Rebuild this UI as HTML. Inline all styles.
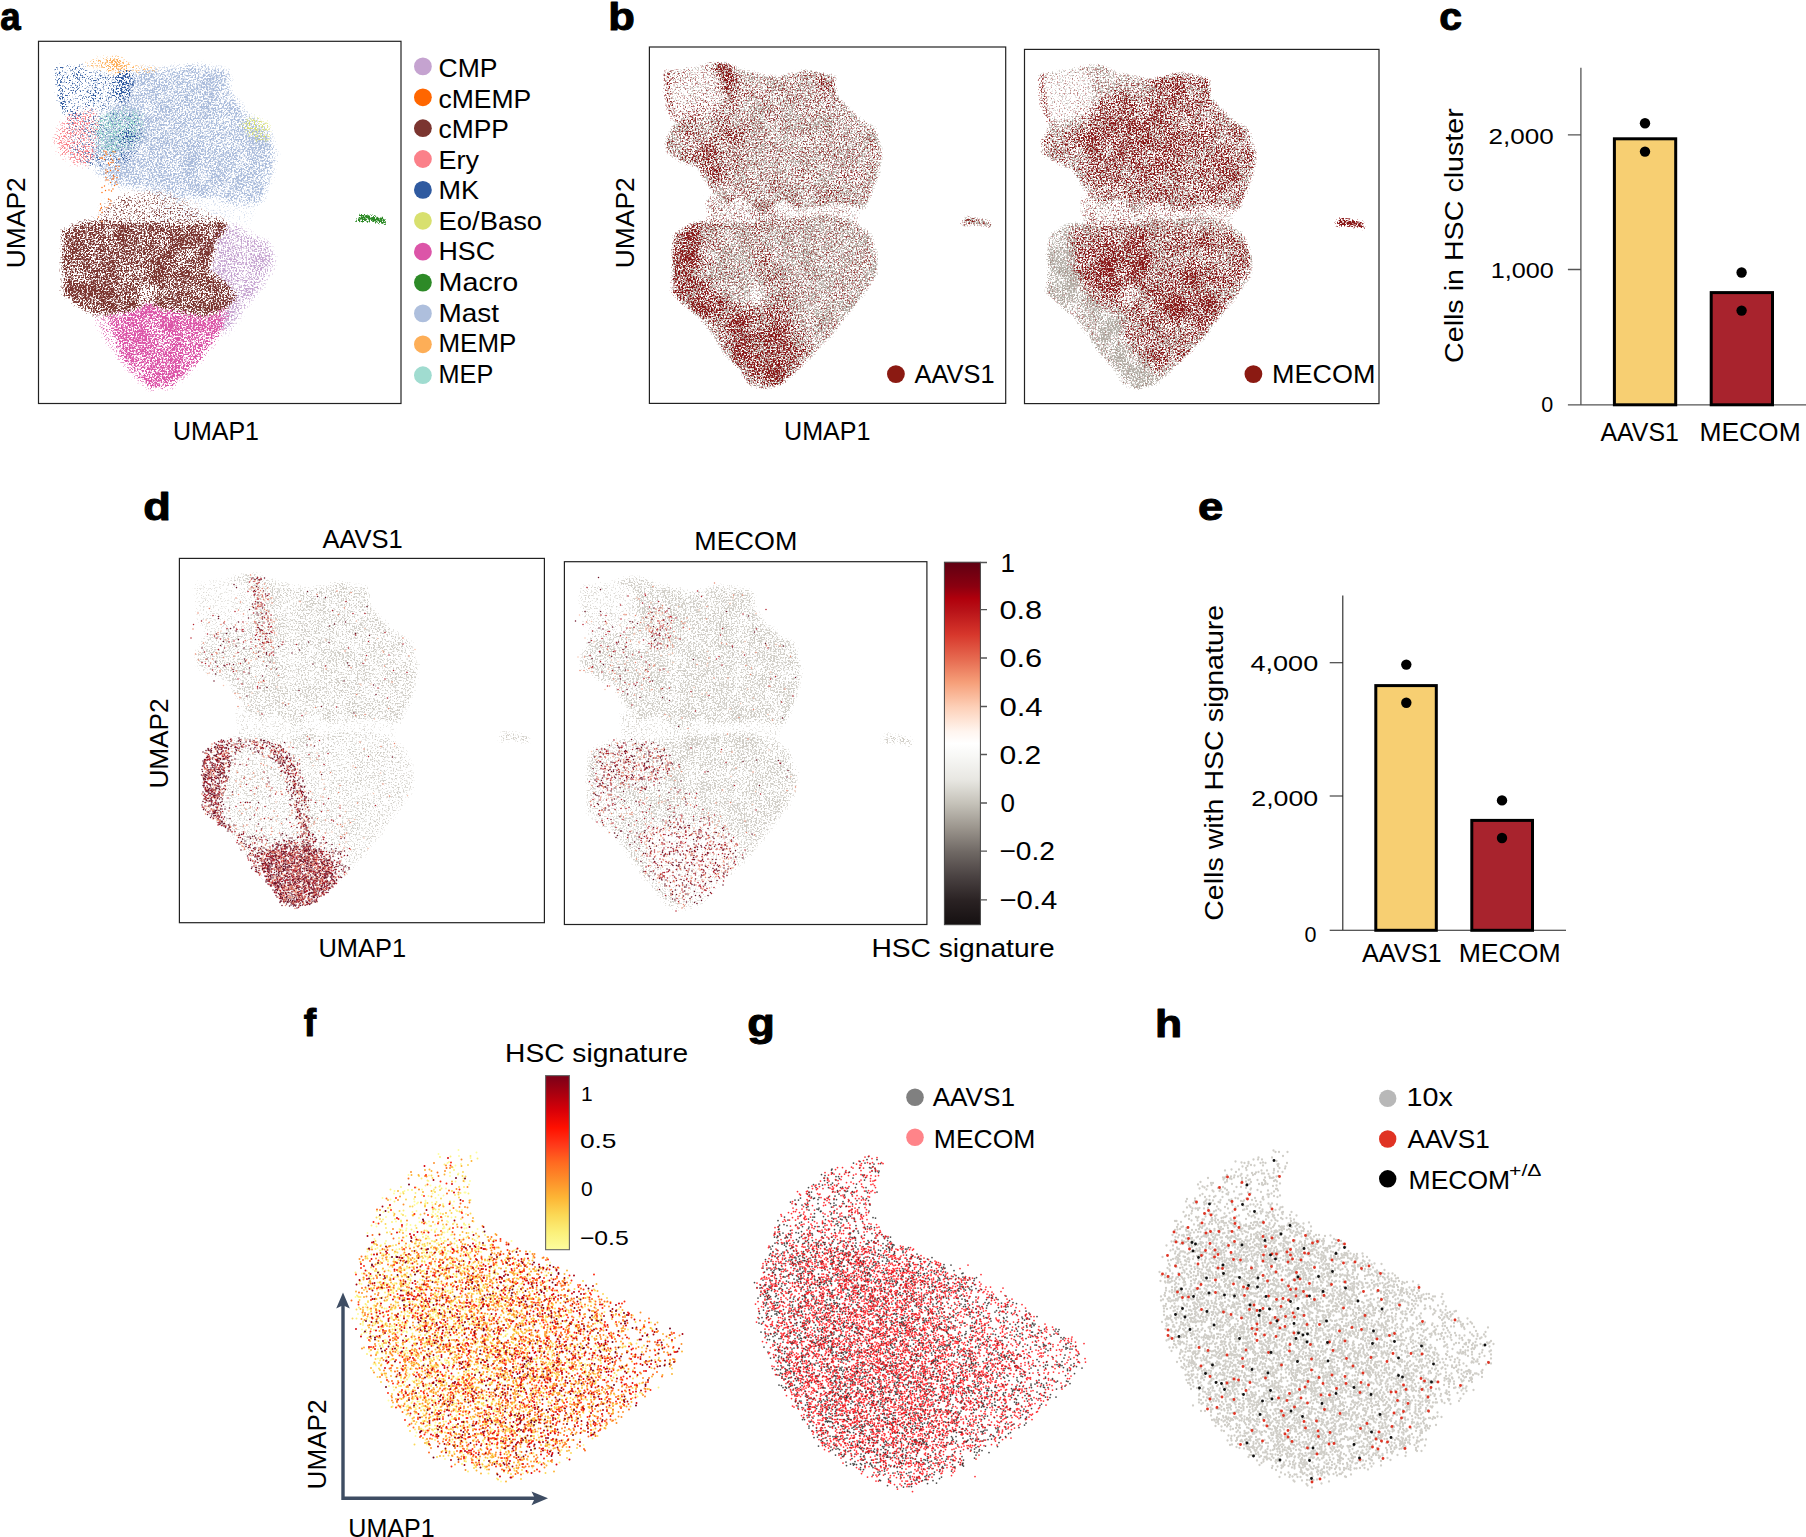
<!DOCTYPE html>
<html><head><meta charset="utf-8"><title>Figure</title>
<style>html,body{margin:0;padding:0;background:#fff}svg{display:block}text{font-family:"Liberation Sans",sans-serif;fill:#000}</style>
</head><body>
<svg width="1806" height="1537" viewBox="0 0 1806 1537">
<defs>
<linearGradient id="cb1" x1="0" y1="0" x2="0" y2="1"><stop offset="0.000" stop-color="#5f0012"/><stop offset="0.067" stop-color="#8b0010"/><stop offset="0.100" stop-color="#b0000c"/><stop offset="0.133" stop-color="#b81218"/><stop offset="0.200" stop-color="#d7372c"/><stop offset="0.267" stop-color="#e66a50"/><stop offset="0.333" stop-color="#f6a07a"/><stop offset="0.400" stop-color="#fdd0b8"/><stop offset="0.467" stop-color="#fff5ef"/><stop offset="0.500" stop-color="#ffffff"/><stop offset="0.533" stop-color="#f8f8f6"/><stop offset="0.600" stop-color="#e8e7e2"/><stop offset="0.667" stop-color="#c4c1b8"/><stop offset="0.733" stop-color="#9b958d"/><stop offset="0.800" stop-color="#6f6864"/><stop offset="0.867" stop-color="#4a4242"/><stop offset="0.933" stop-color="#2a2223"/><stop offset="1.000" stop-color="#151011"/></linearGradient>
<linearGradient id="cb2" x1="0" y1="0" x2="0" y2="1"><stop offset="0.000" stop-color="#7a0018"/><stop offset="0.100" stop-color="#a8000f"/><stop offset="0.200" stop-color="#d80008"/><stop offset="0.300" stop-color="#ff1000"/><stop offset="0.400" stop-color="#ff3a1a"/><stop offset="0.500" stop-color="#ff6a20"/><stop offset="0.600" stop-color="#fd8f2a"/><stop offset="0.700" stop-color="#fdb535"/><stop offset="0.800" stop-color="#fbd855"/><stop offset="0.900" stop-color="#fbf07a"/><stop offset="1.000" stop-color="#fdfd9e"/></linearGradient>
<filter id="bl2" x="-60%" y="-60%" width="220%" height="220%"><feGaussianBlur stdDeviation="2"/></filter><filter id="bl3" x="-60%" y="-60%" width="220%" height="220%"><feGaussianBlur stdDeviation="3"/></filter><filter id="bl4" x="-60%" y="-60%" width="220%" height="220%"><feGaussianBlur stdDeviation="4"/></filter><filter id="bl5" x="-60%" y="-60%" width="220%" height="220%"><feGaussianBlur stdDeviation="5"/></filter><filter id="bl6" x="-60%" y="-60%" width="220%" height="220%"><feGaussianBlur stdDeviation="6"/></filter><filter id="bl7" x="-60%" y="-60%" width="220%" height="220%"><feGaussianBlur stdDeviation="7"/></filter><filter id="bl8" x="-60%" y="-60%" width="220%" height="220%"><feGaussianBlur stdDeviation="8"/></filter>
<clipPath id="cl_a"><path d="M53.8 66.4L87.5 62.0L102.2 57.6L116.8 57.6L128.5 63.4L146.1 67.8L168.1 72.2L197.4 64.9L226.7 70.8L228.1 89.8L241.3 104.4L254.5 116.1L267.7 123.4L275.0 149.8L270.6 173.2L261.8 195.1L257.4 205.4L234.0 199.5L212.0 202.4L190.1 206.8L175.4 196.6L153.4 209.8L131.5 195.1L116.8 199.5L105.1 192.2L93.4 174.6L87.5 162.9L72.9 158.6L56.8 148.3L55.3 136.6L62.6 122.0L65.6 116.1L58.2 104.4L55.3 92.7L54.6 78.1Z"/><path d="M64.1 231.9L80.2 221.7L90.5 218.7L116.8 221.7L146.1 220.9L175.4 215.8L219.4 212.2L245.7 218.7L263.3 231.9L270.6 255.3L269.2 272.9L257.4 290.4L241.3 310.9L222.3 335.8L204.7 353.3L190.1 368.0L172.5 384.1L153.4 388.5L140.3 384.1L131.5 369.4L116.8 354.8L105.1 335.8L90.5 316.8L72.9 302.1L61.2 290.4L62.6 269.9L61.9 248.0Z"/><path d="M97.8 218.7L94.8 190.9L160.8 202.6L176.9 217.1L160.8 228.8L99.2 224.4Z"/><path d="M157.8 190.9L257.4 193.9L248.6 226.1L219.4 218.7L157.8 221.7Z"/><path d="M355.8 222.1L360.5 214.4L372.1 216.3L383.7 218.1L386.5 224.4L376.7 222.3L365.1 220.9Z"/></clipPath><clipPath id="cl_b1"><path d="M664.5 71.7L697.6 67.4L712.0 63.0L726.4 63.0L737.9 68.8L755.2 73.1L776.8 77.4L805.6 70.2L834.4 76.0L835.8 94.7L848.8 109.1L861.7 120.6L874.7 127.8L881.9 153.7L877.5 176.8L868.9 198.4L864.6 208.4L841.6 202.7L820.0 205.6L798.4 209.9L784.0 199.8L762.4 212.8L740.8 198.4L726.4 202.7L714.9 195.5L703.3 178.2L697.6 166.7L683.2 162.4L667.4 152.3L665.9 140.8L673.1 126.4L676.0 120.6L668.8 109.1L665.9 97.6L665.2 83.2Z"/><path d="M674.6 234.6L690.4 224.5L700.5 221.6L726.4 224.5L755.2 223.8L784.0 218.7L827.2 215.1L853.1 221.6L870.3 234.6L877.5 257.6L876.1 274.9L864.6 292.1L848.8 312.3L830.0 336.8L812.8 354.0L798.4 368.4L781.1 384.3L762.4 388.6L749.4 384.3L740.8 369.9L726.4 355.5L714.9 336.8L700.5 318.1L683.2 303.7L671.7 292.1L673.1 272.0L672.4 250.4Z"/><path d="M707.7 221.6L704.8 194.2L769.6 205.8L785.4 220.0L769.6 231.5L709.1 227.2Z"/><path d="M766.7 194.2L864.6 197.1L856.0 228.8L827.2 221.6L766.7 224.5Z"/><path d="M961.3 224.9L965.9 217.3L977.3 219.2L988.7 221.0L991.5 227.2L981.9 225.1L970.4 223.8Z"/></clipPath><clipPath id="cl_b2"><path d="M1039.5 73.9L1072.4 69.6L1086.8 65.3L1101.1 65.3L1112.6 71.1L1129.7 75.4L1151.2 79.6L1179.9 72.5L1208.5 78.2L1210.0 96.8L1222.8 111.1L1235.7 122.6L1248.6 129.7L1255.8 155.5L1251.5 178.4L1242.9 199.8L1238.6 209.8L1215.7 204.1L1194.2 207.0L1172.7 211.3L1158.4 201.3L1136.9 214.1L1115.4 199.8L1101.1 204.1L1089.6 197.0L1078.2 179.8L1072.4 168.4L1058.1 164.1L1042.4 154.0L1040.9 142.6L1048.1 128.3L1051.0 122.6L1043.8 111.1L1040.9 99.7L1040.2 85.4Z"/><path d="M1049.5 235.8L1065.3 225.8L1075.3 222.9L1101.1 225.8L1129.7 225.1L1158.4 220.1L1201.4 216.5L1227.1 222.9L1244.3 235.8L1251.5 258.7L1250.1 275.9L1238.6 293.0L1222.8 313.1L1204.2 337.4L1187.0 354.6L1172.7 368.9L1155.5 384.6L1136.9 388.9L1124.0 384.6L1115.4 370.3L1101.1 356.0L1089.6 337.4L1075.3 318.8L1058.1 304.5L1046.7 293.0L1048.1 273.0L1047.4 251.5Z"/><path d="M1082.5 222.9L1079.6 195.7L1144.1 207.2L1159.8 221.3L1144.1 232.8L1083.9 228.5Z"/><path d="M1141.2 195.7L1238.6 198.6L1230.0 230.1L1201.4 222.9L1141.2 225.8Z"/><path d="M1334.8 226.2L1339.4 218.7L1350.7 220.5L1362.1 222.3L1364.8 228.5L1355.3 226.4L1343.9 225.1Z"/></clipPath><clipPath id="cl_d1"><path d="M194.8 583.6L228.8 579.2L243.5 574.8L258.3 574.8L270.1 580.7L287.8 585.1L309.9 589.5L339.4 582.1L368.9 588.0L370.3 607.2L383.6 621.9L396.9 633.7L410.2 641.0L417.5 667.5L413.1 691.0L404.3 713.1L399.8 723.4L376.2 717.5L354.1 720.5L332.0 724.9L317.3 714.6L295.1 727.8L273.0 713.1L258.3 717.5L246.5 710.2L234.7 692.5L228.8 680.7L214.0 676.3L197.8 666.0L196.3 654.3L203.7 639.5L206.6 633.7L199.3 621.9L196.3 610.1L195.6 595.4Z"/><path d="M205.2 750.1L221.4 739.8L231.7 736.9L258.3 739.8L287.8 739.1L317.3 733.9L361.5 730.2L388.0 736.9L405.7 750.1L413.1 773.7L411.6 791.3L399.8 809.0L383.6 829.6L364.4 854.6L346.8 872.3L332.0 887.0L314.3 903.2L295.1 907.6L281.9 903.2L273.0 888.4L258.3 873.7L246.5 854.6L231.7 835.5L214.0 820.7L202.2 809.0L203.7 788.4L203.0 766.3Z"/><path d="M239.1 736.9L236.1 708.9L302.5 720.7L318.7 735.2L302.5 747.0L240.6 742.6Z"/><path d="M299.6 708.9L399.8 711.8L391.0 744.2L361.5 736.9L299.6 739.8Z"/><path d="M498.9 740.2L503.6 732.5L515.3 734.4L527.0 736.3L529.8 742.6L520.0 740.5L508.3 739.1Z"/></clipPath><clipPath id="cl_d2"><path d="M579.7 586.8L613.4 582.4L628.1 578.0L642.7 578.0L654.4 583.9L672.0 588.3L694.0 592.7L723.3 585.4L752.6 591.2L754.0 610.3L767.2 624.9L780.4 636.6L793.6 644.0L800.9 670.4L796.5 693.8L787.7 715.8L783.3 726.0L759.9 720.2L737.9 723.1L716.0 727.5L701.3 717.2L679.3 730.4L657.4 715.8L642.7 720.2L631.0 712.9L619.3 695.3L613.4 683.5L598.8 679.1L582.7 668.9L581.2 657.2L588.5 642.5L591.5 636.6L584.1 624.9L581.2 613.2L580.5 598.5Z"/><path d="M590.0 752.6L606.1 742.4L616.4 739.4L642.7 742.4L672.0 741.6L701.3 736.5L745.3 732.8L771.6 739.4L789.2 752.6L796.5 776.1L795.1 793.7L783.3 811.2L767.2 831.8L748.2 856.7L730.6 874.3L716.0 888.9L698.4 905.0L679.3 909.4L666.2 905.0L657.4 890.4L642.7 875.7L631.0 856.7L616.4 837.6L598.8 823.0L587.1 811.2L588.5 790.7L587.8 768.7Z"/><path d="M623.7 739.4L620.7 711.6L686.7 723.3L702.8 737.8L686.7 749.5L625.1 745.1Z"/><path d="M683.7 711.6L783.3 714.5L774.5 746.8L745.3 739.4L683.7 742.4Z"/><path d="M881.7 742.8L886.4 735.1L898.0 737.0L909.6 738.8L912.4 745.1L902.6 743.0L891.0 741.6Z"/></clipPath>
<filter id="f1" filterUnits="userSpaceOnUse" x="39.5" y="42.3" width="360.5" height="360.2" color-interpolation-filters="sRGB"><feGaussianBlur in="SourceGraphic" stdDeviation="3"/><feColorMatrix type="matrix" values="0 0 0 0 0 0 0 0 0 0 0 0 0 0 0 1 0 0 0 0" result="d"/><feTurbulence type="fractalNoise" baseFrequency="0.06" numOctaves="2" seed="51"/><feColorMatrix type="matrix" values="0 0 0 0 0 0 0 0 0 0 0 0 0 0 0 1 0 0 0 0" result="c"/><feComposite in="d" in2="c" operator="arithmetic" k1="1.2" k2="0.4" k3="0" k4="0"/><feComponentTransfer result="d2"><feFuncA type="table" tableValues="0.000 0.215 0.304 0.373 0.430 0.481 0.527 0.569 0.611 0.653 0.694 0.736 0.778 0.819 0.861 0.903 0.944 0.986 1.000 1.000 1.000 1.000 1.000 1.000 1.000"/></feComponentTransfer><feTurbulence type="fractalNoise" baseFrequency="0.61" numOctaves="2" seed="1"/><feColorMatrix type="matrix" values="0 0 0 0 0 0 0 0 0 0 0 0 0 0 0 1 0 0 0 0"/><feComponentTransfer result="n"><feFuncA type="table" tableValues="0 0.001 0.01 0.062 0.22 0.5 0.78 0.938 0.99 0.999 1"/></feComponentTransfer><feComposite in="d2" in2="n" operator="arithmetic" k1="0" k2="1" k3="1" k4="-1"/><feComponentTransfer result="m"><feFuncA type="linear" slope="1.8" intercept="0"/></feComponentTransfer><feFlood flood-color="#a9bbdb"/><feComposite operator="in" in2="m"/></filter>
<filter id="f2" filterUnits="userSpaceOnUse" x="39.5" y="42.3" width="360.5" height="360.2" color-interpolation-filters="sRGB"><feGaussianBlur in="SourceGraphic" stdDeviation="2.4"/><feColorMatrix type="matrix" values="0 0 0 0 0 0 0 0 0 0 0 0 0 0 0 1 0 0 0 0" result="d"/><feTurbulence type="fractalNoise" baseFrequency="0.06" numOctaves="2" seed="52"/><feColorMatrix type="matrix" values="0 0 0 0 0 0 0 0 0 0 0 0 0 0 0 1 0 0 0 0" result="c"/><feComposite in="d" in2="c" operator="arithmetic" k1="1.2" k2="0.4" k3="0" k4="0"/><feComponentTransfer result="d2"><feFuncA type="table" tableValues="0.000 0.190 0.269 0.330 0.381 0.426 0.467 0.509 0.551 0.592 0.634 0.676 0.717 0.759 0.801 0.842 0.884 0.926 0.967 1.000 1.000 1.000 1.000 1.000 1.000"/></feComponentTransfer><feTurbulence type="fractalNoise" baseFrequency="0.61" numOctaves="2" seed="2"/><feColorMatrix type="matrix" values="0 0 0 0 0 0 0 0 0 0 0 0 0 0 0 1 0 0 0 0"/><feComponentTransfer result="n"><feFuncA type="table" tableValues="0 0.001 0.01 0.062 0.22 0.5 0.78 0.938 0.99 0.999 1"/></feComponentTransfer><feComposite in="d2" in2="n" operator="arithmetic" k1="0" k2="1" k3="1" k4="-1"/><feComponentTransfer result="m"><feFuncA type="linear" slope="2.3" intercept="0"/></feComponentTransfer><feFlood flood-color="#dc55a8"/><feComposite operator="in" in2="m"/></filter>
<filter id="f3" filterUnits="userSpaceOnUse" x="39.5" y="42.3" width="360.5" height="360.2" color-interpolation-filters="sRGB"><feGaussianBlur in="SourceGraphic" stdDeviation="3.2"/><feColorMatrix type="matrix" values="0 0 0 0 0 0 0 0 0 0 0 0 0 0 0 1 0 0 0 0" result="d"/><feTurbulence type="fractalNoise" baseFrequency="0.06" numOctaves="2" seed="53"/><feColorMatrix type="matrix" values="0 0 0 0 0 0 0 0 0 0 0 0 0 0 0 1 0 0 0 0" result="c"/><feComposite in="d" in2="c" operator="arithmetic" k1="1.2" k2="0.4" k3="0" k4="0"/><feComponentTransfer result="d2"><feFuncA type="table" tableValues="0.000 0.204 0.289 0.354 0.408 0.456 0.500 0.542 0.583 0.625 0.667 0.708 0.750 0.792 0.833 0.875 0.917 0.958 1.000 1.000 1.000 1.000 1.000 1.000 1.000"/></feComponentTransfer><feTurbulence type="fractalNoise" baseFrequency="0.61" numOctaves="2" seed="3"/><feColorMatrix type="matrix" values="0 0 0 0 0 0 0 0 0 0 0 0 0 0 0 1 0 0 0 0"/><feComponentTransfer result="n"><feFuncA type="table" tableValues="0 0.001 0.01 0.062 0.22 0.5 0.78 0.938 0.99 0.999 1"/></feComponentTransfer><feComposite in="d2" in2="n" operator="arithmetic" k1="0" k2="1" k3="1" k4="-1"/><feComponentTransfer result="m"><feFuncA type="linear" slope="2.0" intercept="0"/></feComponentTransfer><feFlood flood-color="#c5a3d0"/><feComposite operator="in" in2="m"/></filter>
<filter id="f4" filterUnits="userSpaceOnUse" x="39.5" y="42.3" width="360.5" height="360.2" color-interpolation-filters="sRGB"><feGaussianBlur in="SourceGraphic" stdDeviation="2.2"/><feColorMatrix type="matrix" values="0 0 0 0 0 0 0 0 0 0 0 0 0 0 0 1 0 0 0 0" result="d"/><feTurbulence type="fractalNoise" baseFrequency="0.06" numOctaves="2" seed="54"/><feColorMatrix type="matrix" values="0 0 0 0 0 0 0 0 0 0 0 0 0 0 0 1 0 0 0 0" result="c"/><feComposite in="d" in2="c" operator="arithmetic" k1="1.2" k2="0.4" k3="0" k4="0"/><feComponentTransfer result="d2"><feFuncA type="table" tableValues="0.000 0.190 0.269 0.330 0.381 0.426 0.467 0.509 0.551 0.592 0.634 0.676 0.717 0.759 0.801 0.842 0.884 0.926 0.967 1.000 1.000 1.000 1.000 1.000 1.000"/></feComponentTransfer><feTurbulence type="fractalNoise" baseFrequency="0.61" numOctaves="2" seed="4"/><feColorMatrix type="matrix" values="0 0 0 0 0 0 0 0 0 0 0 0 0 0 0 1 0 0 0 0"/><feComponentTransfer result="n"><feFuncA type="table" tableValues="0 0.001 0.01 0.062 0.22 0.5 0.78 0.938 0.99 0.999 1"/></feComponentTransfer><feComposite in="d2" in2="n" operator="arithmetic" k1="0" k2="1" k3="1" k4="-1"/><feComponentTransfer result="m"><feFuncA type="linear" slope="2.3" intercept="0"/></feComponentTransfer><feFlood flood-color="#7b3530"/><feComposite operator="in" in2="m"/></filter>
<filter id="f5" filterUnits="userSpaceOnUse" x="39.5" y="42.3" width="360.5" height="360.2" color-interpolation-filters="sRGB"><feGaussianBlur in="SourceGraphic" stdDeviation="3"/><feColorMatrix type="matrix" values="0 0 0 0 0 0 0 0 0 0 0 0 0 0 0 1 0 0 0 0" result="d"/><feTurbulence type="fractalNoise" baseFrequency="0.06" numOctaves="2" seed="55"/><feColorMatrix type="matrix" values="0 0 0 0 0 0 0 0 0 0 0 0 0 0 0 1 0 0 0 0" result="c"/><feComposite in="d" in2="c" operator="arithmetic" k1="1.2" k2="0.4" k3="0" k4="0"/><feComponentTransfer result="d2"><feFuncA type="table" tableValues="0.000 0.179 0.253 0.310 0.358 0.401 0.442 0.484 0.526 0.567 0.609 0.651 0.692 0.734 0.776 0.817 0.859 0.901 0.942 0.984 1.000 1.000 1.000 1.000 1.000"/></feComponentTransfer><feTurbulence type="fractalNoise" baseFrequency="0.61" numOctaves="2" seed="5"/><feColorMatrix type="matrix" values="0 0 0 0 0 0 0 0 0 0 0 0 0 0 0 1 0 0 0 0"/><feComponentTransfer result="n"><feFuncA type="table" tableValues="0 0.001 0.01 0.062 0.22 0.5 0.78 0.938 0.99 0.999 1"/></feComponentTransfer><feComposite in="d2" in2="n" operator="arithmetic" k1="0" k2="1" k3="1" k4="-1"/><feComponentTransfer result="m"><feFuncA type="linear" slope="2.6" intercept="0"/></feComponentTransfer><feFlood flood-color="#fb8089"/><feComposite operator="in" in2="m"/></filter>
<filter id="f6" filterUnits="userSpaceOnUse" x="39.5" y="42.3" width="360.5" height="360.2" color-interpolation-filters="sRGB"><feGaussianBlur in="SourceGraphic" stdDeviation="3.5"/><feColorMatrix type="matrix" values="0 0 0 0 0 0 0 0 0 0 0 0 0 0 0 1 0 0 0 0" result="d"/><feTurbulence type="fractalNoise" baseFrequency="0.06" numOctaves="2" seed="56"/><feColorMatrix type="matrix" values="0 0 0 0 0 0 0 0 0 0 0 0 0 0 0 1 0 0 0 0" result="c"/><feComposite in="d" in2="c" operator="arithmetic" k1="1.2" k2="0.4" k3="0" k4="0"/><feComponentTransfer result="d2"><feFuncA type="table" tableValues="0.000 0.179 0.253 0.310 0.358 0.401 0.442 0.484 0.526 0.567 0.609 0.651 0.692 0.734 0.776 0.817 0.859 0.901 0.942 0.984 1.000 1.000 1.000 1.000 1.000"/></feComponentTransfer><feTurbulence type="fractalNoise" baseFrequency="0.61" numOctaves="2" seed="6"/><feColorMatrix type="matrix" values="0 0 0 0 0 0 0 0 0 0 0 0 0 0 0 1 0 0 0 0"/><feComponentTransfer result="n"><feFuncA type="table" tableValues="0 0.001 0.01 0.062 0.22 0.5 0.78 0.938 0.99 0.999 1"/></feComponentTransfer><feComposite in="d2" in2="n" operator="arithmetic" k1="0" k2="1" k3="1" k4="-1"/><feComponentTransfer result="m"><feFuncA type="linear" slope="2.6" intercept="0"/></feComponentTransfer><feFlood flood-color="#a0dcd0"/><feComposite operator="in" in2="m"/></filter>
<filter id="f7" filterUnits="userSpaceOnUse" x="39.5" y="42.3" width="360.5" height="360.2" color-interpolation-filters="sRGB"><feGaussianBlur in="SourceGraphic" stdDeviation="1.4"/><feColorMatrix type="matrix" values="0 0 0 0 0 0 0 0 0 0 0 0 0 0 0 1 0 0 0 0" result="d"/><feTurbulence type="fractalNoise" baseFrequency="0.06" numOctaves="2" seed="57"/><feColorMatrix type="matrix" values="0 0 0 0 0 0 0 0 0 0 0 0 0 0 0 1 0 0 0 0" result="c"/><feComposite in="d" in2="c" operator="arithmetic" k1="1.8" k2="0.09999999999999998" k3="0" k4="0"/><feComponentTransfer result="d2"><feFuncA type="table" tableValues="0.000 0.161 0.228 0.280 0.323 0.365 0.406 0.448 0.490 0.531 0.573 0.615 0.656 0.698 0.740 0.781 0.823 0.865 0.906 0.948 0.990 1.000 1.000 1.000 1.000"/></feComponentTransfer><feTurbulence type="fractalNoise" baseFrequency="0.61" numOctaves="2" seed="7"/><feColorMatrix type="matrix" values="0 0 0 0 0 0 0 0 0 0 0 0 0 0 0 1 0 0 0 0"/><feComponentTransfer result="n"><feFuncA type="table" tableValues="0 0.001 0.01 0.062 0.22 0.5 0.78 0.938 0.99 0.999 1"/></feComponentTransfer><feComposite in="d2" in2="n" operator="arithmetic" k1="0" k2="1" k3="1" k4="-1"/><feComponentTransfer result="m"><feFuncA type="linear" slope="3.2" intercept="0"/></feComponentTransfer><feFlood flood-color="#2f5aa0"/><feComposite operator="in" in2="m"/></filter>
<filter id="f8" filterUnits="userSpaceOnUse" x="39.5" y="42.3" width="360.5" height="360.2" color-interpolation-filters="sRGB"><feGaussianBlur in="SourceGraphic" stdDeviation="2"/><feColorMatrix type="matrix" values="0 0 0 0 0 0 0 0 0 0 0 0 0 0 0 1 0 0 0 0" result="d"/><feTurbulence type="fractalNoise" baseFrequency="0.06" numOctaves="2" seed="58"/><feColorMatrix type="matrix" values="0 0 0 0 0 0 0 0 0 0 0 0 0 0 0 1 0 0 0 0" result="c"/><feComposite in="d" in2="c" operator="arithmetic" k1="1.2" k2="0.4" k3="0" k4="0"/><feComponentTransfer result="d2"><feFuncA type="table" tableValues="0.000 0.179 0.253 0.310 0.358 0.401 0.442 0.484 0.526 0.567 0.609 0.651 0.692 0.734 0.776 0.817 0.859 0.901 0.942 0.984 1.000 1.000 1.000 1.000 1.000"/></feComponentTransfer><feTurbulence type="fractalNoise" baseFrequency="0.61" numOctaves="2" seed="8"/><feColorMatrix type="matrix" values="0 0 0 0 0 0 0 0 0 0 0 0 0 0 0 1 0 0 0 0"/><feComponentTransfer result="n"><feFuncA type="table" tableValues="0 0.001 0.01 0.062 0.22 0.5 0.78 0.938 0.99 0.999 1"/></feComponentTransfer><feComposite in="d2" in2="n" operator="arithmetic" k1="0" k2="1" k3="1" k4="-1"/><feComponentTransfer result="m"><feFuncA type="linear" slope="2.6" intercept="0"/></feComponentTransfer><feFlood flood-color="#fdae57"/><feComposite operator="in" in2="m"/></filter>
<filter id="f9" filterUnits="userSpaceOnUse" x="39.5" y="42.3" width="360.5" height="360.2" color-interpolation-filters="sRGB"><feGaussianBlur in="SourceGraphic" stdDeviation="2"/><feColorMatrix type="matrix" values="0 0 0 0 0 0 0 0 0 0 0 0 0 0 0 1 0 0 0 0" result="d"/><feTurbulence type="fractalNoise" baseFrequency="0.06" numOctaves="2" seed="59"/><feColorMatrix type="matrix" values="0 0 0 0 0 0 0 0 0 0 0 0 0 0 0 1 0 0 0 0" result="c"/><feComposite in="d" in2="c" operator="arithmetic" k1="1.2" k2="0.4" k3="0" k4="0"/><feComponentTransfer result="d2"><feFuncA type="table" tableValues="0.000 0.179 0.253 0.310 0.358 0.401 0.442 0.484 0.526 0.567 0.609 0.651 0.692 0.734 0.776 0.817 0.859 0.901 0.942 0.984 1.000 1.000 1.000 1.000 1.000"/></feComponentTransfer><feTurbulence type="fractalNoise" baseFrequency="0.61" numOctaves="2" seed="9"/><feColorMatrix type="matrix" values="0 0 0 0 0 0 0 0 0 0 0 0 0 0 0 1 0 0 0 0"/><feComponentTransfer result="n"><feFuncA type="table" tableValues="0 0.001 0.01 0.062 0.22 0.5 0.78 0.938 0.99 0.999 1"/></feComponentTransfer><feComposite in="d2" in2="n" operator="arithmetic" k1="0" k2="1" k3="1" k4="-1"/><feComponentTransfer result="m"><feFuncA type="linear" slope="2.6" intercept="0"/></feComponentTransfer><feFlood flood-color="#d8e06f"/><feComposite operator="in" in2="m"/></filter>
<filter id="f10" filterUnits="userSpaceOnUse" x="39.5" y="42.3" width="360.5" height="360.2" color-interpolation-filters="sRGB"><feGaussianBlur in="SourceGraphic" stdDeviation="0.8"/><feColorMatrix type="matrix" values="0 0 0 0 0 0 0 0 0 0 0 0 0 0 0 1 0 0 0 0" result="d"/><feTurbulence type="fractalNoise" baseFrequency="0.06" numOctaves="2" seed="60"/><feColorMatrix type="matrix" values="0 0 0 0 0 0 0 0 0 0 0 0 0 0 0 1 0 0 0 0" result="c"/><feComposite in="d" in2="c" operator="arithmetic" k1="0" k2="1" k3="0" k4="0"/><feComponentTransfer result="d2"><feFuncA type="table" tableValues="0.000 0.167 0.236 0.289 0.333 0.375 0.417 0.458 0.500 0.542 0.583 0.625 0.667 0.708 0.750 0.792 0.833 0.875 0.917 0.958 1.000 1.000 1.000 1.000 1.000"/></feComponentTransfer><feTurbulence type="fractalNoise" baseFrequency="0.61" numOctaves="2" seed="10"/><feColorMatrix type="matrix" values="0 0 0 0 0 0 0 0 0 0 0 0 0 0 0 1 0 0 0 0"/><feComponentTransfer result="n"><feFuncA type="table" tableValues="0 0.001 0.01 0.062 0.22 0.5 0.78 0.938 0.99 0.999 1"/></feComponentTransfer><feComposite in="d2" in2="n" operator="arithmetic" k1="0" k2="1" k3="1" k4="-1"/><feComponentTransfer result="m"><feFuncA type="linear" slope="3" intercept="0"/></feComponentTransfer><feFlood flood-color="#2d8a27"/><feComposite operator="in" in2="m"/></filter>

<filter id="f11" filterUnits="userSpaceOnUse" x="650.4" y="48" width="354.3" height="354.4" color-interpolation-filters="sRGB"><feGaussianBlur in="SourceGraphic" stdDeviation="1.6"/><feColorMatrix type="matrix" values="0 0 0 0 0 0 0 0 0 0 0 0 0 0 0 1 0 0 0 0" result="d"/><feTurbulence type="fractalNoise" baseFrequency="0.06" numOctaves="2" seed="61"/><feColorMatrix type="matrix" values="0 0 0 0 0 0 0 0 0 0 0 0 0 0 0 1 0 0 0 0" result="c"/><feComposite in="d" in2="c" operator="arithmetic" k1="1.4" k2="0.30000000000000004" k3="0" k4="0"/><feComponentTransfer result="d2"><feFuncA type="table" tableValues="0.000 0.195 0.275 0.337 0.389 0.435 0.477 0.519 0.561 0.602 0.644 0.686 0.727 0.769 0.811 0.852 0.894 0.936 0.977 1.000 1.000 1.000 1.000 1.000 1.000"/></feComponentTransfer><feTurbulence type="fractalNoise" baseFrequency="0.61" numOctaves="2" seed="11"/><feColorMatrix type="matrix" values="0 0 0 0 0 0 0 0 0 0 0 0 0 0 0 1 0 0 0 0"/><feComponentTransfer result="n"><feFuncA type="table" tableValues="0 0.001 0.01 0.062 0.22 0.5 0.78 0.938 0.99 0.999 1"/></feComponentTransfer><feComposite in="d2" in2="n" operator="arithmetic" k1="0" k2="1" k3="1" k4="-1"/><feComponentTransfer result="m"><feFuncA type="linear" slope="2.2" intercept="0"/></feComponentTransfer><feFlood flood-color="#b4afa7"/><feComposite operator="in" in2="m"/></filter>
<filter id="f12" filterUnits="userSpaceOnUse" x="650.4" y="48" width="354.3" height="354.4" color-interpolation-filters="sRGB"><feGaussianBlur in="SourceGraphic" stdDeviation="1.6"/><feColorMatrix type="matrix" values="0 0 0 0 0 0 0 0 0 0 0 0 0 0 0 1 0 0 0 0" result="d"/><feTurbulence type="fractalNoise" baseFrequency="0.06" numOctaves="2" seed="62"/><feColorMatrix type="matrix" values="0 0 0 0 0 0 0 0 0 0 0 0 0 0 0 1 0 0 0 0" result="c"/><feComposite in="d" in2="c" operator="arithmetic" k1="1.4" k2="0.30000000000000004" k3="0" k4="0"/><feComponentTransfer result="d2"><feFuncA type="table" tableValues="0.000 0.195 0.275 0.337 0.389 0.435 0.477 0.519 0.561 0.602 0.644 0.686 0.727 0.769 0.811 0.852 0.894 0.936 0.977 1.000 1.000 1.000 1.000 1.000 1.000"/></feComponentTransfer><feTurbulence type="fractalNoise" baseFrequency="0.61" numOctaves="2" seed="12"/><feColorMatrix type="matrix" values="0 0 0 0 0 0 0 0 0 0 0 0 0 0 0 1 0 0 0 0"/><feComponentTransfer result="n"><feFuncA type="table" tableValues="0 0.001 0.01 0.062 0.22 0.5 0.78 0.938 0.99 0.999 1"/></feComponentTransfer><feComposite in="d2" in2="n" operator="arithmetic" k1="0" k2="1" k3="1" k4="-1"/><feComponentTransfer result="m"><feFuncA type="linear" slope="2.2" intercept="0"/></feComponentTransfer><feFlood flood-color="#8a1818"/><feComposite operator="in" in2="m"/></filter>
<filter id="f13" filterUnits="userSpaceOnUse" x="1025.5" y="50.4" width="352.5" height="352.2" color-interpolation-filters="sRGB"><feGaussianBlur in="SourceGraphic" stdDeviation="1.6"/><feColorMatrix type="matrix" values="0 0 0 0 0 0 0 0 0 0 0 0 0 0 0 1 0 0 0 0" result="d"/><feTurbulence type="fractalNoise" baseFrequency="0.06" numOctaves="2" seed="63"/><feColorMatrix type="matrix" values="0 0 0 0 0 0 0 0 0 0 0 0 0 0 0 1 0 0 0 0" result="c"/><feComposite in="d" in2="c" operator="arithmetic" k1="1.4" k2="0.30000000000000004" k3="0" k4="0"/><feComponentTransfer result="d2"><feFuncA type="table" tableValues="0.000 0.195 0.275 0.337 0.389 0.435 0.477 0.519 0.561 0.602 0.644 0.686 0.727 0.769 0.811 0.852 0.894 0.936 0.977 1.000 1.000 1.000 1.000 1.000 1.000"/></feComponentTransfer><feTurbulence type="fractalNoise" baseFrequency="0.61" numOctaves="2" seed="13"/><feColorMatrix type="matrix" values="0 0 0 0 0 0 0 0 0 0 0 0 0 0 0 1 0 0 0 0"/><feComponentTransfer result="n"><feFuncA type="table" tableValues="0 0.001 0.01 0.062 0.22 0.5 0.78 0.938 0.99 0.999 1"/></feComponentTransfer><feComposite in="d2" in2="n" operator="arithmetic" k1="0" k2="1" k3="1" k4="-1"/><feComponentTransfer result="m"><feFuncA type="linear" slope="2.2" intercept="0"/></feComponentTransfer><feFlood flood-color="#b4afa7"/><feComposite operator="in" in2="m"/></filter>
<filter id="f14" filterUnits="userSpaceOnUse" x="1025.5" y="50.4" width="352.5" height="352.2" color-interpolation-filters="sRGB"><feGaussianBlur in="SourceGraphic" stdDeviation="1.6"/><feColorMatrix type="matrix" values="0 0 0 0 0 0 0 0 0 0 0 0 0 0 0 1 0 0 0 0" result="d"/><feTurbulence type="fractalNoise" baseFrequency="0.06" numOctaves="2" seed="64"/><feColorMatrix type="matrix" values="0 0 0 0 0 0 0 0 0 0 0 0 0 0 0 1 0 0 0 0" result="c"/><feComposite in="d" in2="c" operator="arithmetic" k1="1.4" k2="0.30000000000000004" k3="0" k4="0"/><feComponentTransfer result="d2"><feFuncA type="table" tableValues="0.000 0.195 0.275 0.337 0.389 0.435 0.477 0.519 0.561 0.602 0.644 0.686 0.727 0.769 0.811 0.852 0.894 0.936 0.977 1.000 1.000 1.000 1.000 1.000 1.000"/></feComponentTransfer><feTurbulence type="fractalNoise" baseFrequency="0.61" numOctaves="2" seed="14"/><feColorMatrix type="matrix" values="0 0 0 0 0 0 0 0 0 0 0 0 0 0 0 1 0 0 0 0"/><feComponentTransfer result="n"><feFuncA type="table" tableValues="0 0.001 0.01 0.062 0.22 0.5 0.78 0.938 0.99 0.999 1"/></feComponentTransfer><feComposite in="d2" in2="n" operator="arithmetic" k1="0" k2="1" k3="1" k4="-1"/><feComponentTransfer result="m"><feFuncA type="linear" slope="2.2" intercept="0"/></feComponentTransfer><feFlood flood-color="#8a1818"/><feComposite operator="in" in2="m"/></filter>
<filter id="f15" filterUnits="userSpaceOnUse" x="180.4" y="559.4" width="363" height="362.3" color-interpolation-filters="sRGB"><feGaussianBlur in="SourceGraphic" stdDeviation="2.0"/><feColorMatrix type="matrix" values="0 0 0 0 0 0 0 0 0 0 0 0 0 0 0 1 0 0 0 0" result="d"/><feTurbulence type="fractalNoise" baseFrequency="0.06" numOctaves="2" seed="65"/><feColorMatrix type="matrix" values="0 0 0 0 0 0 0 0 0 0 0 0 0 0 0 1 0 0 0 0" result="c"/><feComposite in="d" in2="c" operator="arithmetic" k1="1.4" k2="0.30000000000000004" k3="0" k4="0"/><feComponentTransfer result="d2"><feFuncA type="table" tableValues="0.000 0.179 0.253 0.310 0.358 0.401 0.442 0.484 0.526 0.567 0.609 0.651 0.692 0.734 0.776 0.817 0.859 0.901 0.942 0.984 1.000 1.000 1.000 1.000 1.000"/></feComponentTransfer><feTurbulence type="fractalNoise" baseFrequency="0.61" numOctaves="2" seed="15"/><feColorMatrix type="matrix" values="0 0 0 0 0 0 0 0 0 0 0 0 0 0 0 1 0 0 0 0"/><feComponentTransfer result="n"><feFuncA type="table" tableValues="0 0.001 0.01 0.062 0.22 0.5 0.78 0.938 0.99 0.999 1"/></feComponentTransfer><feComposite in="d2" in2="n" operator="arithmetic" k1="0" k2="1" k3="1" k4="-1"/><feComponentTransfer result="m"><feFuncA type="linear" slope="2.6" intercept="0"/></feComponentTransfer><feFlood flood-color="#d0cdc6"/><feComposite operator="in" in2="m"/></filter>




<filter id="f16" filterUnits="userSpaceOnUse" x="565.4" y="562.7" width="360.5" height="360.8" color-interpolation-filters="sRGB"><feGaussianBlur in="SourceGraphic" stdDeviation="2.0"/><feColorMatrix type="matrix" values="0 0 0 0 0 0 0 0 0 0 0 0 0 0 0 1 0 0 0 0" result="d"/><feTurbulence type="fractalNoise" baseFrequency="0.06" numOctaves="2" seed="66"/><feColorMatrix type="matrix" values="0 0 0 0 0 0 0 0 0 0 0 0 0 0 0 1 0 0 0 0" result="c"/><feComposite in="d" in2="c" operator="arithmetic" k1="1.4" k2="0.30000000000000004" k3="0" k4="0"/><feComponentTransfer result="d2"><feFuncA type="table" tableValues="0.000 0.179 0.253 0.310 0.358 0.401 0.442 0.484 0.526 0.567 0.609 0.651 0.692 0.734 0.776 0.817 0.859 0.901 0.942 0.984 1.000 1.000 1.000 1.000 1.000"/></feComponentTransfer><feTurbulence type="fractalNoise" baseFrequency="0.61" numOctaves="2" seed="16"/><feColorMatrix type="matrix" values="0 0 0 0 0 0 0 0 0 0 0 0 0 0 0 1 0 0 0 0"/><feComponentTransfer result="n"><feFuncA type="table" tableValues="0 0.001 0.01 0.062 0.22 0.5 0.78 0.938 0.99 0.999 1"/></feComponentTransfer><feComposite in="d2" in2="n" operator="arithmetic" k1="0" k2="1" k3="1" k4="-1"/><feComponentTransfer result="m"><feFuncA type="linear" slope="2.6" intercept="0"/></feComponentTransfer><feFlood flood-color="#d0cdc6"/><feComposite operator="in" in2="m"/></filter>


</defs>
<rect width="1806" height="1537" fill="#fff"/>


<g filter="url(#f1)"><rect x="19.5" y="22.299999999999997" width="400.5" height="400.2" fill="#000"/><path d="M139.5 69.8L162.8 69.8L197.7 65.6L227.9 70.9L229.1 93.0L237.2 102.3L246.5 116.3L267.4 130.2L275.6 151.2L269.8 176.7L260.5 202.3L232.6 202.3L209.3 195.3L176.7 197.7L144.2 188.4L116.3 186.0L97.7 172.1L93.0 153.5L97.7 144.2L100.0 120.9L109.3 109.3L120.9 102.3L130.2 76.7Z" fill="#fff" fill-opacity="0.5"/><path d="M93.0 69.8L116.3 74.4L120.9 102.3L109.3 111.6L93.0 109.3L88.4 88.4Z" fill="#fff" fill-opacity="0.12"/><path d="M157.8 190.9L257.4 193.9L248.6 226.1L219.4 218.7L157.8 221.7Z" fill="#fff" fill-opacity="0.08"/></g>
<g filter="url(#f2)"><rect x="19.5" y="22.299999999999997" width="400.5" height="400.2" fill="#000"/><path d="M109.3 315.1L130.2 311.6L148.8 302.3L162.8 309.3L204.7 316.3L223.3 309.3L230.2 311.6L220.9 330.2L209.3 348.8L190.7 369.8L172.1 386.0L151.2 388.8L139.5 379.1L130.2 366.3L120.9 351.2L115.1 337.2Z" fill="#fff" fill-opacity="0.62"/><path d="M91.9 315.8L110.5 314.4L116.3 339.5L130.2 366.3L139.5 380.2L133.7 376.7L120.9 360.5L105.8 341.9Z" fill="#fff" fill-opacity="0.2"/></g>
<g filter="url(#f3)"><rect x="19.5" y="22.299999999999997" width="400.5" height="400.2" fill="#000"/><path d="M214.0 230.2L232.6 225.6L251.2 234.9L267.4 241.9L273.3 260.5L267.4 276.7L255.8 293.0L241.9 309.3L232.6 325.6L223.3 334.9L220.9 316.3L232.6 297.7L230.2 288.4L209.3 269.8L216.3 241.9Z" fill="#fff" fill-opacity="0.43"/></g>
<g filter="url(#f4)"><rect x="19.5" y="22.299999999999997" width="400.5" height="400.2" fill="#000"/><path d="M62.8 230.2L88.4 219.8L111.6 222.1L139.5 223.3L186.0 224.4L220.9 219.8L227.9 225.6L216.3 241.9L209.3 269.8L232.6 288.4L237.2 297.7L223.3 309.3L204.7 316.3L162.8 309.3L148.8 302.3L130.2 311.6L111.6 314.0L93.0 314.0L76.7 304.7L62.8 293.0L62.8 260.5Z" fill="#fff" fill-opacity="0.6"/><g clip-path="url(#cl_a)"><path d="M100.0 223.3L102.3 207.0L120.9 195.3L162.8 193.0L176.7 200.0L209.3 214.0L220.9 219.8L186.0 224.4L139.5 223.3Z" fill="#fff" fill-opacity="0.22" filter="url(#bl3)"/></g><path d="M139.5 288.4L153.5 281.4L158.1 293.0L151.2 304.7L139.5 302.3Z" fill="#000" fill-opacity="0.4" filter="url(#bl2)"/></g>
<g filter="url(#f5)"><rect x="19.5" y="22.299999999999997" width="400.5" height="400.2" fill="#000"/><path d="M69.8 114.0L93.0 110.5L98.8 120.9L96.5 139.5L94.2 158.1L86.5 165.6L74.4 162.8L60.9 154.0L55.8 141.9L60.0 125.6Z" fill="#fff" fill-opacity="0.33"/></g>
<g filter="url(#f6)"><rect x="19.5" y="22.299999999999997" width="400.5" height="400.2" fill="#000"/><path d="M97.7 116.3L120.9 109.3L139.5 114.0L142.3 130.2L130.7 148.8L112.1 154.0L100.0 148.8L95.3 134.9Z" fill="#fff" fill-opacity="0.4"/></g>
<g filter="url(#f7)"><rect x="19.5" y="22.299999999999997" width="400.5" height="400.2" fill="#000"/><path d="M54.7 66.3L79.1 64.0L97.7 69.8L111.6 76.7L116.3 97.7L109.3 109.3L93.0 111.6L76.7 116.3L65.1 114.0L58.1 100.0L55.8 81.4Z" fill="#fff" fill-opacity="0.17"/><path d="M54.0 65.8L60.9 65.8L62.3 81.4L64.0 100.0L69.8 114.0L64.0 114.4L57.7 100.5L55.3 81.4Z" fill="#fff" fill-opacity="0.2"/><g clip-path="url(#cl_a)"><path d="M114.4 75.6L130.2 70.9L134.9 81.4L130.7 95.3L123.3 105.8L116.3 102.3L113.5 90.7Z" fill="#fff" fill-opacity="0.42" filter="url(#bl2)"/></g><path d="M67.4 116.3L139.5 111.6L144.2 139.5L130.2 162.8L88.4 167.4L69.8 153.5Z" fill="#fff" fill-opacity="0.13"/><g clip-path="url(#cl_a)"><path d="M119.8 131.4L134.9 129.1L137.7 140.0L125.6 142.3Z" fill="#fff" fill-opacity="0.25" filter="url(#bl2)"/></g></g>
<g filter="url(#f8)"><rect x="19.5" y="22.299999999999997" width="400.5" height="400.2" fill="#000"/><path d="M84.9 64.0L100.0 58.1L116.3 56.5L125.6 62.3L139.5 66.3L160.5 69.3L144.2 72.6L125.6 70.9L117.4 74.9L104.7 69.8L93.0 67.4Z" fill="#fff" fill-opacity="0.25"/><path d="M102.3 60.9L116.3 58.1L124.4 64.0L120.9 72.1L111.6 69.8L104.7 66.3Z" fill="#fff" fill-opacity="0.35"/></g>
<g filter="url(#f9)"><rect x="19.5" y="22.299999999999997" width="400.5" height="400.2" fill="#000"/><path d="M239.5 125.6L253.5 115.8L267.4 122.8L270.2 132.6L265.6 142.3L255.8 139.5L246.5 132.6Z" fill="#fff" fill-opacity="0.28"/></g>
<g filter="url(#f10)"><rect x="19.5" y="22.299999999999997" width="400.5" height="400.2" fill="#000"/><path d="M355.8 222.1L360.5 214.4L372.1 216.3L383.7 218.1L386.5 224.4L376.7 222.3L365.1 220.9Z" fill="#fff" fill-opacity="0.9"/></g>
<path transform="scale(0.5)" d="M230 304zm-4-1zm-5 8zm-7-2zm-2-6zm0 3zm-3 5zm-1-9zm-8 14zm3 0zm2 0zm4 3zm0 0zm14-1zm3 3zm12-3zm0 15zm-6 0zm-6-8zm-4 0zm-3 5zm-2-3zm0-1zm-5 20zm0-6zm3 3zm6-2zm10-3zm5 3zm-2 14zm-6-1zm-1 4zm0-7zm-3 7zm-12-3zm0 5zm4 0zm5 5zm8 6zm3-7zm2 5zm-8 9zm-3 4zm-5-2zm-7 1zm-2-9zm-5 3zm0 10zm18 17zm-4-3zm-1-1zm-16 10zm1 9zm1-2zm11 0zm6-5zm-16 15zm-4-4zm-3 13zm7 9z" stroke="#ff6a0a" stroke-width="2.80" stroke-linecap="round" fill="none"/>
<g filter="url(#f11)"><rect x="630.4" y="28" width="394.3" height="394.4" fill="#000"/><path d="M664.5 71.7L697.6 67.4L712.0 63.0L726.4 63.0L737.9 68.8L755.2 73.1L776.8 77.4L805.6 70.2L834.4 76.0L835.8 94.7L848.8 109.1L861.7 120.6L874.7 127.8L881.9 153.7L877.5 176.8L868.9 198.4L864.6 208.4L841.6 202.7L820.0 205.6L798.4 209.9L784.0 199.8L762.4 212.8L740.8 198.4L726.4 202.7L714.9 195.5L703.3 178.2L697.6 166.7L683.2 162.4L667.4 152.3L665.9 140.8L673.1 126.4L676.0 120.6L668.8 109.1L665.9 97.6L665.2 83.2Z" fill="#fff" fill-opacity="0.42"/><path d="M674.6 234.6L690.4 224.5L700.5 221.6L726.4 224.5L755.2 223.8L784.0 218.7L827.2 215.1L853.1 221.6L870.3 234.6L877.5 257.6L876.1 274.9L864.6 292.1L848.8 312.3L830.0 336.8L812.8 354.0L798.4 368.4L781.1 384.3L762.4 388.6L749.4 384.3L740.8 369.9L726.4 355.5L714.9 336.8L700.5 318.1L683.2 303.7L671.7 292.1L673.1 272.0L672.4 250.4Z" fill="#fff" fill-opacity="0.47"/><g clip-path="url(#cl_b1)"><path d="M707.7 221.6L704.8 194.2L769.6 205.8L785.4 220.0L769.6 231.5L709.1 227.2Z" fill="#fff" fill-opacity="0.22" filter="url(#bl3)"/><path d="M766.7 194.2L864.6 197.1L856.0 228.8L827.2 221.6L766.7 224.5Z" fill="#fff" fill-opacity="0.14" filter="url(#bl3)"/></g><path d="M961.3 224.9L965.9 217.3L977.3 219.2L988.7 221.0L991.5 227.2L981.9 225.1L970.4 223.8Z" fill="#fff" fill-opacity="0.7"/><path d="M664.5 71.7L697.6 67.4L712.0 68.8L720.6 83.2L723.5 101.9L712.0 114.9L683.2 120.6L676.0 120.6L668.8 109.1L665.9 97.6Z" fill="#000" fill-opacity="0.7" filter="url(#bl3)"/><path d="M749.4 286.4L760.9 283.5L763.8 297.9L755.2 309.4L746.5 300.8Z" fill="#000" fill-opacity="0.55" filter="url(#bl3)"/></g>
<g filter="url(#f12)"><rect x="630.4" y="28" width="394.3" height="394.4" fill="#000"/><path d="M664.5 71.7L697.6 67.4L712.0 63.0L726.4 63.0L737.9 68.8L755.2 73.1L776.8 77.4L805.6 70.2L834.4 76.0L835.8 94.7L848.8 109.1L861.7 120.6L874.7 127.8L881.9 153.7L877.5 176.8L868.9 198.4L864.6 208.4L841.6 202.7L820.0 205.6L798.4 209.9L784.0 199.8L762.4 212.8L740.8 198.4L726.4 202.7L714.9 195.5L703.3 178.2L697.6 166.7L683.2 162.4L667.4 152.3L665.9 140.8L673.1 126.4L676.0 120.6L668.8 109.1L665.9 97.6L665.2 83.2Z" fill="#fff" fill-opacity="0.19"/><path d="M674.6 234.6L690.4 224.5L700.5 221.6L726.4 224.5L755.2 223.8L784.0 218.7L827.2 215.1L853.1 221.6L870.3 234.6L877.5 257.6L876.1 274.9L864.6 292.1L848.8 312.3L830.0 336.8L812.8 354.0L798.4 368.4L781.1 384.3L762.4 388.6L749.4 384.3L740.8 369.9L726.4 355.5L714.9 336.8L700.5 318.1L683.2 303.7L671.7 292.1L673.1 272.0L672.4 250.4Z" fill="#fff" fill-opacity="0.15"/><g clip-path="url(#cl_b1)"><path d="M707.7 221.6L704.8 194.2L769.6 205.8L785.4 220.0L769.6 231.5L709.1 227.2Z" fill="#fff" fill-opacity="0.13" filter="url(#bl3)"/><path d="M766.7 194.2L864.6 197.1L856.0 228.8L827.2 221.6L766.7 224.5Z" fill="#fff" fill-opacity="0.06" filter="url(#bl3)"/></g><path d="M664.5 71.7L697.6 67.4L712.0 68.8L720.6 83.2L723.5 101.9L712.0 114.9L683.2 120.6L676.0 120.6L668.8 109.1L665.9 97.6Z" fill="#000" fill-opacity="0.45" filter="url(#bl3)"/><path d="M663.8 71.0L670.2 71.0L671.0 97.6L673.8 109.1L677.4 120.6L671.0 120.6L666.6 109.1L664.8 97.6Z" fill="#fff" fill-opacity="0.2"/><g clip-path="url(#cl_b1)"><path d="M665.9 109.1L726.4 100.5L740.8 155.2L726.4 184.0L703.3 178.2L697.6 166.7L683.2 162.4L667.4 152.3Z" fill="#fff" fill-opacity="0.08" filter="url(#bl5)"/><path d="M709.1 64.5L729.3 63.0L737.9 76.0L739.3 97.6L732.1 103.3L724.9 94.7L720.6 77.4Z" fill="#fff" fill-opacity="0.35" filter="url(#bl3)"/><path d="M724.9 126.4L737.9 123.5L746.5 133.6L740.8 145.1L729.3 143.7L723.5 135.0Z" fill="#fff" fill-opacity="0.3" filter="url(#bl5)"/><path d="M700.5 140.8L720.6 140.8L726.4 162.4L720.6 184.0L709.1 186.8L701.9 169.6Z" fill="#fff" fill-opacity="0.25" filter="url(#bl5)"/><path d="M817.1 76.0L834.4 76.0L835.8 94.7L824.3 103.3L815.6 97.6Z" fill="#fff" fill-opacity="0.2" filter="url(#bl5)"/><path d="M672.4 234.6L690.4 224.5L700.5 221.6L704.8 236.0L694.7 257.6L697.6 280.6L720.6 300.8L732.1 312.3L720.6 316.6L700.5 318.1L683.2 303.7L671.7 292.1Z" fill="#fff" fill-opacity="0.3" filter="url(#bl4)"/><path d="M672.4 234.6L690.4 224.5L709.1 223.0L714.9 243.2L709.1 264.8L714.9 286.4L740.8 309.4L732.1 318.1L700.5 319.5L683.2 303.7L671.7 292.1Z" fill="#fff" fill-opacity="0.2" filter="url(#bl8)"/><path d="M726.4 315.2L748.0 308.0L784.0 315.2L805.6 344.0L798.4 368.4L781.1 384.3L762.4 388.6L749.4 384.3L740.8 369.9L726.4 355.5L717.7 336.8Z" fill="#fff" fill-opacity="0.42" filter="url(#bl7)"/><path d="M752.3 243.2L769.6 247.5L784.0 272.0L791.2 315.2L776.8 322.4L766.7 286.4L758.1 264.8Z" fill="#fff" fill-opacity="0.2" filter="url(#bl6)"/></g><path d="M749.4 286.4L760.9 283.5L763.8 297.9L755.2 309.4L746.5 300.8Z" fill="#000" fill-opacity="0.6" filter="url(#bl3)"/><path d="M961.3 224.9L965.9 217.3L977.3 219.2L988.7 221.0L991.5 227.2L981.9 225.1L970.4 223.8Z" fill="#fff" fill-opacity="0.3"/></g>
<g filter="url(#f13)"><rect x="1005.5" y="30.4" width="392.5" height="392.2" fill="#000"/><path d="M1039.5 73.9L1072.4 69.6L1086.8 65.3L1101.1 65.3L1112.6 71.1L1129.7 75.4L1151.2 79.6L1179.9 72.5L1208.5 78.2L1210.0 96.8L1222.8 111.1L1235.7 122.6L1248.6 129.7L1255.8 155.5L1251.5 178.4L1242.9 199.8L1238.6 209.8L1215.7 204.1L1194.2 207.0L1172.7 211.3L1158.4 201.3L1136.9 214.1L1115.4 199.8L1101.1 204.1L1089.6 197.0L1078.2 179.8L1072.4 168.4L1058.1 164.1L1042.4 154.0L1040.9 142.6L1048.1 128.3L1051.0 122.6L1043.8 111.1L1040.9 99.7L1040.2 85.4Z" fill="#fff" fill-opacity="0.38"/><path d="M1049.5 235.8L1065.3 225.8L1075.3 222.9L1101.1 225.8L1129.7 225.1L1158.4 220.1L1201.4 216.5L1227.1 222.9L1244.3 235.8L1251.5 258.7L1250.1 275.9L1238.6 293.0L1222.8 313.1L1204.2 337.4L1187.0 354.6L1172.7 368.9L1155.5 384.6L1136.9 388.9L1124.0 384.6L1115.4 370.3L1101.1 356.0L1089.6 337.4L1075.3 318.8L1058.1 304.5L1046.7 293.0L1048.1 273.0L1047.4 251.5Z" fill="#fff" fill-opacity="0.42"/><g clip-path="url(#cl_b2)"><path d="M1082.5 222.9L1079.6 195.7L1144.1 207.2L1159.8 221.3L1144.1 232.8L1083.9 228.5Z" fill="#fff" fill-opacity="0.16" filter="url(#bl3)"/><path d="M1141.2 195.7L1238.6 198.6L1230.0 230.1L1201.4 222.9L1141.2 225.8Z" fill="#fff" fill-opacity="0.12" filter="url(#bl3)"/><path d="M1049.4 233.5L1071.9 227.5L1074.9 269.5L1089.8 299.4L1071.9 311.4L1050.9 299.4Z" fill="#fff" fill-opacity="0.3" filter="url(#bl4)"/><path d="M1089.8 299.4L1119.8 314.4L1125.7 344.3L1155.7 374.3L1167.7 386.2L1128.7 386.2L1101.8 344.3Z" fill="#fff" fill-opacity="0.3" filter="url(#bl4)"/></g><path d="M1039.5 73.9L1072.4 69.6L1086.8 71.1L1095.4 85.4L1098.2 104.0L1086.8 116.8L1058.1 122.6L1051.0 122.6L1043.8 111.1L1040.9 99.7Z" fill="#000" fill-opacity="0.7" filter="url(#bl3)"/><path d="M1124.0 287.3L1135.5 284.4L1138.3 298.7L1129.7 310.2L1121.1 301.6Z" fill="#000" fill-opacity="0.55" filter="url(#bl3)"/></g>
<g filter="url(#f14)"><rect x="1005.5" y="30.4" width="392.5" height="392.2" fill="#000"/><path d="M1039.5 73.9L1072.4 69.6L1086.8 65.3L1101.1 65.3L1112.6 71.1L1129.7 75.4L1151.2 79.6L1179.9 72.5L1208.5 78.2L1210.0 96.8L1222.8 111.1L1235.7 122.6L1248.6 129.7L1255.8 155.5L1251.5 178.4L1242.9 199.8L1238.6 209.8L1215.7 204.1L1194.2 207.0L1172.7 211.3L1158.4 201.3L1136.9 214.1L1115.4 199.8L1101.1 204.1L1089.6 197.0L1078.2 179.8L1072.4 168.4L1058.1 164.1L1042.4 154.0L1040.9 142.6L1048.1 128.3L1051.0 122.6L1043.8 111.1L1040.9 99.7L1040.2 85.4Z" fill="#fff" fill-opacity="0.12"/><g clip-path="url(#cl_b2)"><path d="M1101.8 98.8L1125.7 89.8L1155.7 74.9L1209.6 77.8L1212.6 98.8L1227.5 119.8L1251.5 134.7L1256.0 161.7L1245.5 185.6L1239.5 209.6L1209.6 206.6L1167.7 209.6L1125.7 203.6L1089.8 191.6L1077.8 167.7L1044.9 155.7L1043.4 137.7L1074.9 125.7Z" fill="#fff" fill-opacity="0.24" filter="url(#bl5)"/><path d="M1149.7 74.9L1209.6 77.8L1209.6 98.8L1179.6 101.8L1155.7 92.8Z" fill="#fff" fill-opacity="0.2" filter="url(#bl5)"/><path d="M1089.8 101.8L1134.7 98.8L1185.6 125.7L1185.6 167.7L1149.7 179.6L1095.8 179.6L1083.8 143.7Z" fill="#fff" fill-opacity="0.2" filter="url(#bl8)"/><path d="M1194.6 128.7L1239.5 131.7L1254.5 161.7L1239.5 197.6L1203.6 191.6Z" fill="#fff" fill-opacity="0.1" filter="url(#bl6)"/><path d="M1082.5 222.9L1079.6 195.7L1144.1 207.2L1159.8 221.3L1144.1 232.8L1083.9 228.5Z" fill="#fff" fill-opacity="0.13" filter="url(#bl3)"/><path d="M1141.2 195.7L1238.6 198.6L1230.0 230.1L1201.4 222.9L1141.2 225.8Z" fill="#fff" fill-opacity="0.08" filter="url(#bl3)"/></g><path d="M1049.5 235.8L1065.3 225.8L1075.3 222.9L1101.1 225.8L1129.7 225.1L1158.4 220.1L1201.4 216.5L1227.1 222.9L1244.3 235.8L1251.5 258.7L1250.1 275.9L1238.6 293.0L1222.8 313.1L1204.2 337.4L1187.0 354.6L1172.7 368.9L1155.5 384.6L1136.9 388.9L1124.0 384.6L1115.4 370.3L1101.1 356.0L1089.6 337.4L1075.3 318.8L1058.1 304.5L1046.7 293.0L1048.1 273.0L1047.4 251.5Z" fill="#fff" fill-opacity="0.08"/><g clip-path="url(#cl_b2)"><path d="M1068.9 230.5L1143.7 227.5L1209.6 224.6L1248.5 239.5L1254.5 263.5L1233.5 299.4L1209.6 329.3L1185.6 359.3L1155.7 374.3L1125.7 344.3L1119.8 314.4L1089.8 299.4L1071.9 269.5Z" fill="#fff" fill-opacity="0.32" filter="url(#bl4)"/><path d="M1089.8 245.5L1143.7 239.5L1149.7 269.5L1137.7 293.4L1095.8 293.4L1080.8 269.5Z" fill="#fff" fill-opacity="0.3" filter="url(#bl7)"/><path d="M1161.7 287.4L1209.6 278.4L1218.6 305.4L1191.6 323.4L1167.7 317.4Z" fill="#fff" fill-opacity="0.3" filter="url(#bl7)"/></g><path d="M1049.4 233.5L1071.9 227.5L1074.9 269.5L1089.8 299.4L1071.9 311.4L1050.9 299.4Z" fill="#000" fill-opacity="0.62" filter="url(#bl5)"/><path d="M1089.8 299.4L1119.8 314.4L1125.7 344.3L1155.7 374.3L1167.7 386.2L1128.7 386.2L1101.8 344.3Z" fill="#000" fill-opacity="0.62" filter="url(#bl5)"/><path d="M1039.5 73.9L1072.4 69.6L1086.8 71.1L1095.4 85.4L1098.2 104.0L1086.8 116.8L1058.1 122.6L1051.0 122.6L1043.8 111.1L1040.9 99.7Z" fill="#000" fill-opacity="0.5" filter="url(#bl3)"/><path d="M1038.8 73.2L1045.2 73.2L1045.9 99.7L1048.8 111.1L1052.4 122.6L1045.9 122.6L1041.6 111.1L1039.8 99.7Z" fill="#fff" fill-opacity="0.2"/><path d="M1124.0 287.3L1135.5 284.4L1138.3 298.7L1129.7 310.2L1121.1 301.6Z" fill="#000" fill-opacity="0.6" filter="url(#bl3)"/><path d="M1334.8 226.2L1339.4 218.7L1350.7 220.5L1362.1 222.3L1364.8 228.5L1355.3 226.4L1343.9 225.1Z" fill="#fff" fill-opacity="0.9"/></g>
<g filter="url(#f15)"><rect x="160.4" y="539.4" width="403" height="402.3" fill="#000"/><path d="M194.8 583.6L228.8 579.2L243.5 574.8L258.3 574.8L270.1 580.7L287.8 585.1L309.9 589.5L339.4 582.1L368.9 588.0L370.3 607.2L383.6 621.9L396.9 633.7L410.2 641.0L417.5 667.5L413.1 691.0L404.3 713.1L399.8 723.4L376.2 717.5L354.1 720.5L332.0 724.9L317.3 714.6L295.1 727.8L273.0 713.1L258.3 717.5L246.5 710.2L234.7 692.5L228.8 680.7L214.0 676.3L197.8 666.0L196.3 654.3L203.7 639.5L206.6 633.7L199.3 621.9L196.3 610.1L195.6 595.4Z" fill="#fff" fill-opacity="0.3"/><path d="M205.2 750.1L221.4 739.8L231.7 736.9L258.3 739.8L287.8 739.1L317.3 733.9L361.5 730.2L388.0 736.9L405.7 750.1L413.1 773.7L411.6 791.3L399.8 809.0L383.6 829.6L364.4 854.6L346.8 872.3L332.0 887.0L314.3 903.2L295.1 907.6L281.9 903.2L273.0 888.4L258.3 873.7L246.5 854.6L231.7 835.5L214.0 820.7L202.2 809.0L203.7 788.4L203.0 766.3Z" fill="#fff" fill-opacity="0.22"/><path d="M239.1 736.9L236.1 708.9L302.5 720.7L318.7 735.2L302.5 747.0L240.6 742.6Z" fill="#fff" fill-opacity="0.14"/><path d="M299.6 708.9L399.8 711.8L391.0 744.2L361.5 736.9L299.6 739.8Z" fill="#fff" fill-opacity="0.08"/><path d="M498.9 740.2L503.6 732.5L515.3 734.4L527.0 736.3L529.8 742.6L520.0 740.5L508.3 739.1Z" fill="#fff" fill-opacity="0.4"/><path d="M194.8 583.6L228.8 579.2L243.5 580.7L252.4 595.4L255.3 614.5L243.5 627.8L214.0 633.7L206.6 633.7L199.3 621.9L196.3 610.1Z" fill="#000" fill-opacity="0.6"/><path d="M254.6 855.9L283.1 845.2L318.0 850.6L338.4 867.8L335.2 889.2L313.7 908.0L286.8 910.7L266.9 890.8Z" fill="#000" fill-opacity="0.8" filter="url(#bl4)"/><path d="M201.4 755.0L210.6 743.2L225.6 739.9L229.9 759.3L222.4 786.1L221.3 813.0L232.0 831.8L215.9 829.1L204.1 810.3L200.9 780.8Z" fill="#000" fill-opacity="0.5" filter="url(#bl3)"/></g>
<path transform="scale(0.5)" d="M569 1485zm-47-6zm-10 12zm102-1zm15 2zm156 22zm-203 21zm-102-6zm-75 3zm158 11zm27-6zm53 12zm-107 7zm-79-2zm-37 15zm118-5zm-73 20zm75 8zm77-6zm-100 19zm-17 0zm-9 0zm-32 11zm123-5zm-82 28zm42 0zm31-1zm-56 10zm6 10zm166 18zm-7 1zm-159-2zm60 8zm-45 19zm126 3zm2 8zm-141 24zm52-5zm17-3zm19 8zm56-2zm-34 11zm-81 2zm-2 2zm-14-7zm-10 0zm44 17zm52 18zm26 3zm-89 12z" stroke="#6d1426" stroke-width="3.00" stroke-linecap="round" fill="none"/><path transform="scale(0.5)" d="M639 1481zm-20-3zm-179 6zm30 4zm116 7zm70 12zm-38 2zm-75-9zm-111 12zm13 1zm52 5zm40-6zm101 0zm99 1zm-89 16zm-49-1zm-4 2zm-102 0zm-23-2zm-35 16zm93 0zm58 3zm6 0zm9 7zm-28 4zm-85-1zm-66-2zm-14 15zm22-6zm63 5zm41-1zm75 5zm-7 10zm-29-4zm-29-3zm-31 0zm-11 5zm-87 9zm136-2zm13 1zm23-4zm70 12zm-26 8zm-9-5zm-10-4zm-13 7zm-2 3zm-102-1zm-14 0zm-25-9zm-40 6zm56 11zm43 3zm15-3zm50-4zm13 3zm54-4zm33 8zm71-5zm-108 12zm-134 7zm20 7zm134 3zm4 2zm13-10zm-97 21zm-3-8zm-67 17zm135 13zm-1 4zm-26-2zm-14-9zm-18 17zm6 0zm104 12zm-136 9zm116 21zm-95-1zm-39-10zm-4 4zm-40-2zm65 11zm34 9zm36 4zm-97 21zm51-7zm23 6zm32-9zm-18 19zm-51-2zm27 17zm1-1zm24-7z" stroke="#b3202c" stroke-width="3.00" stroke-linecap="round" fill="none"/><path transform="scale(0.5)" d="M615 1473zm174 14zm-69-3zm-243 3zm48 3zm36 4zm17 0zm44-4zm106 8zm34-5zm-207 10zm-49 3zm-29-5zm-25 6zm-31 10zm107-3zm36 8zm35-3zm35 0zm77 16zm-168 0zm-16-5zm-5-3zm-65 1zm-9 7zm-7 6zm34 4zm32 1zm64-1zm4-6zm66 5zm20 1zm-99 6zm-37 7zm-25 0zm-11-4zm-69-6zm-9 10zm61 4zm99 1zm109 8zm86-3zm-117 10zm-28 5zm-11 0zm-48 0zm-21-3zm-3-7zm-5 0zm-52 0zm-33 11zm17 5zm12 0zm32-1zm44-4zm11 4zm13-2zm12 4zm57 4zm31-9zm102 7zm-64 14zm-288 1zm60 3zm5 9zm9-5zm108-3zm71 0zm-24 10zm-48 9zm-11-6zm-13 2zm-4 5zm-32-9zm-35-2zm-29 7zm-26-5zm0 0zm-32-2zm96 18zm15-2zm18-4zm61 7zm19-2zm16 3zm50 5zm-16 8zm-4-4zm-6 0zm-46-5zm-41 7zm-25-4zm-69 3zm-7 2zm-16-1zm1 6zm51 4zm20-5zm1 7zm15 3zm36-1zm43-3zm13 4zm42 0zm-4 3zm-5 5zm-3-1zm-76-1zm-63-3zm-25 7zm-39-8zm3 17zm3 1zm79 3zm27-3zm89 3zm22 10zm-13-3zm-22 6zm-24-9zm-137 9zm-5 4zm4 5zm14-5zm26 6zm37-3zm6 1zm72 9zm-26 0zm-77 19zm64-7zm25 8zm28-6zm-19 14zm-41 2zm-1 2zm-70-10zm8 18zm13-1zm38-1zm14 2zm40-7zm-61 20zm0 12zm26 3zm3-11zm-33 18z" stroke="#e9876f" stroke-width="3.00" stroke-linecap="round" fill="none"/><path transform="scale(0.5)" d="M581 1485zm-45 0zm-73 12zm0-7zm83 7zm243-4zm-155 13zm-192 3zm-14-5zm-4 1zm-11 13zm208 0zm85 14zm-80-1zm-70-7zm-23 7zm-48-3zm-31 6zm-1-9zm-4 3zm-1 2zm-6-4zm-34 1zm65 15zm288 4zm-116 13zm-136-6zm-104 1zm75 15zm2-6zm52 7zm54-5zm1-4zm0 2zm59 5zm-131 5zm-8 2zm-59 4zm-33-2zm17 16zm4-5zm187 0zm16 4zm106-5zm68 4zm-176 10zm-49 3zm-38 0zm139 19zm-212-2zm-29 22zm96-8zm7 7zm40-9zm13 9zm91-2zm12-1zm-19 8zm-177 5zm-23 12zm117-5zm57 5zm64 12zm-123-2zm-18-5zm-105 18zm143-5zm22 7zm45-5zm44 13zm-125 1zm-52 5zm119 2zm-127 27zm21-4zm45 10zm38-7zm5 4zm33 12zm-37-5zm-41-1zm-80 8zm96 13zm24 8zm-43 5zm-10-7zm-18 4zm-13-2zm-29-5zm65 30z" stroke="#f6c3ae" stroke-width="3.00" stroke-linecap="round" fill="none"/>
<path transform="scale(0.5)" d="M506 1156zm4 3zm4-2zm4 2zm4 0zm7-3zm-13 19zm-2-8zm-1 6zm-9 1zm-31 1zm-5-6zm41 12zm18 1zm88 1zm36 12zm-16-2zm-100-2zm-4-3zm-15 2zm-6-2zm-5 20zm11-2zm0-1zm218 8zm-209 3zm-18-1zm-8 4zm-62 14zm77-7zm2 4zm8-3zm1 7zm8-8zm158 18zm-155-8zm0 6zm-11-4zm-7 7zm-21-9zm-20 8zm-40-7zm24 20zm7-3zm47-4zm2 5zm2 3zm19-9zm121 3zm10-4zm70 23zm-28-4zm-172 0zm-5 0zm-8 0zm-3-7zm-2 2zm0-2zm-7 5zm-1-5zm-41 2zm-19 5zm-20 1zm14 15zm30-4zm34 0zm20-2zm3 6zm124 2zm-41-1zm-60 9zm-20-8zm-12 0zm-5 3zm-48 4zm-31-1zm-37 5zm42 9zm42-9zm29 8zm16 3zm0-2zm51 1zm15-6zm-66 9zm-16 4zm-28 5zm-75 0zm17 6zm17 7zm11-3zm8 1zm24-7zm49 2zm86 4zm69-2zm3 5zm-145 7zm-20-6zm-34 4zm-33 3zm-16-7zm-19 16zm67-2zm27 6zm163 10zm-260 0zm92 14zm14-1zm213-5zm5 19zm-154-8zm-104 11zm149 21zm-72-3zm137 16z" stroke="#6d1426" stroke-width="3.00" stroke-linecap="round" fill="none"/><path transform="scale(0.5)" d="M503 1158zm5 5zm7-8zm4 5zm3-3zm-4 8zm-3 2zm-16-3zm-3 19zm11 0zm4 0zm5-4zm2 6zm20 3zm-2 11zm-4-7zm-7 0zm-8 6zm-2 0zm-6-8zm-1 0zm2 18zm1-5zm11 2zm2 3zm5 2zm163-7zm-27 18zm-141-9zm-4 1zm-5 0zm-3 3zm0 2zm-42 5zm-44 8zm81-5zm22 9zm3-7zm10 2zm164-3zm24 0zm-188 13zm-14 6zm-18-2zm-24 0zm-38 2zm-45-4zm-16 7zm67 8zm19 1zm1 1zm12 0zm29-4zm9-4zm13 3zm4 0zm2-1zm227 12zm-59 5zm-167-5zm-2-2zm-10 4zm-7-6zm-12 8zm-2 2zm-25-8zm-2-3zm-69 8zm-33 8zm47-4zm5 4zm7 2zm27 4zm49-3zm3-6zm11 5zm1-5zm205 10zm69 5zm-213 1zm-27-5zm-2 5zm-22-4zm-6-1zm-3 1zm-5 1zm-2 0zm-2 7zm-13-1zm-9-8zm-15 0zm-29 0zm-49 20zm28-5zm12-3zm27 9zm26-8zm26 1zm15 8zm3-2zm151-8zm81 14zm-45 1zm-186-1zm-8 0zm-115-1zm-20 16zm7 2zm43 2zm27-2zm245 0zm61 14zm-136-9zm-184 11zm-32-10zm-10 7zm-7-8zm70 12zm326 1zm-44 13zm-243 3zm-51-3zm8 10zm31 8zm0-3zm241 3zm19 20zm-102 18zm-69 17zm-80-3z" stroke="#b3202c" stroke-width="3.00" stroke-linecap="round" fill="none"/><path transform="scale(0.5)" d="M501 1150zm9 12zm19 6zm-14 0zm-12 6zm-3 4zm7-2zm14 5zm4-4zm10-1zm139 6zm28 3zm-68 4zm-91 7zm-6 3zm-10 0zm-2-5zm-1-5zm-9 6zm-43 1zm9 8zm35 6zm1 1zm4-2zm23-3zm56-3zm89 13zm-152 7zm-4-2zm-4-2zm-13-7zm-11 1zm-28 7zm-58-3zm-23 9zm91 2zm35-3zm14 7zm141-3zm-129 14zm-9 3zm-2-9zm-4 2zm-10-3zm-11 11zm-3-4zm-60 0zm-31 2zm-32 13zm56-9zm29 1zm44 1zm34 15zm-3-5zm-9-1zm-8 8zm-4 0zm0 0zm-5-6zm0 2zm-84 1zm0 4zm16 11zm5-2zm34 3zm11-4zm17 3zm0-1zm18-1zm4 2zm265-4zm-259 19zm-4-2zm-1-9zm-9 1zm-5 5zm0-5zm-16 7zm-105-6zm25 19zm2 2zm73-2zm5 2zm16-2zm18-9zm144 6zm77 2zm51 8zm-278-4zm-28 10zm-44-5zm-21 2zm-22 3zm-13 1zm-21-11zm6 12zm24 6zm72-6zm4 6zm30-3zm21 3zm183-6zm38 12zm-67 3zm-50 3zm-110 0zm-69 4zm-10-6zm-23 5zm0 3zm117 7zm227 13zm-256-1zm-6 1zm-5 1zm196 24zm-243-2zm10 8zm151 20zm-54-7zm-11-2zm-90 7zm301 4zm-47 12zm-19 2z" stroke="#e9876f" stroke-width="3.00" stroke-linecap="round" fill="none"/><path transform="scale(0.5)" d="M501 1161zm14 14zm-5 1zm8 10zm8-2zm18 11zm-12 2zm-14-6zm2 18zm10-7zm-15 16zm8 17zm5-3zm185 10zm-160-3zm-9 1zm0 5zm-8-5zm-16-4zm-26 11zm-82-7zm74 12zm43 3zm21 1zm180 1zm-177 13zm-26-6zm-14-4zm0 5zm-71-3zm-14 7zm117 13zm106-2zm104-3zm-227 18zm-60-7zm-12 4zm-56 13zm72 2zm47-11zm246 5zm65-2zm-307 15zm-46 13zm25-6zm-87 26zm4-1zm92 7zm-64 18zm107 3zm166-6zm2 2zm20-2zm-238 18zm-28 1zm21 24zm19 12zm96 3zm137 12z" stroke="#f6c3ae" stroke-width="3.00" stroke-linecap="round" fill="none"/>
<path transform="scale(0.5)" d="M544 1487zm-8-4zm-2 3zm-4-1zm-1-4zm-2 0zm0 5zm-5-5zm-10 4zm-4-4zm-8-1zm0 3zm-8 1zm-10-5zm-1 4zm-2-3zm-1-4zm-1 6zm-14-1zm-1 2zm-1-4zm-4 7zm-8-2zm-2-3zm-3 4zm-1-5zm-6 3zm-21 14zm1 1zm12-3zm1-2zm1 5zm0-4zm1-6zm1 9zm0-8zm2 5zm0 1zm1-4zm1 7zm3-3zm2-4zm1 8zm0-3zm1 0zm0-1zm0 3zm1-7zm0 3zm4 2zm3 1zm0-2zm1 1zm0-7zm2 1zm0 1zm2 6zm5-4zm0 0zm2-3zm6 5zm2 4zm0-4zm2-7zm2 9zm5-9zm2 4zm1 2zm14-3zm3 7zm7 0zm2-3zm4-4zm8 6zm2-2zm1 0zm0 0zm8-2zm6-5zm1 8zm4-4zm2 1zm2 0zm5 4zm4-6zm3 0zm2 3zm1 5zm3-1zm1 0zm12 12zm-1-3zm-7-2zm-5-5zm-3 11zm-1-3zm-2-6zm-6 8zm-3-8zm0 2zm-2-1zm-1 6zm-6-5zm-17 4zm-7-6zm-1 3zm-2-3zm-5 2zm-30-1zm-7-2zm-3 4zm-12 2zm-1 0zm-6-5zm-2 6zm-1 1zm-3-7zm-2 4zm0-2zm-2 3zm-3 1zm-2 0zm0-3zm-1-2zm0 1zm0-2zm-2 7zm-3 2zm-1 0zm-1 0zm-5-10zm-1 4zm0-2zm-1-3zm-3 1zm0 10zm-1-2zm-1-9zm-4 1zm-2 5zm-4-2zm0 18zm3 0zm0-3zm0 3zm2-3zm2-4zm1 6zm1-8zm0 2zm0 0zm3-3zm2 7zm5-1zm1-3zm6-3zm1 1zm0 8zm1 0zm0 2zm1-5zm1 3zm0-1zm1-4zm2 1zm2 0zm0 2zm5 0zm0-2zm2 1zm2-1zm0 1zm2-4zm2 4zm1-3zm1 6zm0-6zm3 7zm0-9zm3-1zm2 8zm6-2zm72-2zm3 1zm1 1zm3-4zm2 8zm4-7zm0-3zm1 6zm2-1zm2-2zm0-2zm1 9zm2-4zm0 0zm4 3zm3 1zm2-7zm1 3zm1-4zm0 3zm1-2zm4 2zm3-1zm6 0zm7 10zm-6 7zm-2-1zm-1-1zm-3-2zm-2 2zm-2 2zm-3 1zm-6-8zm-1-1zm-2 6zm-1-1zm-1-2zm0-2zm-4 6zm0-6zm-3-2zm0 3zm-97-1zm-1 5zm-1-2zm-1 5zm-1-9zm-1 8zm-4-6zm-5 2zm-1-3zm0 1zm-1 7zm-1-7zm-1 5zm-1-7zm-1 4zm0 5zm-1-3zm-2-7zm-3 5zm-5-1zm0 6zm-2-3zm0 0zm-2 4zm-1-1zm0 0zm0-4zm-1-2zm0-3zm-3-1zm-6 11zm-1-4zm-2-4zm-3 1zm0-4zm-2 6zm0-4zm-3 13zm1 4zm5-6zm1 0zm3 3zm2 6zm0-6zm1 7zm1-8zm0 4zm1 2zm3 1zm0-7zm0-3zm3 7zm4-4zm0-1zm0 3zm1-5zm0 4zm1 3zm3-4zm0 0zm1 5zm1 1zm1 0zm0-6zm2 0zm0 3zm1 4zm1-3zm2 4zm0-9zm0 8zm2-7zm1 6zm0-5zm1 1zm0-2zm0 1zm1 1zm0-5zm1 8zm0 2zm9-5zm104 2zm7-6zm1 9zm1 0zm2-5zm4 6zm1-6zm4 6zm2-5zm2-2zm3 0zm11 1zm0 5zm-2 12zm-9-3zm-2-2zm-6 0zm-4-4zm-2 5zm-122-2zm-1 4zm-1-2zm-2-2zm-2 0zm-1 3zm0-7zm-5 1zm0 6zm-1-5zm0 1zm-2 7zm0-8zm-1 6zm-1-6zm0 5zm-1 0zm-2 2zm-1-5zm-3 3zm-5-5zm0 5zm0 4zm-1-1zm0-4zm-3 2zm0-7zm-2 8zm0-5zm-1 1zm-1 6zm-2-8zm-2-2zm0 6zm0-5zm-1 9zm0-6zm-1-4zm-1 3zm0 5zm-2-1zm0-8zm0 10zm-4-8zm3 21zm1-5zm1 5zm0-11zm1 6zm0-1zm1-2zm1 0zm2 1zm0 1zm4 3zm3 2zm0-1zm3-6zm0-3zm2 8zm1 0zm0-8zm4 10zm1-6zm1 7zm3-4zm2 1zm2-6zm0 4zm4-4zm5 1zm2 8zm4-9zm120 3zm5 4zm1-8zm7-1zm0 11zm2-8zm0 6zm1-7zm0 8zm5-9zm2 9zm1-4zm8-3zm0-2zm3 13zm-4 9zm-1-9zm-1-1zm-2 7zm0-8zm-1 10zm-6-1zm-4-5zm-1-3zm-1 3zm0 6zm-1-5zm-4-2zm-2 5zm-5 3zm-2-9zm-123 5zm-7 0zm-4-5zm-1 5zm-1-2zm-1-4zm-1 0zm-2 4zm-2 0zm0-2zm-1 7zm-1-3zm-2 1zm-1 0zm-1 1zm-1-3zm0 5zm-2-3zm-1 1zm0-5zm-1-4zm-2 5zm-1 3zm-1-1zm-1 2zm-1-6zm-1-3zm0 10zm-1-1zm-1 2zm-1-6zm0 3zm-3-6zm-2 10zm3 4zm1 5zm2 2zm4-11zm2 0zm0 3zm2 4zm0 1zm1-5zm0 0zm1 1zm1-4zm1 5zm2 4zm0-5zm1 3zm1 2zm1 2zm0-9zm0 5zm1-3zm0 7zm4-5zm2 4zm0-7zm2 2zm0 1zm0 3zm0 0zm2-8zm2 10zm3-4zm1-5zm137 4zm1 3zm2-6zm5 2zm3-3zm1-1zm8 0zm2 4zm2-4zm2 8zm1 1zm3 0zm4 7zm-7-3zm0 3zm-1-3zm0 7zm-5-4zm-5 2zm-4-6zm-1 8zm-1-3zm-9-5zm-4 2zm-135-1zm-1 5zm-3 2zm-2-7zm-2 8zm-1 0zm-1-10zm0 1zm-3 4zm-3-5zm-5 8zm0-3zm-1 3zm0-4zm-1-3zm0 1zm-2 4zm0-1zm-1 1zm-2-5zm-4 4zm-1-2zm-1 6zm0-6zm-1-2zm-2 1zm-2 5zm-2 7zm3 9zm1-2zm9-5zm3-2zm0 2zm3-4zm0 10zm1-8zm3 1zm1-2zm3-1zm1 6zm2 2zm2-7zm1 0zm4 9zm2-6zm1 6zm3-9zm3 9zm140-3zm3-6zm7 9zm3-7zm1-1zm1 9zm7-10zm3 6zm0 0zm-13 12zm-3-5zm0 1zm0 7zm0 1zm-3-11zm-1 5zm0-3zm-153 4zm-1-2zm-3-3zm-2 9zm-1-5zm0 0zm0 1zm-1 0zm0-6zm-2 1zm-1 10zm0-9zm-1-1zm0 6zm0-4zm0 0zm0 2zm-2 6zm0-7zm0 2zm-1 1zm-1-5zm-2 6zm-5-1zm-2-3zm-2 5zm-4-9zm10 15zm2-3zm4 5zm1-5zm8 5zm0 1zm2-6zm1 2zm1 6zm0 2zm3-7zm0 8zm1-1zm5-8zm11 3zm132 0zm1-3zm2-1zm4 4zm2 1zm3-2zm5 6zm3-9zm2-1zm2 8zm2-3zm6-1zm-12 18zm0-3zm-2-1zm-2-1zm-1-4zm0 8zm-3-5zm-10 7zm-126-5zm-8 3zm-1 1zm-1-4zm-1 0zm-6 5zm-1-4zm-1-4zm-1 5zm0-5zm-2 1zm-1-4zm-2 7zm-1-5zm-2 2zm-1-4zm-1 5zm18 13zm0 0zm2-6zm3 4zm141-4zm6 8zm2-6zm0 9zm1 0zm2-11zm0 4zm3 1zm2 3zm1 0zm8 5zm-2 3zm-7-1zm-1 0zm0-2zm-2 6zm-10-3zm0 0zm-4 0zm6 8zm1 10zm6-10zm1 10zm0-5zm11 6zm1-5zm1-3zm3 0zm8 15zm-9 4zm-3-3zm-10-3zm0 3zm-1-1zm-2 4zm-7-4zm10 6zm11 3z" stroke="#6d1426" stroke-width="3.00" stroke-linecap="round" fill="none"/><path transform="scale(0.5)" d="M539 1485zm-25-1zm-6 1zm-46-7zm-3 9zm-4-5zm-10 1zm-3-1zm-13 4zm-6 11zm14-7zm2 2zm1 3zm0 4zm4-4zm3-1zm10 5zm14-6zm3 2zm5 1zm7-2zm1-5zm5 3zm17-3zm5 1zm7 4zm1 2zm3-6zm1 7zm1 0zm7-6zm12 2zm5-4zm5 6zm11 9zm-1-2zm-3-1zm-5 3zm-1 0zm-7 5zm-1-9zm-2 6zm-3-5zm-73 7zm-16 3zm-1-6zm-5 6zm-2-9zm-2 8zm-2-4zm-2 2zm-2 1zm-25-2zm-5 16zm2-3zm4-1zm1-7zm1 2zm0 5zm1 0zm1 1zm0-3zm0-5zm1 4zm11 3zm2 0zm5 3zm9-9zm4 3zm1-3zm6 0zm81 1zm13 7zm2-1zm11-6zm2 1zm7-3zm3 11zm4-3zm0 1zm5 9zm-3-3zm-9 5zm-7-8zm-4 8zm-104 0zm-19 0zm-4-7zm-1 6zm-2 3zm-2-4zm-4-3zm-3 4zm-4-5zm-6 6zm-3-7zm-2 10zm-1-2zm4 11zm4-2zm5-2zm0 4zm6 3zm1-8zm9-3zm2 0zm6 10zm3-5zm1-5zm9 7zm106-2zm6 3zm4-8zm2 3zm0 6zm15-6zm2 6zm12 11zm-14-8zm0 3zm-9 3zm-3-6zm-124 10zm-23-4zm-1 3zm-10-1zm-3-1zm-1 4zm-1-11zm0 9zm-1 0zm-9-6zm3 12zm5 1zm1 3zm3 1zm10-8zm2 10zm4 1zm9-9zm1 4zm3-2zm5-3zm134 2zm2 5zm2 3zm1-4zm1 1zm11 15zm-3-7zm-4 7zm-14-5zm-134-1zm-1 0zm-9 6zm0-11zm-16 8zm-1 1zm-7-1zm-3-1zm0-4zm-1 3zm-3 13zm3-2zm1 5zm2-3zm4-3zm6 7zm1-11zm2 10zm2-9zm3 6zm1 3zm2-4zm4-4zm1-1zm4 3zm160 6zm0-7zm2 4zm4 10zm-10-4zm-167 9zm0-8zm-1 6zm-1 1zm-7-2zm-8-6zm-4 2zm-1 6zm-5 9zm2 1zm3-3zm18 7zm5-11zm2 6zm0 1zm2-6zm157 10zm2-2zm22 3zm-10 8zm-8 2zm0-2zm-4-7zm-151 2zm-4 7zm-10-5zm-5-1zm-6-2zm-5 2zm11 12zm7-2zm2-2zm2 6zm1-4zm6 0zm0 0zm3 4zm153-6zm13 3zm5 9zm-3 11zm-4-7zm-3 5zm-1-2zm-3 1zm-2 2zm-5-7zm-136 7zm-9-2zm-1 1zm-7-2zm-6-5zm-2 4zm0-5zm181 22zm8 11zm0-9zm-7 0zm-5 6zm-1 5zm15 4zm-12 17zm-1-1z" stroke="#b3202c" stroke-width="3.00" stroke-linecap="round" fill="none"/><path transform="scale(0.5)" d="M512 1477zm-3 6zm-4 0zm-1 4zm-12-7zm-29 2zm-39 6zm8 10zm1-1zm12-4zm22-3zm17 1zm30 5zm2-8zm4 5zm0 0zm1 1zm38-4zm6 9zm8 4zm-8-2zm-8 6zm-9-7zm-7 2zm-4 9zm-13-6zm-60-2zm-8 3zm-3-5zm-1 3zm-4 2zm-1 2zm-9 1zm-5-7zm-22 5zm10 10zm14-3zm2 1zm2 6zm11-9zm2 5zm5 0zm69-5zm33 6zm4-3zm2 3zm15 5zm7-11zm1 11zm-11 8zm-19 4zm-106-8zm-4 8zm-7-3zm-30-8zm-2 6zm-1 17zm1-10zm0 1zm2 0zm3-1zm1 2zm6 6zm2-4zm2-1zm2 2zm6-6zm13 2zm2 9zm136-6zm11-3zm1 13zm-10-1zm-133 6zm-8 1zm-7-3zm-9-2zm-1-2zm-7-2zm-4 4zm0 7zm-10 6zm18 1zm26-3zm125 0zm14 8zm3 12zm-142-10zm-10 7zm-9-8zm-1 11zm-2-3zm-2-4zm-1 4zm-12-3zm-10 11zm14 7zm8 0zm11-2zm7-3zm1 1zm152-5zm1 3zm5 5zm9 8zm-7-1zm-195-3zm4 15zm4-3zm4 8zm1 1zm12-1zm5-8zm149-1zm1 2zm21 7zm5-5zm-21 8zm-11 0zm-143 5zm-5-1zm-11-4zm-14 7zm23 12zm2 0zm3 1zm1 2zm158-8zm10 4zm7-4zm13 13zm-21 0zm-5-3zm-3 0zm-138 8zm-3 6zm153 7zm1-6zm0 6zm3-10zm-8 30zm10-4zm-1 13z" stroke="#e9876f" stroke-width="3.00" stroke-linecap="round" fill="none"/><path transform="scale(0.5)" d="M516 1485zm-33-5zm-29 7zm-31 6zm14 0zm116 7zm-12 7zm-95 1zm-28 3zm-5-7zm15 12zm2 1zm14 0zm22 3zm73-8zm20 9zm14 13zm-160 9zm16 1zm9-3zm141-3zm7 4zm10 3zm-170 6zm-5-3zm0 3zm4 20zm162-4zm10 9zm-154 2zm-13-6zm-17 5zm12 15zm17-8zm156 0zm2 19zm-167-7zm-3 2zm-22 18zm5 1zm6-2zm9 4zm9-6zm-4 15zm-14-2zm-6-3zm12 15zm5-2zm1 0zm182 6zm9 10zm-17 0zm-155-2zm161 18zm0 19zm3 4z" stroke="#f6c3ae" stroke-width="3.00" stroke-linecap="round" fill="none"/>
<path transform="scale(0.5)" d="M456 1658zm31 9zm78 0zm68 12zm-3-4zm-34-1zm-1 1zm-11 1zm-4 0zm-7-5zm-11-1zm-12 9zm-39-3zm-2-4zm0 0zm-4 1zm-4 4zm-1-3zm-4 0zm-11 4zm-2-9zm-4 1zm-1 1zm0 17zm5-5zm5 4zm2-5zm2 7zm9 0zm12-9zm22 1zm11 9zm6-1zm3-1zm1 0zm2 2zm0-7zm3 8zm7-1zm0-8zm1-1zm2 9zm1-1zm4-1zm2-7zm1 1zm2 4zm3-2zm4-3zm16 6zm1 4zm3-7zm5 5zm4-3zm3 5zm0-3zm11-8zm11 6zm11-1zm11 4zm25 13zm-7 1zm-10-6zm-1 5zm-8-4zm-14-2zm-5 7zm-3 0zm-3-5zm0 4zm-5-2zm0 3zm-2-2zm-1-3zm-1 4zm-1 1zm-4 0zm-3-7zm-2 4zm0 1zm-1-1zm-1-2zm-1-5zm0 2zm-3 7zm0-4zm0-6zm-1 8zm0 1zm-1 0zm0 1zm-1-2zm-1 1zm0 2zm0-7zm-1-3zm0 9zm-2-8zm0 8zm-1-1zm-2-8zm-3 6zm-2 0zm-2-6zm0 3zm-1 7zm-2-8zm0-3zm0 7zm-1 0zm-2-3zm0-3zm-1 3zm-1-4zm0 7zm0 2zm-1-4zm-1 5zm-1-1zm-1-1zm-2-2zm0-1zm-1-1zm0 4zm-1-7zm-4 0zm-2 4zm0-2zm-1 8zm0-9zm-1 0zm-1 4zm-1-1zm0-5zm-1 5zm0-4zm-2 10zm-3-5zm0 5zm-1-4zm0 4zm-1-7zm-4 4zm-1 2zm-1-10zm-1 3zm-2-1zm-2 4zm-1 0zm-2 3zm-1 0zm-1 0zm0-8zm0 9zm-1 0zm0 1zm-2 0zm-3-2zm-6 0zm-2-2zm0 0zm-4-3zm-2 7zm-2-1zm-1-9zm-2 4zm-1 1zm-3 3zm-7-3zm0 0zm0-3zm-3 2zm-1 5zm-9-7zm-5-2zm-10 7zm13 12zm3-3zm3-2zm6 3zm0 0zm3 3zm0 1zm1-4zm4-3zm1 5zm1 1zm1 0zm0-8zm4 1zm1 2zm1-1zm1 1zm4-3zm0 3zm4 3zm1 1zm1-5zm2 6zm0-4zm2-3zm1 0zm0 8zm1-4zm0-5zm1 9zm2-7zm3-3zm0 9zm1-7zm0 5zm2-6zm0-1zm0 3zm0 7zm1-10zm0 8zm0-2zm1-5zm1 7zm0-2zm3 2zm1 1zm2 0zm0 2zm1-10zm4 10zm0-7zm0 2zm2-2zm1-1zm1 7zm0-9zm1 3zm0-4zm2 5zm0 4zm0-9zm0 7zm1-4zm0 0zm2 4zm1-1zm2 3zm1-6zm2 4zm0-7zm1 4zm1 6zm0-4zm0-3zm0 2zm1-3zm0 5zm0-1zm2-5zm0 7zm1-3zm1 6zm2-6zm1 1zm2-5zm3 1zm2 6zm1-6zm0 9zm1-3zm1-1zm1 3zm0-6zm2 5zm1-4zm0 1zm0 5zm4-10zm1 8zm1 0zm0-5zm4 6zm2-2zm0-5zm1 2zm0 6zm1-6zm0 6zm0-6zm0 5zm0-1zm1-6zm1 2zm2-3zm0 0zm1 5zm0-4zm2 5zm0-1zm2 4zm0-10zm0 7zm2-8zm0 0zm1 5zm0 6zm4-1zm0-8zm1 9zm1-1zm2 1zm4-9zm0 0zm1 8zm1-6zm1 1zm3 4zm6-4zm0 0zm5-4zm1 7zm8-6zm8 2zm2-4zm3 3zm0 2zm14 2zm-18 6zm-1 7zm-10 0zm-1 3zm-2-3zm-2-8zm-2 4zm-1 1zm-1-1zm-1 6zm0-5zm-1 0zm0 5zm-1 0zm-1-8zm0 4zm-3-2zm-1 2zm-1-5zm-1 10zm-2-2zm0 2zm-1-1zm0-1zm-1 0zm0 1zm-1-3zm0-4zm0 4zm-2-4zm-2 8zm-4 0zm-2 0zm0-1zm-1 0zm0-7zm-1 4zm0 0zm-1-4zm-1 0zm-2-2zm0 2zm0 4zm-2 0zm-1 3zm-1-2zm-1 1zm0-7zm-1 1zm-1 0zm-1 3zm-1-2zm0 1zm-1 6zm0-3zm0 0zm-1-3zm0 6zm-1-10zm-1 9zm0-10zm-2 7zm-1-7zm0 0zm0 3zm-1 3zm-1 0zm0-2zm-1 5zm0-6zm0 6zm-2-2zm-1-6zm-1 5zm-1-3zm0 1zm-1 2zm-1-1zm0-1zm-1 0zm-1 5zm-1 0zm-1 1zm-1 0zm-1-10zm0 10zm-1 0zm-3-8zm-1 4zm0 3zm0 2zm0-7zm-1 4zm-2 3zm-2-10zm0 6zm0 4zm-2-6zm0-1zm0 7zm-4 0zm-1-3zm-1-1zm0 4zm-4-9zm0 1zm-1 3zm0-1zm-1 5zm0 1zm0-6zm0 6zm-2-4zm0 2zm0-7zm-1 4zm0 2zm0-8zm0 9zm-5-7zm-4 6zm0 2zm-1-9zm-1 5zm0-5zm-2 4zm-1 4zm0-6zm-1 6zm0-9zm-2 4zm-2-1zm-2 3zm0-4zm-2-2zm-1 9zm0-3zm-1-6zm0 11zm-3-9zm0 9zm-1 0zm-1-2zm-1-7zm-1 3zm-1-3zm-3 7zm-1-6zm-1 8zm0-5zm-2 5zm-1 0zm-2 0zm-1-7zm0-3zm0 5zm-1-1zm-1-4zm-1 0zm-4 8zm-1-6zm-1-3zm-4 8zm-9-3zm2 16zm1-3zm7 1zm1 4zm1-4zm5 2zm0-5zm4 0zm3-2zm0 9zm1-10zm1 8zm2 0zm0-1zm2-2zm0-6zm1 8zm1-6zm0-2zm1 10zm1-4zm0 3zm0-6zm1 2zm0-3zm0 0zm2 2zm0 5zm0-3zm0 4zm2-8zm1 4zm1 4zm1 0zm1-9zm0-1zm0 4zm1-4zm4 8zm2-6zm0 4zm1-1zm0 0zm1 1zm0 1zm0-6zm1 9zm0-6zm0-2zm3 8zm1-3zm2 3zm0-4zm1-3zm1 6zm1-4zm1 3zm0 0zm1 1zm0 0zm0-7zm1 9zm1-2zm0-4zm0-5zm1 11zm2-1zm0-6zm0 1zm1 1zm0-5zm0 7zm3 3zm0 0zm0-11zm0 6zm0-5zm1 5zm0 5zm1-4zm3-4zm0 3zm1 5zm0-6zm2 1zm1 1zm1-6zm3 2zm3 6zm1-3zm0-3zm3 2zm2-2zm0-2zm0 10zm0-11zm1 4zm3 2zm0 3zm1-8zm1 5zm1-5zm1-1zm1 9zm3 1zm0-2zm0-6zm1 8zm3-6zm1 1zm1-4zm0 0zm2 4zm3 3zm1-8zm1 3zm0 1zm0 7zm1-4zm1-4zm1-3zm0 8zm3-7zm1 9zm1-10zm1 7zm4 4zm1-2zm2-4zm1 3zm2-2zm0 1zm1 1zm1-3zm3-1zm0 6zm1 0zm0-3zm0-6zm1-1zm0 9zm2-8zm0 7zm0 2zm1-7zm3 0zm1 1zm1-4zm1 10zm0-7zm2 8zm1-5zm4 2zm0-3zm2-3zm1 1zm4 8zm2 0zm0-6zm1-4zm3 4zm4-3zm3 9zm1-8zm4 3zm3-2zm7 3zm0 3zm-8 6zm-4-2zm-15 2zm-1 2zm-5 2zm0 2zm0-1zm-1 1zm0-3zm-1 0zm-1-1zm-1 1zm-2-2zm-1 2zm0-4zm-2 1zm0-2zm-1 7zm-1-6zm0-3zm-1 8zm-1-5zm0 2zm-1 5zm-1-3zm-1 4zm-1-3zm0-5zm0 5zm-3-7zm0 7zm-3-1zm-1 4zm0-3zm0-1zm-2-5zm0 2zm-1-3zm0 0zm-1 3zm-3 1zm-2 3zm0 2zm-2-2zm0 3zm0-9zm-2 3zm0-1zm-2 3zm-2-7zm-1 2zm-2 8zm0-8zm-1 2zm-1-3zm-1 6zm-1-1zm0 5zm-1-11zm-1 1zm-2 0zm0-1zm-2 8zm-6-5zm0 5zm-3-2zm-2-6zm0 0zm-1 2zm-1 5zm0-2zm-1 0zm-1 0zm-2 2zm0 2zm-1-7zm0 1zm-5 7zm0-6zm-1-3zm0 0zm-1 7zm-1 1zm0-1zm-2 1zm0-9zm-1 7zm-4 2zm-1-9zm-1 6zm-2-4zm0-1zm0 5zm-1 1zm0 4zm-3-10zm0 10zm-2 0zm-1-10zm-1 2zm-3 4zm0-4zm0 1zm0 4zm-2-6zm-2 1zm-1 5zm0-2zm-1-1zm0 6zm0-1zm-4-8zm0 1zm-4 2zm0-5zm-1 9zm-3 1zm-2-6zm-1 5zm-1 2zm0-9zm-2-2zm-2 5zm-1 4zm0-9zm-1 3zm-4 0zm-2 0zm-1-1zm-3-2zm-8 5zm-3-1zm-1-2zm17 10zm2 10zm1-9zm0 6zm0-6zm1-1zm1 10zm2-9zm0 9zm0 0zm1 0zm0-2zm0 2zm0-5zm1 3zm1-1zm0-1zm1-5zm1-1zm0 3zm0 3zm4-2zm0-2zm6 6zm1-4zm1-3zm1 1zm0 2zm0-1zm1 7zm2-10zm1 10zm1-10zm1 7zm4-3zm0 7zm0 0zm2-3zm2-4zm1 5zm1-8zm3 0zm0 6zm0-1zm0-6zm1 2zm2 6zm2-7zm1 9zm0-4zm0-4zm3-2zm1 9zm1-2zm1-5zm0 7zm1-2zm0 1zm1-1zm3 3zm1-2zm0-3zm1-4zm2 1zm0 5zm1-2zm1 2zm1-7zm0 3zm0 6zm0-3zm1 0zm1 0zm0 5zm0-11zm2 11zm2-3zm0-5zm2 4zm1 0zm0-2zm1-5zm1 9zm1-6zm0 3zm1-3zm0 0zm1-3zm1 2zm0 8zm0-7zm0 1zm1 6zm0 1zm2-10zm1 1zm0 6zm1 0zm3-2zm1 1zm0-1zm0-4zm1 5zm0-3zm0-1zm1 4zm2-5zm0 6zm1 3zm2-2zm3-9zm0 5zm0 4zm1-6zm0-2zm0 10zm0-7zm1 4zm1-6zm0 3zm0-4zm1 7zm2-5zm0 0zm1 5zm1 3zm1-1zm1-5zm1-1zm2 1zm0-3zm2 1zm1-1zm1 3zm1-2zm1 7zm0-8zm1 9zm0-7zm0-4zm2 3zm0 6zm1 1zm1-10zm5 2zm2 2zm0-4zm1 6zm0 1zm1 0zm2 1zm0-7zm1 8zm1 2zm2-8zm2 6zm0-2zm0 0zm8-5zm2 1zm-13 11zm0 0zm-1 1zm-1 1zm-2-1zm-2 3zm0 3zm-3-6zm-1-3zm0 3zm-1 8zm-1-6zm0-3zm0 4zm-2-6zm0 0zm-1 7zm0-5zm0-2zm-1 2zm-2 7zm-3-6zm0-3zm0 9zm0-3zm-1-5zm0 10zm-1-8zm0-1zm0 1zm-1-1zm-1 4zm-1-3zm0 4zm0 3zm-2-1zm-2-8zm0 5zm-1-1zm-3 2zm-2-2zm0-1zm-1 3zm-1-1zm-1-4zm0 4zm0-4zm-4-2zm0 8zm-1-1zm0-5zm-1 2zm-2 6zm-3-10zm0 0zm0 5zm0 6zm-1-8zm-1-1zm0 4zm0 3zm-1-7zm0-2zm-1 3zm0 1zm-1-4zm0 2zm-3 5zm-1 4zm-1-11zm-1 8zm-1-7zm0 2zm0-3zm-1 4zm0 6zm0-1zm-1-4zm-1 5zm-6 0zm-1 0zm0-9zm-1 6zm-2 4zm-2-2zm0 0zm-1-7zm-1-2zm-2 8zm0-5zm0-3zm-1 6zm0 1zm-1-3zm-2-2zm-1 8zm-2-5zm-1 5zm-1-7zm0-2zm0 5zm0 2zm-2-1zm-1-5zm0 5zm-1-5zm0 5zm-5-7zm0 2zm-1 0zm0 7zm-1-2zm-3-3zm0 7zm-1-1zm0 0zm-2-4zm0 4zm0 1zm0-4zm-1 1zm-1-5zm-1 2zm-2-2zm0-2zm0 9zm0-2zm-1 0zm-1-8zm0 10zm-1-3zm0 1zm-1 0zm0-7zm-1 2zm-1 0zm-1-1zm0 2zm0-4zm-1 1zm0 7zm0-5zm0-1zm-2 3zm0-3zm-2 0zm-2 0zm0-1zm-1 5zm-2 0zm0 2zm-5-4zm-4-4zm14 16zm3 5zm1-4zm2-2zm1 6zm0-6zm2 2zm0-3zm2-2zm0 11zm3-6zm1 3zm0 3zm3-2zm1-7zm2 8zm0-5zm2 1zm0 0zm0-6zm2 11zm0-2zm1 1zm2-5zm2 4zm1 0zm0-6zm0-3zm0 3zm1-1zm1-1zm1 9zm1-9zm0 1zm1-2zm1 1zm1 7zm0-5zm0 0zm2 4zm2-4zm0 2zm1 0zm1-4zm0 6zm1-6zm2 0zm0 10zm1-11zm1 9zm1-1zm1-8zm0 10zm1-7zm3 8zm1-6zm0 6zm0-4zm0 4zm1 0zm1-10zm0-1zm4 5zm0 5zm0-7zm0 4zm1 2zm0-3zm2 2zm1-7zm3 5zm2 5zm1-9zm1 8zm0-7zm0 8zm2-1zm1 0zm1-1zm0-9zm1 9zm0 1zm1-7zm1 7zm0-7zm1 2zm0 0zm0 1zm1 3zm0-9zm1 8zm1-6zm1 2zm1 2zm2 0zm1-5zm0 2zm2 7zm1-4zm1 0zm2-5zm1 3zm1-3zm1 2zm0 6zm1 1zm0 0zm1 1zm0-4zm1-3zm0 4zm0-5zm1 0zm4-2zm1 8zm0-8zm0 0zm3 8zm1-5zm2-3zm2-1zm-13 13zm-6 3zm-5-1zm-1-2zm-1 6zm0 0zm-1-3zm-1-4zm0 0zm0 10zm-1-10zm-1 2zm-1 1zm-1 4zm-1-6zm0 4zm0-4zm-1 6zm0-3zm-1 2zm-1-2zm-2 1zm-1 5zm-3-8zm-1 8zm-1-9zm0 4zm0 4zm-1-1zm-5-3zm-2 4zm0-4zm-2 6zm0-1zm-2-2zm-1-4zm0-1zm-1 0zm-1-3zm0 1zm-2 1zm0 5zm-1 4zm0-8zm-1 2zm-1-2zm-1-2zm0 0zm-1 1zm0 9zm0-9zm-2 6zm0 3zm-1-7zm-2-2zm-1 5zm-1 3zm-2-9zm0 7zm0-2zm-2-2zm-1-4zm-1 10zm-2-6zm-1 4zm-1-1zm-1 4zm0 0zm-3-3zm0-3zm-1 0zm0 6zm0-4zm0-6zm-3 6zm-1 3zm-4 0zm0-3zm-1-7zm-1 9zm0-8zm-1 0zm0 7zm0-2zm-1 2zm0 1zm-2-8zm-5 5zm-2-3zm8 13zm0 1zm1-3zm2 0zm1 9zm3-11zm1 5zm2-2zm1-1zm2 6zm1-4zm1-1zm1-1zm0 3zm1-3zm3 1zm1 2zm0-4zm1 9zm1-4zm1-3zm1 1zm0 4zm0-7zm1 0zm0 1zm1 5zm1 2zm0-4zm1 5zm0-7zm0 7zm0-8zm3 1zm0-1zm0 3zm0-1zm0 6zm0-7zm5-1zm0-2zm0 2zm1 2zm1-2zm0 4zm0 4zm1-9zm1 5zm0 5zm1-11zm1 1zm1 1zm1 2zm0 6zm1-6zm1 3zm0 1zm4 2zm1-8zm1 3zm1 4zm0 0zm1-5zm0 1zm3-4zm1 2zm0 6zm1-1zm0-1zm3-1zm1-2zm0-4zm1 4zm3-2zm2 2zm1 0zm2-3zm1 2zm-36 9zm-4 4zm-3-4zm-4 0zm-8 0z" stroke="#6d1426" stroke-width="3.00" stroke-linecap="round" fill="none"/><path transform="scale(0.5)" d="M464 1663zm0 1zm6-1zm17 1zm159 10zm-42-6zm-3 7zm-4-1zm-65 5zm-4-7zm-8 7zm-34-10zm-5 6zm-4 0zm-3 10zm1-4zm23 10zm11-5zm1 0zm14-2zm0-4zm21 11zm8-5zm10 3zm4-9zm2 10zm4-7zm6 8zm4-4zm8 1zm14-5zm14-1zm11 1zm21 3zm2 17zm-6 0zm-5-3zm-20 0zm0-7zm-3 0zm-7 1zm0 9zm-2-7zm-2 2zm-7 5zm-5-8zm-1 8zm-7-1zm-17 1zm-1-6zm0-3zm-2 4zm-4 0zm-1 2zm-6 2zm-2-7zm-1 5zm-1-2zm-11 5zm-2-9zm-22 2zm-8 3zm-7 2zm-3-6zm-1-3zm12 18zm1 3zm3-1zm3 0zm5-3zm6-2zm4 2zm0 4zm3 0zm1-5zm2 5zm3-1zm2 1zm1-2zm1-7zm4 0zm3 9zm1-9zm6 2zm0 4zm0 3zm2 1zm1-4zm0 2zm6 1zm0 1zm7-6zm2-3zm1 4zm3-2zm4 6zm1 2zm0-3zm1-2zm2-4zm0 1zm0 7zm3 1zm1-2zm4-6zm8-1zm5 6zm7 2zm3-7zm3 2zm2 2zm1 3zm2-9zm4 4zm1 6zm1-4zm6-7zm1 7zm2-7zm1 3zm4 6zm3-3zm7 3zm24 1zm6-3zm-9 11zm0 2zm-6 1zm-5-4zm-5 4zm-4-5zm-1 7zm-10-3zm-1-1zm-2 1zm-3-4zm-2-1zm-4 1zm-3 6zm0-8zm-2 1zm-2 4zm-1-5zm-1 2zm-10-3zm-5 2zm-1 2zm-1 5zm-1-5zm-5-5zm-5 7zm-5-4zm-2-2zm-4 9zm-1 0zm-3-9zm-5-1zm0 1zm0 2zm-2 7zm-2-1zm0-4zm-2 1zm-1 2zm-6-3zm0 3zm-4-8zm0 8zm0-1zm0-7zm-4 9zm-1-8zm-1 7zm-5 3zm-3-8zm-1 8zm0-5zm-1-4zm0 0zm-1 2zm-2 0zm-2 4zm-11-7zm-2 7zm-3-2zm-11 3zm-4-3zm-3 5zm-3-5zm-8-2zm-1-4zm12 16zm17 2zm2-3zm2 4zm0-7zm1 9zm1-6zm4 0zm0 0zm1 3zm8 4zm1 0zm0 0zm9-2zm4-4zm1-4zm3 7zm2 1zm10 2zm3 0zm6-7zm1 8zm4 0zm1 0zm1-6zm6 0zm3-2zm0 7zm11-2zm6 0zm1-6zm8 2zm3-2zm5-1zm3 4zm0-3zm0 4zm4-1zm4 6zm4-4zm1-2zm1 4zm1-3zm5-3zm0 7zm1-3zm1 3zm3-3zm1-6zm2 5zm8 5zm15-1zm2 7zm-11-2zm-6 5zm-5-7zm-3 1zm-2 5zm0-7zm0 7zm-1-2zm-6 3zm-4-6zm-1 9zm-1 0zm-1-3zm-7-7zm-2 7zm-4-4zm-4 1zm-3 4zm0-6zm-1-1zm-1 1zm-4 0zm-3 0zm-10-1zm0 8zm-1 0zm-6-6zm-1-2zm0 6zm-5 3zm-1-11zm-3 1zm-1 2zm-1-3zm-2 2zm-3 2zm-1 6zm-4-2zm-2-6zm-3 4zm-1 5zm-4-1zm-13-10zm0 2zm-10 7zm-4-5zm-4 7zm0-5zm-3-4zm-1 0zm-7 3zm-1-4zm-8 9zm-1-9zm-7 2zm20 10zm0 0zm3 6zm3 0zm0-3zm1 7zm7-1zm4-1zm6 2zm0-4zm4 0zm1 2zm2-4zm0-2zm0 3zm1 5zm1-5zm6 5zm1-2zm2-2zm2 2zm2-6zm3 4zm5-4zm1 8zm0-2zm0-9zm2 5zm0-4zm7 10zm1-11zm6 6zm3-5zm1-1zm0 0zm3 4zm0 6zm0-1zm4-6zm0 5zm2-8zm5 10zm3-4zm0-1zm6 4zm1-1zm4 3zm5-11zm3 8zm3-1zm0 4zm0-3zm1 0zm16 1zm4 1zm0-8zm2-1zm9 0zm1 2zm-5 12zm-1 0zm-3-3zm-3 10zm-12 0zm-1-4zm0-6zm-1 0zm-2 9zm-1-8zm-2 2zm-2 4zm-4-5zm-7 9zm-4-11zm-1 3zm-2-3zm0 6zm-2-4zm-6 2zm-2 4zm0 2zm-2-10zm-5 10zm-9 0zm-3-2zm0-6zm-3 5zm-1 3zm0-7zm0 4zm-3-2zm-3-2zm-4 4zm-2 4zm-4-6zm-2-4zm-6 8zm-4-1zm-12 2zm0-6zm-3 7zm0-5zm-6-3zm0-3zm0 1zm-2 0zm0 7zm-5-3zm11 15zm3 2zm0-2zm4-6zm5 6zm0-3zm4-3zm1-2zm1 10zm3-6zm2 7zm2-8zm4 1zm5-2zm1 5zm2-7zm5 10zm6-3zm2 0zm2 4zm3-5zm5-5zm1 7zm0-5zm1 4zm2 0zm0-2zm1 0zm5 0zm1-4zm7-1zm2 6zm0 4zm2-1zm2-7zm4-2zm2 4zm0-2zm6 8zm1-8zm6 7zm1-6zm0-3zm4 0zm-9 14zm-4-2zm-5 5zm-2-4zm-4 0zm-4 2zm-5 7zm-6-2zm-5-7zm-1 0zm-2 5zm-4 5zm-2-5zm-1-6zm-1 10zm-1-9zm0 2zm-3-2zm-1 7zm-8-7zm-13 2zm-6 7zm-2-8zm-1 1zm-3 1zm-1 5zm-3-6zm-1 6zm8 6zm19 4zm8-6zm0 3zm2-3zm1 3zm6-4zm3 5zm4 5zm5-2zm2-1zm1-7zm2 2zm10-2zm3 0zm-36 15z" stroke="#b3202c" stroke-width="3.00" stroke-linecap="round" fill="none"/><path transform="scale(0.5)" d="M602 1663zm-128 8zm31 15zm26 4zm2-3zm45-3zm0 0zm1 2zm13 1zm7 3zm30 7zm-1 4zm-4 1zm-9-7zm-8 8zm-3-3zm0 1zm-11-5zm-2 0zm-25 4zm-1-6zm-9 9zm-15-5zm-3 5zm-2-4zm-13 0zm-5 0zm-29 0zm0-3zm-3-3zm-2-1zm16 19zm5-4zm0 0zm21 7zm1-4zm3-4zm5 3zm0 1zm9-6zm2 1zm1 1zm1-2zm3 0zm3 9zm2-6zm0 4zm4-6zm3 8zm3 2zm3 0zm2-7zm3 4zm9-3zm1-1zm4-3zm5 1zm1-2zm1 7zm2 1zm2 3zm8 0zm5-3zm0 2zm1-8zm5 7zm4-1zm6 0zm4 2zm1-1zm0-2zm6-4zm18 2zm9 1zm-6 14zm-8 3zm-1-11zm-4 10zm-2-7zm-10-3zm-2 5zm0 2zm-2-1zm-3-6zm0 9zm-7 2zm-1-9zm-1 0zm-1 4zm-5-3zm-4 8zm-6-9zm-5 8zm-1-2zm-11-5zm-2 2zm-1 0zm-3 3zm0-6zm-1 8zm-3 1zm-11-6zm-2 0zm-8 6zm0-10zm-20 10zm-2-5zm-6-3zm-3-1zm0-1zm-2 4zm-15 1zm5 9zm11 1zm5-3zm4 7zm15 2zm1-1zm4 2zm1-8zm9 8zm0-1zm24-6zm2-1zm1 7zm3-7zm0 4zm1 2zm1 2zm1-4zm7-4zm1-2zm1 0zm4 0zm1 0zm0 5zm10 5zm3 0zm2-11zm2 2zm1-2zm2 9zm1 0zm1-6zm1 4zm3 3zm1 0zm1-3zm0 1zm6-7zm6 6zm1 3zm13-1zm2-4zm24 16zm-31-8zm0 7zm-3-7zm-8 6zm-3 1zm-1-5zm-5 6zm-9-3zm-6-1zm-7 2zm0-2zm-1 6zm-17-3zm-1-3zm-2 3zm-4-3zm-6-4zm-1 8zm-10 2zm0-11zm-5 9zm0 0zm-4 0zm0-2zm-3-5zm-3-2zm-11 11zm-13-3zm-1-1zm-13 1zm-1-2zm-2 1zm18 11zm10 4zm0-2zm4-6zm1 6zm4-5zm3 1zm9-1zm15 3zm8-4zm1 7zm2-3zm3-3zm4 4zm5-2zm11 2zm9-1zm4-1zm3-3zm2 6zm1-5zm5 5zm1-1zm2 3zm1-4zm2-2zm3 7zm4-3zm17-4zm2-2zm-12 11zm-17 2zm-2-1zm-1 1zm-6 8zm-1-5zm-10-4zm-11 2zm-1-4zm-6 7zm-8 1zm-8 0zm-6 1zm0 1zm-3-2zm0 1zm-7 1zm-4-5zm-4 4zm-18-2zm-4-5zm-3 0zm18 13zm3 5zm5-5zm4-1zm4-2zm0 9zm5-5zm1-4zm3 2zm2 0zm3 5zm2-4zm1 4zm1 4zm1-7zm3 3zm8 0zm0-1zm10-6zm5 1zm9 5zm1 5zm4-2zm4-7zm10 1zm1 7zm1-7zm5-2zm-12 14zm-14-2zm-6 10zm-5-1zm-1 0zm-6-5zm-1-1zm-1 5zm-7 1zm0-2zm-1-7zm-4 4zm-1-2zm-2-3zm-11 7zm-2 0zm-2-5zm-1 5zm-7 2zm-1-6zm-1 2zm-3-2zm-9 3zm12 6zm1 1zm2 10zm2-11zm13 6zm1-3zm3 3zm7-5zm1 10zm2-11zm7 5zm0 3zm13-5zm-30 14z" stroke="#e9876f" stroke-width="3.00" stroke-linecap="round" fill="none"/><path transform="scale(0.5)" d="M507 1678zm7 11zm36-3zm33 3zm35-8zm67 21zm-81-10zm-7 4zm-8 2zm-6 2zm-6-6zm-51-1zm-7 4zm17 7zm13 11zm5-11zm28 1zm5 5zm1-6zm28 7zm21-6zm45 8zm0 9zm-7 5zm-40-10zm-11 5zm-1-3zm-32 3zm-17 2zm-6 1zm-4-6zm-17 5zm-28-2zm-3 14zm6 0zm27 0zm11-4zm3 5zm1-9zm0 8zm14 2zm5-9zm11 0zm5 6zm12 4zm32-6zm2 0zm8 2zm1 4zm6-6zm-25 9zm-1 1zm-9 7zm-7 1zm-5 0zm-12 0zm-12 0zm-4-3zm-5-3zm-14 5zm-6 0zm-19-8zm-15-1zm12 16zm9 4zm58 2zm34-4zm6-3zm21 13zm-2-3zm-3 8zm-5-9zm-16 9zm-4-4zm-23 4zm-8 0zm-20-7zm-5 7zm-4-6zm-5 7zm-12 2zm11 6zm10-6zm6 7zm2-7zm2 1zm0 8zm2-6zm0 7zm40-7zm4 10zm-10-1zm-2 3zm-4 5zm-5-8zm-11 1zm-17 5zm-3-1zm-6 0zm-10 3zm0 9zm13-2zm18 1zm11 4zm15-4zm9 0z" stroke="#f6c3ae" stroke-width="3.00" stroke-linecap="round" fill="none"/>
<g filter="url(#f16)"><rect x="545.4" y="542.7" width="400.5" height="400.8" fill="#000"/><path d="M579.7 586.8L613.4 582.4L628.1 578.0L642.7 578.0L654.4 583.9L672.0 588.3L694.0 592.7L723.3 585.4L752.6 591.2L754.0 610.3L767.2 624.9L780.4 636.6L793.6 644.0L800.9 670.4L796.5 693.8L787.7 715.8L783.3 726.0L759.9 720.2L737.9 723.1L716.0 727.5L701.3 717.2L679.3 730.4L657.4 715.8L642.7 720.2L631.0 712.9L619.3 695.3L613.4 683.5L598.8 679.1L582.7 668.9L581.2 657.2L588.5 642.5L591.5 636.6L584.1 624.9L581.2 613.2L580.5 598.5Z" fill="#fff" fill-opacity="0.38"/><path d="M590.0 752.6L606.1 742.4L616.4 739.4L642.7 742.4L672.0 741.6L701.3 736.5L745.3 732.8L771.6 739.4L789.2 752.6L796.5 776.1L795.1 793.7L783.3 811.2L767.2 831.8L748.2 856.7L730.6 874.3L716.0 888.9L698.4 905.0L679.3 909.4L666.2 905.0L657.4 890.4L642.7 875.7L631.0 856.7L616.4 837.6L598.8 823.0L587.1 811.2L588.5 790.7L587.8 768.7Z" fill="#fff" fill-opacity="0.36"/><path d="M623.7 739.4L620.7 711.6L686.7 723.3L702.8 737.8L686.7 749.5L625.1 745.1Z" fill="#fff" fill-opacity="0.16"/><path d="M683.7 711.6L783.3 714.5L774.5 746.8L745.3 739.4L683.7 742.4Z" fill="#fff" fill-opacity="0.1"/><path d="M881.7 742.8L886.4 735.1L898.0 737.0L909.6 738.8L912.4 745.1L902.6 743.0L891.0 741.6Z" fill="#fff" fill-opacity="0.4"/><path d="M579.7 586.8L613.4 582.4L628.1 583.9L636.9 598.5L639.8 617.6L628.1 630.8L598.8 636.6L591.5 636.6L584.1 624.9L581.2 613.2Z" fill="#000" fill-opacity="0.6"/><path d="M642.9 829.1L667.1 822.6L699.3 823.7L732.6 834.5L737.9 867.8L716.5 894.6L684.2 905.3L661.7 889.2L644.5 857.0Z" fill="#000" fill-opacity="0.75" filter="url(#bl5)"/><path d="M591.9 780.8L613.4 791.5L617.6 831.8L629.5 855.9L613.4 850.6L597.2 823.7Z" fill="#000" fill-opacity="0.6" filter="url(#bl4)"/><path d="M596.2 748.5L634.8 739.4L668.1 747.5L673.5 770.0L646.6 781.8L613.4 793.6L596.2 781.8Z" fill="#000" fill-opacity="0.3" filter="url(#bl4)"/></g>
<path transform="scale(0.5)" d="M1307 1485zm-4 2zm-32 0zm-8-8zm-16 7zm-38 12zm26-7zm2 3zm2 2zm13-6zm21 7zm2 0zm8-2zm1-6zm1 1zm31 1zm13 8zm11 12zm-12-10zm-8 2zm-5 1zm-15 0zm-2 6zm0-4zm-1-4zm-7 6zm-28 3zm-9-8zm-1-1zm-1-1zm0 6zm-2-4zm-7 8zm-4-7zm-8 5zm-13-2zm-3 0zm-1-4zm-6 5zm-7-3zm-11 9zm11-1zm41 9zm0 0zm12-3zm2 0zm2 4zm6-11zm2 1zm2 6zm2-7zm11 6zm14 5zm3 0zm0-5zm4-5zm11 3zm2 6zm7-6zm0-2zm2 6zm0-8zm35 17zm-13-1zm-3-3zm0 2zm-6 3zm-11-3zm0-1zm-1 2zm-31 7zm-4-5zm0-3zm-2 5zm-17-6zm-1 7zm-3 2zm-15-11zm-3 10zm-13-4zm-4 3zm-5-8zm-4 9zm0-10zm-8 5zm-9-2zm-2 4zm-3-7zm-6 0zm-8 13zm24 0zm7 4zm3-2zm3 4zm4-3zm0 3zm11 1zm1 0zm27-8zm24 3zm2-2zm3-1zm8 8zm3 0zm2-5zm1-1zm7 3zm19 2zm3-5zm-16 17zm-11 3zm0-9zm-10 10zm-17 0zm0-3zm-2-1zm-2 2zm-13-3zm-2-3zm-1-2zm-1 6zm-9-2zm-1 2zm-9-2zm-12-4zm-1 7zm-2-2zm-11-4zm-3 0zm-1 8zm-6-6zm-3 4zm-15 4zm10 10zm0-3zm3-6zm0 10zm3-4zm10 4zm7-3zm21-2zm3 3zm2-8zm17 9zm5-3zm48-1zm43-4zm-12 14zm-32 5zm-25-7zm-2 5zm-1-2zm-7-3zm-7 4zm-29 5zm-7-8zm-10 1zm-8 6zm-8-6zm-5-2zm-14-1zm-7 14zm3 2zm3 2zm4 1zm9-7zm14 4zm1 1zm116-5zm34 2zm0 17zm-1-6zm-35 2zm-64 3zm-23-1zm-20-4zm-5 2zm-29 7zm2 2zm14 7zm7-4zm12-3zm49 1zm22 1zm35 8zm20-8zm16-1zm-154 10zm-8 0zm-6 0zm-4 11zm-3-3zm25 11zm18-6zm86 7zm13 1zm0-7zm9-1zm39 7zm13 3zm8-8zm10 1zm-39 15zm-1 4zm-2-4zm-9-7zm-7 9zm0 1zm0 1zm-4-9zm-5 8zm-3 1zm-7-10zm0 8zm-4-3zm-80 0zm-50 0zm-2-5zm24 21zm12-4zm2 0zm46 3zm1-4zm30 1zm2-3zm22 7zm13-7zm6-3zm6 0zm2 8zm1-3zm16 2zm10-3zm2-1zm16-2zm14 8zm3 0zm12-8zm2 4zm57 7zm-52 6zm-9 0zm-15 3zm-2-3zm-9-3zm0 0zm-4-3zm-1 10zm-7-6zm-5 5zm-2-9zm-2 5zm-2 2zm-7 4zm-4-10zm-4 2zm-19 2zm-6 0zm-1-5zm-16 3zm-29-2zm-30 5zm-22-4zm-21 1zm-3 4zm28 14zm9-5zm29-1zm1-2zm6 5zm1 1zm13-7zm9 0zm11 4zm15 3zm6 4zm28-3zm5-6zm9 9zm10 0zm19-1zm8-2zm4 2zm8 0zm12-10zm10 9zm-2 12zm-10 2zm-7-11zm-1 5zm-5 1zm-1 2zm-2 0zm-3-5zm-13-2zm-9 6zm-2-3zm-15-2zm-8 0zm0 5zm-3-7zm-3 11zm0-2zm-5 2zm-3-6zm-5-5zm-3 9zm-18 0zm-1-9zm-7 8zm-5-5zm-17 7zm-12-10zm-10 10zm-1 1zm-1-6zm-23 0zm13 10zm10 0zm24-2zm3 6zm2-2zm9-2zm0 2zm0-5zm9 4zm8-4zm5 6zm6-2zm1 1zm14 1zm5 5zm1-4zm6 1zm17-3zm3 1zm1-5zm2 1zm32 7zm8-4zm9-2zm5 7zm1 0zm14 2zm-18 10zm-15-10zm-21 3zm-1 6zm-6-6zm-20 0zm-1 2zm-15-2zm-2 0zm-13 7zm-9-6zm-3 5zm-4 0zm-6-5zm-6 5zm-9 1zm-27-2zm-1-1zm-2-5zm-25 5zm33 7zm1 5zm7-4zm11 7zm10-9zm2 2zm7 8zm0-8zm3 1zm2-3zm0 3zm3 6zm8-4zm1 3zm9-6zm5-3zm5 3zm22 1zm1 1zm14 4zm7 1zm2-8zm2 3zm11 3zm6-8zm2 10zm-2 13zm-4-7zm-2 4zm-1-2zm-9-5zm-3 1zm-3-2zm-21 6zm-4-6zm-3 11zm-1-1zm-12-4zm-7-4zm-8 2zm-1 5zm-17 1zm-12-5zm-7-5zm-15 8zm-14 0zm-8-5zm-14 0zm19 16zm12-7zm0 5zm4 1zm1 2zm2-8zm6 8zm17-6zm4 7zm9-2zm6 2zm23-3zm11-4zm16 1zm2 8zm3 0zm11-2zm-23 6zm-1 3zm-21 0zm-5-1zm-3-3zm-8 4zm-1 4zm-3 0zm-4-8zm-6 6zm-6-1zm-12-6zm-8 7zm-3 0zm0-4zm-11 11zm26 4zm6-3zm18 2zm20 1zm32 2zm-5 6zm-15 3zm-2-3zm-16 3zm-3 3zm-4-9zm-4 0zm-5 4zm-14-3zm-8 9zm-3-10zm8 12zm23 4zm16 1zm5 2zm9-6z" stroke="#6d1426" stroke-width="3.00" stroke-linecap="round" fill="none"/><path transform="scale(0.5)" d="M1292 1484zm-42 2zm-22-6zm-34 19zm16 0zm9-8zm23 4zm2 0zm0-3zm21 7zm13-2zm11-8zm5 7zm15 2zm4-1zm20 14zm-7 0zm-21-5zm-23-5zm-31 3zm-7 3zm-9 1zm-9-1zm-9 0zm-1-5zm-3 5zm0-5zm-12 2zm0 19zm1-9zm0 0zm8 0zm27 7zm16-7zm4 5zm31-4zm19 1zm9-4zm15 6zm28 16zm-23-8zm-3 7zm-1 1zm-13 1zm-13-1zm-7 1zm-1-2zm-9-1zm-5-6zm-6 4zm-5 1zm-5-5zm-7-2zm-3 5zm-6-4zm-4 1zm-15 4zm-3-5zm-1 1zm-19 7zm-18 14zm10-10zm4 1zm4-1zm24 4zm3-2zm12-3zm2 4zm6 4zm10-5zm15 2zm7-1zm1-4zm17 6zm8 3zm1 1zm11-7zm6-1zm2 9zm3-10zm0 3zm-23 19zm-1-2zm-5-1zm-12-1zm-9 3zm0-5zm-10-3zm-13 8zm-3 0zm-8-5zm0 5zm-2-7zm-9 1zm-3 5zm-2-8zm-14 6zm-2 3zm-3-8zm-2-2zm-1 9zm-8-7zm-14 8zm-15 5zm14 0zm12 2zm16 1zm0-5zm1 9zm0-2zm24-3zm52-5zm10 10zm0-7zm52 17zm-71-3zm-4-1zm-3 5zm-24-7zm-35 4zm-8 2zm-17-8zm4 14zm34 8zm120-10zm23 4zm14-1zm-2 9zm-105 10zm-8-2zm-35-5zm-17 8zm-13-7zm-13 0zm-14-1zm3 14zm27-3zm14 9zm12-2zm10 0zm6-2zm41 3zm41-1zm9-1zm44-5zm13 8zm23 11zm-81-5zm-63-1zm-86-3zm5 20zm11-4zm31 2zm27 2zm33-4zm55 3zm3-8zm23 1zm15 4zm16 3zm29 15zm-28-5zm0-4zm-11 4zm-37 5zm-15-6zm-8-4zm-116 10zm-6-9zm-3 1zm-29-3zm66 19zm36-7zm10 2zm0 8zm8-9zm13 0zm22 9zm23-4zm0 2zm20 3zm6-3zm4-3zm0 3zm10 1zm55 10zm-9-7zm-39 7zm-2-4zm-15 4zm-4 0zm-17-5zm-8 7zm-1-7zm-1 0zm-5 3zm-9 1zm-15-5zm-15 0zm-26 8zm-6-1zm-1 1zm-1-5zm-4 1zm-6 4zm-4-3zm-24 1zm27 6zm1 4zm41 0zm2 3zm3 0zm15-1zm0 1zm17-2zm1-3zm2 3zm7-1zm26 3zm18-2zm4 4zm2 1zm6-7zm10 5zm12 1zm1-5zm0 4zm13-6zm9 5zm3 2zm15 10zm-30-3zm-16-1zm-2-1zm-8 3zm-11 0zm-12-1zm-2-2zm-18 0zm0 8zm-2-8zm-9 4zm-5 3zm-10 0zm-1-8zm-11 1zm-6 8zm-1-6zm-4 6zm-6-8zm-8 1zm-19 4zm-15 12zm6 0zm1-6zm0-2zm8 10zm0-10zm13 5zm6 4zm3-6zm4 2zm25-1zm0 0zm11 2zm8-6zm13 10zm13-5zm10-2zm11-2zm11 4zm8-2zm5 1zm5 6zm30-4zm-16 13zm-7-7zm-31 11zm-10-1zm-5-8zm-9 5zm-5 0zm-2-1zm-3-1zm-12-2zm-2 6zm-7 0zm-5-8zm-29 9zm-10-3zm-9 1zm-3-6zm-8 9zm-4-2zm-16 9zm5-2zm56 7zm25-1zm20-8zm5 9zm1 0zm0-9zm11 5zm13-4zm11 0zm22 6zm10-8zm-16 15zm-24 3zm-2-6zm-1 4zm-1-2zm-19-1zm-1 8zm-1-5zm-15 5zm-3-3zm-15-6zm-35-1zm-1 3zm-3 1zm-5 1zm-3 0zm-5 4zm-14-7zm-16 1zm29 12zm4 0zm4-3zm7 4zm12 6zm5-5zm18-5zm3 7zm1-2zm3 6zm5-1zm24 1zm15-10zm16 0zm2 3zm7-4zm1 10zm1-8zm-20 21zm-21-2zm-6 0zm-1-3zm-2 2zm-2-7zm-14 2zm-17 3zm-26 2zm25 8zm2 4zm12-8zm24 0zm2 9zm5-5zm1 0zm2 1zm2-4zm9 10zm-55 12zm-14-2zm-23-6z" stroke="#b3202c" stroke-width="3.00" stroke-linecap="round" fill="none"/><path transform="scale(0.5)" d="M1235 1487zm30 3zm4-2zm13 10zm32 0zm10 1zm4-2zm-26 14zm-14 0zm-8-9zm-6 3zm-19 0zm0-1zm-16-3zm-2 9zm-15-3zm-11 0zm-6-1zm-14 7zm20 2zm15-2zm8 10zm4-5zm9 1zm1 3zm6 0zm6 1zm18-9zm9 0zm12-1zm17 4zm0-5zm1 0zm2 1zm15 9zm23 10zm-17-6zm0-2zm-8 7zm-11 1zm-14-8zm-4 9zm-26-4zm-5 3zm-24 1zm-6-3zm-22 5zm-6-5zm-4 10zm27 5zm2-5zm5 5zm2 0zm8-9zm10 7zm9-5zm7 0zm22 7zm12-8zm2 2zm30-3zm17 7zm-21 9zm-13 5zm-17-6zm-8-3zm0 4zm-2 5zm-2-4zm-11 0zm-11 6zm-5-3zm-4-5zm-2 8zm0 0zm-9-8zm-11 0zm-3 2zm-31 5zm-16 1zm-3-5zm47 13zm1 1zm6 1zm0 0zm5-7zm4 7zm15-9zm78 1zm-8 17zm-58-1zm-14 1zm-38-5zm-21 0zm-4 3zm-1-3zm-2-1zm-16 13zm35 4zm57-4zm14 10zm25-3zm72 3zm-16 12zm-58-1zm-36-6zm-80-4zm-20 7zm27 14zm1-1zm37-5zm110 0zm61 15zm-153 3zm0-4zm-4 3zm-37-1zm-16-3zm-4-3zm-4 7zm48 6zm85 8zm30 1zm1-7zm53-3zm22 9zm12 9zm-16-1zm-9-6zm-14 5zm-10 6zm-33-3zm-17 2zm-2-9zm-8-1zm-11 7zm-15 4zm-13-9zm-33 4zm-62-1zm12 16zm100-1zm19-3zm1-5zm11 9zm6 2zm23-10zm6 10zm3-11zm3 7zm37 2zm1-8zm9 10zm16-9zm39 7zm-45 11zm-2-5zm-10 1zm-18 3zm-2 2zm-1-6zm-20 7zm-2-8zm-11 0zm-56 6zm-4-5zm-1-1zm-16 8zm-2-8zm-22-2zm12 14zm30 6zm45-1zm24 3zm22-2zm6-4zm2-2zm4 6zm18 2zm5 1zm12-10zm8 11zm-10 8zm-5-2zm-15 1zm-7 0zm-14-2zm-3 2zm-33 0zm-4-7zm-20 3zm-6 4zm-2 3zm-56-6zm-22 5zm13 9zm9-2zm17 4zm5-8zm18 5zm49-3zm1 5zm1-3zm9 5zm15-2zm19-3zm41 12zm-12-2zm-8-1zm-1 7zm-1-2zm-21 5zm-21-11zm-11 10zm-41-3zm-8-5zm-11 7zm-7-5zm-1-1zm-53-1zm27 13zm19 0zm6 3zm34 2zm1-3zm1 6zm9-9zm18-1zm11 4zm18-2zm24 3zm16-1zm7 3zm-13 5zm-14 7zm-1-1zm-3 2zm-23 0zm-2 1zm-8-10zm-24 1zm-30 3zm-21 6zm-4-3zm-5 3zm-24-4zm23 10zm3-2zm11 1zm6 7zm12 1zm1-1zm1 1zm2-7zm13-3zm17 9zm2-5zm1-2zm6 7zm14-2zm7-5zm21-2zm-40 17zm-26 0zm-9 0zm-16 10zm2-1zm2 7zm15 1zm4-10zm41 1zm14-2zm-48 13zm-6 6zm-7-3zm-16-1zm16 15zm9 3zm2 3z" stroke="#e9876f" stroke-width="3.00" stroke-linecap="round" fill="none"/><path transform="scale(0.5)" d="M1234 1485zm43 3zm34 9zm15 2zm-30 1zm-52 3zm-61 0zm10 16zm34-5zm34 8zm11-4zm8-2zm53 17zm-48-4zm-8-3zm-64-1zm-8 8zm-14-4zm24 10zm9 7zm11-10zm19 6zm4 3zm8-3zm17 1zm50-1zm0-6zm15 3zm-11 12zm-21 8zm-16 0zm-84-8zm6 17zm1-7zm54 1zm13 12zm-41 0zm-39 1zm-8 18zm13-4zm5 0zm12 4zm122-4zm14 5zm-21 3zm-17 5zm-37-4zm-66-1zm-4-1zm-6 1zm-28 1zm215 30zm-101-1zm-50 0zm-10 1zm189 27zm-43-8zm-40 6zm-127-6zm65 20zm12-3zm2 3zm3-7zm11 4zm14-5zm33 6zm41 1zm43 2zm-9 2zm-29 3zm-15-5zm-23 9zm-2-9zm-24 3zm-22 2zm-51-2zm19 13zm19 5zm8 1zm17-5zm23-1zm73 7zm24 0zm0-4zm19 3zm-22 9zm-6-7zm-5 7zm-50-7zm-24 1zm-47 10zm-10-10zm-7 9zm31 11zm36-4zm4 3zm15-6zm21-2zm48 14zm-12-2zm-5 3zm-17-1zm-3 5zm-23-3zm-25 3zm-30 2zm-43-3zm12 13zm50-2zm26 6zm10-1zm2-1zm2-7zm10-1zm28 6zm7-6zm20 6zm-11 7zm-7 2zm-5-2zm-52 2zm-16 1zm-85 2zm30 5zm0 1zm20-1zm19 7zm23-5zm26 6zm9 1zm13-6zm-23 20zm-56-3zm-2-8zm-17 9zm-14-8zm-3 14zm63 8zm3 12z" stroke="#f6c3ae" stroke-width="3.00" stroke-linecap="round" fill="none"/>
<path transform="scale(0.5)" d="M1197 1155zm4 24zm252 44zm-115-6zm-18-1zm-12 0zm-107 7zm-31 0zm122 12zm12-10zm193 7zm-162 15zm-8-7zm-23-1zm-29 8zm-10-3zm-5-1zm-109-1zm47 14zm8 2zm19-4zm71-4zm11 3zm18 3zm184 8zm-188-4zm-2 7zm-5 3zm-9 2zm4 9zm2-2zm256 13zm-36-5zm-66 7zm-151-4zm-62 4zm-15-10zm-3 4zm-56-3zm22 19zm46-5zm76-3zm65 23zm-134-5zm-30-1zm-39 4zm23 12zm85 10zm-41 1zm-13-5zm353 20zm-286 7zm-64-4zm13 21zm17-8zm-16 17zm25 7zm45 0zm14 6zm226 35zm-208 17zm-77 47zm206 23zm27-3zm44 1zm4 6zm-331 4zm-22 13zm208-1zm160-2zm-2 13zm-55 17zm-308 3zm96 81zm-33 11zm25 27zm-12 14zm11 45zm148 18zm-55 21zm-46-2z" stroke="#6d1426" stroke-width="3.00" stroke-linecap="round" fill="none"/><path transform="scale(0.5)" d="M1174 1175zm221 7zm8 11zm-112-2zm-1-3zm-34 4zm-15 18zm44-4zm32-3zm215 16zm-198 3zm-16-1zm-19-7zm-97 16zm10 1zm85-4zm10 6zm24-9zm7 10zm3-1zm2 1zm143-6zm-134 8zm-9 5zm-15-1zm-9 6zm-3-4zm-74-4zm-31 5zm-45 6zm88 7zm14-1zm46 4zm1-1zm7-6zm4 0zm15 4zm26-1zm78 2zm68 1zm-72 12zm-108-10zm-2 10zm-11 1zm-2-1zm-6-3zm-4 1zm-3-6zm-2 3zm-55-1zm-7 7zm-22-8zm-3 0zm-4 6zm-27-7zm-2 19zm21-4zm83 3zm17-7zm22 5zm11-3zm2 1zm2-4zm19 6zm105 14zm-130-1zm0 2zm-15-6zm-4-1zm-7 8zm-6-2zm0-5zm-5 0zm-45-2zm-1 8zm-19-8zm-17 8zm-14-2zm-3 12zm28 0zm3-1zm17 3zm31-1zm37-7zm221-1zm-47 14zm-51 3zm-5 5zm-150-4zm-18-5zm-85 2zm21 12zm91 1zm7 6zm145 0zm-116 8zm-8 2zm-24 3zm-71-2zm-40-8zm-1 2zm20 9zm36 8zm58 3zm253-2zm-10 5zm-241 5zm-12-6zm-14 8zm-24 0zm-35 7zm21 7zm32-11zm57 9zm14-1zm199-4zm-120 19zm-36-8zm-136 0zm340 9zm-23 12zm-299 6zm127 12zm-188 76zm179-2zm61 3zm-184 16zm301 11zm-108-1zm-42 19zm59 27zm-251 19zm303-2zm-339 22zm43 0zm115 1zm49 3zm123 6zm-150 10zm-69-5zm-4 12zm64 1zm-21 8zm-34 7zm15 12zm46 11zm-29-7zm22 32zm-26-1zm78 13zm44 18zm-19 9zm-83 11zm-18 1zm29 51zm-5 19z" stroke="#b3202c" stroke-width="3.00" stroke-linecap="round" fill="none"/><path transform="scale(0.5)" d="M1429 1166zm-123 7zm179 17zm-18 0zm-189 8zm47 13zm89 2zm-90 3zm-12 2zm-64 11zm4 0zm19 2zm23 3zm7-10zm11 2zm13 0zm88 12zm-39-2zm-4 10zm-4 1zm-3-4zm-21 3zm-3-10zm-15 5zm-6 1zm-15-6zm-1 8zm-16-8zm-5 9zm-68 1zm-40-2zm87 12zm32 2zm5-6zm4 4zm19 0zm1-2zm6-5zm4 8zm5-4zm43 5zm-31 5zm-12 4zm-22-6zm-12 3zm-3-1zm-1-3zm-18 1zm-27 14zm8 7zm78-1zm13-5zm208 16zm-27-1zm-80-3zm-10-2zm-97 8zm-1-4zm-22-2zm-45-4zm-63 15zm86-2zm211 8zm69 8zm-163 3zm-199-5zm-50 3zm52 17zm29-3zm21-3zm38 5zm85-1zm98 2zm11 5zm-196-4zm-12 11zm-4-2zm-18-1zm-17 1zm-72 2zm-6-6zm-10 4zm-8 0zm70 6zm50 1zm56-4zm165 5zm-45 7zm-28 0zm-201 2zm-8 14zm39-3zm26 9zm0-8zm20 9zm18-1zm218-5zm30 5zm-301 12zm238 29zm-29 16zm-114 1zm-34-7zm215 11zm-169 17zm79 11zm41 10zm-32 26zm-22 0zm-245 17zm112-5zm163 20zm34 8zm-227 15zm-22-4zm-73 16zm407 3zm-17 7zm-129-1zm-76 15zm92 10zm-29 1zm-67-8zm-41 6zm-35 4zm92 2zm-140 22zm200 1zm49 9zm-199 6zm218 22zm-217 19zm182-1zm-172 20zm70 7zm-34 8zm26 93z" stroke="#e9876f" stroke-width="3.00" stroke-linecap="round" fill="none"/><path transform="scale(0.5)" d="M1466 1196zm-193 0zm29 9zm158 2zm-62 13zm-41-7zm-37 4zm-1 1zm-160 12zm139-4zm19 1zm5 3zm3-3zm11 6zm176-6zm-165 15zm-28 2zm-5-8zm-26 8zm-105-1zm29 5zm28 2zm52 4zm6 3zm8 0zm60-1zm-58 13zm-39-2zm-1 2zm-98 7zm132 7zm18-5zm18-1zm152 6zm62 6zm-211-5zm-7 10zm-3-4zm-24-3zm-28-1zm-74 8zm-17-10zm60 20zm46 1zm21-6zm17-2zm13 10zm0-1zm70-3zm71 1zm-148 5zm-16 2zm-56-1zm-110 4zm67 6zm2 11zm11-8zm19-2zm91 4zm69 2zm-1 5zm-115 3zm-15 0zm-68 3zm-36-3zm39 9zm7 0zm66 7zm249-7zm-254 15zm-55 4zm-22 16zm30-4zm148 0zm107 3zm-81 12zm-1-5zm-9 3zm-102-8zm-66 5zm148 7zm123 4zm-26 11zm-21 11zm76 11zm-197 4zm-33 53zm232 14zm-314 29zm-6 4zm364 20zm-120 0zm-234-2zm362 31zm-79 1zm-6 26zm-96 30zm14-4zm-160 27zm63-1zm47 0zm5 47zm42-2zm41 0zm4 3zm-32 57z" stroke="#f6c3ae" stroke-width="3.00" stroke-linecap="round" fill="none"/>
<path transform="scale(0.5)" d="M917 2300zm-40 8zm41 4zm35-7zm-12 11zm-43 8zm-3 2zm11 9zm5-4zm11-3zm-5 19zm-59 4zm-41-1zm40 12zm43-10zm11 11zm18 0zm11-1zm-2 7zm-58 2zm-19 0zm-28 4zm-45 12zm1-5zm12 5zm8-5zm7-2zm28-1zm21 8zm2-5zm25-5zm37 8zm2 0zm-44 6zm-10-1zm-6 6zm-14-4zm-13-2zm-16 8zm-47 1zm-16-3zm64 7zm0 7zm5-3zm2-2zm14 4zm1-5zm0-3zm13 4zm1 5zm21-2zm19 3zm3-8zm16 17zm-12 0zm-62-6zm-17 8zm-52-6zm-2-4zm-25 10zm4 11zm9-9zm5 10zm15-9zm16 3zm8 4zm14-8zm39 5zm2-5zm5 4zm2 5zm3-9zm15 8zm12 3zm29-7zm-23 17zm-13-1zm-2-2zm-36 1zm-5 4zm-14-3zm-1-8zm-46 7zm-40 4zm1 6zm46 5zm14-1zm0-7zm1-2zm7 2zm38 2zm0-1zm11-2zm3 9zm15-5zm1 3zm11-1zm28-6zm1 8zm2-7zm2 6zm22 2zm11 6zm-11 7zm-10-7zm-43 6zm-6-10zm-1 4zm-6 1zm-19-4zm-7-1zm-10 1zm-1 10zm-24-8zm-16-2zm-7 0zm-25 3zm-22 3zm-23-1zm14 12zm23 4zm26 1zm10 0zm0-8zm23 4zm20-1zm5-1zm3 0zm24 5zm5-7zm4 7zm35-6zm25 6zm3-6zm19-2zm11 8zm38 0zm-129 10zm-8 3zm-9-9zm-3 1zm-19 3zm-8 2zm-28-2zm-1 3zm-8-2zm-48-1zm-13-1zm-5 4zm-9 10zm20-7zm9 4zm2 7zm23-1zm4-7zm47-1zm6-1zm0 4zm4-1zm0-2zm22 6zm8-2zm11-6zm47 10zm11-9zm3 3zm10 4zm37-8zm0 19zm-107-5zm-22 3zm-15 5zm-1-5zm-38 6zm-6-10zm-30 6zm-11-6zm-4-1zm-6 7zm-24-3zm-1 3zm19 12zm2 2zm12-7zm9-2zm15 7zm3-4zm9-3zm24 1zm6 4zm17 1zm20 2zm26-8zm6 1zm4 5zm24-2zm14 4zm39-7zm29 0zm15 0zm17-1zm56 5zm-113 17zm0-7zm-9 5zm-46 3zm-1-8zm-10 3zm-29 4zm-3 1zm-17-11zm-23 9zm-9-6zm-11-2zm-2 0zm-11 3zm-3 1zm-4 0zm-2 0zm0 3zm-26 3zm-2-9zm-8 7zm-6-2zm-19 0zm-12 3zm-10 5zm16 4zm16-2zm2-5zm0 4zm14 5zm20 1zm17-1zm23-8zm29 7zm19-8zm30 8zm3 0zm22-7zm45 5zm14-4zm20 2zm75 3zm4 12zm-101-1zm-15 5zm-28-6zm-8-4zm-7 8zm-7-8zm-5-1zm-5 8zm-7-2zm-9 5zm-13 0zm-12-5zm-3-3zm-2 2zm-6 1zm-25-3zm-19-1zm-4 0zm-19 1zm-8 7zm-20-6zm-9-4zm-6 9zm-32 3zm14 8zm8-6zm9 4zm3-1zm2 2zm5 4zm14-9zm7 9zm4-11zm8 7zm17-6zm1 9zm11 1zm9-3zm12-2zm44 5zm13-4zm11 0zm16-6zm13 7zm4-3zm74 2zm19-7zm43 10zm76 1zm-79 11zm-5-7zm-84 2zm-4 0zm-20 4zm-11-6zm-16 2zm-15-4zm-20 9zm-5-8zm-3 4zm-1-5zm-12 8zm-11 1zm-33-7zm-2 1zm-14 4zm-7-7zm-32 1zm-3 3zm-4 4zm-2-3zm-23-5zm-43 13zm39 9zm15-9zm6 8zm2 0zm4-5zm59 2zm16 3zm46-8zm60 9zm27-4zm33-3zm42-1zm16 6zm2 2zm110-2zm-5 4zm-175 3zm-15 5zm-15 0zm-51-4zm-15-5zm-1 11zm-5-4zm-26 1zm-8 2zm-8-9zm-11 4zm-24-1zm-21-4zm-17 6zm-4 5zm-27-1zm0-10zm-10 10zm-3-3zm-14-1zm-2 4zm4 6zm3 6zm1-8zm9-2zm2 8zm7-4zm16-3zm2 7zm9-4zm12 6zm31 1zm11-1zm4 0zm24 1zm1-1zm0-10zm18 2zm12 6zm34-3zm7 1zm8-5zm14 10zm21-11zm25 2zm25 6zm25 1zm24-1zm13-3zm64-1zm81-2zm4 7zm-151 13zm-107 0zm-15-7zm-24 8zm-20-1zm-53-5zm-6 1zm-5-3zm-2 3zm-14 5zm-28-3zm-7-8zm-13 8zm-12 3zm-32-11zm-13 7zm-15-6zm-9-1zm10 22zm0-4zm13-4zm10 8zm25-2zm9 3zm17-10zm4 8zm4 1zm5 1zm31-7zm13 0zm17 0zm18 4zm5 3zm14-2zm12-6zm16 4zm22 1zm8 0zm29-5zm67 4zm38 4zm0-10zm92 5zm35 1zm14 13zm-159-5zm-85 5zm0-7zm-20 1zm-33 4zm-18 5zm-8-8zm-23-1zm-4 9zm-27-4zm-5 0zm-5-2zm-11 2zm-22-1zm-2 1zm-8-2zm-6 5zm-5-3zm-4 3zm-4-5zm-5 0zm-6-5zm-1 1zm-15-1zm-7 2zm-37 5zm9 6zm19 7zm24-5zm8-3zm14 9zm8-9zm8 1zm23 6zm31-2zm8-1zm14 6zm11-1zm9-3zm12-5zm62 9zm5 1zm18-1zm5-5zm3-1zm64 2zm67 0zm66 2zm125-2zm-79 16zm-162-5zm-129-5zm-32 2zm-65-2zm-17 4zm-29-2zm-5 6zm-10-8zm-28 2zm-10 2zm0 3zm-2-3zm-5 7zm-11-7zm5 8zm22 10zm3-3zm9-1zm3 3zm2-1zm11-2zm17 0zm22-1zm3-2zm32-3zm12 4zm8 4zm8 1zm45-3zm6-1zm56 6zm16-11zm54 0zm30 9zm2-6zm4 2zm14 4zm10-8zm41 4zm-84 12zm-1-2zm-49-2zm-7 6zm-38-4zm-24 0zm-12-2zm-1-1zm-1 6zm-16 3zm-9-3zm0-4zm-4 3zm-23 6zm0-2zm-12-6zm-77 4zm-2 3zm-1-3zm-11-6zm-9 4zm-11-2zm-12-3zm-3 0zm-2 8zm-23-2zm-3-1zm-14-2zm17 14zm18-4zm6 8zm22-8zm38 6zm22-1zm28 3zm0-3zm8 5zm58-2zm21 1zm44-2zm22-7zm32 1zm60 8zm52-1zm12 0zm-27 11zm-13-7zm-1 7zm-45 1zm-1-1zm-51 3zm-69-1zm-25-2zm-40-5zm-28 0zm-17-2zm-8 2zm-8 4zm-28 2zm-7-4zm-10-2zm-5 8zm-6 0zm-9-3zm-19-2zm-7-2zm-23 3zm-5-3zm36 15zm13-7zm19 10zm7-10zm2 2zm19 4zm19 0zm71 0zm5-1zm5 4zm9-1zm1-4zm3 4zm13-8zm10 2zm34 3zm71-4zm41 1zm8-1zm85-1zm24 4zm-52 13zm-66 0zm-21-5zm-98 5zm-30-4zm-29 10zm-3-6zm-15-2zm-8 1zm-4 2zm-1 3zm-3 0zm-8-5zm-35-2zm-12 6zm-20 3zm-6-2zm-12-5zm-2 3zm-19-3zm4 9zm23 1zm4 0zm1 4zm28 5zm17-5zm3 1zm48-6zm0 5zm17-2zm23 4zm8 1zm40-6zm16 7zm44-9zm23 6zm1-7zm49 0zm35 8zm-92 12zm-3-6zm-10 0zm-11 5zm-23-4zm-3 6zm-17 0zm-9-8zm-8 8zm-15-1zm-7-2zm-25-3zm-18 8zm-49-7zm-12-1zm-28-2zm-5 2zm-30 4zm-29 1zm-1-6zm-9-2zm34 21zm16 1zm5-3zm5 3zm9 1zm23-8zm13 0zm7 8zm6-1zm9-7zm8-2zm8 7zm3-1zm37-1zm16 1zm38-1zm45 5zm151 1zm-54 11zm-94 0zm-18-5zm-68-4zm-1 5zm-15-6zm-4 10zm-19-6zm-15-4zm-67 5zm-4-6zm-14 7zm-9-6zm-4 6zm-9-4zm-6 6zm-4-8zm-11 8zm-18-4zm17 13zm19 5zm8-6zm10 2zm2 3zm2-6zm16 4zm5-6zm2 4zm11 2zm5-1zm25 3zm11-6zm2 6zm91-1zm1-2zm3-1zm1-2zm20 5zm200-8zm-185 13zm-47 6zm-10-6zm-48 0zm-1 9zm-15-1zm-4-8zm-5 2zm-43-1zm-24 4zm-21 15zm20 0zm1-1zm6-3zm0 4zm52-4zm43-3zm12 2zm24 1zm33-3zm21-1zm36 9zm2-3zm43-6zm27 5zm10-2zm55 10zm-109 8zm-29-7zm-25 7zm-56-11zm-4 3zm-45 7zm-36-4zm-4 4zm-25-1zm-6-8zm-10 5zm-28 15zm12-6zm30 5zm4-7zm56-1zm47 2zm1 4zm3-3zm38-1zm43 6zm67-4zm50 0zm-74 18zm-23-6zm-11-2zm-15 5zm-10 3zm-30-2zm-130-1zm-60-3zm20 8zm3 9zm3-4zm1 6zm45-7zm16-4zm12 1zm36 3zm3 4zm122 2zm75 0zm-48 2zm-51 7zm-56-2zm-18-5zm-83 0zm77 19zm30-4zm14 1zm4 2zm4 0zm25-2zm56-4zm-23 19zm-134 4zm-74-9zm76 15zm4 4zm34-5zm16-4zm26 19zm-35-7zm-9 23z" stroke="#fdfd9e" stroke-width="3.90" stroke-linecap="round" fill="none"/>
<path transform="scale(0.5)" d="M880 2314zm21-1zm40-1zm14 5zm-66 12zm27 20zm-8-9zm-8 5zm-57 12zm12 4zm72-4zm1 17zm-49-1zm-28-2zm-49 3zm-21 5zm25 5zm18-4zm7 6zm37-7zm15-2zm38 9zm16 1zm-27 3zm-121 13zm61 5zm23-4zm13 7zm55-11zm-27 22zm-36-3zm-7 0zm-64 2zm-30 3zm48 6zm56-3zm3 8zm27-1zm36 9zm-19 4zm-6-9zm-45-1zm-75 6zm0-2zm-12-3zm-6 6zm-18-5zm-23 12zm29 5zm51 3zm8-8zm55 6zm52-8zm32 21zm-33-4zm-33 3zm-25 1zm-34-2zm-47 8zm15-4zm19 11zm7-4zm7-5zm10-1zm8 9zm4 1zm13-6zm8 5zm24 0zm11-2zm9-5zm16 5zm34 14zm-24-6zm-28 0zm-17 3zm-5-4zm-28 7zm-17-2zm-31 0zm-1-5zm-46 4zm-16-4zm-27 8zm8 3zm9 3zm32 3zm7-6zm30 8zm3-5zm16 4zm5 2zm1-7zm6 5zm7-7zm9 0zm2 6zm11 1zm4 2zm3-5zm15 0zm14-5zm8 7zm8-8zm13 1zm74 4zm32 2zm6 13zm-39-2zm-49-1zm-2 6zm-37-5zm-2-1zm-13 6zm-2-11zm-14 8zm-6-1zm-16 4zm-27-8zm-10 0zm-41 3zm-1-6zm-15 3zm-4 7zm-32 6zm4 4zm16-5zm31 3zm37-5zm37 5zm73 5zm25-8zm13 6zm2-4zm0 6zm38-6zm62 5zm24 6zm-27 7zm-18-4zm-108-6zm-3 6zm-24-6zm-11 2zm-2 7zm-20-7zm-5 3zm-63 2zm-13-6zm-26 4zm-1 3zm-1 2zm-43-1zm-42 3zm19 3zm9 5zm4-1zm37 3zm23-4zm11-5zm9 6zm50-7zm5 8zm10-1zm6-1zm4 3zm15-6zm33 4zm5 3zm8-4zm19 0zm13-3zm41-1zm3 0zm20 5zm48-6zm33 10zm-40 5zm-65 5zm-44 0zm-3-2zm-21 1zm0-4zm-26 2zm-39-7zm-21 8zm-61-5zm-14 4zm-29 4zm-4-2zm-27-7zm-14-2zm-9 11zm13 11zm11-2zm17 2zm25-10zm11 10zm15-7zm6-1zm22-1zm22 4zm15 3zm5 1zm21-6zm18 7zm18-8zm20 4zm8 0zm4-1zm19 5zm26-7zm11 5zm9 3zm3-6zm27-3zm19-2zm9 4zm23 12zm-44 4zm-33-5zm-4 5zm-19-1zm-7-5zm-9 6zm-1-5zm-14 7zm-23-8zm-3 4zm-12 2zm-52-6zm-3 8zm-3-9zm-13 7zm-6 0zm-5-8zm-23 11zm-2-9zm-3 0zm-24 0zm-43 3zm-56 6zm2 2zm2 1zm3 0zm15 8zm53-6zm8-2zm28 9zm15-10zm1 9zm23-6zm51-2zm37 9zm22-6zm18 6zm15-6zm34 5zm38-5zm18 4zm68-4zm10-3zm38 10zm-24 4zm-19 5zm-7-4zm-57-1zm-4 5zm-55-5zm-3 1zm-32 4zm0-5zm-10-1zm-14 5zm-2-8zm-13 4zm-3 1zm-9 0zm-2 1zm-2 4zm-27 1zm-28-6zm-1-3zm-13 7zm-6 1zm-22-9zm-4 9zm-2-9zm-7 8zm0-9zm-14 7zm-22 0zm-80-3zm-13 7zm24 5zm12 1zm10 5zm5-9zm22-1zm35 3zm6 3zm12-6zm25 0zm1 8zm2-2zm0-3zm12 7zm11-2zm50 0zm3-6zm1 8zm11-6zm5 7zm48-9zm0 5zm8 4zm6-11zm12 10zm80-8zm90 6zm57 7zm-35-1zm-32-1zm-71 2zm-1 1zm-4 2zm-13-5zm-18 2zm-19-1zm-7 6zm-34 2zm-4-6zm-9 4zm-39-5zm-21 7zm-25-7zm-8 0zm-4 5zm-9-3zm-5 2zm-5 1zm0 2zm-31-8zm-6 7zm-18 2zm-3-6zm-2-5zm-42 3zm-17 5zm-1-3zm-14-3zm-10 6zm-12 0zm-34 1zm13 6zm20 3zm10-2zm9 5zm6 1zm1-4zm41 1zm3-4zm27 8zm44-5zm27-2zm5 6zm3 1zm22-8zm7 2zm10-3zm14 4zm18 0zm4 0zm18 1zm29-5zm5 8zm82-6zm7 4zm6-2zm5 3zm153-4zm-46 14zm-105-4zm-54-3zm-44 7zm-27-1zm-15 4zm-53-9zm-34 6zm-4-5zm-3-2zm-17 1zm-3 2zm-7-3zm-28 0zm-21 1zm-7 0zm-21 10zm-7-8zm-17-2zm-27 5zm-14 2zm-16 0zm-9 9zm5-4zm18 7zm16-1zm28-4zm34 8zm1-8zm16 3zm12-3zm4-2zm120 10zm130-7zm36 3zm100-7zm54 10zm-24 13zm-62-9zm-124 5zm-30 3zm-2 0zm-7-2zm-20-8zm-13 10zm-30 1zm-10-10zm-5 9zm-16 0zm-6-2zm-7-5zm-7 2zm-9 5zm-38-5zm-4 3zm-19-1zm-4 1zm-5-4zm0 7zm-26-7zm-17-1zm-16 6zm-4-7zm-17 5zm-40-7zm21 23zm9-9zm1 4zm111 0zm13-4zm9 7zm0-3zm6 1zm16 1zm18-3zm12-4zm17 4zm18 5zm3-8zm12 8zm13 1zm30-5zm90 2zm6 1zm22-8zm31 1zm52-1zm3 4zm100 9zm-125-2zm-68 2zm-58 1zm-2 4zm-10-4zm-27 0zm-30 8zm-8-9zm-13-2zm-5 2zm-2 3zm-67 3zm-32-6zm-13 2zm-10-3zm-16 3zm-5-2zm-4 5zm-10 1zm-16-8zm-5 1zm-7 5zm-3-5zm-5 2zm-18 0zm-24 2zm-31 3zm26 13zm1-4zm11-2zm11 4zm25-7zm34 10zm7-10zm3 7zm21-6zm2 4zm85 1zm3 0zm21-4zm46 8zm41-3zm22-1zm11-4zm14-1zm108 6zm-24 7zm-32 2zm-33 4zm-4-7zm-32 5zm-4-2zm-3 2zm-12 5zm-15-1zm-12-6zm-16 7zm-8-8zm-58 4zm-17 3zm-3-8zm0 3zm-61-3zm-15 7zm-10 0zm-7-5zm-10 7zm-1-7zm-19 0zm-44 3zm-35-3zm-5 13zm17 6zm66-3zm34 0zm69 1zm6 2zm12 0zm6-7zm20 3zm3-3zm16 6zm3-9zm43 1zm22 4zm46-5zm22 4zm8 6zm32-10zm86 6zm9-3zm-33 10zm-12 7zm-9-2zm-35-3zm-5-2zm-39 2zm-33 1zm-36 3zm-3 1zm-12-4zm-30 3zm-11 3zm-4-11zm-7 10zm-9 0zm-7-4zm-13 4zm-63-2zm-21 2zm-3-10zm-21 7zm-3-4zm-18 5zm-20-7zm-5 10zm-3-6zm-9 3zm-11-2zm-20-3zm37 19zm2-7zm28-1zm15 9zm1-2zm9 0zm14-9zm41 4zm5 0zm9 2zm32 1zm14 2zm2-3zm5-3zm11 7zm2-2zm5-2zm29 3zm32-8zm8-1zm245 15zm-46-1zm-114 5zm-54-6zm-37 9zm-18-7zm-86 8zm-22-7zm-7 3zm-4-6zm-7 10zm-31-2zm-13-1zm-22-2zm-18-5zm-15 10zm-12-3zm-13-8zm40 14zm26 7zm24-1zm24-4zm23-4zm4 1zm28 7zm16 2zm24-7zm37 6zm39-9zm11 4zm31 4zm150 1zm-34 3zm-74 3zm-26 4zm-26 1zm-18-1zm-22-5zm-47 8zm-26 1zm-4-2zm-9-4zm-4 2zm-2 3zm-12-10zm-8 10zm-14-6zm-11 3zm-6 1zm-5-4zm-14 7zm-4 0zm-4-9zm-29-1zm-6 3zm-4 1zm-4-3zm-8 7zm-19-2zm-12 3zm-38 7zm18-2zm10 2zm3-2zm1 3zm14 5zm10-11zm3 5zm3-2zm0 8zm21-6zm19-3zm65-2zm19 3zm11 0zm16 1zm30 1zm6-4zm7-1zm13 7zm6-2zm18 6zm116 4zm-15 0zm-12 3zm-11 1zm-12 2zm-49-3zm-22 4zm-35-6zm-11 0zm-37-1zm-1-3zm-24 4zm-33 1zm-8 5zm-11 1zm-1-9zm-28 8zm-7-9zm-24 3zm-23 3zm-21-7zm57 12zm12 1zm2 1zm7 9zm5 0zm15-5zm20 4zm49-7zm123 8zm21-3zm84 12zm-95-1zm-17 1zm-65 0zm-7-3zm-13-3zm-6 5zm-28-4zm-4-1zm-3 4zm-6-6zm-22 10zm-10-7zm-3 7zm-47-7zm-8 4zm-40 8zm12-2zm0 2zm10 2zm3 4zm11-4zm3-3zm1 8zm13 0zm1-6zm41-3zm78 4zm12 1zm11-2zm5 7zm64-9zm7 4zm85-3zm-2 18zm-25 2zm-120-7zm-9 1zm-18 2zm-3 2zm-23-8zm-34 2zm-4 8zm-41-7zm-38 8zm41 10zm64-1zm5 2zm8-11zm37 3zm21-1zm39-2zm41 0zm18 0zm-21 20zm-25-5zm-30 2zm-28 6zm-7-10zm-29 3zm-3 4zm-8-5zm-70-2zm-15 11zm16 1zm93 1zm50 0zm52 19zm-39-1zm-41 3zm-28-7zm-16 1zm-27 0zm-9-3zm-5-1zm-22 6zm-8 5zm27 4zm26-3zm29 10zm59-4zm-9 9zm-79 3zm-41-4zm58 14z" stroke="#fbf07a" stroke-width="3.90" stroke-linecap="round" fill="none"/>
<path transform="scale(0.5)" d="M936 2330zm-10 14zm-63 7zm-25 1zm27 4zm60-4zm6 1zm-13 21zm-47 1zm-64 12zm63-3zm10-4zm24 2zm14 13zm-1-6zm-35 8zm-70 2zm43 7zm45-3zm19 20zm-19-2zm-32-4zm-2 2zm-41-6zm-5 0zm-21 9zm-23-6zm-23 19zm35-4zm18-1zm35-1zm25 3zm9 0zm11-4zm10 5zm7-7zm38 1zm-178 16zm-3-5zm11 10zm62 8zm29-4zm24-3zm20-1zm14 22zm-35-5zm-15-1zm-15-1zm-6-2zm-48-1zm-27 5zm-23 17zm80-8zm39 9zm66-10zm9 5zm43 2zm-7 10zm-11 1zm-13 2zm-5-4zm-51-5zm-46 2zm-5 6zm-1-4zm-4 1zm-6-3zm-47 4zm-31 2zm-9-4zm-17 10zm60 7zm14-5zm43 0zm11 5zm11-9zm27 7zm15-2zm6-5zm13 11zm6-2zm9-4zm7-3zm76 1zm-38 18zm-13 1zm-2-4zm-39 3zm-44 1zm-17-10zm-8 10zm-15-3zm-6-2zm-5 3zm-6-2zm-5 2zm-1-1zm-5 3zm-8 0zm-4-1zm0-2zm-1-6zm-19 10zm-19-10zm-4 5zm-10-3zm-21-2zm-8 8zm-4 0zm30 7zm28-1zm0 4zm10-1zm17-4zm0 4zm2-3zm4 4zm22-4zm5 0zm14 0zm16 8zm1-10zm20 5zm2 1zm3-5zm2-2zm4 11zm9 0zm8-3zm42-7zm5 0zm13 10zm22-11zm18 9zm28-3zm2-5zm25 15zm-5 3zm-9 3zm-10-4zm-47-2zm-14 0zm-8 3zm-10-2zm-26-4zm-2 2zm-17 2zm-7 6zm-8-8zm-6-2zm-28 3zm-4-1zm-4 0zm-32 7zm-3 1zm-29-10zm-11 8zm-18-7zm-8 7zm-27 1zm-8-7zm24 14zm8 6zm14 0zm20-5zm4 1zm32 1zm5 2zm0-7zm43 7zm6-9zm9 3zm33 4zm8-7zm6 8zm20-2zm13-5zm2 9zm52-7zm17-1zm39-1zm69 16zm-25 4zm-13-8zm-84 9zm-7-9zm-8-2zm0 11zm-15-8zm-3 4zm-1-2zm-28-1zm-27-4zm-6 0zm-3 0zm-5 8zm-1-8zm-49 2zm-8 9zm-9-2zm-29-5zm-24 1zm-2 5zm-18-1zm-8 2zm-14-7zm-18 4zm-20 0zm-3 1zm-18-3zm21 15zm2 1zm26-2zm0-6zm7-2zm5 7zm7 2zm11 1zm1-10zm6 4zm27 6zm4-2zm5-3zm11 1zm21 2zm21-5zm10 8zm10-2zm7-2zm14 1zm11-1zm12 2zm4 2zm21-7zm31 5zm6-3zm5-3zm36 5zm87 2zm39 1zm18 9zm-16-7zm-13 1zm-83 0zm-29 0zm-5 6zm-17-8zm-37 2zm-52 5zm-18 0zm-12 4zm-54-5zm-23-5zm-38 0zm-2 0zm-20 5zm-10 3zm-49-9zm-9 20zm32-3zm9-1zm31 7zm4-8zm10 3zm1-2zm4 5zm9 2zm15-11zm46 5zm22 5zm3 1zm7-8zm6 5zm10 3zm18 0zm12-4zm20-4zm8 6zm1-6zm7 0zm1 6zm11-1zm26-3zm19-5zm5 7zm1-7zm5 5zm15-1zm23-3zm6 0zm29-1zm2 8zm21-3zm19-2zm37 1zm-8 12zm-30 3zm-70-1zm-11 3zm-12 0zm-18-5zm-3-4zm-4 10zm-5-1zm-4 1zm-51-10zm-32 2zm-8 5zm-40 1zm-4-6zm-12-2zm-5 0zm-11 4zm-33 6zm-4 1zm-1-8zm-8 1zm-8 1zm-14-5zm-4 8zm-22-7zm-38 4zm-5 2zm-13-7zm-23 15zm13 4zm16 0zm41-5zm7-1zm19 6zm6 0zm4 3zm1-6zm48 2zm29-4zm6 7zm15-9zm4 1zm4 2zm4 8zm10-8zm1 3zm66-5zm36 6zm3-6zm6 0zm18 1zm29 3zm11-4zm27 4zm1 4zm4 0zm47-1zm3-7zm58 14zm-47 6zm-17-2zm-27-2zm-41 2zm-26-1zm-43 4zm-4-10zm-43 2zm-17 5zm-6 0zm-15-1zm-13 2zm-4-5zm0 5zm-16-2zm0-6zm-6 5zm-34-1zm-6-2zm-5-1zm-4 3zm-7 7zm-9-10zm-11 7zm-17-2zm-2-3zm0 7zm-12-6zm-3 0zm-23 6zm-37-1zm-22 1zm-6-6zm-22 5zm16 11zm30-1zm0-3zm10-3zm3 2zm33 3zm13 2zm29 1zm16 0zm9-7zm4 2zm18 4zm22 0zm0-6zm12 0zm9 4zm7-3zm8 5zm27-3zm3 3zm71-2zm2-5zm10 3zm11 4zm49 0zm37-8zm36 7zm9-6zm5 6zm67-3zm34 16zm-2-3zm-18 0zm-174 1zm-9 3zm-19-8zm-16 2zm-9 1zm-5 7zm-11-1zm-10 1zm-2-8zm-1 7zm-2-2zm-9-8zm-21 1zm-2 10zm-18-6zm0 3zm-13-6zm-54 0zm-1 3zm-4 3zm-23-5zm-1-1zm-21 5zm-28 2zm-33-9zm-14 7zm-7 3zm-36-4zm-2 9zm50 7zm5-9zm30 6zm25-1zm17 5zm5-5zm2 2zm5 3zm13-4zm4-4zm0 8zm22 0zm10-9zm37 4zm11-4zm4 4zm1 3zm30-1zm15 2zm2-6zm8-3zm8 9zm2-7zm27-2zm44 9zm23-3zm44 2zm44 1zm9-10zm75 0zm26 12zm-11 4zm-52 0zm-14 6zm-85-1zm-73 0zm-27-3zm-20-6zm-17 5zm-13 5zm-3-2zm-22 1zm-15-5zm-18 5zm-1-5zm-11 3zm-28-4zm-8 8zm-21-7zm-19-3zm-5 4zm-5 6zm-10-7zm-4-2zm-4 7zm-3 2zm-5-9zm-7-1zm-20 1zm-12 9zm-59 9zm14-4zm42 3zm11 1zm17-7zm2 1zm30-2zm1 2zm4 1zm7-3zm4 4zm3-1zm14-3zm18 4zm14-1zm2-1zm46 5zm3-1zm51 2zm27-2zm19-6zm1 9zm20-3zm5-3zm5-3zm27 6zm63 1zm3 0zm3-4zm3 8zm4-4zm31-1zm11-1zm11-5zm22 7zm4-4zm35 2zm14 15zm-53-4zm-15 6zm-61-9zm-18 8zm-26-1zm-3-8zm-4 9zm-10 0zm-13-2zm-17 3zm-35-7zm-43 3zm-4-1zm-26 3zm-13-4zm-6-1zm-7-3zm-6 9zm-67 0zm-10-3zm-2-4zm-15 1zm-73 4zm-7 4zm-7-4zm-41-3zm-2 3zm-2 11zm34 0zm31-5zm20 3zm2-4zm25 9zm2 1zm2-7zm10-3zm17 9zm15 1zm2-8zm3 2zm3-2zm21 4zm6 5zm3-8zm4 4zm17 2zm9-9zm10 10zm11-5zm4 4zm4-5zm9-1zm2 3zm8-3zm26-1zm17 4zm6-1zm11 1zm15 2zm21 1zm43-7zm10 5zm28-2zm108 3zm8-4zm3 6zm19-1zm-86 8zm-40 4zm-25-2zm-10-2zm-13 6zm-6-8zm-18 7zm-3-9zm-31 7zm-4-7zm-1 10zm-2-7zm-2-3zm-26 8zm-10-8zm-9 8zm-42-8zm-71 4zm-3 5zm-30-9zm-2 4zm-9-4zm-21 6zm-6-1zm0 2zm-8-1zm-5 2zm-32-8zm-62 4zm-5-3zm0 11zm2 3zm49-4zm67 8zm19-5zm22 7zm20-5zm35-4zm2-1zm14 11zm7-10zm6 6zm7-1zm22-4zm31 9zm24 0zm11-10zm13 9zm37-5zm22 6zm2-5zm1 3zm9-4zm8 1zm22 1zm19 3zm26-2zm48-8zm41 1zm-70 16zm-8 4zm-39-2zm-26 1zm-11-8zm-12 2zm-62-2zm-3 4zm-1-4zm-37 8zm-1-2zm-13-1zm-12-2zm-17 8zm-22-6zm-11-2zm-10 1zm-25-3zm-4 6zm-9 3zm-6-2zm-9 3zm-2-1zm-1-7zm-9 6zm-33-7zm0 3zm-12 4zm-5-4zm-20-2zm-15-3zm-37 6zm-38-6zm-9 6zm7 10zm72 7zm4-4zm4-2zm51 4zm0-3zm9 5zm38-3zm15-8zm28 8zm15-4zm17-3zm4 9zm15-3zm12 1zm77-7zm33 7zm35-2zm0-4zm88 5zm5-1zm14 12zm-33-2zm-49 1zm-18 2zm-24-3zm-13 6zm-18-5zm-1-4zm-32 10zm-10-10zm-26 8zm-14-4zm-14-3zm-1 8zm-13-6zm-79 4zm-6-7zm-3-1zm-5 10zm-1-5zm-2-3zm-19 6zm-10 0zm-12-2zm-33-6zm-9 6zm-51-6zm-18 16zm15-4zm42 8zm22-8zm47 10zm47-8zm43 1zm3 4zm27-4zm7 4zm11-7zm12 5zm7-3zm3 3zm11-5zm12 10zm14-9zm16 6zm25-5zm2 9zm5-9zm7 9zm19-6zm1 5zm14-6zm6-1zm19 2zm8 0zm30-5zm12 5zm9-4zm4 2zm-19 9zm-21 4zm-5-2zm-33 8zm-19 1zm-13-7zm-3-3zm-30-1zm-7 0zm-33 10zm-4-1zm-67-7zm-32 1zm-31 7zm0-8zm-3-1zm-8-1zm-1 8zm-48-3zm-8-1zm-29 4zm-3 1zm-8 1zm-33-8zm-26-1zm-17 17zm49-5zm16 3zm51 1zm7-4zm1 9zm14-6zm43-4zm3 3zm11 8zm42-6zm25-3zm20 6zm9-7zm35 5zm1 3zm3-2zm9 4zm30-6zm27 0zm39 2zm4 1zm3-8zm24 4zm12 1zm-35 8zm0 3zm-40 6zm-30-6zm-96-4zm-2 9zm-2-3zm-4-6zm-38 5zm-8 1zm-6-3zm-26 4zm-42 2zm-5-8zm-39 8zm-7-9zm-13 5zm-17 5zm-9-9zm-8 5zm-14 5zm-7-2zm48 5zm6 4zm37-5zm39 5zm14-5zm17 3zm5-3zm9 0zm1 7zm6-4zm4-4zm22 5zm9-3zm8 6zm10-1zm15 0zm12-5zm13 7zm12-5zm16 0zm25-3zm9 9zm11-8zm20 9zm-91 10zm-26-2zm-5-1zm-28-3zm-16 8zm-4-3zm-2 0zm-13-7zm-21 2zm-5 2zm-31 1zm-10-6zm-16 10zm-54-4zm-5 1zm-3 2zm-4-9zm-3 4zm-11-4zm-2 4zm-15 4zm4 10zm27-1zm17-2zm16 5zm10 1zm8-6zm8 1zm6 7zm34-9zm7 9zm21-5zm20 5zm17-4zm1-4zm4-1zm2 0zm1 4zm0-1zm8 6zm0-6zm12 2zm27-2zm2 4zm7-2zm27 1zm39-4zm22 4zm32 8zm-5-3zm-122 3zm-3 0zm-14 1zm-49 4zm-27-4zm-6 5zm-9-10zm-40 8zm-15 3zm-11-2zm-65 12zm24-4zm1 1zm43 4zm2-8zm48 0zm19-1zm23 7zm13-2zm4 0zm45-5zm3 4zm3-2zm22-2zm13 7zm4-5zm11-1zm47 14zm-21-2zm-119-2zm-10 1zm-41 7zm-29-2zm-14-5zm-10 0zm-17 9zm-8 0zm-11 12zm13-2zm10-1zm2-5zm28 4zm5 4zm19-1zm30 1zm4-6zm46 7zm29-8zm82-1zm-8 10zm-38 6zm-19 4zm-4-2zm-2-4zm-16 0zm-8-4zm-43 6zm-13 2zm-3 0zm-8-3zm-5-5zm-20 11zm-9-7zm-15-3zm-2 5zm19 14zm1-6zm3 4zm18-1zm4 6zm24-10zm5 1zm25 7zm63 9zm-47-6zm-10 4zm-5-3zm-7 7zm-6-2zm-20 13zm46-1z" stroke="#fbd855" stroke-width="3.90" stroke-linecap="round" fill="none"/>
<path transform="scale(0.5)" d="M943 2322zm-84 17zm45-5zm19-2zm-34 17zm-26-7zm-13-2zm-13 10zm-14 0zm81 13zm23-1zm-131 20zm50 2zm17-2zm54 3zm-54 8zm-33 1zm-54 6zm95 8zm68-7zm-52 12zm-37-1zm-61 16zm37 3zm2-2zm64-3zm54 10zm-69 8zm-11 0zm-16 1zm-6 0zm55 13zm15-9zm77 19zm-39-1zm-19-1zm-8-2zm-42 5zm-77-3zm-7-2zm53 13zm57 0zm68 3zm4-2zm13 17zm-10-6zm-18 1zm-7-5zm-34 3zm-10 7zm-12 0zm-16-9zm-9 4zm-16 5zm-2-8zm-22 4zm-8-4zm-2 8zm-24 0zm-23-3zm-2 0zm-31-5zm21 12zm16 1zm5 3zm34-1zm20 4zm46-6zm17 5zm9 0zm12-1zm61 3zm30-5zm75 14zm-9 0zm-36 1zm-31 0zm-2-2zm0-4zm-3 5zm-43 3zm-15-11zm-6 5zm-22-2zm-27 5zm-9-2zm-1 2zm-25-6zm-21 3zm-8-3zm-2 2zm-19 1zm-13-2zm-37 6zm-44 7zm61 7zm5-8zm48 5zm26 0zm34 2zm11 0zm9-10zm8 2zm24 3zm3-2zm7 0zm0 3zm6-1zm14 3zm39 2zm23-1zm13 1zm13-9zm69 20zm-23-5zm-30 1zm-9 5zm-6-4zm-18-1zm-3 5zm-3-10zm-3 8zm-10-3zm-17 5zm-60 0zm-9-5zm-5 5zm-3-10zm-22 5zm-20-4zm-1 4zm-27 0zm-3 6zm-22-3zm-74-3zm-28 9zm16 7zm20-1zm9-2zm13 3zm8 0zm17-4zm31-1zm20 6zm12-7zm10 7zm5-2zm14 2zm8-9zm2 5zm1-3zm24 6zm6-2zm20 4zm5-2zm17-5zm24-4zm3 1zm4-1zm1 6zm1-2zm17 7zm14-5zm33 1zm36-3zm0 19zm-26-10zm-22 8zm-21-6zm-26-2zm-2 6zm-11 1zm-41-5zm-6-1zm-20 8zm-3-3zm-22-7zm-24 10zm-44-5zm-26 3zm-32 3zm-21-2zm-23 0zm-32-6zm21 17zm13-1zm1-6zm2 3zm16 1zm25-4zm37 6zm14-6zm3 5zm1 3zm82-3zm2 4zm14-8zm9 0zm2 6zm2-8zm3 7zm23-4zm49 5zm27-1zm20 2zm44 2zm0-9zm56-2zm2 14zm-56-1zm-12 10zm-3-11zm-66 4zm-12 1zm-28 0zm-13-5zm-15 11zm-4-8zm-4 8zm-5-8zm-12-1zm-5 3zm-16 3zm-6-1zm-33-3zm-4 2zm-10-2zm-44 2zm-34 0zm-20-4zm-43 6zm-38-5zm16 11zm25 4zm21 2zm1-7zm15 1zm55 4zm2 1zm5-4zm16 2zm2-5zm16 5zm5-2zm9 1zm7 5zm16-7zm10 1zm3 0zm7 0zm10 3zm7-3zm1 5zm3-7zm8 2zm8 8zm2-7zm5-4zm16 0zm3 2zm4 2zm4-4zm0 4zm4 4zm7-6zm0 9zm7-10zm2 10zm26-5zm5-2zm7-2zm23 5zm21 2zm12 2zm6 0zm10-4zm27-3zm50 8zm-39 8zm-17 3zm-4-10zm-40 1zm-17 1zm-7 4zm-18-5zm-20 6zm-28-2zm-10 2zm-5 0zm-14 0zm-4 1zm-1-5zm-1 2zm-12 0zm-25-5zm-14 7zm-2 1zm-14 0zm-1-7zm-26 9zm-75 0zm-7-8zm-12 5zm-11-1zm-1-6zm-5 9zm-7 1zm-2-6zm-18 6zm-38 0zm-5 3zm5 2zm55-1zm3 8zm19-3zm20 1zm24-5zm2-2zm2 8zm10-4zm14 4zm13-5zm7-4zm11 1zm5 8zm46-3zm50 3zm12 1zm6-8zm2 8zm1-5zm44-6zm7 9zm4-5zm4-1zm18-3zm28 3zm9 0zm45 3zm58-2zm-6 11zm-7-3zm-8 10zm-22-6zm-8 7zm-3-9zm0 7zm-2-4zm-7 5zm-14-9zm-36 0zm-16 3zm-4 0zm-11 0zm-6 2zm-9-2zm-18 6zm-5 0zm-12-2zm-18-6zm-1 4zm-3 0zm0-4zm-5 0zm-8-1zm-8 6zm-33-7zm-32 2zm-11 6zm-22-2zm-10 1zm-11-1zm-3 0zm-9 2zm-15-1zm-4-6zm-50 3zm-16 3zm-39-3zm-18 1zm1 18zm35-3zm18 0zm16-3zm21 6zm23 0zm7-5zm7-6zm61 0zm15 9zm12-9zm2 9zm3-2zm47-4zm13 6zm16 2zm4-1zm6-3zm35-7zm3 7zm11-6zm2 3zm29 3zm18-2zm15 5zm83-6zm9-2zm43 0zm25 3zm-14 11zm-14-1zm-37 3zm-7-1zm-36-2zm0 6zm-13-3zm-13 1zm-2-5zm-3 0zm-9 9zm-11-3zm-1-5zm-1-2zm-19-1zm-22 4zm-12-2zm-7 6zm-40 1zm-18-3zm-16-6zm-4 5zm-11-1zm-30-1zm-21 5zm0-5zm-23 3zm-2-2zm-5 5zm-25-2zm-25-2zm-25 2zm-12-2zm-58-4zm-5-1zm-8 2zm-7 8zm-21-7zm19 20zm10-7zm18 0zm3-2zm51-2zm19 8zm18-7zm5 8zm10-8zm4 0zm23 1zm20 4zm55-4zm3 7zm6-4zm24 1zm7-4zm4 2zm7-4zm6 2zm13 3zm3 2zm12 3zm12-10zm0 7zm3 1zm0-5zm6-3zm11 2zm26 9zm3-11zm18 2zm10 3zm4 6zm22-3zm30-4zm0 3zm67-5zm36 2zm24 8zm-6 7zm-102 0zm-52-3zm-20 0zm-59 5zm-24 1zm-12-2zm-9-5zm-5 2zm-5 3zm-12-2zm-17-3zm-29 7zm-4-1zm-8-4zm-3 6zm-2-2zm-5-5zm-3-1zm-2 2zm-2-4zm-7-1zm0 8zm-12-2zm-23-1zm-16 2zm-7-3zm-58 0zm-1 7zm-14-9zm0 9zm-3 0zm-13-7zm-23 6zm-20 0zm-15-4zm-17 0zm-12 13zm10 2zm42-9zm26 1zm65 10zm18-6zm36 5zm34-4zm34-2zm11 4zm1-8zm26 2zm4 1zm30-3zm19 8zm9 2zm7 1zm5-6zm7 1zm12-5zm25 3zm2 1zm14-1zm10 2zm29-3zm4-3zm24 11zm13-4zm64 4zm25-10zm30 14zm-49 4zm-59-4zm-36 0zm-3-3zm-26 1zm-46 8zm-20-4zm-16 6zm-3-10zm-1 9zm-29-8zm-22 7zm-4-9zm-21 1zm-10 5zm-5-6zm-1 10zm-10 1zm-20-4zm-3-3zm-11 0zm-1-4zm-16 6zm-23-6zm0 5zm-3-5zm-8 3zm-42 1zm-15 4zm-25 2zm-3-10zm-12 6zm-28-6zm-21 4zm0 3zm-30-7zm45 18zm21 4zm5-9zm16 5zm22-1zm8 0zm1 6zm8-4zm36-2zm5-2zm18 8zm14-11zm23 8zm9-2zm1-2zm1-4zm4 3zm13 0zm2 5zm11-1zm12 1zm35-2zm30 5zm10-10zm65 8zm34-5zm9-3zm1 8zm14-9zm49 11zm35-9zm41 11zm0 8zm-27-4zm-24-5zm-38 8zm-7 0zm-63-2zm-18-4zm-12 7zm-7-8zm0 2zm-24-1zm-28-1zm-6 4zm-3-1zm-11-4zm-12 5zm-3-3zm-5 5zm-1 4zm-23-1zm-26-9zm-4 1zm-36 1zm-6 0zm-7 2zm-14 5zm-37-3zm-14-3zm-11 7zm-9-1zm-20-1zm-6-3zm-2-2zm-8-3zm-1 7zm-4-5zm-5-3zm-8 6zm0-5zm-48 6zm-13-6zm-7 11zm27 11zm3 0zm10-6zm26-2zm4 5zm1-4zm22-2zm10 5zm6 4zm10-10zm10 8zm21 0zm13-8zm23 6zm39 1zm8-6zm16 1zm23 6zm7 1zm1-2zm5-8zm1 5zm10-2zm37 4zm9 0zm2-5zm12 0zm24-2zm6 2zm26 1zm10 1zm7 3zm14 2zm12-6zm2 3zm26-5zm2 0zm8 4zm2-1zm9-4zm2 1zm96 11zm-19 2zm-21 3zm-108-2zm-57 5zm-15 2zm-6-8zm-3 7zm-2-1zm-17-3zm-7 4zm-2-7zm-8 4zm-13 4zm-7-7zm0 2zm-12-3zm-3 4zm-8 2zm-19-2zm-2-5zm-3 7zm-3-8zm-1 8zm-2-7zm-4 1zm-20 1zm-16-3zm-4 1zm-24 7zm-10-7zm-2 8zm-11 2zm-17-7zm-11 6zm-28-7zm-3-3zm-12 9zm-18-9zm-18 9zm-6-7zm-20 2zm-9 3zm23 7zm9 4zm23-2zm6 4zm45-7zm2 5zm1 5zm2-2zm1 2zm2-9zm2 9zm1-10zm14 7zm46-3zm7 1zm4-1zm4-5zm19 5zm42-2zm1-2zm6 3zm28-1zm8 8zm40-1zm0-3zm12 2zm6-1zm3 0zm12-1zm11-3zm9-4zm2 11zm4-2zm8-9zm3 7zm6-3zm4 4zm56 3zm50 7zm-75-4zm-56 2zm-6 6zm-9-8zm-59 4zm-4-2zm-15 5zm-33-9zm-2 3zm-3 7zm-35-7zm-29 6zm-13-6zm-3 0zm-1 2zm-10-2zm-7-3zm-9 9zm-7-9zm-9 0zm-8 2zm-28 0zm-7 2zm-7 7zm-30-2zm-1-6zm-3 5zm-34-5zm12 11zm7 1zm8 0zm12 5zm10 3zm8-3zm18-8zm5 1zm0 3zm15 1zm13 4zm3-9zm27 4zm11-1zm19 7zm5-5zm8 1zm10-5zm43 1zm2 8zm3 1zm1-6zm8 2zm22-4zm17 4zm1-4zm7 6zm12 1zm5-6zm3 1zm10-3zm2-1zm17 1zm23-2zm49 0zm20 3zm8 6zm7-3zm20 14zm-53-5zm-1 8zm-21-8zm-6 1zm-25 3zm-11-4zm-20 5zm-1-2zm-1-2zm-20 1zm-24 4zm-1-5zm-50 4zm-4 1zm-12-3zm-12-5zm-3 6zm-5 4zm-44-9zm-28 8zm-26-8zm-3 9zm-34-8zm-5 2zm-2-1zm-5 0zm-32 2zm-11-4zm-11 0zm-6 7zm15 10zm17 1zm4 1zm6-3zm11-6zm15 6zm4 5zm23-5zm9 5zm4-9zm10 0zm5 9zm9-3zm18-2zm9 4zm5-10zm1 9zm5-3zm28-6zm7 3zm9-2zm15 7zm1-7zm8-1zm21 8zm7-3zm5-4zm28 9zm27-9zm5 5zm23-6zm3 11zm12-7zm8 3zm14-1zm2 2zm4-1zm3-6zm11 3zm35-4zm11 5zm-26 13zm-51-2zm-20-1zm-5 4zm-7 2zm-33-9zm-13 7zm-4 1zm-26-4zm-21 5zm-4-2zm-5 4zm-10-1zm-24-7zm-17 7zm-16-4zm-5 0zm-5 3zm-18-7zm-17 1zm-33-2zm-12-1zm-22 1zm-1 10zm-32-4zm9 10zm3-2zm16-1zm5 8zm10-7zm13 4zm28 2zm12-4zm29-3zm5-1zm3 1zm17 1zm9 8zm17-7zm3 6zm45-8zm14 3zm3 6zm4-2zm5-4zm0 4zm2 0zm1-5zm14 3zm8-6zm5 3zm0-3zm14 3zm25 7zm1-4zm8-3zm9-1zm39-2zm4 9zm28 0zm7-3zm-19 12zm-30 1zm-1-3zm-78 6zm0-2zm-7 0zm-29 0zm-11-4zm0 3zm-17-6zm-5 9zm-29-1zm-6-5zm-6-4zm-12 3zm-11-4zm-35 1zm-20 10zm-2-5zm-25-1zm-8-3zm-25-2zm-17 10zm0 4zm21-1zm14 0zm22 9zm7-8zm8 9zm25-2zm28-8zm18 6zm16 4zm13-1zm19-4zm21-3zm14 6zm13-8zm33 3zm2 3zm9 3zm61 0zm9-9zm18-1zm2 1zm-60 11zm-9 0zm-64 7zm-29 0zm-41 1zm-29 1zm-13-8zm-3 0zm-14 3zm-19-1zm-10-2zm-8 8zm-48 1zm-18-2zm4 10zm72-5zm3 3zm8 1zm46 4zm33 2zm2-11zm7 3zm2-1zm39-2zm11 0zm9 10zm14-1zm3 0zm3-9zm9 4zm3 2zm11-1zm9-3zm4 19zm-4 1zm-24-6zm-3 1zm-13-5zm-4 8zm-49-6zm-10 7zm-57-7zm-17 7zm-8-7zm-14-1zm-36 10zm-8-3zm-11 12zm25 0zm4-4zm32 1zm30 6zm2-8zm11 4zm0 4zm1-3zm2 2zm25-10zm2 5zm2 5zm2-10zm1 9zm85 11zm-42-1zm-8-5zm-9 2zm-8 3zm-1 2zm-8 0zm-81 1zm-4-9zm-25-1zm-8 13zm55 0zm7 5zm45-1zm2 4zm14-1zm3 1zm3-7zm28 2zm22-4zm4 3zm15 12zm-100 0zm-46 4zm-9-6zm59 22zm14-10z" stroke="#fdb535" stroke-width="3.90" stroke-linecap="round" fill="none"/>
<path transform="scale(0.5)" d="M923 2319zm-55 7zm24 5zm8 5zm-10 6zm-68 2zm28 8zm3 1zm82 21zm-97 5zm75-1zm-113 15zm-4 7zm11 9zm35-4zm58 1zm39-1zm-4 10zm-5-1zm-11 0zm-41-2zm-118 8zm89 7zm87 3zm9 12zm-61-1zm-70 0zm-28 17zm107-9zm22 5zm50-2zm28 18zm-150-6zm-37 11zm30 5zm5 1zm32-1zm23-1zm62-6zm18 1zm41 13zm-20 8zm-67-6zm-8-5zm-19 3zm-33 8zm-2 0zm-44-11zm-12 3zm0 8zm-34-2zm-4 2zm-20-5zm-10 9zm10 8zm51-8zm4 6zm64-5zm11 1zm2 6zm75-11zm12 3zm8-3zm2 5zm1 5zm5-8zm7 8zm4 1zm2-4zm23 0zm27 0zm17 5zm-2 4zm-2-4zm-101 11zm-23-1zm-4-8zm-24 7zm-75-5zm-13 4zm-4-6zm-48 9zm-1-4zm0-6zm-5 2zm-15 6zm-21-4zm-12 5zm32 11zm34 2zm20-1zm17-10zm7 4zm4-2zm29 7zm57-6zm8 7zm33 1zm29-3zm16-4zm7 2zm22 4zm4-2zm10-8zm12 8zm35 8zm-9 3zm-16-5zm-2 4zm-6 5zm-60-6zm-39-5zm-15 7zm-6-6zm-24 7zm-2-5zm-18 7zm-8-3zm-10-3zm-3 7zm-5-1zm-17-5zm-27 1zm-1-3zm-8 0zm-10 5zm-7-3zm-1-3zm-2 1zm-47 3zm-25 17zm25-4zm58-2zm4 5zm14-10zm26 10zm4 0zm24-6zm6 1zm5 6zm41 0zm22-6zm2 5zm2 1zm9-4zm10-4zm47 0zm13-3zm1 11zm10-1zm24-6zm55 12zm-4 2zm-4 5zm-7-11zm-52 8zm-16-1zm-17 2zm-3 0zm0-3zm-8-4zm-1 2zm-23 5zm-11-4zm-19-1zm-10 2zm-11 2zm-19-4zm-4 4zm-1-3zm-9 2zm-16 3zm-11-3zm-6-5zm-7 7zm-16-3zm-5 0zm-38 4zm-4-3zm-26-5zm0 2zm-34-3zm-7 5zm26 6zm22 3zm14 0zm0 2zm38 4zm4-8zm7 10zm18-3zm6-7zm3 8zm30-6zm14-1zm36 2zm16 7zm0-10zm2 5zm31-3zm5 3zm33 1zm10 3zm18 1zm15-6zm1 4zm34-4zm48 14zm-61-6zm-7-1zm-69 4zm-73 4zm-2-6zm-6-1zm-5 1zm-23 1zm-40-3zm0 5zm-2 3zm-21-1zm-13 0zm-26 1zm-5-1zm-13-6zm-23-1zm-25 6zm-23-3zm-10 3zm9 7zm36 8zm2-6zm38 1zm25 4zm27-1zm11-6zm0 9zm2-7zm5-1zm3-2zm14 10zm14-4zm8-4zm1 8zm24 1zm0-11zm23 11zm29-10zm4 9zm37-5zm11 3zm17-2zm13 2zm3-1zm10-5zm13 3zm27-3zm11 7zm38 2zm2 0zm18-4zm19 14zm-9-1zm-9-8zm-56 8zm-14 3zm-18-10zm-9 1zm-6 9zm-18-4zm-27 3zm-13-7zm0 3zm-6 0zm-16-5zm-3-1zm-4 6zm-6 3zm-13 2zm-2-8zm-11 1zm-15 7zm-17-4zm-9-6zm-1 7zm-12-6zm-3 6zm-29-7zm-46 6zm-10 2zm-49-2zm-26 0zm-6-4zm-3 5zm-17 3zm-10 10zm5 1zm22-8zm68-1zm16 3zm29 2zm40-3zm15 4zm19-2zm4-4zm11 2zm16 8zm11-9zm24 5zm38-2zm11 2zm55 1zm9 1zm9-3zm16-1zm41 1zm10 5zm30-3zm57 1zm-31 9zm-24-4zm-32 5zm-24-7zm-23 7zm-28-7zm-16 0zm-17 7zm-2 4zm-4-11zm-32 3zm0 5zm-7-7zm-27 9zm-3 1zm-20-7zm-24 0zm-18-2zm-1-2zm-6 7zm-19-2zm-19-4zm-9 7zm-11 3zm-24-1zm-20-7zm-32 3zm-16-4zm-13 6zm-56 2zm6 2zm10 10zm6 1zm11-5zm24 2zm8-8zm9 0zm14 6zm15-1zm22 0zm16 5zm6-1zm78-4zm0 5zm10-4zm6-5zm1 9zm2-1zm1-4zm3 2zm9 2zm3-1zm5-8zm25 2zm7 0zm1-2zm18 6zm2 4zm5-2zm13-3zm4-1zm10 0zm37 1zm5-2zm1 6zm14-7zm23 8zm5 0zm6-8zm3 6zm9 3zm25-6zm87 5zm28 12zm-27-8zm-15 5zm-27 3zm0-10zm-1 4zm-12-4zm-34 10zm-14 0zm-3-10zm-24 2zm-21 3zm-1 3zm-4-5zm-2 5zm-14-5zm-22 0zm-29-3zm-3 8zm-5 1zm-39-7zm-17 5zm-7-3zm-5 1zm-2 5zm-8 0zm-5-4zm-2 3zm-10-2zm-1-2zm-20 6zm-4-5zm-21-2zm-47-3zm-9 1zm-3 0zm-12-2zm-2 10zm-4-6zm-40 2zm-21 2zm-10 2zm-30 12zm21 1zm20-11zm49 9zm78-9zm7 5zm36 4zm0-6zm15 7zm10-1zm3-4zm44 5zm24-1zm5 1zm11-3zm1-6zm12 6zm15-3zm1 5zm31-6zm10 7zm1-5zm20 4zm48 1zm6-4zm15-5zm58 0zm64 3zm15 3zm-157 7zm-9 0zm-4-1zm-28 10zm-7-7zm-9 1zm-18-3zm-26 4zm-9 4zm-13-5zm-11 1zm-9 1zm-10-1zm-8-6zm-9 2zm-1 2zm-7-2zm-7 7zm-7 0zm-11-3zm-2 2zm-3-6zm-30 8zm-10-8zm-4 8zm-3-5zm-5 6zm-27-7zm-7 0zm-9 6zm-17-7zm-13 3zm-4 5zm-7-5zm-19-2zm-29 4zm-4 1zm-13-5zm-3-3zm-4 4zm-18 5zm-26-9zm-18 20zm26-9zm1 4zm36 1zm37 6zm6-1zm20-4zm5-5zm25 10zm6-5zm2 3zm8-4zm5-5zm6 6zm20 4zm5-5zm11 1zm11 4zm10-5zm5 3zm2 0zm2-5zm8 8zm6-7zm1 4zm8-3zm14-1zm14 4zm17 1zm3 0zm6-5zm15 1zm2 2zm25 0zm8 1zm13-6zm13-1zm15 3zm14-3zm7 7zm52-7zm49 0zm9 8zm5-3zm16 3zm23-6zm2-1zm28 6zm17-8zm-28 17zm-7-1zm-74-2zm-10 6zm-10-1zm-21-7zm-27 5zm-15-2zm-24 0zm-64 6zm-3-8zm-39 1zm-3 7zm-9-4zm-2 4zm-4 0zm-9-4zm-5 0zm-11-5zm-6 4zm0-3zm-28 8zm-11-9zm-11 1zm-18 8zm-11 2zm-8-6zm-5 4zm-4-7zm-6 2zm-17 1zm-23-3zm-13 6zm-4-4zm-1 6zm-3-8zm-6 8zm0-2zm-14 2zm-18-6zm-6 7zm-2-2zm-2-3zm-1-2zm-28 6zm12 6zm3 4zm44 3zm0-6zm7 1zm15-6zm46 8zm28 0zm7-1zm6-3zm18 5zm3 0zm31-9zm18 10zm12-8zm10 7zm7 2zm8 0zm21-5zm0-5zm32 3zm36 5zm18-3zm5 0zm44 1zm14 0zm16-2zm8-3zm20 7zm25-8zm5-1zm25 11zm3-1zm18-2zm23 0zm6-2zm3 1zm1 4zm-8 7zm-114 1zm-32 4zm-21-5zm-12 2zm-13-8zm-2 4zm-25-3zm-4 4zm-2-4zm-31-1zm-53 9zm-27-7zm-3 9zm-15-9zm-11 8zm-7-3zm-30 1zm-4-3zm-4 0zm-13 3zm-6-7zm-38 5zm-2-1zm-6 6zm-6-9zm-28 0zm-5 3zm-4 2zm-76 14zm20-4zm26-5zm1 6zm16-6zm10 2zm33 0zm14 1zm1 4zm45-5zm35 2zm4-2zm31 6zm17-8zm10 9zm21-7zm14 2zm9 7zm9-6zm3 3zm11-6zm16 6zm0-3zm6 1zm1 2zm4 1zm2-6zm7 5zm4 0zm3-6zm20-1zm9 1zm28 7zm9 2zm8 0zm8-7zm54-2zm13 8zm12 1zm4 9zm-45 3zm-40-8zm-16 6zm-4-9zm-4 6zm-3 3zm-27-1zm-43-4zm-10-4zm-2 6zm-10-2zm-9 0zm-6 3zm-14 2zm-3-9zm-26 8zm-62 3zm-23-6zm-14 5zm-18-5zm-18-2zm-14 0zm-11 2zm-21-3zm-30 1zm-53 3zm17 9zm18 5zm38-7zm13 9zm5-1zm33-5zm44-2zm1 9zm1-3zm97-2zm7 4zm8-2zm3-7zm10 6zm28 0zm9-2zm15 3zm4 3zm33-3zm7-1zm7-5zm0 4zm9 1zm47 4zm10-10zm62 4zm6 0zm-1 13zm-2-1zm-15-3zm-2 4zm-19-3zm-1 8zm-8-10zm-7 7zm-14 2zm-4-6zm-2-4zm-6 7zm-5-3zm-2 4zm-6 2zm-3-8zm-1 7zm-4 2zm-16-11zm-23 11zm-22-11zm-5 3zm-16 8zm-1-5zm-3-1zm-4-2zm-30 1zm-47-4zm-27 6zm-7 1zm-43-3zm-32 0zm-1-3zm-37 10zm-8-4zm-4 1zm-2 2zm-13-1zm-33-7zm-1-2zm-2 2zm-30 18zm1 3zm33-5zm8 4zm4-7zm20 7zm2 0zm16-8zm30 0zm10 3zm35 5zm4 1zm2-4zm25-7zm9 5zm4 3zm4-4zm21 1zm19-5zm5 3zm28 4zm1 4zm9-10zm1 9zm13-8zm27 0zm2 4zm3-2zm12-3zm6-1zm18 11zm8-2zm1-4zm7-5zm13 5zm27-2zm4 6zm7-7zm15 6zm10-3zm39 1zm4 3zm-39 5zm-17 9zm-8-1zm-5-8zm-18 6zm-14-6zm-30 8zm-86-1zm-5-6zm-6 1zm-5 1zm-2-5zm-5 2zm-21-1zm-13 8zm-29-7zm-29 6zm0-8zm-41 6zm-2-2zm-14-2zm-10 3zm-3 5zm-11 1zm-26-3zm-6 3zm-21-10zm-30 7zm-10-3zm25 7zm30 8zm17-8zm16 2zm11 3zm45 3zm0-3zm35 4zm52-6zm24 8zm2-4zm9 0zm25-1zm22-2zm6 6zm14 1zm2-4zm11-4zm14-2zm4-1zm0 10zm2-10zm4 0zm13 4zm23 6zm12-10zm24 4zm14 1zm6-5zm7 5zm-7 11zm-9 0zm-11 3zm-3 1zm-5-1zm-17-6zm-21 10zm-20-1zm-42 0zm-34 1zm-2-2zm-4-7zm-14-1zm-4 2zm-13 0zm-22-3zm-3 3zm-25 0zm-19 2zm-6-3zm-9 4zm-5 1zm-9-5zm-23 9zm-5-9zm-18 1zm-31 6zm-2 0zm-17-2zm-24-4zm-14-2zm13 21zm24-7zm6 2zm17-4zm84 8zm6-9zm2 11zm15-3zm7 2zm8-1zm7-4zm0-5zm66 8zm25 2zm6 0zm4-10zm23 9zm7-5zm18 3zm25 0zm8 2zm51-8zm6 1zm-10 12zm-19 2zm-20 1zm-31 0zm-100-1zm-2 5zm-59-5zm-22 7zm-8-6zm-7 2zm-8-4zm-6 1zm-22 7zm-2-4zm-6 1zm-35 0zm-5 0zm-58-5zm69 9zm9 9zm33-2zm12-2zm3-3zm21-1zm6 9zm21-6zm9 3zm5-2zm9-4zm0 8zm29-3zm4-5zm5 2zm3 2zm9-2zm16 6zm23-3zm15-5zm5 5zm18-5zm6 8zm14-4zm3 1zm31-4zm-13 10zm-51 10zm-47-7zm-22 6zm-26 0zm-47 0zm-1 2zm-10-2zm-14-2zm-14-7zm-15 5zm-11-5zm-2 9zm-10-9zm-5 1zm-14 6zm-7-3zm-5 6zm-15-8zm-18 8zm3 5zm36 6zm17 0zm11-4zm25-4zm2 9zm8-10zm24 4zm27-4zm14 6zm11 5zm9-2zm1-5zm10 0zm1-4zm52 11zm14-9zm1 5zm9 2zm1-4zm25 4zm-30 5zm-6 8zm-3-4zm-14 3zm-11-9zm-61 1zm-6 10zm-7-1zm-14-8zm-24 7zm-6-5zm-12 2zm-99-2zm42 15zm11 3zm5-9zm3 8zm13-6zm10 6zm14 0zm5-5zm11 1zm5-2zm10 5zm0-3zm1-4zm5 10zm12-7zm34 7zm13-2zm12 0zm5-3zm2 5zm19-3zm26-2zm-33 16zm-19-3zm-20-5zm-12 2zm-23 7zm0-4zm-19 4zm-9-1zm-5-1zm-22 0zm16 8zm4 6zm0-8zm35 4zm20-4zm4 4zm7-7zm4 7zm10-2zm31 2zm-20 7zm-14 3zm-22-3zm-102-2z" stroke="#fd8f2a" stroke-width="3.90" stroke-linecap="round" fill="none"/>
<path transform="scale(0.5)" d="M893 2336zm-18 9zm-58 12zm60-5zm-22 17zm39 18zm4-6zm-125 16zm107 13zm41-3zm-14 9zm-153 3zm110 15zm59-10zm2 11zm-121 18zm105 16zm-4-5zm-23-2zm-6 8zm-93-2zm-38 2zm42 7zm140 2zm11-3zm40 6zm5-8zm18 8zm12 3zm-77 5zm-36-1zm-11 6zm-6-7zm-47 5zm-38-6zm-59 12zm22 7zm4-8zm10 2zm45-3zm14 8zm34 2zm4-10zm10 10zm41-6zm11-1zm10 2zm8 2zm5-1zm61 3zm22-4zm47 13zm-18 0zm-33-5zm-6 8zm-23-10zm-8 2zm-6 0zm-1 9zm-8-4zm-21-2zm-42-1zm-21 2zm-15-4zm-5 9zm-14-1zm-6-4zm-23-6zm-114 5zm3 7zm14 2zm24 4zm12 3zm15-5zm15-2zm2-1zm54 5zm8-3zm14-3zm3 4zm35 7zm16-4zm48-6zm1 5zm31-4zm28 2zm46-4zm-38 14zm-20 2zm-5 5zm-40 1zm-29-1zm-15-7zm-16 3zm-27-2zm-9 5zm-24-1zm-12-6zm-57 10zm-11-1zm-20 1zm-41 4zm74-2zm39 1zm26-1zm23 2zm2-1zm29 1zm8-1zm1 3zm6-2zm2 2zm8 5zm14-9zm3 6zm1-6zm1-1zm112 5zm6-4zm51 20zm-7-1zm-12 2zm-4-8zm-22 6zm-15-6zm0 3zm-3-1zm-3 6zm-2-4zm-13-5zm-27 1zm-6 4zm-16-4zm-5 0zm-12-1zm-2 10zm-5-3zm-8-2zm-10-4zm-6 5zm-17-3zm-2 5zm-2-6zm-63 5zm-23 2zm-42-6zm-40-2zm-13-2zm-13 11zm-17 9zm7-1zm18-4zm25 4zm13 0zm27-1zm4 1zm14-1zm2 0zm20-6zm36 5zm26-1zm37 3zm70-2zm59-3zm17 7zm24-6zm3 0zm2 7zm2-8zm0-2zm26 2zm6 7zm-40 13zm-33 1zm-58-3zm-3-3zm-36 2zm-18-6zm-43 8zm-54-6zm-11 6zm-43-4zm-6-1zm-4 5zm-36-6zm-21 7zm-38-5zm-15 16zm39-8zm46 0zm11 5zm32 0zm41 1zm22-4zm3-3zm2 11zm4-2zm31-9zm10 8zm28 2zm26-5zm24-1zm31-4zm2 4zm33 6zm20-2zm35-3zm4 6zm1-6zm31 2zm5-1zm7 5zm12-4zm6 4zm6 0zm26 11zm-50-5zm-2 6zm-19-6zm-13 6zm-4-6zm-4-3zm-22 6zm-29-8zm-15 0zm-7 6zm-4-4zm-8-2zm-1 11zm0-4zm-14-3zm-2 3zm-6-6zm-15 1zm-7 4zm-26-3zm-6 3zm-5-6zm-4 7zm-29 4zm-36-2zm-14-8zm-20 4zm-5-2zm-17 3zm-15 1zm-12 1zm-5-3zm-14 5zm-94-10zm25 13zm10 3zm105 3zm7-4zm25 4zm1 3zm50-2zm15 2zm1-5zm20-2zm2 1zm8-1zm5 2zm4-2zm9 2zm15 1zm14 0zm2 3zm26-4zm38-4zm12 9zm8-4zm58-3zm16 4zm3-3zm8 7zm29-7zm65 17zm-35-2zm0-5zm-17 4zm-53-5zm-23 5zm-26-1zm-24-2zm-12 4zm-10-3zm-31-1zm-7 2zm-9-1zm-24-3zm-31 10zm-10 0zm-8 0zm-14-2zm-3-3zm-28-5zm-13-1zm-43 0zm-24 0zm-1 8zm-8 1zm-16-4zm-38-3zm-37 9zm-10-11zm-7 1zm-6 1zm70 20zm14-9zm24-1zm14 8zm0-3zm38 5zm5-2zm0-7zm16 6zm45 3zm27-8zm5 5zm18 3zm17-8zm23 9zm6-2zm14-7zm3 2zm18-4zm3 10zm87-5zm9 3zm47 1zm13-9zm9 6zm25-5zm30 8zm-38 9zm-28 4zm-28-8zm-41-2zm-12 7zm-6-3zm-22 4zm-15-5zm-7 8zm-1-9zm-5-2zm-19 2zm-28 6zm-10-1zm-9-1zm-10-5zm-2 6zm-31-1zm-15 1zm-78-5zm-12 5zm-16 1zm-19 1zm-29-6zm-20-3zm-37 10zm-6 2zm37 5zm20 5zm42-6zm5-3zm19 6zm23-7zm12 7zm6-5zm22 2zm87 4zm33 1zm3-9zm18 0zm5 9zm24-8zm2 5zm6-6zm21 11zm26-4zm4-7zm19 6zm15 5zm5-4zm31-1zm63-6zm19 9zm10-8zm-33 19zm-11-1zm-4 0zm-37-6zm-12 10zm-1-10zm-13 6zm-2-5zm-64 4zm-20-6zm-11 3zm-18 0zm-19 7zm-10-5zm-25 1zm-4-4zm-1 6zm-7-3zm-9-2zm-4 4zm-42-4zm-59-1zm-20 4zm-45 4zm-12-9zm-6 7zm-12-4zm-52-1zm-4-3zm10 16zm48 4zm15-8zm19 8zm8 3zm6-8zm22 5zm2 1zm8-1zm1-7zm5 2zm15-3zm63 0zm6 6zm6-4zm18 4zm14 3zm67-4zm11 4zm4 2zm7-10zm36 6zm39 1zm15-1zm82-6zm24 4zm-37 8zm-8 2zm-5 6zm-74-7zm-34 5zm-28 1zm-32-2zm-5-2zm-6 3zm-12 2zm-41-3zm-6 0zm-4-2zm-11-3zm-36 5zm-9 4zm-12-4zm-25-2zm-4-1zm-31 5zm-7-4zm-30 0zm-16-1zm-5 4zm-3 4zm-10-10zm-4 4zm-7 1zm-33 0zm-16-3zm-44 8zm66 8zm2 1zm5-3zm8 6zm8-2zm66-5zm26-2zm13 2zm6-2zm12-2zm43 1zm30 7zm28-7zm6 7zm21-8zm24 9zm8-4zm17-3zm14 3zm2 0zm8 3zm3-6zm45-1zm6 0zm2 8zm5 1zm1-6zm15 5zm27-4zm61 5zm10 7zm-39-3zm-61 2zm-10-2zm-40 6zm-28-2zm-7 1zm-29 0zm-3-5zm-4-1zm-3 4zm-10 5zm-7-7zm-44 2zm-9-2zm-15-3zm-9 4zm-18 3zm-11 0zm-16-1zm-12-6zm-3 0zm-15 0zm-8 11zm-1-2zm-8-9zm-48 2zm-60 5zm-33 6zm3-1zm8 7zm13-6zm3 4zm26-4zm18 4zm6-1zm6 7zm35-5zm48-4zm20-2zm9 8zm13-7zm6 10zm5-8zm4-1zm8 4zm46 2zm3-6zm8 8zm0-5zm8-3zm18-1zm7 3zm24 1zm13 6zm9-11zm19 10zm32-1zm22-7zm50-2zm11 9zm29-8zm5 7zm10 9zm-18-4zm-8 7zm-106-1zm-12 4zm-17-5zm-2-3zm-11-1zm-35 4zm-30 1zm-1-5zm-20 8zm-25-1zm-18-7zm-18 4zm-6 0zm-1-6zm-23 6zm-37-6zm-1 1zm-10 5zm-22 5zm-49-6zm-7 4zm-9-6zm-27-3zm-1 7zm-15-6zm-31 1zm20 12zm60 1zm15 4zm8-3zm50 3zm11-2zm11 0zm3-5zm1 9zm15-5zm22 6zm14 1zm12 0zm10-1zm2-10zm14 2zm11 8zm21-1zm6-9zm14 5zm29 3zm5-6zm33 0zm15 2zm5-1zm10 1zm1 7zm14-11zm10 0zm7 5zm20-2zm12-3zm9 11zm19-2zm-15 5zm-8 7zm-25 0zm-44 1zm-40 0zm-10-10zm-25 0zm-13 1zm-14 7zm-7-5zm-43 5zm-35-5zm-29 7zm-2-3zm-12 1zm-7 2zm-9-6zm-11 1zm-8 6zm-5 0zm-1-5zm-4-6zm-7 7zm-9-2zm-2 1zm-8-1zm-77 6zm-7 5zm11 7zm1-2zm16-6zm0 2zm10 6zm20-8zm22 4zm19-1zm7 0zm16-5zm8 3zm5 6zm4-6zm1 4zm20-1zm31-6zm4 8zm12-9zm12 3zm0-3zm12 4zm50-3zm21-1zm7 6zm54 1zm3 0zm5 0zm11-6zm6 0zm7 10zm3-10zm38 9zm8 11zm-19 0zm-2-2zm-5 2zm-31-1zm-20-6zm-7 2zm-43-1zm-1 4zm-66-3zm-15 1zm-9 4zm-10 1zm0-6zm-6 1zm-2 4zm-18-6zm-50 0zm-6 4zm-6 4zm-20-6zm-4 6zm-12-4zm-2-5zm-1 9zm-21-6zm-46-5zm-24 6zm3 9zm10 1zm13 3zm31-3zm5 5zm29-8zm10 10zm18-6zm28-2zm10 3zm7 4zm35-1zm4-9zm2 10zm1-4zm11-2zm13 4zm7-5zm4 7zm5-6zm9-2zm18 5zm48-7zm13 8zm13-2zm8-4zm27-2zm3 0zm5 10zm13-9zm16 5zm1 5zm12 0zm31-11zm1 11zm-62 4zm-32-3zm-5 4zm-11 3zm-18 4zm0-9zm-6-1zm-6 1zm-10 2zm-3-2zm-23 0zm-7 6zm-5-3zm0 5zm-64 0zm0-10zm-7 0zm-7 10zm-21-5zm-16 6zm-18-4zm-11-3zm-19-3zm-75 3zm-15-4zm-12 4zm31 11zm30 6zm8-4zm12-3zm23 4zm1-2zm8 0zm16 7zm13 0zm23-2zm22 0zm16 2zm36-3zm15-7zm18 5zm2 3zm36 2zm14-6zm26 6zm34-11zm7 2zm5 3zm4-5zm8 7zm8 0zm5 2zm-13 4zm-14 2zm-8 1zm-15 6zm-27-4zm-19 5zm-3-7zm-26-2zm-7-1zm-2 0zm-11 1zm-23 1zm-3-3zm-3 6zm-2 4zm-30-9zm-7 9zm-8-9zm-1 6zm-2 2zm-30 2zm-11-3zm-15-5zm-11 7zm-93-8zm-15 9zm24 10zm6-4zm27 3zm10-7zm36 3zm51 6zm42-5zm7 5zm18-2zm23-1zm34-1zm33-4zm6 7zm4-5zm49 2zm-6 10zm-14 1zm-49-3zm-12 0zm-34 3zm-52 6zm-18-2zm-8-3zm-15 2zm-11-7zm-32 2zm-10 4zm-33-4zm-28 5zm-4-3zm-11 4zm-20-3zm20 16zm16-7zm3 4zm7-4zm10 2zm3-5zm7 10zm3-6zm12 4zm13 3zm19-8zm10 5zm32-1zm16-5zm8 9zm20-5zm73-5zm2 2zm13 8zm5-3zm15-8zm23 21zm-2-3zm-8-6zm-43 8zm-35 3zm-3-7zm-47 0zm0 2zm-25-2zm-12 0zm-47 7zm-20-5zm-2-1zm-1-5zm-11 10zm-4-6zm-52 9zm25-1zm55 1zm4 0zm26 4zm4-4zm6-1zm0 2zm50 8zm15-10zm8 6zm53 10zm-2 2zm-30-4zm-30 2zm-27-3zm0 3zm-6-4zm-7 0zm-50 9zm-8-5zm-22-2zm-5 6zm37 6zm30 0zm16-2zm4 11zm41-5zm6-1zm4-5zm9 4zm-22 17zm-6-3zm-5 2zm-14-6zm-23 5z" stroke="#ff6a20" stroke-width="3.90" stroke-linecap="round" fill="none"/>
<path transform="scale(0.5)" d="M902 2325zm-1 6zm-49 19zm29 13zm12 4zm-63 8zm89 4zm-71 13zm-56 4zm134 6zm-61 13zm-83 5zm47 8zm27 2zm26 4zm42-8zm-48 21zm-28 0zm-51-9zm-40 9zm-10-3zm159 12zm-35 15zm-23-6zm-44 16zm115-1zm73 1zm9-3zm12 11zm-24 6zm-3-5zm0 5zm-62-2zm-116 5zm78 7zm19 1zm3-4zm6 1zm10-5zm7-2zm13 2zm71 2zm81 19zm-44-11zm-27 8zm-62 0zm-13-5zm-19-2zm-27 8zm-10 2zm-91-3zm-46 5zm31 9zm56 0zm8 0zm7-4zm19-2zm3 6zm25-6zm4 0zm77 6zm5-5zm11-4zm3 7zm6-4zm13 4zm2-2zm21 3zm68 6zm-17 4zm-13-4zm-38 5zm0 2zm-24-1zm-45 1zm-22-5zm-22 2zm-29-4zm-49 2zm-63 3zm-66-8zm-6 4zm-10 13zm21 2zm136-1zm1-4zm0 7zm35 1zm38-3zm92-1zm7 4zm2-10zm70 9zm25-2zm49-2zm-45 12zm-25 2zm-30-7zm-2 10zm-8-10zm-13 0zm-14 5zm-6-4zm-10 9zm-35-2zm-66-1zm-9 2zm-68-3zm-56-1zm-62 17zm15-1zm3-2zm8 1zm13-2zm53-6zm8 7zm2 4zm3 0zm5-10zm3 1zm4 3zm30-3zm7-2zm9 1zm4 4zm19 4zm7-3zm18-2zm30-1zm28 7zm12-1zm12-9zm28 8zm6 0zm40 1zm8-7zm43 4zm3-4zm7 9zm17 2zm-2 8zm-2-3zm-50 4zm-16-9zm-9 0zm-22 1zm-14 6zm-10 3zm-48-10zm-4 5zm-84-4zm-2 5zm-49-6zm-10 10zm-11-1zm-15-2zm-12 3zm-4-2zm-17 2zm-8-3zm-14 2zm-39 10zm57-4zm18 2zm2 0zm13-4zm12 1zm35 6zm14 1zm97-4zm31 0zm7 4zm8-7zm3 3zm28 0zm44-4zm5 4zm20 5zm31-7zm12-1zm18-2zm52 10zm-5 4zm-23-1zm-58 7zm-6-5zm-16 3zm-37 3zm-7-6zm-21-3zm-8 0zm-47 2zm-25-2zm-33 0zm-10 7zm-2-1zm-3-2zm-7-1zm-9-3zm-12 0zm-61 9zm-3-7zm-12 6zm-65 1zm-62-5zm42 13zm14 1zm4-1zm23-6zm31 10zm4 1zm81-5zm27 1zm20 3zm51-9zm40 8zm21-8zm1 3zm9 2zm10-3zm23-2zm3 2zm26 4zm58-7zm51 9zm-18 4zm-44 3zm-34-3zm-24 6zm-2-5zm-50 3zm-4 0zm-36 2zm-5-3zm-40 3zm-45 0zm-19 3zm-1-5zm-19 2zm-6-4zm-43 8zm-12-6zm-9-4zm-10 5zm-9-3zm-50-1zm-9 3zm-22 4zm135 7zm2 2zm34-4zm3 5zm5-2zm29 5zm20 1zm6-10zm43 6zm5-5zm6 6zm18-2zm16-4zm17-1zm3 4zm8 4zm6-4zm8-4zm2 3zm27 7zm5-7zm66 5zm0 2zm1-7zm22 0zm66 1zm7 17zm-17-9zm-7 7zm-70-7zm-8 6zm-11-2zm-23 2zm-8 4zm0-4zm-25 4zm-9-5zm-17-2zm-1-2zm-1 3zm-20-1zm-11 5zm-119-5zm-72-3zm-14 8zm-21-9zm-16 7zm-32-5zm-40-1zm-22 10zm13 10zm24 0zm13-4zm2 4zm45 2zm22-2zm14 2zm10-7zm24-2zm34 0zm4 5zm2-7zm17 8zm6-1zm18-3zm9 0zm54 7zm23-1zm30-10zm7 4zm7 3zm17-5zm13-1zm31 2zm43 6zm4-6zm12 5zm109-6zm-28 14zm-4 1zm-92-5zm-33 11zm-22-11zm-40 8zm-16-1zm-15-5zm-3-1zm-2-1zm-3 11zm-8-4zm-2-6zm-33 2zm-3 8zm-28-6zm-21 6zm-26-5zm0-2zm-38 7zm-47-6zm-17-1zm-21-4zm-4 8zm-46-8zm-58 4zm4 14zm5 0zm26 4zm20-8zm49-1zm21 3zm18-3zm11 0zm1 5zm1 5zm5-9zm16 0zm18 8zm4-7zm95 5zm27-7zm42 5zm21-2zm28 7zm116-2zm63-2zm18-1zm2 10zm-12 6zm-26 0zm-1-9zm-47 7zm-68 3zm-8-4zm-18 0zm0 4zm-23 0zm-20-7zm-6 0zm-31-1zm-16 8zm-7-10zm-19 4zm-11-3zm-4 0zm-20 6zm-30-6zm-14 1zm-31 5zm-3 3zm-8-7zm-125 1zm-2 6zm-7 9zm13-6zm10 6zm13 0zm19 0zm71-4zm36 3zm40-4zm11 8zm4-4zm22-6zm0 4zm9-4zm17 2zm8 8zm30-7zm2 2zm16 3zm2-6zm29 4zm16-4zm25 0zm25 2zm5-1zm5 3zm56-4zm5-1zm0 14zm-8-1zm-4 1zm-30 5zm-9-9zm-28 8zm-5 0zm-53 2zm-1 1zm-13-9zm-2 4zm-36 5zm-51-6zm-15-1zm-15 2zm-2-3zm-38-3zm-36 2zm-8 9zm-9-10zm-12 9zm-17-2zm-89-7zm-16 6zm-9-5zm59 19zm5-9zm5 1zm13 7zm3 2zm14-3zm2-2zm5 3zm39-6zm69-2zm24 2zm8 3zm12 3zm7-1zm27-6zm30 4zm17-3zm2 1zm17 5zm9-6zm13 9zm7-9zm33 1zm5-1zm27 2zm39 3zm22-1zm-34 15zm-7-4zm-3 6zm-2-4zm-20-3zm-24 2zm-73 1zm-25 1zm-4 3zm0-3zm-1-5zm-2 6zm-19-8zm-26 10zm-47-11zm-53 7zm-4-7zm0 9zm-6-6zm-11 4zm-9 4zm-32-7zm-2-3zm-13 7zm-31-2zm-3-5zm-9 1zm-54 10zm12 7zm11-2zm119 0zm6 5zm12-8zm3 5zm3 4zm5-4zm18-6zm23 0zm4 0zm46 10zm4-2zm3-7zm17 3zm8-3zm5 9zm4-6zm2-4zm12 3zm10-1zm30 2zm53 5zm1-3zm31-4zm36 5zm18 2zm26-6zm5 16zm-10 3zm-29-10zm-36 4zm-22-3zm-13 1zm-16 4zm-6 2zm-23 2zm-52-7zm-11-4zm-6 9zm-27-1zm-34-5zm-7 4zm-78-2zm-46 4zm-43 1zm-31 1zm-7-3zm-28 6zm31 4zm8 0zm32-6zm1 3zm53-2zm4 1zm32 0zm13-1zm8-1zm21 1zm18 7zm56-4zm1 6zm17-6zm22-3zm5 4zm3-2zm38-3zm15 7zm3 1zm14 2zm16-9zm12 3zm14 7zm31-2zm18-5zm4-4zm5 11zm-9 3zm-30 5zm-14-5zm-56 7zm-14 0zm-14-1zm-2-5zm-4 7zm-63-4zm0-6zm-51 3zm-4-3zm-44 0zm-25 7zm-24 4zm-16-11zm-52 0zm-20 11zm-37 8zm8-2zm60 4zm35-4zm23 6zm36-3zm21-2zm0-4zm8 5zm48 0zm18-2zm5-2zm9 1zm22-4zm29 11zm4-1zm4-3zm3-2zm8 0zm21 2zm9 4zm2-5zm77 2zm6-6zm-63 12zm-18-1zm-13 7zm-51 3zm-82-6zm-20 1zm-20 2zm-12 1zm-38-6zm-12 5zm-18 1zm-12-6zm-11-1zm-2 7zm-2-3zm-15 3zm-49 11zm26-2zm50 0zm32 0zm15-2zm2 0zm42 5zm18-2zm17 0zm22-1zm6 0zm7-1zm97 4zm31-7zm20 3zm15 5zm-19 4zm-4 2zm-11 0zm-20 4zm-43-6zm-1 4zm-78 0zm-38 5zm-30-11zm-60 11zm-5-11zm-4 3zm-78 2zm36 12zm28-5zm14 10zm39-6zm16-1zm7 0zm3 7zm28-4zm7 1zm26 0zm24-3zm16 1zm18-4zm28 7zm1-6zm72 2zm18 0zm-18 11zm-48 1zm-37-2zm-63 0zm-8 2zm0 7zm-3-10zm-6 3zm-6-1zm-15-1zm-6 8zm-4-2zm-4 1zm-30-2zm-12-1zm-9 4zm-9-5zm-21-5zm-35 3zm-17-2zm-7 3zm50 8zm45 9zm40-8zm17 8zm1-4zm14 2zm2-1zm31-5zm16 0zm4 5zm2-3zm2-1zm14 3zm12-4zm12-1zm7 8zm28 6zm-44 7zm-12-3zm-15-6zm-13 1zm-44 2zm-29 4zm-7-1zm-30 0zm-22 4zm24 8zm5-4zm0 8zm6-9zm43 0zm20 5zm42-4zm32-1zm3 3zm-10 9zm-14 6zm-41-7zm-20 0zm-9 0zm-60 9zm-16-8zm-25 16zm89 0zm9-1zm13-2zm60 9zm5 4zm-56 12z" stroke="#ff2a10" stroke-width="3.90" stroke-linecap="round" fill="none"/>
<path transform="scale(0.5)" d="M896 2316zm-47 16zm55 36zm4 17zm-128 25zm119-2zm-105 28zm10 14zm119 5zm-66 10zm-22-1zm-7 6zm-8-2zm-26-3zm28 8zm11 6zm154 4zm-36 11zm-2-2zm-3-5zm-50 3zm-152-5zm30 21zm79-7zm32 5zm20-6zm2 1zm60-1zm3 0zm65-1zm21 20zm-13 1zm-42-9zm-49 9zm-20-7zm-120-1zm-64-1zm-5 9zm-21 10zm72-2zm31 1zm114-3zm28 5zm53 1zm17-9zm41 8zm35 12zm-76-9zm-14 6zm-44-4zm-7 5zm-1-7zm-5 6zm-53 5zm-28-3zm-7-8zm-42 10zm-2-7zm-10 6zm-35-2zm-42-6zm-16 8zm10 7zm28 4zm97-1zm86 2zm59-4zm30-5zm66 15zm-8 2zm-14 1zm-12 4zm-5-9zm-11 10zm0-2zm-8-7zm-24 6zm-17-2zm-15-3zm-25-3zm-3 6zm-20 2zm0-6zm-50-1zm-70 9zm-38-8zm-20 8zm-22 1zm-11-9zm40 12zm79 9zm32-2zm28-3zm1 5zm23-9zm48 5zm63-6zm26 2zm25 3zm69 14zm-10-5zm-14 4zm-37 1zm-3 2zm-30-5zm-64 4zm-9 1zm-111 0zm-5 1zm-22-11zm-27 11zm-7-9zm-13 9zm-10 0zm-29-11zm9 19zm42 0zm0-6zm24 6zm2 4zm4-6zm35 2zm3-3zm38 4zm69-3zm1 2zm41-5zm2 2zm8 2zm38 0zm6-1zm1 5zm138 5zm-34 2zm-4 0zm-161 3zm-16-2zm-47 3zm-2-3zm-6-2zm-2 2zm-28 4zm-4-8zm-9 9zm-15-4zm-37-2zm-30-5zm-81 3zm-9 18zm7 2zm6-2zm43-5zm14 2zm1-3zm21 3zm34-2zm35 0zm103 1zm33-5zm17 7zm23 3zm5-10zm30 2zm6 4zm23 0zm36 3zm68 2zm11 12zm-12-9zm-32 4zm-59 3zm-44-5zm-47-4zm-83 0zm-4 8zm-20-1zm-13 3zm-50-6zm-16-1zm-47 0zm-6 7zm-11-3zm-30-1zm-18 4zm-33-3zm21 16zm28-1zm18-6zm54 3zm9 3zm17-6zm55-1zm47 0zm25-3zm35 1zm6 7zm13-6zm40 6zm34-8zm11 4zm36-3zm22 9zm37 1zm-51 6zm-17 4zm-32-9zm-29 2zm-22 4zm-89-2zm-10 1zm-2 5zm-3-8zm-1 6zm-23-6zm-4 5zm-25 0zm-7-3zm-8 3zm-22-6zm-45 4zm-9-5zm-4 2zm-40 2zm-6 5zm-37-1zm-9-6zm-5 7zm-40-3zm10 15zm161 1zm2-8zm16 4zm48 0zm2 5zm47-9zm44 8zm17-6zm36 7zm48-2zm10-7zm8 2zm57-1zm36 8zm41-6zm45 1zm4 10zm-128 3zm-5-2zm-33-1zm-2-2zm-28-1zm-16 6zm-102-6zm-17 8zm-25-7zm-43 0zm-11 8zm-21-6zm-55 4zm-45-2zm-33-2zm-42 14zm12 4zm35 0zm22-2zm18-5zm14 6zm61-5zm16-3zm6 5zm14-6zm38 11zm10-7zm7 4zm17-4zm0 4zm11 0zm29-6zm17 6zm15 1zm2-5zm14-1zm19 3zm8 3zm26-2zm33 3zm16-10zm2 4zm3-4zm8 0zm10 9zm37-4zm5 6zm55 0zm6-9zm28 14zm-81 5zm-82-3zm-118-2zm-2 2zm-26 1zm-9 2zm-4-2zm-30 3zm0-8zm-1 7zm-13 0zm-11-4zm-36-4zm0 4zm-22-4zm-34 9zm-59-4zm-4-4zm-43 12zm43 1zm6 1zm22-2zm83 9zm26-6zm34-3zm18 7zm15-3zm13-3zm8 6zm1-5zm17-1zm26-2zm29 10zm29-8zm4 1zm27 2zm32 5zm24-11zm5 5zm23 1zm8-4zm41 10zm-9 4zm-3 6zm-46-3zm-36-3zm-9 7zm-24-8zm-45 8zm-66-6zm-27 5zm-3 1zm-67-6zm-7-5zm-61 7zm-102 1zm-29-8zm-7 12zm35 3zm60-2zm24-1zm14 11zm136-1zm22-6zm11 2zm18-5zm11 9zm10-5zm11 1zm47 2zm42-6zm2 6zm10-1zm19-7zm28 8zm22-2zm-17 8zm-15 3zm-43-3zm-39 9zm-11-1zm-8-5zm-35-5zm-23 10zm-35-10zm-15 7zm-4 0zm-4 3zm-19-6zm-14 7zm-16-7zm-16 5zm-16-6zm-64 5zm-98-6zm6 14zm40 3zm19-1zm13-3zm3-1zm28 5zm5 2zm4 0zm14-9zm0 10zm37-8zm27 3zm4 4zm42-4zm53 0zm17-5zm28 2zm35 5zm34-7zm34 5zm6 4zm16-3zm9 5zm-2 12zm-13-3zm-15 3zm-88-6zm-12 1zm-17 1zm-17-3zm-4 0zm-27 1zm-14 0zm-3 4zm-20-5zm0 7zm-16-10zm-21 4zm-93-1zm-54 1zm-32 6zm30 8zm11 1zm19 3zm41-8zm4-3zm12 5zm36 4zm90 0zm14-2zm94-4zm11 2zm26-5zm2 4zm44-1zm13 19zm-25-4zm-12-4zm-33 0zm-4 0zm-40 3zm-65-3zm-26 6zm-9 0zm-12 3zm-4-2zm-91-9zm-5 7zm-46 0zm-23 0zm-7 3zm-36-8zm-39 1zm125 17zm137-2zm11-4zm6 8zm28-7zm6-3zm110 3zm-5 11zm-10 6zm-52-5zm-10 8zm-22-8zm-5 5zm-3-4zm-70 7zm-19-1zm-36-3zm-18-6zm-30 3zm-41-3zm-61 7zm-16-1zm48 12zm6 0zm85-6zm23 9zm17 0zm20-10zm13 9zm47-2zm1-6zm25 7zm5-2zm8 5zm24-9zm36-1zm25 10zm17-11zm-20 19zm-11 0zm-36-5zm-114 1zm-64 5zm-4-8zm-20 3zm-28-3zm-31 10zm-18-2zm-28-5zm36 15zm45-6zm39 11zm8-6zm10 6zm3-2zm48-5zm2-2zm19 3zm4-3zm2 6zm19 2zm13-5zm6 5zm9 1zm7-2zm44 1zm1-9zm21 13zm-77 8zm-10-10zm-12 5zm-90-2zm-2 7zm-15-2zm-9-5zm-18-3zm-12 6zm-22 2zm-42-3zm-12-4zm37 19zm54 1zm5-5zm15 4zm11-1zm18-5zm32 4zm23 3zm50 2zm16-10zm13-1zm-50 17zm-27-3zm-32-1zm0 8zm-85 0zm-4 0zm-17 1zm-6-10zm13 22zm6-10zm9 4zm58 1zm81 0zm22 0zm1-3zm34 13zm-99 0zm-20 3zm-26 1zm-35 6zm87-1zm37 1zm30 0zm-50 17zm-10-4zm-33-2zm-12 1zm-8 12z" stroke="#d80008" stroke-width="3.90" stroke-linecap="round" fill="none"/>
<path transform="scale(0.5)" d="M867 2360zm54 40zm-68 20zm-88-7zm144 28zm-62 1zm92 12zm28 0zm-20 16zm-188-1zm-24 3zm88 4zm194 13zm-245 4zm-25-9zm25 19zm57-1zm14-5zm11 8zm16 0zm62-8zm31-1zm57 21zm0-9zm-4 10zm-28 0zm-9 1zm-142-3zm-19-8zm-13 8zm-6-1zm-45-6zm47 12zm12 2zm73 3zm41-4zm27-2zm89 3zm22 6zm48 10zm-6-5zm-14 5zm-6-3zm-37-4zm-41 11zm-46-5zm-17-2zm-48 1zm-4 0zm-18 5zm-22 1zm-13-10zm-81 17zm86 3zm8-6zm25 4zm22 3zm45-7zm21 8zm32-1zm2 0zm54-5zm62-1zm31 3zm-19 5zm-65 10zm-10-5zm-50-5zm-72 10zm-20-2zm-59-7zm-23 5zm-19 1zm-62 3zm-30-6zm-6 9zm94-1zm131 10zm19 1zm37-4zm2 2zm14-2zm32 3zm21-9zm27 5zm82-3zm14 1zm-24 16zm-14-4zm-12-2zm-19 9zm-29-5zm-7-6zm-3 9zm-30 2zm-45-10zm-17 6zm-11 2zm-6 2zm-126-4zm-4 4zm-38 0zm-56-10zm0 17zm4 0zm59 2zm7-2zm11 0zm24 4zm131-4zm13 5zm17-1zm14-2zm65 0zm18-3zm14-1zm33 7zm77 7zm-87-2zm-14-3zm-46 5zm-2 5zm-18-2zm-10 0zm-2-4zm-10-5zm-5 1zm-72 8zm-26-8zm-8 8zm-36 0zm-8-4zm-4 2zm-33 1zm-14 3zm-18-5zm-11 7zm11-1zm50 3zm10 7zm21-3zm121-4zm81 3zm1 4zm56 0zm1-6zm19 1zm46-3zm-2 12zm-15 2zm-105 0zm-18-4zm-26 0zm-5 0zm-71 0zm-69 0zm-106 9zm-12-9zm-3 4zm-37 1zm-13 11zm34-2zm64 0zm47-2zm30 0zm40 3zm10-3zm27 7zm13 3zm17-7zm100-1zm8-1zm9 7zm22 0zm78-1zm12-6zm19 14zm-36 7zm-24-2zm-45-8zm-97 9zm-35-6zm-29 6zm-57-6zm0 7zm-17-5zm-41-2zm-6 6zm-1-7zm-6 1zm-2 2zm-27 5zm0-5zm-59 3zm-32 12zm11-6zm42 6zm87-7zm30 3zm4 7zm38-6zm140 2zm10 3zm115-4zm49 2zm22-3zm2-5zm56 4zm-50 17zm-33-6zm-3 0zm-68 6zm-15 0zm-19 2zm0-11zm-24 1zm-34 10zm0-4zm-4-5zm-21 4zm-23 5zm-102 0zm-3-4zm-15 1zm-53-3zm-22 2zm-4-2zm-38 6zm-28-6zm-28 4zm-12-3zm132 17zm72-10zm59 9zm10-10zm40 4zm13-3zm37 3zm3-2zm12-2zm29 2zm36 8zm149-1zm-3 6zm-14 6zm-87-4zm-36 3zm-15 3zm-18 0zm-14-6zm-14 0zm-14 2zm-4-4zm-6-2zm-54 3zm-20 2zm-39 3zm-8-4zm-17-5zm-58 2zm-17 0zm-18 5zm-35 3zm-13-1zm-84-8zm2 21zm1-1zm75-5zm35-2zm83 6zm34 2zm56-1zm5 2zm89-11zm10 5zm45-1zm19 1zm6-2zm51 3zm11 4zm38-1zm18 3zm-33 9zm-21-4zm-9 1zm-139 3zm-21-3zm-10-6zm-9 9zm-22-4zm-98-1zm-48 1zm-2 2zm-11-7zm-2 4zm-28 7zm-9-5zm-30 1zm8 9zm141 1zm14 1zm7 3zm38-9zm49 0zm11 9zm58-6zm0-3zm20 9zm12-8zm3 6zm33 0zm3 3zm-19 11zm-51-2zm-39-3zm-11 2zm-46 0zm-20-2zm-13 0zm-75 6zm-147-5zm-39 0zm26 17zm54-9zm33 5zm58-2zm11-3zm66 10zm48-11zm42 1zm17 8zm39-8zm104 11zm-9 9zm-85-9zm-14 2zm-39 8zm-21 0zm0-6zm-9-4zm-7 9zm-6 1zm-10-10zm-114 6zm-29 5zm-21-4zm-26-1zm-3-6zm-51 0zm-11 4zm-39 14zm15-4zm68 7zm2-3zm25 2zm38 0zm18-7zm39 10zm3-11zm1 5zm4-3zm1 6zm10-1zm15 3zm16-9zm59 10zm18-4zm39-5zm15 1zm5 7zm67 9zm-6 1zm-34-2zm-99 0zm-77 2zm-18-7zm-5 5zm-70-5zm0 4zm-39-5zm-11 7zm-31 7zm91 8zm22-4zm2 0zm3 4zm12 0zm10-7zm6 6zm59 1zm0-3zm86-6zm10 7zm2 2zm24-6zm3-2zm11-2zm0 12zm-24 6zm-50 0zm-25 4zm-11-6zm-12-4zm-7 4zm-17 4zm-5 2zm-8 0zm-9-3zm-16 1zm-49 1zm-92-3zm-22 16zm53-2zm58-2zm39-3zm26-3zm3 6zm4 3zm6-7zm24 7zm5-8zm61 2zm25 7zm12 3zm-25 8zm-44-5zm-17-1zm-11-2zm-29 4zm-13 0zm-9-5zm-2 10zm-2-2zm-22-7zm-10 4zm-38-5zm-5 7zm-32-3zm-6 6zm-51-8zm-19 19zm3-3zm79-1zm44-5zm3 7zm38-4zm39 4zm5-6zm37 4zm88-4zm0 7zm13 1zm-76 14zm-21-3zm-30-4zm-7-1zm-11 6zm-19-8zm-48 10zm-52-9zm-1 5zm-14 0zm-33-3zm-3-3zm-16 19zm31 0zm34-6zm39 9zm62-6zm12-1zm7 1zm16 2zm19-3zm8 0zm74 0zm-45 11zm-29 6zm-70-9zm-86 10zm-39-5zm-15-4zm16 12zm79 2zm62 3zm4 4zm-30 12zm-49-5zm-56-1zm27 10zm96 3zm-4 22z" stroke="#a8000f" stroke-width="3.90" stroke-linecap="round" fill="none"/>
<path transform="scale(0.5)" d="M912 2356zm18 1zm-112 12zm-47 53zm-11 8zm86 9zm123 24zm-147 19zm144 4zm-26 7zm-12 1zm-190 3zm118 1zm177 6zm22 4zm-61 6zm-12-5zm-187 5zm-2 0zm-9 0zm-40 15zm0 2zm12-5zm55-1zm107 3zm96-2zm31 0zm23-1zm32 6zm-21 3zm-2 7zm-95-8zm-65 10zm-83 0zm-78 2zm39 5zm22 4zm13-5zm106 4zm53-8zm19 7zm8-2zm64 4zm22-4zm15-4zm13 20zm-25-1zm-103 0zm-58 2zm-2-7zm-77 4zm-95-8zm-32 1zm-1 14zm26 4zm60 2zm24-8zm39 10zm45-1zm17-1zm8-7zm69 9zm2-7zm38 1zm25 5zm21-8zm66 7zm-94 7zm-32-2zm-27 4zm-1 5zm-4-10zm-39 8zm-164-3zm-14-5zm-39 15zm42 5zm54 2zm15-2zm11-6zm24-2zm56 6zm0-2zm2 2zm77-2zm7 6zm83-5zm20-4zm7 5zm-90 11zm-204 0zm-59 0zm92 15zm62-8zm60 5zm65-6zm30 7zm32-7zm72 6zm11 0zm16 4zm6 4zm-70 1zm-4 4zm-67 3zm-10-3zm-6-6zm-21 3zm-42 3zm-90-2zm-6 5zm-20-3zm-36-7zm-26 4zm-14 4zm-110 6zm21 1zm84 2zm14-3zm22 4zm53 5zm4-7zm28 6zm111-1zm36-4zm10 2zm25 0zm44-7zm12 2zm7-2zm47 3zm0 4zm90 10zm-27 1zm-48-2zm-77 3zm-13 4zm-7-6zm-10 5zm-117-10zm-54 11zm-20-6zm0 4zm-54-1zm-10-2zm-49 5zm-13-3zm-21-5zm-90 8zm11 10zm9 2zm120-4zm79-5zm247 0zm98 5zm29 14zm-98-1zm-151-4zm-14 6zm-57 0zm-8-10zm-111 0zm-15 10zm-16-10zm-103 3zm12 18zm15-4zm13 4zm67 1zm18-3zm12-6zm31 0zm193 9zm48-4zm7 3zm2-1zm40-5zm29 4zm58-3zm30 5zm-8 10zm-34 2zm-52-4zm0-1zm-30 0zm-2-3zm-75 2zm-10 6zm-26-3zm-76-4zm-16 7zm-35-8zm-1 7zm-156-5zm-40 0zm26 20zm69-10zm115 8zm50-9zm25 4zm4 7zm7-6zm3 1zm55 0zm20 2zm104-7zm61 8zm36 7zm-10 3zm-9 1zm-75 2zm-20-10zm-36 4zm-23 2zm-58 0zm-59-2zm-2 4zm-21 2zm-50-1zm-14-8zm-42 2zm-73 4zm-48 15zm56-1zm69-9zm8 3zm27 6zm51-9zm36 7zm9-6zm32 6zm99-2zm-11 12zm-17 6zm-61-10zm-15 5zm-12 0zm-14-5zm-16 5zm-5-6zm-6 8zm-22-5zm-10 5zm-16 2zm-31-8zm-74 0zm-26 5zm17 11zm5 4zm15-6zm23 0zm62 7zm38 0zm90-11zm35 6zm28 1zm25-4zm40 7zm63-1zm5-9zm-73 15zm-103 6zm-72-4zm-11 5zm-15-3zm-6-1zm-23 0zm-3 3zm-46-3zm-172-4zm60 12zm121 1zm39 3zm74-2zm75 0zm11 3zm9-3zm36 5zm52 0zm-1 7zm-129-1zm-34 0zm-112 2zm-36 4zm-7-6zm-25 6zm-24-5zm-63 0zm10 11zm61-3zm9 2zm179 4zm22 4zm31-1zm54-4zm88-2zm-124 9zm-55 0zm-63 10zm-20-7zm-113 8zm-3-11zm-16 8zm-14-3zm-9-5zm-15 15zm39 3zm96 2zm5-3zm60-1zm23 5zm27-2zm16-3zm24 2zm26-1zm49 3zm-17 4zm-14 7zm-40-3zm-33 5zm-8 0zm-24-9zm-1 6zm-6-5zm-21-1zm-30 2zm-27-1zm-39 6zm-18-7zm-48 10zm-38 9zm35-4zm32 5zm19 0zm39 0zm68-2zm8-2zm73-1zm71 10zm-40 1zm-50 6zm-45 0zm-32 2zm-81-10zm-20 7zm23 11zm65-3zm26 6zm14-9zm23 9zm26-4zm5 18zm-30-6zm-8 3zm-9 3zm-28-6zm-15 0zm-102-5zm-41 23zm90-6zm75-3zm15 7zm56-1zm14-6zm-99 21zm-40-5zm-61-3zm44 16zm28-7zm20 1zm-14 20z" stroke="#700018" stroke-width="3.90" stroke-linecap="round" fill="none"/>
<path transform="scale(0.5)" d="M1761 2327zm-21 0zm-6-8zm-4 7zm-23 0zm12 10zm20-1zm3 1zm8 1zm1 6zm-60 1zm-28-4zm-13 11zm-7-2zm5 7zm7 0zm17 4zm7-3zm50 3zm3 15zm-47-1zm-4 1zm-16-9zm-20 4zm-7-2zm-6 7zm-15 0zm49 8zm9 1zm14-3zm6 1zm1-6zm12 9zm46-1zm-28 12zm-37-6zm-16 9zm-5 0zm-30-4zm-2 4zm-7-3zm-6-2zm-4-4zm-18 6zm-20 8zm11 5zm12 1zm15-9zm17 6zm25 0zm7 4zm4-1zm14-7zm12-2zm7 7zm9-7zm25 7zm-1 14zm-20-7zm-14 3zm-6 4zm-17-8zm-12 7zm-6-7zm-21 8zm-5-3zm-3-1zm-16 2zm-2-7zm-47 21zm31-2zm2-2zm24 4zm3-7zm18 6zm27-7zm3 8zm11 0zm16-9zm15 1zm4 3zm2 14zm-16-5zm-1-2zm-14 6zm-10-3zm-2 7zm-7 1zm-1-5zm-8 1zm-2-7zm-14 11zm-25-7zm-8-2zm-18 8zm-43-5zm1 18zm11-10zm24 1zm6 6zm7-3zm13 1zm29 0zm10 4zm35-2zm43-3zm14 2zm15 14zm-5-4zm-5 4zm-10-2zm-27-1zm-9-5zm-1 2zm-6 3zm-21-6zm-35 4zm-20 6zm-1-3zm-4-1zm-12 2zm-5-5zm-11 2zm-11-4zm-21 9zm-11-3zm0 7zm5 1zm19-2zm24 9zm2-7zm4-2zm9 2zm3 6zm10 0zm13 2zm20-5zm8 5zm2-4zm20 3zm12 1zm0-9zm11 6zm0-4zm12-2zm13 7zm7 0zm24-8zm2 4zm3-4zm3 8zm1-5zm41 19zm-14 0zm-15-5zm-12-2zm-4 3zm-34-7zm-26 10zm-2-3zm-15-1zm-14-6zm-5 3zm-12-1zm-3 5zm-1-2zm-23 2zm0 3zm-4-3zm0-3zm-1-3zm-9 5zm-7 2zm-7-6zm-3 1zm-10-3zm-8 1zm-1 9zm-13-9zm-5 1zm0 4zm-5-2zm-24 6zm2 4zm4 5zm17 4zm3-3zm7-4zm3 5zm11-4zm6 1zm14 1zm5-4zm3 4zm3-7zm3 9zm7-4zm4 6zm2-4zm1 3zm20 1zm7 0zm11-11zm2 3zm1-1zm3 9zm3-6zm4 2zm6-5zm0 8zm2 1zm6-2zm6-7zm7 7zm3-7zm13-1zm2 6zm17-7zm3 9zm10-4zm12-3zm5-2zm1 8zm0-4zm1-2zm9 9zm17-2zm8-7zm28 20zm-3 0zm-2-4zm-2 2zm-14 1zm-7 2zm-14-1zm-16 0zm-9 1zm-3-9zm-4 5zm-6-5zm-7 2zm-7 7zm-1-10zm-1 7zm-2-8zm-5 7zm-5-1zm-6 2zm-21-4zm-9-1zm-5 1zm-2-3zm-3 1zm-1 8zm-2-10zm-8 9zm-8-6zm-2 2zm-1 6zm-3-7zm-3 2zm-5 3zm-24-5zm0 3zm-1 4zm-10-3zm-11-8zm0 8zm-3-1zm0-5zm-6 1zm-1 7zm-2-5zm-7 1zm-1 1zm-5 4zm-3-6zm-15-2zm-9 2zm-3 3zm-2-8zm-2 5zm-6 0zm-5-3zm-6 20zm3-7zm22 3zm24-6zm3 4zm1 7zm1-3zm3-1zm2-7zm23 8zm15-5zm6 7zm7-4zm2-2zm17 2zm0-5zm3 4zm13-4zm1 5zm3 1zm2-3zm12-2zm2-2zm2 7zm2 0zm8 4zm9 0zm2-8zm5-1zm24 8zm2-3zm4-4zm2 3zm55 4zm6 1zm7-5zm10 3zm72 12zm-21-7zm-2 4zm-2-3zm-7 6zm-7 0zm-6-7zm-11 4zm-6-3zm-4-1zm-5 8zm-12-1zm-4-9zm-5 11zm-8-5zm-3-1zm-32 4zm-6-4zm-18 5zm-9-3zm0-2zm-6 2zm-2-5zm-3 2zm0 7zm-7-11zm-5 8zm-8-3zm-20-5zm-2 0zm-2 7zm-3 3zm-10-4zm-6-2zm-2-4zm-20 2zm-14 0zm-4 8zm-2-9zm-4 10zm-1-10zm-9 3zm-2 6zm-8-3zm-4 3zm-3 0zm-5-5zm-16 5zm-6-4zm-7 2zm-8-6zm-3 7zm-6-1zm-8-1zm-8-3zm3 8zm8 5zm7 3zm1-8zm17 4zm8 6zm4-2zm8-4zm3 2zm8 1zm4 3zm3-7zm3 0zm2-3zm11 11zm1-8zm20 1zm22-3zm6 9zm1-7zm5 2zm3 0zm1 2zm1-4zm5 6zm1-5zm13 2zm7 4zm7-3zm4-4zm10 7zm2-9zm10 5zm5 0zm24-5zm5 2zm8 8zm6-7zm2-4zm8 2zm11 5zm20 0zm4-2zm13 2zm6-3zm7-2zm9-2zm6 3zm4-2zm4 10zm13-2zm1-9zm35 2zm23 11zm-3 9zm-10-6zm-18 5zm-7-6zm-11-2zm-4 8zm-1-8zm-16 0zm-5 6zm-8 2zm-7-6zm-2-3zm-6 1zm-2 5zm-4 2zm-1-2zm-14 3zm-2-6zm-5 2zm-2-5zm-4 2zm-5 5zm-17 2zm-2 2zm-4-5zm-4 1zm-1-3zm-1-4zm-4 11zm-4-6zm-2 0zm-1-5zm-11 7zm-7-2zm-4 4zm-12-3zm-6-1zm-17 5zm-6-5zm-5 6zm-2-7zm-9 0zm0-3zm-4 3zm-13 0zm0 6zm-13-8zm-2 4zm-3 0zm-4-4zm-2 3zm-8 3zm-5 1zm0-7zm-27 8zm-6-10zm-4 10zm-2-9zm-2 1zm-2 5zm-2-3zm-21 2zm-14-1zm-8 6zm-7-6zm-18-1zm-17 5zm5 10zm6 1zm1-6zm9 1zm12 5zm7 3zm2-7zm6-4zm1 10zm7 1zm5-9zm19 4zm8-3zm6 5zm3-2zm13-2zm1 3zm6 1zm21-7zm11 10zm21-9zm2 1zm1 3zm6 4zm2-9zm2 6zm30 0zm6 3zm0-7zm3-1zm20 8zm11-6zm26 0zm4-2zm9 1zm12-3zm13 2zm4-1zm13 0zm0 10zm21-6zm5 6zm2-7zm12 0zm7 3zm8 0zm19 2zm3-5zm0-4zm0 8zm4-7zm2 4zm9 0zm3 3zm2 3zm3-6zm6-4zm14 10zm-6 2zm-13-1zm-13 0zm-8 10zm-5-8zm-2-1zm-6 0zm-8 0zm-3 7zm-5-6zm-5 0zm-5 2zm0-2zm-19 4zm-7-4zm-4 7zm-25-3zm-3-6zm-3 11zm-6-7zm-11 3zm-6-2zm-3 3zm-2-6zm-2 8zm-1-4zm-8 4zm-5-8zm-2 7zm-3-3zm-5-3zm-5-1zm-2-2zm-1 7zm-11-7zm-6 0zm0 3zm-2 5zm-21-2zm-3 3zm-3-1zm0-3zm-9-3zm-10 4zm-19 3zm-9-9zm-4 5zm-4 2zm-5 0zm-16-3zm-16 6zm-2-9zm-5-1zm0 5zm-6 4zm-5 2zm-28-5zm-13-6zm0 7zm-11 4zm-18-6zm-3 2zm-5 2zm-5-5zm-1 8zm9 1zm9 2zm2-2zm10 0zm12 10zm24-5zm9 0zm12-6zm2 3zm2 0zm3 6zm2 2zm8-10zm3-1zm16 4zm3-3zm13 0zm0 5zm1 2zm13-6zm19-2zm4 0zm18 3zm8-1zm9 4zm8 3zm1-6zm3-3zm2 2zm4 5zm4 1zm1-3zm7 5zm10 0zm4-1zm19 0zm11-2zm8-6zm5-1zm8 10zm1 1zm0-5zm3 2zm9-7zm2 7zm5 1zm0-4zm4-2zm10-2zm10 2zm16 0zm6 1zm27-4zm4 6zm5-6zm1 7zm9-6zm34 6zm5-5zm7 2zm7-1zm4 4zm20 14zm-13-7zm-6 9zm-19-10zm-8 0zm-6 8zm-6-1zm-3-8zm-9 0zm-19 9zm-8-2zm-39 4zm-7-8zm-30-3zm-1 9zm-4 0zm-5-4zm-15-5zm-4 6zm-2-4zm-12 9zm-9-9zm-7 2zm-6-1zm-3 7zm-16-1zm-5-1zm-7-4zm-7 4zm-6-5zm-4 7zm-12 1zm-3-5zm-12-1zm-13 6zm-11-7zm-2 4zm-2-5zm-1 6zm0-2zm-3-5zm-3-1zm-4 10zm-1-3zm-5-2zm-5-5zm-2 5zm-14-4zm-7 0zm-6 7zm-8-6zm-4-2zm-2 7zm-5 2zm-3-8zm-4 8zm-1-6zm0 7zm-12-5zm0 4zm-18-10zm-11 1zm-3 0zm-5 6zm-15-6zm-1 3zm-1 3zm-13 12zm1 4zm17-11zm14 6zm4 1zm13-4zm9 7zm7-6zm0 6zm5-7zm0 8zm6-4zm9 1zm15-5zm4-3zm14 1zm1 3zm14-4zm2 9zm2-7zm2-1zm2 10zm2-11zm4 7zm3 0zm6 0zm11 1zm0 2zm2-10zm10 2zm7 8zm2-10zm3 5zm1 4zm4-5zm8-1zm5 3zm15-2zm5 0zm16-3zm5 9zm5-1zm3-5zm12 0zm1 7zm5-8zm11 0zm35-2zm3 7zm14-4zm8 6zm2 1zm11-1zm29-6zm5 7zm4-2zm18-8zm4 7zm2 1zm3-2zm14 0zm6 2zm10-9zm17 8zm10-2zm5 1zm25-2zm22 1zm8 7zm-1 9zm-4-2zm-2 2zm-2-8zm-43 7zm-1-2zm-8-5zm-25 6zm-7-4zm-7-3zm0 9zm-20-9zm-33 2zm-3 2zm-10 6zm-6-3zm-9 0zm-14 0zm-4 1zm-4-9zm-5 9zm-5-1zm-8-1zm-2 4zm-1-3zm-2 3zm-4-11zm-5 10zm-13-3zm-9 3zm-38-5zm-5 4zm-1-6zm-2 2zm-2-4zm-3-1zm-10 0zm-4 2zm-9 5zm-3 0zm-3-4zm-12-1zm-8-2zm-3 6zm-6-1zm-3-5zm-11 8zm-5-3zm-11-2zm-5 8zm-15-1zm-3-4zm-8 5zm-2-11zm-3 2zm-17-2zm-5 6zm-1-6zm-4 8zm-5-5zm-18 2zm-9-5zm-3 4zm-12-2zm-4-2zm-7 4zm-7 1zm-3 2zm-9 0zm-6 2zm0 9zm5 2zm32-4zm1 7zm11-10zm2 8zm13-4zm5 6zm3-4zm3 3zm15-3zm4-5zm4 0zm4 0zm8 3zm25-5zm3 0zm6 2zm2 5zm3 2zm22-5zm16 1zm2 3zm7-2zm15-1zm9 1zm8 3zm8-4zm6 3zm1-2zm0-6zm10 10zm2-7zm9 1zm1-3zm1 9zm11-7zm6 8zm1-6zm1 1zm10 3zm4-9zm3 5zm8-1zm6 5zm12-4zm1-4zm2 3zm4-2zm25 7zm2-1zm3 0zm19-4zm5 7zm4-10zm11 9zm6-4zm16-1zm26 5zm7 0zm5-8zm26 9zm4-10zm53 5zm53 13zm-2 4zm-4-5zm-2 4zm-21-4zm-7 3zm-19-7zm-28 8zm-2-4zm-9 2zm-12-2zm-47 3zm-12 2zm-12-9zm-9 9zm-22-11zm0 8zm-4-5zm-9 1zm-1 3zm-7-5zm-2 6zm-5-3zm-14 4zm-1-4zm0-5zm-4 10zm-15-4zm-4 3zm-15-8zm-4 8zm-2-8zm-2 10zm-9-8zm-2 2zm-9-3zm-1 9zm-4-3zm-5-8zm-9 5zm-2-1zm-1 3zm-7 4zm-4-10zm-11 2zm-4 4zm-30 2zm-7-3zm0 3zm-2-7zm-3 1zm-2 8zm-5-8zm-6-1zm-10 1zm-15 6zm-3-9zm-8 11zm-7-8zm-6-1zm-4 1zm0 3zm-2 2zm-7 0zm-1-5zm-6 7zm-13-5zm-6-2zm-4-3zm-4 1zm-3 7zm-11 2zm-2-5zm-9-4zm-11 6zm-9 3zm-2-2zm-7-4zm-6-3zm-20 11zm9 3zm1 5zm5-1zm9 2zm4-2zm1-6zm11 8zm9-1zm3 1zm0-4zm6 3zm0-8zm8 0zm7 8zm3-3zm11 5zm3 0zm20-1zm11-3zm4 5zm8-3zm67-3zm3 0zm26 1zm19-3zm21 8zm12-9zm15 2zm21-1zm6 5zm9-5zm3 3zm8-6zm17 8zm5 2zm7-9zm2 2zm5 8zm10-1zm6-6zm7 3zm6-2zm0 6zm16-4zm20 3zm20-6zm34 2zm25-1zm29 4zm9-8zm25 3zm9 0zm5 7zm6 0zm-57 7zm-31 2zm-1 3zm-8-6zm-17-5zm-9 11zm-5-6zm-4 5zm-31 0zm-9-6zm0-3zm-12 2zm-4 0zm-18 1zm-8-3zm-9 0zm-2-1zm-9 5zm-20 2zm-2 2zm-14-5zm-11 7zm-7-1zm-2-7zm-10-3zm-4 4zm-12-1zm-48 7zm-1-3zm-17-7zm-12 11zm-11 0zm-15-10zm-5 8zm-3-3zm-4-5zm-4 5zm-14 0zm-3 5zm-5 0zm-5 0zm-3-4zm-6-7zm-15 11zm-4-5zm-3 2zm-1-5zm-2 8zm-8-5zm0 2zm-2-2zm-18-5zm-1 4zm-1-5zm-1 9zm-10-3zm-3 4zm-3 1zm-4-4zm-18-6zm-4 0zm-10 4zm0 2zm-9-4zm-11 15zm24 5zm17-2zm4-3zm2 2zm9 2zm4-2zm6-6zm2 5zm15 4zm1-6zm8-2zm3 2zm15 5zm1-6zm4 3zm0-6zm6 7zm4 2zm3-7zm6 5zm1-4zm0 6zm2-9zm2 5zm12-6zm7 11zm3-2zm0-5zm5 5zm7-3zm4-4zm14 5zm4 4zm13-6zm1-2zm6 2zm17-2zm2 7zm1-9zm10 10zm7-1zm1-9zm3 5zm2 2zm16-5zm11-2zm0 4zm3-2zm1 1zm15 2zm5-4zm8 4zm0-4zm16-1zm2 7zm12 1zm2-3zm4-1zm3-2zm7 8zm3-9zm0 2zm3-2zm4 5zm16-1zm1-3zm33 4zm6-3zm1 3zm2-7zm19 5zm1-3zm10 7zm15 0zm9-7zm32 3zm9-3zm6 8zm9-8zm19 0zm3 8zm0-7zm9-3zm0 9zm31 1zm0-3zm3 1zm9 2zm14 10zm-28 2zm-34-9zm-6 3zm-32 1zm-23 4zm-16 2zm-17-4zm-4 3zm-6-8zm-5-2zm-2 6zm-2 3zm-4-2zm-2 2zm-21-3zm-11 0zm-11-5zm-5 2zm-5 8zm-7-3zm-13-2zm-25-6zm-15 10zm-1-4zm-13 0zm-14-6zm0 7zm-2 4zm-4-3zm-6-5zm0 6zm-12-9zm-5 3zm-3 4zm-16-2zm-7 2zm-5-6zm0 3zm-26-2zm-20 2zm-10 0zm-2 2zm0-4zm-3 7zm-1-6zm-4 1zm-7 7zm-3-8zm-6 1zm-2 2zm-2-3zm-7 2zm-10 3zm-1-4zm-6 0zm-4 0zm-1-3zm-18 9zm-15-3zm-13-6zm-3 8zm-9-3zm-20 0zm-4 2zm-9-5zm-1 4zm-5-6zm-8 0zm-5 9zm-3 5zm9 5zm0-5zm1-3zm5 2zm4 6zm6-5zm4 3zm3-4zm14 3zm7 6zm2-10zm1 7zm2-8zm3 10zm24-1zm13-3zm18 5zm1-3zm17-8zm1 8zm1-3zm2-2zm6 5zm2-5zm1 4zm9 0zm11 2zm1-6zm12-2zm7-1zm6 1zm13 10zm6-5zm16-2zm4 0zm13 1zm3-3zm27 0zm1 5zm5 2zm3-8zm1 4zm0 5zm3-2zm2 1zm3-9zm0 4zm11 3zm11 4zm3-2zm4-1zm19 3zm18-11zm1 10zm25 0zm8-3zm0-3zm25 7zm7-3zm0-3zm9 1zm7 1zm21-4zm6 0zm0 3zm7 5zm2-2zm116-3zm16 5zm-9 4zm-1 6zm-5-3zm-22-1zm-3 3zm-3-3zm-10 4zm-33-1zm-14-8zm-20 10zm-26-1zm-7-1zm-4-6zm-29 7zm-14-4zm-6-2zm-5 0zm-3 0zm0 8zm-11-10zm-1 6zm-4-4zm-3 6zm-2-2zm-3-5zm-2 8zm-46-6zm-17 6zm-3-7zm-6 5zm-9 3zm-11-2zm-24-5zm-2-1zm-7-1zm0 5zm-7 1zm-9-8zm-3 8zm-2 2zm-4-10zm-2 11zm-13-1zm-3-4zm-4-3zm-15 1zm-2-3zm-4 9zm0-9zm-3 0zm-5 4zm-18 5zm-14 0zm0-10zm-10 10zm-2 0zm-16 0zm-7 0zm-1-6zm-9 4zm-3-6zm-6 4zm-2-2zm-7 0zm-5 3zm-1 3zm-4 1zm-7-8zm-6 7zm-4-6zm-10-4zm-8 6zm-12 4zm-2-3zm-7-6zm-10 12zm8 1zm11 9zm6-10zm2 3zm3 0zm4-3zm2 5zm2 1zm5 2zm11-5zm1 6zm1-4zm27 3zm15-8zm0 3zm9 0zm2 3zm7 2zm5-3zm3-2zm6 5zm21-2zm13 3zm11-9zm11 6zm1 2zm9-7zm19-1zm13 7zm8-8zm0 6zm23-6zm0 9zm3-5zm0-3zm14 4zm0-3zm7 1zm6 5zm8 2zm0-8zm5 9zm1-10zm2 7zm2-1zm28-2zm13-3zm12 2zm1 7zm1-1zm8-10zm6 2zm3 4zm7 3zm3-6zm15 3zm1-2zm27 2zm33-5zm6-1zm2 1zm23 0zm7 6zm11 3zm3-10zm14 4zm64 1zm9 6zm15-11zm-73 20zm0-2zm-13-5zm-28 2zm-5 2zm-3-1zm-28-2zm-5 6zm-7-8zm-6 4zm-2-4zm-8 10zm-3-8zm-1-1zm-7 3zm-3-2zm-5 0zm-5 1zm-12 2zm-16 1zm-13 3zm-4-5zm-4 5zm0-2zm-15-4zm-1-2zm-3 8zm-14-8zm-17 4zm-2-3zm0 5zm-10 2zm-9-7zm-15 4zm-15-5zm-4 1zm-8 0zm-2-1zm-4 6zm-1-7zm-3 3zm-2 0zm-22-2zm-6 10zm-2-4zm-7 3zm-2-3zm-15-4zm-3 2zm-2-1zm-5 5zm-4-4zm-1 3zm-9 1zm0-7zm-12 8zm-4-1zm-5-3zm-8 0zm-2 5zm-7-3zm-1-4zm-5 1zm-13 0zm-14-5zm-3 5zm-5-1zm-9 2zm-9-3zm-9 7zm-8 1zm-8-9zm-5 4zm-6 2zm-6-8zm-7 5zm-11-4zm5 21zm17-5zm2-2zm2 5zm5 3zm5-1zm4-9zm11 10zm1-6zm13-2zm2-2zm15 2zm2 0zm6 5zm18-5zm1-2zm2 9zm2-4zm3-4zm2-2zm1 8zm7-4zm2 2zm8 2zm2 0zm9-8zm1 8zm1-5zm4 0zm17 4zm3-2zm10-2zm9-2zm5 8zm9-7zm19 3zm11 4zm4-4zm2-1zm2 6zm1-9zm1 4zm8 4zm2-8zm6 9zm2-4zm1-4zm4 5zm11-3zm23 2zm4 0zm22-4zm6 7zm3-8zm3 7zm13 3zm2-9zm2 0zm5 7zm5-4zm24-3zm4 2zm7 2zm6-1zm6 0zm66-5zm40 4zm9 3zm10-1zm19-2zm21-2zm3 1zm-13 12zm-34 0zm-2-1zm-6-1zm-18 2zm-10 2zm-5 6zm-2-10zm-11 7zm-3-7zm0 3zm-9 1zm-30-2zm-3 8zm0-9zm-7 7zm-5-5zm-6 0zm-28 6zm-7-7zm-1 3zm-2-3zm-16-2zm-5-1zm-5 7zm-1-5zm-6 0zm-7 3zm-7 6zm-4-1zm-13-5zm-4 3zm-2-6zm-2 8zm-4-9zm-1 6zm-3-1zm-13 5zm-13-9zm-11 0zm-4 5zm-6-7zm-6 10zm-11 1zm-11-9zm-8 0zm-7 8zm-1-4zm-2 5zm-3-7zm-3 7zm-3-9zm-8 7zm-1 1zm-7-4zm-6-1zm-6 6zm-8-7zm-1 3zm0-4zm-19 0zm-6 8zm-14-8zm-3 4zm-6-4zm-1 7zm-5 1zm-42-11zm-25 3zm-13-3zm-8 4zm-2-2zm24 11zm16 7zm1-4zm2 3zm1 3zm18-10zm9 3zm10-2zm0 7zm6-4zm1-4zm6 8zm0-7zm4 4zm2-2zm9 6zm6 1zm4 1zm3 0zm2-8zm4 2zm2 6zm9-2zm2-3zm2-4zm11 6zm17-3zm1 4zm4-2zm11-3zm4 0zm18-3zm11 3zm1-3zm1 3zm2 0zm4 4zm5-5zm11 8zm2-2zm53-4zm3 1zm8 3zm12 0zm2-8zm6 4zm0 3zm2-8zm14 0zm6 8zm1 3zm5-8zm3-3zm6 0zm7 2zm4 0zm13 2zm11 6zm1-5zm32 0zm1-3zm1 5zm3-6zm13 3zm26 3zm8-1zm2 0zm14-6zm26 11zm12-1zm-16 5zm-18-2zm-16 0zm-7 5zm-22-3zm0 6zm-2-8zm-24 2zm-12 1zm-5 4zm-6 3zm-18-1zm-3-1zm-11-7zm-16 4zm-10-2zm-10 3zm-20 3zm-3-9zm-4 5zm-17-1zm-8-2zm-4 1zm-14 2zm0 4zm-11-10zm-17 11zm-6-9zm-6 6zm-8-8zm-11 2zm-15 1zm-1 6zm-9-5zm-5 2zm-1 3zm-1-2zm-8-2zm-10 5zm-15-1zm-3-9zm-1 11zm0-2zm-12-1zm-5-6zm-9 2zm-8 6zm-2-8zm-3-2zm-9 8zm-9-2zm-11 0zm-7 0zm-1 3zm-3-3zm-3 2zm-14-7zm-4 0zm-3 3zm-16 2zm-3 10zm0 4zm19-7zm4 9zm11-4zm4-2zm8 0zm3 6zm5-3zm0-4zm1-3zm2 9zm4-7zm4-1zm5-1zm8 2zm0 8zm12-7zm5 5zm5-7zm5 6zm5 3zm5-9zm29 0zm1 7zm3-2zm15 5zm2-11zm4 6zm3 2zm0-7zm3 10zm29-7zm1 4zm3-3zm1 6zm6-11zm11 8zm0 3zm9-10zm8-1zm2 10zm5-6zm14 1zm6-1zm8 7zm6 0zm16-8zm8 5zm2-7zm21 9zm26 1zm4-9zm1 3zm9-4zm4 10zm3-11zm10 4zm7-1zm3 8zm4-6zm9-1zm6 1zm6 6zm24-7zm5 6zm32-7zm-24 14zm-92 6zm-47-1zm-16-8zm-4-2zm0 7zm-3-4zm-8 5zm-14-5zm-2 3zm-37 0zm-3 2zm-10-2zm-3 2zm-4 2zm0-6zm-2 5zm-1-9zm-6 7zm-18 4zm-3-3zm-3 0zm-5-8zm-1 8zm-17 2zm-6-8zm-2 4zm-9-5zm-2 7zm-6-5zm-6 0zm-4 4zm-7-6zm-3 4zm-5 1zm-8-1zm-2 6zm-13-11zm-4 1zm-8-1zm0 11zm-1-8zm-6 8zm-7-5zm-13 5zm-8 0zm-17-1zm-3-6zm-3 7zm-9 8zm2-4zm44 8zm1-8zm0 4zm2 3zm1-6zm2 6zm2 1zm3 0zm2-6zm11 1zm20-1zm1 1zm2 0zm10-2zm2-2zm4 6zm7-6zm2 8zm9-5zm4 6zm6-4zm5-1zm8-1zm3 4zm1-5zm12 1zm3-1zm1 5zm3-7zm8 5zm4 4zm7-1zm6-7zm18 6zm2-8zm5-1zm9 4zm1 3zm1-5zm5 1zm15-2zm29 10zm19-3zm7-3zm23 5zm26-3zm6-2zm1-5zm19 3zm13 1zm0 7zm10-9zm3 0zm26 1zm11 11zm-3 4zm-11 5zm-10-7zm-17-1zm0 7zm-15 1zm-17-5zm-9 5zm-6-3zm-7-7zm-21 7zm-22-6zm-4 1zm-5-1zm-7 5zm-27 3zm-7-5zm-3-3zm-6 1zm-6-1zm-4 7zm-3-8zm-11 2zm-1 5zm-5 0zm-11-3zm-2 6zm-2-1zm-1-10zm-5 2zm-9 3zm-16-2zm-3 1zm-2 7zm-8-2zm-10-6zm-8 2zm-3 2zm-3 2zm-3-3zm-3-3zm-6 4zm-1-3zm-2 5zm-3-3zm0 3zm-5-9zm-7 6zm-2 3zm-1-8zm-2 9zm-6-5zm-10 6zm-15-9zm-8 5zm-3 2zm-5 1zm-12-5zm-3 1zm-2 5zm-17-4zm-6-7zm-2 8zm0 4zm6 6zm9-6zm8 5zm5 0zm7 0zm2 2zm16-7zm8 9zm10-2zm9 0zm6-7zm3 9zm13 2zm1-8zm0 6zm3 2zm1-11zm17 8zm2-5zm2 5zm8-2zm3 0zm3 0zm6-5zm19-1zm0 10zm4-1zm17 2zm3-10zm4 2zm0 3zm3 3zm6-2zm2-6zm2 8zm2-5zm5-4zm3 1zm7 1zm15 8zm1-3zm8-2zm9-4zm3 6zm6-5zm9 0zm13 5zm0-3zm6 5zm17-4zm3-3zm37 2zm26-2zm16 0zm-11 16zm-2 2zm-17-7zm-6 10zm-24-11zm-6 9zm-11-9zm-9 8zm-20 3zm-1-3zm-2-3zm-9 2zm-9-7zm-1 11zm-5-8zm0 7zm-21-4zm-6-3zm-31 7zm-9 1zm-8-3zm-16 0zm-26 2zm-17 1zm-6-8zm-1 5zm-11-8zm-8 3zm-8-3zm-4 8zm-13-6zm0 6zm-4 1zm-3 2zm-6-6zm-2 6zm-7-4zm-1 1zm-1-3zm-10-1zm-17-3zm-15 6zm17 8zm7 5zm2-7zm22-1zm14 7zm9-3zm3 6zm3 1zm10-3zm6-4zm4 1zm22 5zm2-9zm4 3zm2 1zm1-4zm12 4zm3-3zm2 2zm3 3zm7-1zm4 3zm8-3zm22 0zm7 1zm1 4zm2-3zm10 2zm3-7zm4 4zm2-4zm3 1zm4 2zm1 3zm39 1zm11-9zm7 5zm17-2zm17 0zm23-4zm-4 21zm-5-2zm-3-6zm-7 5zm-7 2zm-6-3zm-46-5zm-8 0zm0 9zm-12-1zm-4-4zm-10-3zm-17 7zm-3 0zm-2-3zm-8 6zm-4-5zm-8-4zm-2 6zm-14-4zm-20-2zm-2 7zm-11-8zm-3 6zm-7 3zm-1-2zm-12 1zm-4 1zm-3 1zm0-7zm-7 1zm-2 4zm-3-5zm-4-1zm-18 6zm-1-6zm-4 8zm-17-4zm-3-2zm-11 2zm-3-5zm-25-2zm41 15zm5 2zm6-1zm14 2zm7-2zm12 0zm15-2zm12-2zm4 5zm2 1zm15-3zm1-2zm4 6zm5 3zm0-8zm10 9zm6-10zm9 5zm28 2zm22 1zm1-5zm5 3zm10-2zm8-5zm15 9zm11-4zm47 1zm-32 8zm-18 1zm-9-1zm-2 4zm-15 4zm-19-1zm-6-5zm-3-1zm-2 6zm-3-4zm-7 3zm-3-1zm-2-5zm-15 8zm-5-10zm-2 5zm-3-5zm-46 8zm-7 1zm-12 1zm-7-1zm-4-7zm-3 2zm-6 7zm-11-4zm-6-6zm-11 14zm8-3zm6 2zm2-2zm4 1zm8 6zm2-6zm7 3zm14 0zm2 3zm8 3zm7-6zm8 6zm3-7zm0 2zm6-3zm10 3zm10-5zm49 10zm3-10zm8 9zm0-4zm4-3zm17-1zm5 6zm1-2zm2 3zm18-7zm3 5zm13-5zm6 3zm-24 10zm-24 1zm-19 6zm-7 2zm-35-6zm-21 3zm-11-2zm-27 2zm2 13zm41-6zm18 0zm10 6zm3-3zm1 2zm4-7zm12 0zm0 6zm3 0zm4-7zm26 2zm-10 12zm-35-2zm-15 9zm0-5zm-13-1zm-3 7z" stroke="#1a1a1a" stroke-width="3.50" stroke-linecap="round" fill="none" stroke-opacity="0.8"/>
<path transform="scale(0.5)" d="M1763 2325zm-45-3zm-47 17zm14-4zm21 1zm14-6zm0 5zm7 1zm30 15zm-2-9zm-13 9zm-2-7zm-18 5zm0-8zm-25 4zm0 6zm-5-10zm-29 4zm0 3zm-14 8zm9 6zm61 1zm3-3zm19 2zm8-1zm2-9zm0 23zm-2-4zm-3-3zm-19 7zm-3-2zm-1-5zm-30-3zm-2 10zm-22-5zm-12 0zm-18 3zm-7-3zm-2 2zm-35 11zm18 0zm2-1zm3 3zm15-6zm2 8zm11-10zm14-1zm4 2zm1 6zm1-5zm1-3zm9 7zm4-2zm3-4zm3 0zm8 0zm10 7zm10-3zm23 0zm2 5zm0 8zm-16-1zm-26 6zm-15-8zm-14 6zm-9-5zm-5 4zm-14-8zm-56 19zm26 0zm6 2zm9 2zm29-10zm4 4zm27 2zm12-4zm34-3zm2 19zm-3-4zm-15 4zm-4 3zm-1-6zm-6 3zm-12-6zm-13-1zm-11 11zm-39-3zm-22-7zm-3 5zm-18-2zm-23 16zm33 1zm13 2zm12-1zm1-6zm24-2zm10 6zm12-6zm16 6zm14-2zm5-6zm1 5zm23 3zm5-7zm-6 21zm-29 0zm-6-10zm-13 8zm-15-2zm-4 1zm-2-2zm-23 5zm-5-3zm-12 1zm-26-4zm-25 3zm15 9zm10-1zm5 6zm6-7zm22 5zm4 2zm7-4zm27-5zm1 3zm6 0zm15 1zm15 3zm1-5zm0 7zm30-1zm10 3zm3-2zm15-3zm2 7zm-9 5zm-2-6zm-15 3zm-6 1zm-28 5zm-3-1zm-26 3zm-4 0zm-10-11zm-17 2zm-4 0zm-18 9zm-4-11zm-30 0zm-7 7zm-5 3zm-13-7zm-9 1zm6 9zm6 6zm10-4zm34 2zm11-4zm7 2zm8 4zm7 2zm18-5zm6-2zm2 8zm9-10zm7 9zm7 1zm8 1zm9-6zm2-1zm3 0zm15 1zm3 6zm28 0zm13-7zm7-3zm45 22zm-20-3zm-20-4zm-2 6zm-17-3zm-14 1zm-1-7zm-5 10zm-3-1zm-3-1zm-16-2zm-14-5zm-1 7zm-2-2zm-14 0zm-1 4zm-1-7zm-1 4zm-7-6zm-3 7zm-14-4zm-4-3zm-8 2zm-4-4zm-2 7zm-16-6zm-2 9zm-5-2zm-4-4zm-7 6zm-3 0zm-3-1zm-12-2zm-6-2zm-1 5zm-5-7zm-14-1zm-29 9zm19 6zm12 6zm16-11zm8 2zm1 9zm0-6zm10 2zm13-4zm11-2zm6 0zm2 2zm6-2zm12 9zm4-2zm5-1zm1 2zm0-9zm8 8zm11 2zm3 0zm8-10zm5 7zm5-4zm4-2zm8 8zm2-3zm6-4zm1 5zm5-4zm3-2zm1 6zm1 2zm3-6zm0 4zm11-4zm19 8zm6-4zm11-6zm5 6zm3-5zm4 2zm5-3zm3 2zm9 3zm6-3zm6 1zm2-2zm21 18zm-6-5zm-2 6zm-10-3zm-4-3zm-3-2zm0 8zm-1-3zm-2 3zm-8-1zm-5-6zm-5 2zm-2 3zm-9 0zm-6 3zm-1-4zm-6 0zm-1-5zm-3 1zm-16-2zm0 9zm-12-1zm-15-2zm-4-6zm-7 6zm-4 4zm-2-4zm-14-3zm-3 2zm-1 5zm-3-5zm-3-4zm-1 6zm-1-4zm-9-3zm-1 6zm-7-2zm-4 4zm-3-6zm-1 8zm-3-6zm-5 6zm-13-3zm-33-6zm-4 4zm-19 2zm0-4zm-2 4zm-1-2zm-18 3zm-9 3zm-1-4zm-5-3zm-6-2zm-1 9zm-10 8zm13-4zm6 0zm10 0zm9 4zm5-4zm5 0zm4 2zm6-4zm1 8zm6 0zm7-4zm5-4zm4 10zm7-8zm1-3zm2 5zm1 3zm5-1zm3-3zm8 0zm1 4zm4-5zm1 4zm6-7zm8 8zm7-2zm0-3zm4 7zm4-1zm17-9zm2 10zm2-5zm4 0zm1 1zm6 1zm4 1zm3-4zm2-4zm2 6zm0 4zm1-6zm4 5zm1-2zm6-4zm3-3zm1 11zm4-4zm0-2zm3-2zm3 5zm3-4zm5 6zm4-3zm12 4zm8-4zm4 1zm3-2zm7 4zm4-6zm3 5zm2-2zm5-3zm4 4zm5 0zm0-6zm3 6zm10-3zm1 4zm3 0zm17-6zm1 2zm2-2zm13 2zm8 1zm64 4zm-48 7zm-24 3zm-7 2zm-2-9zm-9 7zm-1-4zm-4 0zm-1 3zm-11-4zm0 3zm-11 4zm-3 1zm-8-1zm-8-1zm0-4zm-4-1zm-7 2zm-1 5zm-2-1zm-7-10zm-4 3zm-3 5zm-15-8zm-1 11zm-1-8zm-9 7zm-11-3zm-5 1zm0-3zm-2-5zm-1 11zm-9-8zm0 7zm0-2zm-4-2zm-5 4zm-4-8zm-9 8zm-15 1zm-1-11zm-1 8zm-2-5zm-5 5zm0-5zm-16 5zm-8-4zm-3-1zm-9 0zm-5-3zm-9 6zm-5-5zm-4 5zm-3 0zm-1-4zm-4-1zm-4 0zm-5 6zm-20 2zm-4-3zm-2 2zm-28-4zm-14 9zm2 8zm16-7zm6 4zm15 4zm11-4zm0 2zm3-4zm15 4zm1-4zm6 4zm14-5zm3-1zm4 1zm1 1zm0 2zm1 3zm18 1zm2 1zm2-7zm7 4zm3 1zm11-2zm2-5zm6 8zm4 1zm3-8zm7-3zm1 9zm1-8zm2 8zm2-1zm2-3zm4-2zm7 6zm4-2zm3 3zm1-5zm6 1zm12-2zm1-3zm3 2zm12 7zm2-5zm8-4zm4 8zm11-8zm1 4zm2-2zm3 0zm1-2zm3 8zm1-2zm3 1zm14-3zm1-4zm1 1zm0 5zm2-6zm5 1zm6 1zm2-3zm2 7zm2 3zm5-3zm2-5zm1-2zm5 10zm3-8zm6 9zm7-2zm1-2zm7 0zm10-2zm4-5zm0 8zm3-4zm13 0zm3-2zm0 8zm14-5zm22 4zm14 13zm-5-7zm-5 1zm-5 0zm-1 6zm-6-2zm-1-6zm-4-1zm-6 0zm-6 8zm-9-6zm-8 4zm-6 3zm-3 1zm-9-4zm-1 2zm-3-9zm-3 10zm-10-9zm0 9zm-3-3zm-3 4zm-2-4zm-5 2zm-11-2zm-4-1zm-1-6zm-4 7zm-3 3zm-4-3zm-2-7zm-1 11zm-6-8zm-2 0zm-11 1zm-10 7zm-4-2zm-2 2zm-3-3zm-14 0zm-12-2zm-9-4zm-1 5zm-2-5zm-4 5zm0-7zm-22 4zm-10 2zm-1-6zm-2 3zm0 6zm-10-5zm-4-1zm-3 8zm-22-10zm-4 9zm-3-5zm-2 3zm-5 1zm-1-3zm-7-1zm-1 3zm-4 0zm-13-4zm-4 0zm-4-2zm-7 8zm-5 1zm-3-3zm-9 3zm-7-11zm-9 11zm-7-10zm-10 4zm0 3zm-2-7zm-9 7zm-1-5zm-6-1zm-2 7zm-2-7zm-6-2zm-2 2zm-8 18zm13-4zm5-3zm6 10zm4-4zm0-7zm2 10zm1-7zm3-3zm4 4zm0-3zm2 3zm27 4zm4-4zm4 2zm2 5zm6-6zm8 0zm10 4zm7-8zm10 7zm3-7zm4-1zm0 7zm4-2zm4 2zm5-1zm4-2zm16 4zm6-6zm5 4zm1-2zm5 4zm6 1zm7-3zm7 0zm2-2zm4 2zm2 0zm6-2zm0-2zm5 7zm0-3zm8 4zm2-3zm15-3zm3 1zm3 6zm1-7zm2-1zm7 7zm1-3zm1-6zm5 9zm6 1zm1-6zm4 0zm23-4zm1 5zm1-4zm0 6zm4 1zm1-5zm6 4zm5 0zm1-5zm1-3zm1 8zm10-6zm7 5zm1-3zm22 3zm6-7zm6 3zm1-1zm3 5zm3-1zm4 3zm6-2zm2 1zm3 0zm6-3zm12 0zm2 0zm6-5zm0 6zm5-1zm25 5zm11-4zm12 10zm-16-1zm-26 3zm-14-4zm-2 6zm-20-6zm-3 3zm-1 6zm-4-7zm-7 6zm-4-5zm-8 5zm-4-8zm-1 6zm-12-4zm-6 2zm-3-1zm0-4zm-3 7zm-17 1zm-6-1zm-13-1zm-5-6zm-1 2zm-8 8zm-6-6zm-2 0zm0-4zm-9 0zm0 7zm-6-2zm-7-1zm-15 5zm-11 1zm-4-4zm-2-6zm-2 1zm-4-1zm-9 0zm-6 6zm-3-1zm-2-5zm-1 10zm-1-6zm-1-4zm-2 7zm-1-8zm-3 3zm-11 5zm-9-2zm-1-3zm-2 2zm-3 0zm-2-3zm-12 7zm-8 2zm-9-9zm-1 6zm-4 1zm-1-4zm-9-3zm-12 2zm-3 3zm-3-1zm-23-5zm-11 3zm-5 2zm-3-3zm-6-1zm-10 0zm-6 1zm-11 8zm-7-7zm-1-4zm-2 1zm-6 1zm8 16zm5-4zm3 4zm4 0zm7 5zm13-8zm6-3zm4 4zm3 3zm24-4zm9 7zm8-3zm7 2zm4-6zm1 3zm9 2zm2-8zm0 10zm5-5zm2-5zm0 4zm14-4zm4 3zm26 6zm1-4zm8-2zm0 3zm1-6zm4 4zm2 3zm12 1zm4-3zm6 5zm0-3zm2-3zm10 2zm7-5zm9 9zm1-6zm5-3zm4-1zm2 5zm1 2zm2 2zm0-9zm1 2zm2-1zm8 3zm4 5zm13 0zm2 1zm2-8zm5 7zm1-4zm2 3zm3-2zm0-2zm1 7zm3-11zm3 6zm5 4zm2-4zm0-6zm16 4zm4-3zm18 6zm7-6zm2 3zm8 0zm8-3zm6-1zm11 4zm9 7zm11-11zm6 9zm4-5zm18 1zm20-2zm7 6zm6-1zm55 9zm-12 6zm-10-3zm-5-8zm-2 1zm-3 4zm-2-2zm-2 6zm-5 1zm-6-7zm-15 1zm-22 7zm-4-2zm-19 1zm-1-7zm-22 8zm-11-4zm-6 4zm-8-3zm-7-7zm-22 3zm-4-2zm0 6zm-7-6zm-5 3zm-3 2zm-2-5zm-3-2zm-2 6zm-13 2zm-4 3zm0-2zm-5 2zm-9-9zm-3 8zm-1-9zm-3 7zm-2-8zm0 4zm-2 1zm-9-5zm-5 4zm-5 3zm-3-2zm-1 6zm-4-9zm0 6zm-1-4zm-9 1zm-11 3zm-1-8zm-1 10zm-5 0zm0-3zm-42 3zm-5-6zm-5-1zm-12-2zm-5 8zm-6-2zm-7-2zm-5 5zm-1-4zm-4-6zm-3 2zm-4 9zm-12-3zm-7 0zm-2-1zm-4-2zm-1-4zm-11 8zm-3-1zm-1-2zm-18-2zm-14 3zm-1-7zm-5 9zm-11 1zm0-3zm-5-4zm-3 7zm-13-6zm-1-4zm-15 4zm35 8zm6 1zm8 4zm10 5zm8-6zm1-4zm2 6zm10-2zm6-1zm2-2zm10 5zm8-6zm6 4zm3 4zm1-7zm2 8zm1-4zm3 3zm5 2zm2-4zm1 4zm2-10zm8 2zm4 8zm3 0zm0-6zm2 5zm7-8zm14 6zm10 4zm6-4zm1-4zm1 7zm3-2zm4 3zm3-8zm3 4zm11-7zm8 6zm3-2zm1 7zm3-9zm4 1zm4 7zm14-7zm0 7zm7-3zm1-6zm9-1zm1 3zm8 2zm5-2zm5 8zm7-7zm0 4zm4-8zm3 2zm28 8zm4-3zm1-4zm15 7zm5-5zm2-3zm5 5zm14 4zm1-9zm4 6zm10 3zm9-3zm3-6zm9 7zm2-2zm8-1zm2-2zm12 4zm3 1zm5-8zm5 9zm4-8zm43 5zm2-1zm2 2zm7 0zm15 0zm21-8zm17 17zm-12 5zm-3-10zm-2 2zm-14 9zm-44 0zm-25-3zm-7 3zm-4-8zm-8 4zm-13-5zm-14 2zm-5-3zm-2 2zm-3 5zm-24-5zm-23-3zm-6 7zm-1 2zm-19-9zm-3 9zm0-7zm-3-1zm-3-1zm-11 7zm-12 1zm-2-6zm-13 8zm-16-8zm-3 7zm-3 2zm-4-8zm-4 8zm-4-5zm-6-3zm-4 0zm0 3zm-8-6zm-3 1zm-5 10zm-2-6zm-6 3zm-4-7zm-4 0zm0 5zm-2-2zm-1-4zm-4 3zm-1 8zm-2-5zm-4-5zm-1 9zm0-6zm-6 2zm-6 2zm-4 1zm-6-4zm-11-4zm-2 2zm-10 3zm-1-6zm-2 6zm-4 0zm-1-4zm-5 7zm-4-3zm-8-2zm-2 3zm-2 1zm-3-7zm-12 0zm-16 2zm-7 4zm-3-4zm-4 1zm-3 1zm-1 6zm-8-3zm-5-7zm-29 5zm-20 1zm-3 9zm18 6zm10-1zm3 0zm9 1zm4-9zm1 4zm5 6zm2-8zm4 1zm5 5zm6-5zm2 2zm11 0zm16-1zm4 5zm12-9zm2 3zm11 1zm1 5zm1-2zm0-6zm4 8zm2-4zm7 4zm9-3zm4-2zm2-4zm0 10zm3-9zm3 5zm0-5zm1 2zm8-3zm2 4zm11 1zm1-5zm4-1zm2 5zm11 0zm2 5zm21-8zm9 4zm6-6zm5 5zm3 5zm4-10zm3 7zm5 2zm0 2zm8-10zm4 9zm1-7zm3 8zm1-5zm5 3zm0-5zm5 6zm1-3zm7-3zm6 6zm2-3zm1-2zm1 6zm2-7zm4 3zm3-1zm0-3zm4-1zm6 0zm2 5zm13 2zm4-4zm6-5zm1 7zm5-7zm1 6zm11-4zm0 6zm8-7zm3-1zm0 8zm3 2zm32-8zm9 7zm11 2zm8-4zm0-3zm9-1zm1 4zm3 4zm4-4zm4-1zm3-2zm20-1zm12 8zm35-6zm16 5zm8-9zm22 7zm4 11zm-1-5zm-3 8zm-13-3zm-17 2zm-5-1zm-2 1zm-9-5zm-15 6zm-4-8zm-20 8zm-17 0zm-10-7zm-8 0zm-1 6zm0-3zm-4 2zm-7-4zm-6 3zm-4-4zm-18-3zm-11 11zm-5-9zm-4 2zm-3-4zm-14 2zm-1 8zm0-4zm-3 3zm-1-2zm-9-2zm-21-1zm-6 3zm-3 2zm-2-4zm0-3zm-2 4zm-2 3zm-12-4zm-4 1zm-7 2zm-2-3zm-1 6zm-1-2zm-2-8zm0 2zm-1 5zm-5-8zm-3 9zm-10-5zm-1 2zm-2 5zm-3 0zm-2-5zm-1-2zm-4-2zm-1 2zm-6 1zm-1 5zm0-7zm-2-1zm-6 3zm-3-2zm-2 3zm-2 5zm-2-6zm-3-2zm0 4zm-2 0zm-2-3zm-2 1zm0 2zm-3 4zm0-7zm-6-4zm-4 7zm-2-2zm-9 0zm-1-2zm-4-3zm-9 11zm-7-10zm0 2zm-4 5zm-4 3zm-4-9zm-5-2zm-9 4zm-6 1zm-3 1zm-3-1zm-14 0zm0 4zm-1-3zm-3-1zm-4 6zm-8-5zm-13-4zm-6 1zm-4 3zm-2 0zm-16 3zm-5 0zm-2 0zm-2-3zm-3-5zm-6 9zm-1-9zm-4 2zm-3 1zm-11 0zm-3-3zm-3 4zm-13 2zm-5-7zm3 16zm6 0zm22 5zm0-2zm0-3zm6 5zm10-6zm2-2zm6 4zm20 6zm2-8zm4 4zm7-7zm4 3zm1 5zm4-8zm1 11zm5 0zm1-4zm6-2zm4 3zm1-6zm3 7zm1-3zm11-5zm2 1zm1 4zm15-1zm11-5zm0 7zm2 4zm5-8zm1 6zm7-3zm7-6zm0 2zm2 5zm5-4zm4 3zm2 4zm7-5zm9 1zm3-4zm5 6zm1-3zm4 4zm3 0zm1-4zm2-2zm3 0zm2 2zm2 5zm2-4zm0 5zm2-10zm2 7zm4-1zm2-7zm3 0zm3 4zm16-2zm1 8zm2-7zm8 4zm1-3zm2-1zm6 1zm3 6zm4-2zm3-4zm3 2zm4-1zm10 1zm5 1zm1 2zm11-4zm10 0zm5 3zm3-1zm12-2zm0 4zm9 1zm9 0zm2-8zm4-1zm18 9zm10-2zm2-7zm9 0zm3 8zm2-2zm1-2zm3-4zm6 3zm7 0zm19-2zm9 9zm0-7zm11-4zm23 2zm13 8zm18-7zm8 6zm17-4zm12-3zm3 2zm29 6zm24 13zm-31-10zm-5 10zm-33-1zm-13-1zm-9-4zm-3-5zm-1 8zm-50-7zm-29 10zm-1-8zm-18 4zm-8 2zm-16-2zm-16-1zm-11 3zm-4-8zm-2 6zm-2 1zm-3 2zm-1-3zm-7-7zm-7 10zm0-7zm-12 7zm0-7zm-3 6zm-4-2zm-7-3zm-2-4zm-1 3zm-3 6zm0-8zm-6 4zm-8 6zm-10-11zm-5 11zm-6-2zm-13-4zm-2 5zm-6-9zm-1 6zm-2 2zm-1-3zm0-3zm-4 3zm-2 3zm-7-4zm0-3zm-5 3zm-2-4zm-5 5zm-8 3zm-3 2zm-3-4zm-3-4zm-1 8zm-2-10zm-11 7zm-5-7zm0 10zm-3 0zm-3-9zm-2 1zm-3 8zm-1-3zm-3-6zm-5 5zm-4-2zm0 6zm-2-11zm-3 7zm-4-3zm-2 4zm-3-1zm-1 2zm-8 1zm-1-8zm-4 1zm-4 8zm-5-4zm-5-1zm-2-2zm-13-4zm0 6zm-6-1zm-3 2zm-1 4zm-2-4zm0-5zm-3 0zm0 2zm-4 2zm-2-6zm-1 3zm-1 7zm-5-8zm-2 8zm-8-6zm-2 3zm0 3zm-4-4zm-12 1zm-3 0zm-2 0zm-9 1zm-7-3zm-7 3zm-2-8zm-2 10zm-9-7zm-34 6zm8 10zm15-1zm1 2zm8-2zm10 4zm9-9zm11 0zm8-1zm1 8zm3 1zm10-8zm2 7zm1-6zm1 5zm7 2zm3-6zm5-1zm2 5zm0-7zm5 5zm3-4zm2 2zm8 8zm1-3zm7-7zm2 0zm0 4zm3 0zm5-2zm12-3zm1 9zm7 1zm2-3zm14-7zm6 10zm22 1zm2-4zm3-3zm4 0zm6-4zm1 11zm1-7zm2 4zm1-4zm1 2zm5-4zm3 0zm1 8zm5-8zm1 5zm1-6zm13-1zm6 11zm4 0zm1-6zm2-5zm3 0zm3 8zm2-5zm1-3zm1 7zm2-7zm11 8zm8-4zm4 5zm3-7zm3 4zm5 5zm0-2zm4 2zm1-4zm5-4zm0 5zm5-5zm5 8zm1-8zm10 0zm8-1zm0 9zm6 0zm1-1zm5-5zm11 2zm18 3zm0-10zm3 10zm1-8zm11 4zm3 0zm19-4zm4-2zm18 2zm2 8zm1-9zm3 5zm2 1zm1 3zm11-9zm4 8zm15-6zm8 3zm1-6zm3 2zm15 9zm26-6zm4 5zm6-2zm18-7zm13 10zm22-6zm11 6zm0-7zm0 18zm-30-8zm-1 7zm-8-9zm-17 11zm-13-5zm-3 0zm-4 2zm-12-5zm-10 5zm-7-6zm-2 0zm-11 9zm-9-1zm-3-4zm-2-2zm-2-3zm-2 5zm-9 5zm-2-6zm-2 4zm-8-1zm-7 2zm-14-9zm-6 10zm-10-7zm-9 1zm-9-2zm0-3zm0 7zm0 2zm-4-8zm-4 9zm-7-10zm-8 1zm-9 9zm-4-10zm-7 8zm-2 2zm-4-1zm-2-5zm-3 6zm-4-8zm-7-2zm-3 1zm-1 5zm-11-6zm-7 4zm-2 6zm-7 0zm-2-4zm-8 2zm0 3zm-4-4zm-5-1zm-2 3zm-3-5zm-3 0zm-2-3zm-4 3zm-1 1zm-4-5zm0 3zm-15-3zm-3 11zm-3-5zm0-2zm-20 0zm-3 3zm-2-2zm0 4zm-6 2zm-3-8zm-6 5zm-3-5zm-1 5zm-4-2zm-2-6zm-3 10zm-8 1zm0-5zm-3-1zm-3-2zm-3-3zm-2 3zm-1 2zm-3 3zm-1 3zm-9-1zm-15-4zm-1-2zm-9-1zm-7 8zm-6-6zm-3 4zm-1 2zm-18-2zm-3-7zm-6 0zm-11-1zm-2 7zm-3-8zm-1 7zm-3 4zm-5-10zm-9 7zm-7 1zm-3-4zm-1 6zm-1-9zm-4 2zm-2 7zm-4-4zm-13-3zm-1-4zm-2 0zm-6 11zm-4 3zm4 8zm6 1zm5-6zm3 4zm6 1zm2-2zm2-5zm3 7zm3-2zm9-6zm2-2zm5 2zm5 5zm1-4zm1 8zm7-2zm1 1zm4-9zm1 10zm9-10zm10-1zm8 1zm5 9zm6-5zm9 4zm2 2zm1-8zm3 3zm10 0zm13 0zm1-3zm2-3zm6 0zm18 1zm11 2zm3 6zm8 2zm0-9zm4 4zm1-3zm4 3zm3 1zm4 0zm2 4zm7-10zm4 3zm3 2zm3-1zm5-4zm2 4zm1-5zm5 9zm2-5zm9 0zm1 5zm1-6zm10 8zm6-4zm1-3zm6 6zm10-1zm7 2zm7-5zm2-6zm18 3zm4 7zm2-8zm5 4zm3-1zm1-5zm6 11zm2-1zm32-3zm6-7zm11 11zm0-4zm6-1zm2 2zm3-4zm23-2zm1 8zm16-3zm0-3zm4 5zm4 2zm4-9zm3 1zm4 8zm9 0zm1-6zm11-2zm8-3zm19 2zm5 7zm20-9zm8 11zm10-10zm55 12zm-10 6zm-15-6zm-4 3zm-12 0zm-47 4zm-14-5zm-15 0zm0 5zm-7 2zm-3 1zm-2-3zm-17 1zm-7-3zm-34-4zm-2 7zm-14-8zm-3 8zm-3 1zm0-4zm-7-1zm-10 1zm-12-1zm-5 5zm-12-10zm-1 5zm-5 5zm-4-4zm-6-6zm-6 2zm-2 9zm-1-2zm-3-6zm-2 4zm-2 2zm-2-3zm-3-4zm-4 1zm-1 2zm-12-3zm0 6zm-1 2zm-4-6zm-9 4zm-5-6zm-7 6zm0-3zm-4 2zm-4 2zm0-7zm-4 0zm-3 2zm-1 6zm-1-8zm-6 2zm-5 4zm-2-3zm-7-4zm0 10zm-6-2zm-7-4zm-3 4zm-2-4zm-1-3zm-2 2zm-1-4zm-6 1zm-1 9zm-3-9zm-3 0zm-4 3zm-12-4zm-3 4zm-6-4zm-2 0zm-1 3zm-17 3zm-9 4zm-6-6zm-2 7zm-9-11zm-4 9zm-7 2zm-4-10zm-4 9zm-3-7zm-3 2zm-3 4zm0-5zm-6 5zm-2-6zm-2 7zm0-5zm-4-5zm-26 4zm-3-2zm-1 9zm-8 0zm-17-11zm-17 10zm-23-2zm28 7zm0 7zm2-2zm3 2zm1-3zm2 2zm1 2zm5-11zm7 11zm4-9zm10 0zm0 5zm6-4zm2-3zm1 3zm2 7zm6-5zm1-3zm4 1zm7 2zm4 1zm2-6zm17 3zm1 3zm12 0zm2-3zm3 7zm16-9zm0 2zm2 4zm6 4zm1-8zm2 2zm1 1zm2-5zm2-1zm2 8zm3-1zm3 0zm5 3zm2-8zm5 9zm14-11zm8 3zm0 6zm3 0zm4-8zm0 6zm1-4zm4-1zm5 0zm4 1zm3 2zm1 3zm2-2zm7 1zm1 4zm2-7zm2 4zm3-3zm0 3zm1-5zm1 7zm3-7zm0 4zm2-4zm7-2zm3 8zm1-7zm2 6zm8-7zm5 9zm0-3zm6 4zm6-1zm2-4zm3-5zm2 6zm0-6zm3 10zm2-6zm5 1zm0 4zm3-10zm1 6zm1 4zm2-10zm12 1zm5 9zm2-2zm0-5zm4 5zm2-3zm6 2zm15 4zm14-11zm1 10zm3-4zm5 5zm3-4zm11-6zm7 4zm6 2zm0 2zm5-3zm10 3zm2 1zm11-3zm3-3zm7-2zm4 9zm3-10zm2 8zm2-8zm11-1zm3 11zm0-11zm1 4zm10 1zm3-5zm9 3zm3 3zm19 4zm22 0zm4-8zm15 6zm11 2zm18 1zm3 10zm-4 0zm-38 0zm-1-9zm-8 9zm-27 1zm0-3zm-3 1zm-3-1zm-2 2zm-3-8zm-50 3zm-1-1zm-19 7zm-7-6zm-3-4zm-6 4zm-11-1zm-13 1zm-1-4zm-4 8zm-1-3zm0-2zm-1 8zm-5-5zm-2-5zm-5 1zm-12 4zm-1-2zm-13-3zm-1 10zm-6-4zm-6 3zm-7-5zm-8 0zm-2-4zm-1 9zm-14-7zm-3 2zm-7 5zm0-3zm-12 1zm-2-4zm0-3zm-1 7zm-6-5zm-3-1zm-2 5zm-2 4zm-9-5zm-5 1zm-7-1zm-6-1zm-7 6zm-6-6zm-3 2zm-1-6zm0 3zm-8-2zm-11 6zm-3-2zm-2-4zm0 8zm-3-9zm-10 9zm-3 0zm-12-6zm-5 5zm-3-8zm-3 5zm-3 2zm0-3zm-2 0zm-3-4zm-2 6zm-2 2zm0-6zm-4-3zm-9 7zm-5 2zm-7-6zm-5 1zm-3 5zm-3 2zm-4-5zm-3-1zm-15-2zm-1 6zm-3-1zm-7 0zm-1-2zm-1-5zm-2 2zm-2 0zm-4 7zm-7 1zm-2-7zm-3-1zm-6 5zm-3-3zm-3 4zm-17-4zm-22-4zm21 18zm4-3zm25-3zm1 3zm6 3zm10-4zm3-3zm8 0zm3 7zm4 2zm2 0zm2-6zm2 8zm2-4zm1-6zm7-1zm2 3zm3 3zm7 0zm16 3zm0 2zm2-8zm2 3zm6-2zm4-3zm1 6zm7 3zm0-9zm3-1zm8 0zm3 8zm0-4zm3 0zm2-3zm0 7zm11 3zm3-3zm10-4zm3 2zm7-3zm3 2zm0-4zm4 5zm11 0zm1 4zm3-1zm7-8zm16 4zm7-5zm11 5zm9 3zm2-5zm2-1zm1 2zm2 3zm10-5zm1 2zm1 4zm2 2zm2-2zm3-1zm14 0zm36-5zm3 1zm15-3zm1 5zm16 6zm10-10zm7 1zm4 1zm1 5zm6 0zm14-4zm4-1zm6 1zm2 0zm4 7zm1-2zm9 0zm4-6zm3 7zm21 0zm16-6zm23-3zm5 4zm16 5zm10 1zm4-10zm14 5zm10 4zm-8 2zm-19 8zm-8-2zm-22-6zm-13 10zm-12-5zm-6 1zm-4 0zm-2 2zm-7-1zm-3-1zm-15 1zm-2 1zm-3-8zm0 3zm-6 4zm-12-7zm-18 0zm-5 2zm-4 5zm-1-3zm-11 1zm0-1zm-8-2zm-3-2zm-3 10zm-7 1zm-2-3zm-4-6zm-3 1zm-19 6zm-5-6zm-1 2zm-2-4zm-3 5zm-1 2zm-2-8zm-7 3zm-9 1zm-8-3zm-4 6zm-3 0zm-13 2zm-3-9zm-3 3zm-1-3zm-4 1zm0 7zm-8-5zm-3 0zm-7 4zm-2 3zm-3-6zm-1 7zm-12-9zm0 9zm-5-10zm-5 2zm-2 5zm-6 2zm-12-6zm-11 1zm-8-3zm-1-2zm-2 8zm-2-6zm-3 9zm-5-8zm0 3zm-14 3zm-12 1zm-8-2zm-9 2zm-14-4zm-7-4zm-3-2zm-8 4zm-14 0zm-9 1zm-5 5zm-4-2zm-2 1zm0-5zm-8 7zm-1-9zm-5 2zm-1 7zm-2-11zm-6 9zm-2-7zm-7 8zm-7-4zm-9-5zm-5 18zm10-6zm10 7zm11-3zm3-3zm6 2zm4 4zm5 3zm0-7zm4-2zm7 5zm8 1zm3-2zm15-6zm3 1zm5-1zm4 6zm1-5zm5 5zm3 5zm13-4zm4 1zm11 2zm14-7zm4 1zm4 4zm2-8zm1 7zm2-2zm7-2zm5 2zm7 4zm7-1zm1-5zm3 7zm7 1zm5-11zm11 7zm6-6zm5 1zm2 6zm1-6zm1 9zm7-9zm4 8zm7-9zm0 9zm2-4zm5-3zm1 7zm0-4zm4-2zm7 2zm1 3zm3-1zm2-2zm3-2zm1-4zm1 8zm2-1zm4-4zm4 3zm6 1zm16 4zm1-10zm2 5zm0-2zm1-3zm8 10zm12-11zm5 2zm9 1zm3 3zm13 5zm2-10zm11 2zm5 5zm6 1zm8-8zm0 9zm3 0zm2-7zm9 7zm8-6zm1-3zm2 0zm1 6zm22 1zm1-4zm4 3zm7-6zm15-1zm9 3zm4 5zm3 0zm26-1zm-4 10zm-1-4zm-8 0zm-15 9zm-46-4zm0 3zm-1-6zm-2 2zm-6 4zm-3-7zm-2 2zm-18 5zm-1-3zm-4-5zm-10 10zm-1-10zm-2 7zm-4-8zm-3 10zm-1-5zm-8 4zm-8-8zm-1 7zm-8 2zm-14-3zm-1-4zm-1-2zm-1 3zm-20-3zm-10 1zm-3-2zm-2 9zm-6-3zm0-2zm-5 4zm-4 1zm-5-7zm-1 2zm0 3zm-14-5zm-18 7zm-2-9zm-4 11zm-2-3zm-5-7zm-1 5zm-4 5zm-4-8zm-4 6zm-14-6zm-2 7zm-2-10zm-4 1zm0 4zm-1 1zm-4-5zm-5 3zm-3-3zm-15-1zm-1 11zm-4-6zm-5 2zm-3 4zm-1-8zm-2-3zm-2 1zm-1 4zm-6 4zm-5-4zm-16-3zm-1-2zm-3 8zm-1-2zm-8-6zm-6 8zm0-7zm-3 5zm-1-5zm-3 7zm-6 0zm-5-4zm-1-3zm-5 4zm-4 3zm-3-1zm-3 4zm-18-7zm-2-3zm-33 9zm-5-3zm-6 9zm3 2zm17 5zm13-2zm2-4zm8 1zm2 1zm1-5zm12-1zm2 1zm0 7zm8 2zm2 0zm5-9zm10 5zm1-4zm3-3zm6 9zm1-7zm4 0zm1 5zm4-7zm2 10zm13 0zm4 1zm1-8zm4-3zm9 11zm4-10zm14 6zm4-4zm4 0zm1 4zm1 2zm2-9zm3 6zm8-6zm3 11zm2-11zm7 2zm3 7zm9-6zm0 4zm3-7zm1 6zm4 4zm14-8zm1 7zm0-5zm10 5zm3-8zm7 1zm1 8zm6 0zm3-5zm1-3zm2 7zm5-8zm2 10zm4-5zm3-4zm4 1zm3-3zm11 11zm16-6zm8-5zm25 9zm5-3zm1-5zm3 9zm5 1zm1-11zm17 7zm12-2zm6-3zm5 5zm16-1zm2 0zm6 4zm4 0zm6-6zm6 5zm14-8zm17 4zm6-1zm20 5zm2-2zm-16 15zm-3-1zm-6-8zm-2 3zm-11 7zm-4-6zm-8 5zm-3-6zm-21 4zm-2 0zm-9 3zm-10-11zm-2 5zm-12-2zm-2 4zm-24 0zm-12-7zm-25 8zm-9-6zm-4 7zm0-8zm-8 3zm-6 0zm-2 1zm-7 4zm-2-6zm-9-2zm-1 3zm-8 2zm0-5zm-2 7zm-1-6zm-11 9zm-2-1zm-3-6zm-5 6zm-2-4zm-6-5zm0 7zm-7-3zm-3 1zm-3 1zm-3-7zm-5 9zm-1-4zm-3-5zm-7 6zm-5-3zm-2 4zm-1-4zm-2 6zm-4-9zm-4 9zm-1-3zm0-5zm-2 1zm-8 0zm-5-2zm-11 0zm-9 4zm0-3zm-4 3zm-1 7zm-7-5zm-1 5zm-2-3zm-2-5zm-2 8zm-4-11zm-1 4zm0 7zm-3-8zm-10-2zm-1 10zm-2-9zm-2 1zm-4-2zm-1 9zm-1-8zm-1 5zm-1-5zm-2 8zm-1-2zm-2-8zm-4 11zm-1-6zm-9 2zm-12-5zm-9 7zm-2 1zm-2-2zm-9-6zm-3 2zm-1 2zm-8 5zm-7-9zm-8 9zm4 4zm17-1zm2 9zm2-11zm12 8zm6 0zm12-7zm7 5zm7 5zm2 0zm11 0zm1-4zm3 0zm11 0zm2 1zm12-6zm1 7zm19 0zm10 1zm11-6zm1 2zm2 1zm21 4zm7 0zm1-5zm4 1zm4 4zm2-7zm3 5zm5-3zm16-4zm3 3zm2 0zm3 2zm2-2zm10 0zm0 5zm2-7zm1 7zm7-3zm2-2zm3-5zm4 3zm10 6zm3-7zm8 0zm3 6zm6-7zm20 6zm3-4zm2-1zm3 9zm4-4zm0-5zm9-2zm1 3zm9 4zm11-7zm0 7zm8-1zm2 4zm5-8zm11 6zm10-6zm6 8zm9-9zm0 9zm21-7zm8-3zm3 2zm3 3zm15 1zm-13 10zm-3 3zm-11-2zm-3-5zm-1 8zm-5 2zm-6 1zm-2-2zm-10 0zm-4-2zm-12-7zm-7 5zm-10 6zm-14-9zm-5 2zm-4 2zm-3-5zm-1 5zm-12-3zm-15 5zm-4-7zm-3 10zm-8-6zm0-5zm-3 1zm-2 10zm-1-3zm-8-6zm-5 1zm-8 5zm-8 1zm-3-7zm-20 0zm-4 1zm-1 4zm-13-3zm-2-2zm-1 7zm-1-9zm-2 6zm-7-2zm-1-4zm-3 2zm-4 5zm-8-2zm-1-5zm-5 9zm0 2zm-2-6zm-2-1zm-3 0zm-5 5zm-3-9zm-5 8zm-4 1zm-3-7zm-6 6zm-4-6zm0 6zm-1-3zm-3-3zm-7-2zm-2 5zm-7 4zm-6-4zm-8-1zm-4-4zm-2 7zm-3-5zm-4 5zm0-4zm-1 2zm-5 4zm-10-4zm-9 5zm-11-7zm-20 1zm-7-2zm-1 2zm-2-3zm-3 4zm-6 15zm7 1zm6-4zm1-5zm1 3zm13 8zm10-11zm8 3zm8 0zm3 7zm11-3zm3-6zm13 1zm13 5zm6-3zm10-1zm3 0zm2 2zm3 5zm4-8zm4 0zm3 1zm7 0zm2 8zm9-3zm4 3zm1-9zm2 3zm3-3zm1 5zm2-2zm3 4zm1-7zm1 5zm14-3zm2 3zm3-4zm9 7zm0-7zm9-3zm7 6zm2-2zm0-3zm3 4zm0-3zm15 6zm4 0zm3 2zm12-10zm9 8zm1-3zm3 6zm2-2zm3 2zm9-9zm4 3zm3-1zm6 4zm6 0zm2-6zm9 3zm9-2zm3 7zm8-7zm43 6zm7-5zm0 3zm17 13zm-10-1zm-7 4zm-41-11zm-9 10zm-33-9zm-28 2zm-4 0zm-2 4zm-2 4zm-1-7zm-4-4zm-1 11zm-1-11zm-2 2zm-6 3zm-13 3zm0-4zm-2-3zm-6 0zm-8 9zm-4 0zm-1-9zm-1 3zm-6 7zm-4-10zm0 5zm-2 1zm-15-5zm-4 0zm-8 2zm-2-1zm-1 5zm-5 1zm-2 2zm-1-3zm-7 1zm-6-2zm-4-4zm-6 4zm-7-3zm-9-4zm-3 0zm0 7zm-4 2zm-1-4zm-2 5zm-2-3zm0 3zm-10 0zm-5-1zm-12-1zm-7 0zm-16-5zm-1 6zm-2-6zm-1 7zm-5-5zm-2 4zm-2-7zm-1 7zm-3 0zm-1 2zm-7-2zm-4-5zm-13 0zm0 7zm-4-9zm-13-2zm20 17zm9 1zm4 1zm2-6zm9 10zm3-10zm13 2zm6 8zm5-1zm6-4zm8 2zm4-4zm1 7zm9-9zm2 0zm2 8zm8-3zm3 4zm7 0zm0-11zm4 6zm2-1zm8 5zm6-7zm0-3zm6 8zm3-8zm6 10zm3-6zm2 5zm2-4zm12-3zm2 9zm4-1zm3-10zm4 3zm8 5zm3-5zm7-1zm1 3zm0 3zm5 0zm0 3zm1-6zm4 4zm3-8zm18 2zm4-1zm3 7zm8 1zm3-4zm1-2zm4 1zm15 3zm5-5zm8 6zm13-6zm2-1zm3 1zm4 8zm4-1zm14-8zm13 9zm3-11zm20 2zm-48 13zm-2 7zm-6-6zm-8 3zm-38-7zm-4 2zm-4 7zm-5-6zm-11-1zm-1 3zm0 4zm-12-9zm-1 7zm-3-2zm-5-4zm-2 2zm-8 6zm-8 1zm-1-5zm-8-5zm-1 3zm-12-1zm-2 5zm-9-7zm-3 11zm-2-8zm-17 4zm-14 0zm-1-2zm-16 5zm-2-1zm-16-9zm-8 0zm-2 3zm-7 0zm-1 1zm-2-1zm-3 7zm-41-6zm-6-3zm-2 6zm29 11zm4-5zm5 8zm4-5zm22-3zm3 2zm27-3zm3 0zm14 4zm0 4zm9-4zm6 6zm10-8zm2 0zm5 1zm2 5zm4-8zm3 7zm2-2zm1 4zm14-9zm6 11zm4-11zm5 5zm2-5zm14 4zm8 0zm4 6zm15 1zm4-9zm16 9zm1-2zm3 0zm9-8zm49 5zm-6 8zm-27 9zm-13-10zm-4 4zm-8 4zm-4-7zm-7 9zm-2-4zm-7 3zm-8-9zm-6 9zm-6-3zm-12 3zm-10 0zm-5-1zm-3-7zm-8 8zm0-4zm-1-1zm-1 5zm-4-10zm-4 1zm-9 9zm-3-1zm-2-1zm0 3zm-7-3zm-19 3zm-5-3zm0-8zm-3 5zm-3-5zm-14 4zm-21 0zm-5-1zm-35 7zm44 6zm0 3zm20 1zm5 3zm7-6zm0 2zm6 0zm4-4zm17 2zm6 0zm9-2zm13 2zm3 0zm10-4zm0 10zm6-1zm1-6zm4-2zm2 3zm2-4zm3 9zm2 1zm20-8zm7 2zm27 6zm2 6zm-3 6zm-29-11zm-20 3zm-9 6zm-2-2zm-3-1zm-4-5zm-20 10zm-8-7zm-3 6zm-2-5zm-15 6zm-7 0zm-7-11zm-7 10zm-3-9zm-6-1zm-10 5zm-25 2zm12 7zm9-1zm13 9zm21-1zm2-6zm21 2zm0-5zm3 10zm23-4zm2-4zm7 2zm2-3zm1 2zm4 7zm9-6zm4 3zm2-5zm6 0zm-31 14zm-9-1zm-4 2zm-2-1zm-3 1zm-26 0zm-8-3zm-1-2zm-3 0zm18 14zm30 5z" stroke="#ff0a12" stroke-width="3.50" stroke-linecap="round" fill="none" stroke-opacity="0.85"/>
<path transform="scale(0.5)" d="M1737 2313zm17 6zm-34 4zm-56 15zm82-5zm2-5zm10 14zm-1 3zm-6-5zm-7 2zm-16 8zm-3 0zm-26-6zm-34 2zm-16 15zm23-8zm5 0zm29 3zm25-1zm-18 13zm-2 7zm-37-5zm-12-1zm-5 6zm-2-10zm-28 4zm-9 15zm5 0zm52-3zm17 2zm13 0zm27-1zm3 3zm-2 12zm-29-8zm-14 5zm-12-6zm-8 4zm-13 2zm-7 5zm-23-2zm-12-9zm-25 12zm1 8zm6-8zm15 9zm3-3zm53 0zm20 1zm40 1zm9-7zm3 9zm-47 2zm-52 11zm-3-7zm-25-1zm16 19zm33-5zm1-3zm28 8zm6 0zm4-2zm45 3zm5 1zm-42 6zm-16-3zm-12-1zm-14 0zm-16 1zm-5 7zm-43-2zm-27-4zm-19 13zm1 5zm1-8zm15 1zm43 6zm13-4zm8 0zm31 6zm3-11zm4 3zm5 4zm31-4zm0 6zm17-3zm2 4zm8-2zm3-3zm-13 17zm-13-8zm-17 4zm-29-1zm-20 5zm-15-9zm-19 8zm-19-3zm-16 2zm-3 1zm-12-3zm-7 1zm-4 5zm1 9zm14-5zm5-1zm18 4zm18 3zm33-9zm2 3zm18-2zm20 8zm20-7zm5-1zm39 9zm2-7zm6 5zm25 2zm0-9zm5 15zm-1 4zm-1 2zm0-6zm-7 5zm-11-7zm-14-1zm-2 0zm-14 2zm-2-1zm-2 1zm-6 5zm-14-7zm-8 6zm-11 1zm-1-8zm-39 9zm-3-9zm-1 4zm-2-4zm-5 3zm-6-2zm-19-1zm-33 9zm-10-7zm-2 6zm-16-6zm-6-1zm-5 6zm-4 15zm13-7zm27-3zm14 9zm11 0zm19-7zm20 5zm3 3zm2-9zm4 2zm7 3zm8 2zm0-9zm5 6zm12-1zm21 1zm3 3zm30-4zm2-1zm15 0zm9-4zm23 8zm17-2zm5-4zm53 17zm-9 3zm-21-10zm-9 4zm-2 2zm-10-4zm-26-1zm-14 7zm-6-5zm-10-3zm-33 1zm-7 9zm0-3zm-5-6zm-7 5zm-2 5zm-5-10zm-73 5zm-2-4zm-8 9zm-23-3zm-8-8zm-15 10zm-38 1zm11 3zm5 7zm4-1zm12 3zm5-4zm4-5zm6-2zm2 8zm5-2zm10-2zm2 3zm2-4zm3 1zm4-3zm3 0zm4 2zm4 0zm19 2zm4-3zm4 0zm20 7zm3-6zm10 6zm4-6zm5-3zm11 4zm13-1zm2 0zm5 4zm4-6zm4 8zm2-4zm1-2zm19 8zm0-6zm18-3zm7 5zm2-5zm4 0zm11 0zm4 1zm5 4zm20-4zm1 5zm22 3zm0-8zm16 7zm2-3zm2-4zm13 6zm14 0zm14 1zm-12 6zm-8 6zm-64-7zm-5 6zm-6 1zm-6 0zm-7-1zm-37 2zm-13-9zm-8 1zm-14 7zm-2-8zm-13 0zm-12 5zm-15-7zm-5 3zm-15 2zm-10 2zm-1-5zm-5 7zm-20 0zm-8 2zm-11-7zm-5 0zm-8-4zm-30 7zm-3-1zm-2-1zm-7 1zm-12-2zm9 9zm3 4zm17 4zm11-4zm24 2zm15-1zm7-3zm5 6zm9 2zm18-5zm29 1zm0-6zm5 8zm16-8zm2 10zm21-3zm2-1zm0-5zm5 1zm2-2zm2 8zm2-3zm25-6zm7 2zm23 4zm9 3zm12 0zm9 1zm7-9zm2 6zm1-4zm12 0zm38 3zm19 3zm6-2zm5 4zm7-8zm2 7zm4 1zm23 0zm-5 6zm-9-5zm-6 9zm-7-5zm-17 7zm-12 0zm-5-11zm-12 4zm-4 0zm-36 0zm-16 7zm-2-4zm-7-3zm-8 4zm-4-8zm-9 7zm-14-1zm-11 4zm-8-6zm-3 7zm-2-8zm-4 5zm-3-6zm-7 2zm-7 0zm-6 2zm-15-3zm-16 1zm-10 3zm-26-7zm-1 10zm-9-2zm-3 3zm-3-8zm-5 6zm-1-9zm-5 5zm-5-1zm-1-2zm-15 5zm-11-6zm-2 6zm-11 2zm-2-7zm-11 6zm-13 3zm-11-10zm-13 4zm-17 14zm7-6zm8 3zm1 3zm3-3zm18 4zm3-4zm11 4zm28 3zm7-10zm14-1zm6 0zm2 1zm5 2zm3 2zm1-4zm2 9zm13-8zm8-2zm22 10zm10 1zm11-7zm2 4zm2 0zm1-2zm3 2zm3-6zm4 9zm4-8zm8 8zm1-6zm8 2zm7 2zm11-1zm7-1zm2 4zm9-5zm8-5zm13 7zm3-7zm4 7zm7-4zm1 3zm22 1zm14-8zm6 0zm2 5zm1 3zm5-7zm5 4zm10 1zm10-5zm4 1zm6 8zm27-3zm2 3zm24-1zm31 13zm-71-4zm-15-6zm-30 3zm-2-3zm-17 10zm-16-5zm-10 2zm-9 1zm-2-6zm-10 8zm-19-7zm-43 5zm-22-6zm-11 6zm-7 1zm-1-9zm-12 1zm-21 0zm-1 7zm-7-7zm-11 7zm-4 3zm-30-8zm-30 0zm-4 0zm-26 4zm-9-6zm-6 9zm-2-9zm-5 2zm-14 13zm18 3zm1-6zm1 4zm20 0zm24 6zm0-7zm6 7zm2-9zm8 6zm9-2zm5-6zm0 11zm14-5zm7 4zm2-4zm17 4zm4-3zm12-6zm2 8zm6-4zm5 1zm12-1zm11 3zm1-5zm3 7zm15-7zm5-3zm8 8zm3-7zm7 9zm4 1zm2-7zm8 0zm9 3zm1-4zm3 1zm15-3zm5 4zm21 2zm11-3zm0 4zm2-6zm9 3zm30 0zm9 2zm2-7zm5 4zm7-3zm10 3zm16 0zm3 1zm15 5zm4 0zm17-8zm31 1zm29-3zm7 9zm14 6zm-7-2zm-11 4zm-3 5zm-1-2zm-35-5zm-2 4zm-28 4zm-7-5zm-8 3zm-1-4zm-8-1zm-12 0zm-14-1zm-11-1zm-3 4zm-7-6zm-9 8zm0-4zm-4-4zm-5 9zm-7 1zm-17-1zm0-7zm-3 5zm-20-1zm-5 1zm-2 4zm-31-9zm-4 2zm-2 5zm-20-1zm-5-8zm-19 11zm-6-10zm-3 4zm-16 5zm-8-5zm-20-1zm-9 0zm-7 3zm-12-3zm-7-2zm-4 2zm-28 6zm-1-2zm-21-1zm-25-1zm-4 0zm-3-4zm-6-2zm-14 2zm-1 14zm8 7zm2-5zm7-2zm6-3zm3 10zm4-3zm2 2zm19-3zm19-1zm1 2zm5-2zm17 4zm13 0zm9-8zm3 7zm3-4zm14 1zm18-6zm0 6zm0-4zm10 5zm9 3zm24-4zm15 1zm4-1zm12-2zm19 2zm20 5zm17-4zm2-5zm12 1zm0 8zm1-5zm27-6zm2 3zm3 7zm5-2zm13-7zm2 5zm9-5zm2 7zm13-8zm35 2zm16 0zm1 7zm40-4zm18-2zm1 8zm11-1zm35 0zm16 7zm-29 4zm-1-3zm-11-5zm-19 5zm-33 3zm-9-2zm-26-1zm-6-1zm-7-4zm-26 5zm-7-5zm-2 8zm-2-3zm-12-1zm-11-5zm-43 11zm-5-7zm-2 4zm-8-3zm-7-2zm-2 6zm-2-2zm-10-2zm-2-4zm-5-1zm-3 7zm-10-1zm-2-6zm-4 4zm-6 3zm-6 4zm-45-7zm-34 6zm-16-3zm-8 0zm-4-2zm-2 5zm-10 0zm-3-2zm0-2zm-20 5zm-20-11zm-4 11zm-2-6zm0-3zm-9 9zm-9 0zm-32 0zm-5-9zm-6 13zm37 3zm30-1zm7-1zm4 2zm3 5zm4-4zm7-2zm12 5zm12-7zm25-1zm3 2zm7 5zm2-7zm7 8zm0-3zm6-6zm3 6zm9 2zm4-2zm32-5zm13-1zm12 3zm5 0zm12 4zm4-2zm4-6zm8 5zm5-2zm1 7zm1-4zm1 2zm1 2zm2-9zm1 10zm39-11zm7 1zm8 6zm7 4zm11-6zm14-1zm22 1zm11 1zm19 1zm2-3zm2-4zm6 8zm42-3zm7 0zm12 3zm11 1zm4-4zm10 1zm4-6zm4 11zm9-1zm4-2zm2 3zm2-3zm-16 6zm-8 5zm-9-6zm-21 3zm-24 2zm-7-1zm-22-1zm-14-2zm-2 8zm-3-7zm-1 7zm-2-5zm-42-2zm-3-2zm-3 10zm-13-8zm-2-2zm-3 5zm-1-3zm-34-1zm-6 6zm-4 3zm-2-5zm-8 1zm-9 2zm-37-3zm-15 5zm-14 0zm-4-1zm-3-2zm-1-4zm-7-3zm-5 3zm-4-3zm-8 4zm-9 4zm-2-9zm-13 1zm-3 9zm-3-4zm-2-4zm-10 3zm-3 0zm-15 6zm-15 0zm-10-7zm-18 3zm-3-3zm-27 4zm-50 4zm11 3zm7 0zm6 1zm27-2zm11 0zm8 5zm2-5zm9-1zm6 9zm1-3zm4 4zm8-5zm12 5zm3-11zm6 11zm7-4zm3-6zm1 5zm1-2zm5-4zm0 4zm10 4zm1 1zm3-3zm3 1zm4 2zm9-2zm12-6zm4 2zm4-2zm2 2zm12 7zm13-4zm3 4zm3 0zm3-8zm3 0zm3 3zm8 2zm7 2zm3-1zm12-3zm7 5zm3-7zm1 5zm9-5zm10 8zm4-3zm16-2zm3-1zm25 4zm64-6zm13 8zm19-11zm11 9zm5 0zm11-4zm6 4zm13 1zm19-1zm4-4zm7 4zm0-6zm21 7zm2-10zm2 8zm0-8zm5 6zm7-4zm16 9zm9-3zm40 15zm-6-1zm-10-8zm-74-1zm-48 4zm-13 1zm-14-5zm-1 6zm-3-3zm-15-1zm-16 2zm-5 3zm-18-2zm-3-3zm-10 2zm-5 3zm-23-5zm-3 1zm-6 0zm-10 5zm-7-9zm-2 4zm-6 6zm-5-1zm-2-4zm-6-5zm-26 5zm-4 1zm-8 0zm-3 5zm-4-8zm-2 8zm-2-7zm-2 4zm-10 2zm-4-10zm-29 5zm-5-1zm-15-4zm-2 6zm-15-4zm-27-2zm-8 0zm-4 5zm-4 3zm-6-4zm-1 5zm-3-2zm-3-6zm-4 3zm-11 5zm-3-1zm-15-8zm-13 2zm-8-1zm-5 7zm-3 2zm-16-2zm-31-5zm14 11zm6-2zm2 11zm2-5zm36-1zm13 4zm8-1zm16-4zm6-2zm20 4zm6 1zm9-1zm6 0zm19-2zm1 6zm15-10zm29 8zm1-7zm29 4zm9-2zm8 3zm15-6zm16 4zm6-4zm1 10zm33-6zm25 3zm2 3zm2-9zm0 3zm9-1zm1-3zm0 10zm15 1zm7-1zm13-8zm17 3zm16-4zm6 9zm21-10zm78 2zm7 4zm7-2zm0-4zm40 5zm5-4zm8 9zm11-5zm4 18zm-118-3zm-5-8zm-8 9zm-8-6zm-7 7zm-13-5zm-53-2zm-3 7zm-1-9zm-2 6zm-6-1zm-4-4zm-12 2zm-6 3zm-6 4zm-13-5zm-5 1zm-5-2zm-10 0zm-3-3zm-11 2zm-5-1zm-6-2zm-12 8zm-4-8zm-11-1zm-21 8zm-8 1zm-1 1zm-3-1zm-14-4zm-4 2zm-10-7zm0 4zm-4-1zm-7-2zm-4 3zm-2 7zm-5-5zm-1-6zm-11 4zm-22 4zm-14 1zm-1-4zm-4 1zm-4 0zm-2 5zm-11 0zm-1-11zm0 7zm-7 3zm-19-9zm-12 4zm-10 3zm-12 2zm-28 0zm-18-6zm-22 0zm5 12zm26 1zm2 4zm23-2zm13-4zm5-1zm8 8zm13-10zm17 7zm3-2zm21-4zm5 9zm11-3zm2-6zm6 9zm4-7zm53-3zm8 9zm40 1zm8-6zm1 3zm11-6zm1 6zm24-6zm21 10zm3-1zm1-5zm3 3zm2-7zm0 9zm5-7zm8 3zm8 1zm22-5zm10-1zm7 4zm0-2zm11-3zm1 6zm33 3zm17-6zm2 2zm3-4zm2 7zm5-7zm3-1zm9 6zm6 4zm4-4zm10-6zm7 3zm25 4zm4 4zm28-8zm18 8zm4-7zm25 17zm-26 2zm-3-4zm-4 0zm-6-7zm-19 6zm-2-6zm-2 6zm-4 3zm-20-2zm-34 0zm-3 2zm-1-7zm-34 1zm-4 7zm-5-6zm-9 5zm-2-5zm-1 7zm-22-10zm-5 5zm-4-6zm-3 6zm-2 3zm-38-5zm-3 5zm-8 2zm-14-4zm-10 4zm0-10zm-2 2zm-23 4zm-12-4zm-4 4zm-1 4zm-6-8zm-13-1zm-13 8zm-1-8zm-6 2zm-1 3zm-2-7zm-2 7zm-7-1zm-4 2zm-4-5zm-2 1zm-7 7zm-10-3zm-3-5zm-4 4zm-12-3zm-15 5zm-49 1zm-7-3zm0-4zm-34-1zm-8 7zm-12 1zm-5-9zm-7 7zm-10-5zm0 4zm-7-7zm-16 15zm5 0zm0 7zm10-3zm17 4zm5-11zm6 7zm14 0zm1 2zm4-4zm6 6zm34-10zm14 9zm0-6zm7 0zm1-4zm2 1zm1 3zm3 3zm2-3zm6-1zm0-3zm7 3zm11-2zm1 5zm1 4zm1-2zm0-8zm8 4zm2 4zm4-5zm7 6zm4-3zm5-6zm18 4zm4 0zm3-3zm13 9zm1-6zm8-3zm22 4zm4-1zm6 5zm42-1zm2-2zm2-5zm3 10zm4-6zm12 4zm11-3zm16 3zm8 0zm15-3zm2-6zm3 5zm15 4zm14-8zm1 1zm7 2zm4 6zm14-1zm9-4zm25-1zm9 7zm7-2zm42-9zm44 5zm0-3zm-4 13zm-26 6zm0 2zm-71-4zm-18-3zm-9 2zm-13 2zm-32 1zm-2 0zm-3-8zm0 5zm-9-6zm-20 7zm-2 3zm-7-7zm-28 4zm-1-7zm-3 8zm-11-2zm-3-1zm-6-4zm-4 8zm-6 0zm-6-2zm-4-1zm0-3zm-11-2zm-14 4zm-6 2zm-15 1zm-3 1zm-2 0zm0-5zm-9-4zm-9 7zm-2-7zm-9 11zm-11-1zm-4-10zm-5 8zm-7-1zm-14-1zm-16-1zm-5 6zm-1-9zm-13 6zm-4-3zm-2-5zm-1 9zm-10-5zm-5-1zm-9 6zm-14-5zm-13 0zm-15 1zm-12 1zm-10 2zm-5 1zm-11-2zm-9 3zm-3 0zm-4-2zm-5-6zm4 21zm19-7zm18 3zm11-4zm4 2zm8 0zm7-2zm4-2zm37 3zm19 7zm15-5zm5 2zm0-3zm11 4zm18-4zm6-2zm10 3zm5 2zm29-2zm23 3zm9-6zm2 1zm5 1zm7-4zm3 8zm2 1zm2-5zm32-3zm2 0zm0-2zm8 8zm34-3zm11-5zm22 9zm6 2zm18-6zm16 5zm14 0zm6-1zm7-8zm18 2zm5 3zm2-2zm19 4zm0 3zm8-3zm4-2zm4-6zm9 10zm28-8zm25 5zm-10 5zm-17 6zm-17-3zm-57-3zm-1 9zm-10-1zm-3 3zm0-3zm-48 1zm-2-3zm-1 3zm-14 2zm-2-4zm-3-6zm-4-1zm-3 2zm-6 7zm-4-1zm-9-3zm-4 4zm-10-7zm-26 2zm-22 1zm-5-4zm-9 9zm-1-10zm-3 6zm-3 0zm-5-4zm-1 6zm-5-7zm-3 9zm-7 0zm-6 1zm-25-1zm0-4zm-2-2zm-2-4zm-8 9zm-5 2zm-8-11zm-4 2zm0 2zm-4-4zm-2 2zm-10 9zm-7-5zm-4-1zm-6 5zm-4-10zm-8 8zm-14 2zm-6-7zm-8 4zm-5-7zm-3 7zm-3 3zm-3-10zm0 6zm-14 2zm-14-4zm-3-1zm-3 0zm-34 7zm-9-3zm-10-3zm-5 4zm-8-5zm-8 5zm-4-5zm24 15zm3-2zm42-4zm18 7zm1 3zm21-7zm2 3zm6 3zm3-6zm7 5zm2 2zm2-8zm5 7zm11-8zm5-1zm13 9zm1-8zm6 10zm3-11zm4 6zm2-6zm19 11zm1-10zm0 3zm12 2zm23-2zm15 3zm8-4zm13 8zm10-2zm2-7zm4 9zm1-7zm4-4zm4 6zm16 4zm10 0zm16-5zm6 6zm15-9zm7 5zm9 0zm16-5zm18 7zm7-4zm1 3zm10-3zm29 6zm4-5zm9 1zm19-4zm24 1zm9 3zm1-6zm2 9zm10-5zm-37 11zm-11-3zm-16 9zm-8-2zm-19 3zm-21-10zm-20 4zm-5-5zm-1 6zm-10 3zm-3-6zm-9 4zm-18 0zm-1 3zm-1-2zm-20-6zm-2 3zm-10-4zm-8 3zm-3 6zm-2-6zm-23-2zm-2 6zm-22-3zm-14 4zm-25-1zm-6-5zm-2 4zm-5-7zm-2 7zm-3-6zm-10 8zm-16-2zm0 4zm-2-2zm-5-8zm-35 5zm-2 5zm-9-10zm-3 2zm-12 8zm-5-5zm-4-1zm-6-2zm-8 1zm-1-2zm-7 1zm-19-3zm-2 3zm-12 6zm-12-3zm-6 5zm-5-4zm0-3zm13 15zm7-5zm6 4zm3-1zm13 4zm23 2zm2-5zm1 2zm6 3zm6-5zm44-3zm5 0zm5 3zm8-4zm17 6zm3-7zm7 3zm6 0zm24-4zm16 8zm9-1zm8-2zm7 4zm4-4zm8 0zm9 6zm17-11zm1 10zm13 0zm41-3zm4-1zm2-6zm18 10zm1-8zm15 4zm2-3zm2 2zm7 2zm15-5zm12 7zm20 0zm11-9zm28 2zm3 7zm20-9zm-31 14zm-7 7zm-4-8zm-12 1zm-7 9zm-11-9zm-4-1zm-1 10zm-14-7zm-43-4zm-2 5zm-5 2zm-20-5zm-2 4zm-2 2zm-2-4zm-5 1zm-4 2zm-4-6zm-8 5zm-4-6zm-11 3zm-10-2zm-3 10zm-8-3zm-3 0zm-7 2zm-3-7zm0-3zm-3 10zm-7-4zm-8-1zm-38 6zm0-11zm-2 5zm-20 2zm-3 1zm-11 3zm-35-4zm-30-1zm-5 5zm-7-1zm-7-3zm-9 1zm-9 1zm-8-6zm-2 4zm-4-4zm-15 1zm-13-4zm-1 19zm9-5zm4 9zm4-7zm34 0zm28 3zm4 2zm2-9zm1 11zm7-4zm23-6zm6 8zm21-5zm13 4zm3-5zm2 0zm14 2zm6 0zm1 1zm26-3zm22 6zm2-6zm9 0zm7 2zm8 5zm7-6zm2 5zm23-4zm6-4zm6 9zm4-2zm3-5zm17 3zm19-3zm23-3zm76 5zm2-3zm-29 16zm-8-2zm-52 1zm-6 6zm-3-4zm-7-7zm-8 4zm-21 6zm-22-9zm-6-1zm-13 4zm-11 5zm-11-9zm-11 4zm-4 5zm-11-8zm-9 10zm0-9zm-4 1zm-11 4zm-7-2zm-12-4zm-2 6zm-1-5zm-9 0zm-5-1zm-50 5zm-2 4zm-4 1zm-27-3zm-3 1zm-2-2zm-6-3zm-11-3zm-10-1zm-22 17zm13 6zm5-2zm31 0zm6-7zm7 2zm0 2zm5 3zm8-6zm15 2zm3 1zm28-3zm13 0zm13 0zm15 6zm4 1zm5 0zm27-9zm9 2zm9 8zm17-1zm28-3zm6-2zm10 0zm10 3zm2 0zm2 2zm1-9zm18 7zm5-4zm14 3zm3 1zm1 3zm1-5zm7-2zm18-3zm2 7zm2-3zm21 6zm4-2zm-10 8zm-23 0zm-2-2zm-3 7zm-3-6zm-23 6zm-5 0zm-11-1zm-1-5zm-28 1zm-26-3zm-16 8zm-15-10zm-8 11zm-6-2zm-9 2zm-20-2zm-2-6zm-18 3zm-37-3zm-1 1zm-10 4zm-11-4zm-59 1zm-8 0zm-14 2zm-6 2zm-9-7zm-2 4zm7 7zm7 9zm19-4zm2 4zm36-7zm9 7zm3-8zm1 3zm11 5zm7-10zm1 5zm1-4zm8 4zm23 4zm16-7zm6-2zm1 5zm8-2zm2 3zm14 2zm11-8zm2 4zm0-2zm1 6zm3-6zm4 3zm5 4zm2-9zm2 6zm5 3zm16-7zm6 7zm14 2zm6-6zm5 3zm3-2zm11-4zm19 2zm2-2zm2-2zm15 9zm0-8zm13 1zm34 3zm-3 8zm-24-1zm-13 10zm-6-7zm-31 7zm-5-10zm-6 11zm-57-7zm-23 5zm-23-4zm-2 6zm0-2zm-4-4zm-9 6zm-6-9zm-14 5zm-4-6zm-1 3zm-18 2zm-2 4zm-1-10zm-25 5zm-30 3zm-1 2zm-17-9zm-1 5zm-11 3zm10 9zm14 3zm3-2zm33 2zm6 0zm1-2zm3-5zm30 3zm6-4zm1 7zm4-3zm1 5zm3 0zm12-3zm1-4zm15 6zm7-3zm1 3zm1-8zm7 6zm15-5zm31-2zm14 7zm24 1zm20 1zm25-9zm5 1zm24 0zm-29 11zm-22 4zm-1 6zm-9-2zm-11-3zm-22-4zm-10 3zm-2 6zm-2-8zm-7 4zm-8-5zm0 4zm-17 4zm-11 1zm-1-9zm-5-1zm-14 11zm-4 0zm-2-2zm-1-3zm-3-6zm-15 0zm-14 7zm-7-5zm-5 7zm-2-7zm-11 2zm-13 7zm-6-7zm-18 7zm-14-3zm29 15zm6 0zm13-11zm3 2zm7 2zm31 1zm8-2zm5 4zm6-1zm4 3zm34-2zm28 2zm14 2zm10-9zm20 4zm15-4zm0-2zm-56 16zm-1 5zm-28-5zm-18 0zm-9 3zm-11 2zm-7-6zm-25 5zm-1-6zm-9 1zm-4 1zm-10 6zm13 10zm18-2zm4 4zm39-10zm3 11zm11-8zm11 6zm21 0zm13-4zm-24 10zm-37 6zm-24 1zm-19-3z" stroke="#1a1a1a" stroke-width="3.50" stroke-linecap="round" fill="none" stroke-opacity="0.8"/>
<path transform="scale(0.5)" d="M1730 2314zm8-2zm16 3zm12 12zm-9 0zm-12-2zm-1-8zm-4 10zm-5-2zm-8-4zm-4 6zm-48 8zm28-1zm10-6zm9 3zm23 3zm5 2zm1 4zm-7 1zm-10 10zm-5-1zm-17-2zm-5 2zm-15-5zm-3 3zm-10 0zm-11 0zm-11 2zm-7-5zm-9 17zm14-2zm1-2zm15 1zm5 2zm6-2zm1-6zm44 0zm6 1zm8 3zm5 5zm5-2zm-9 9zm-35-2zm-5-3zm-4 9zm-21-6zm-4 5zm-8 1zm-15-4zm-26 3zm-11 15zm12-10zm10 0zm35 7zm20-3zm12 5zm7-2zm4-1zm16-1zm13 1zm3-2zm5 4zm-14 8zm-9 6zm-9-2zm-4-6zm-3 6zm-6-5zm-16 4zm-2-3zm-1-3zm-27 9zm-3-2zm-7 1zm-7-3zm-4-6zm-16 7zm-3-3zm-2-1zm-3 7zm-13-9zm-2-2zm-14 15zm6 5zm23 2zm2-8zm31 9zm1-6zm3 5zm51-5zm10 3zm8-2zm3-6zm8 6zm1 3zm8-1zm-25 14zm-10-10zm-3 8zm-2-7zm-1 8zm-1 2zm-1-10zm-14-1zm-9 6zm-8-4zm-6 9zm-46-4zm-21 0zm-2 4zm-4 0zm-25 6zm15-4zm6 2zm2 8zm14-10zm8 3zm1-4zm2 8zm1 1zm39-5zm30 4zm0-4zm3-2zm27-1zm6 0zm0 2zm6 3zm0 3zm2 2zm9-5zm4-5zm1 22zm-4-8zm-9-2zm-4 1zm-10 5zm-3-6zm-4-1zm-32 1zm-4 0zm-23 5zm0 5zm0-2zm-32-7zm-3 1zm-2-2zm-12 0zm-17 3zm-8 2zm-2-3zm-19 16zm6-1zm39 0zm9-5zm4-1zm14 0zm2 3zm26 0zm0 7zm4-8zm5 8zm28-7zm0-2zm3 7zm5 0zm18 1zm14-2zm2-6zm6 9zm7-10zm11 1zm1 6zm9 14zm-2-5zm-3 3zm-3 4zm-49-9zm-19-1zm0 6zm-4 0zm-3-4zm-2 3zm-7 1zm-8 0zm-10-7zm-3 5zm-6-5zm-2 5zm-4-2zm-17 7zm-1-3zm0-6zm-1 3zm-4 4zm-7-1zm-4 3zm-20-4zm-2 5zm-26-7zm-6 4zm-2 2zm25 12zm4 0zm2-2zm3-5zm4 6zm24-4zm0-2zm2 8zm5-5zm25 2zm1-5zm4 1zm7-2zm17 1zm4 4zm6-3zm11 0zm6 1zm3 2zm22-7zm5 4zm20 7zm4-7zm0-4zm18 2zm1-2zm35 21zm-23-7zm-4-1zm-5 7zm-17-3zm-5-3zm-14-1zm-14 9zm-3-9zm-24 0zm-1 7zm-55-2zm-6-2zm-2 5zm-4-1zm-6-3zm-18 0zm-11 3zm-11-1zm-4 0zm-16-6zm-9 0zm-16 7zm8 13zm6-7zm3 9zm14-3zm6-2zm13 0zm9 4zm7 1zm8-7zm3 3zm3-2zm7-4zm2 6zm7 1zm5 1zm10-8zm1 2zm0 7zm7-6zm2-3zm2 4zm0-2zm5 2zm7-3zm1-2zm2 7zm14 3zm6-1zm15-1zm15-4zm1-3zm2 9zm1-2zm9 2zm5-2zm6-2zm0 3zm19-1zm1-3zm13-1zm12-1zm11-2zm5 8zm46 14zm-20-6zm-27 3zm-12 3zm-2-2zm-4 1zm-2-7zm-1 5zm-1-4zm-4-1zm-2 0zm-1 2zm-17 1zm-5-1zm-9-3zm-14 3zm-16-4zm-2 7zm-3-8zm-1 11zm-3-9zm-2 2zm-2 3zm-6-7zm-4 0zm-10 9zm-4 0zm-7-8zm-2 6zm-22 0zm-2-7zm-1 10zm-4-7zm-6 1zm-1 2zm-1-4zm-6 3zm-1-3zm-3 4zm-4-4zm-6 7zm-4-4zm-6-5zm-13 2zm-14 0zm-1 5zm-8 1zm-2-5zm-4 8zm-5-9zm-14 1zm-8 6zm-12 10zm5-4zm6 1zm9 3zm6 3zm5-7zm4 2zm3 2zm7 4zm12-3zm4 2zm1-2zm10-3zm3 3zm1-6zm10 5zm0 3zm4-7zm1 2zm0 6zm1-9zm15-2zm11 9zm0-8zm0 5zm4 4zm4-2zm4-5zm7 5zm2-1zm1-6zm9 0zm2 0zm6 6zm1-3zm13-4zm5 9zm4-2zm6-7zm1 2zm1 8zm1-4zm2 0zm6 0zm0-2zm4 4zm0-7zm4 6zm11-7zm8 3zm2 1zm7 7zm6-1zm14-5zm6 4zm3 2zm9-1zm23-7zm14 6zm8-2zm2 1zm26-6zm1 6zm2-4zm3 6zm1-5zm2 6zm2-4zm0 3zm39 7zm-33 6zm-9-9zm-4 8zm-1-5zm-5 6zm-7-3zm-29-6zm-15 1zm-1 3zm-1 2zm-1-8zm-3 6zm0-6zm-8 1zm-11 4zm-2 5zm-2-2zm-2-3zm-3 4zm-4-1zm-1 1zm-3-2zm-3-2zm-8 4zm-4-5zm-2 6zm-7-8zm0 3zm-4 3zm-4 0zm-6-8zm-26 10zm-16-6zm-1 1zm-7 4zm-1 2zm-3-10zm-7 5zm-1 4zm-2-4zm-5 0zm-2 0zm-12-4zm-2-2zm-2 5zm-1-4zm-6 3zm-3-1zm-7-3zm-4 7zm-3-2zm-15 4zm-21-4zm-3 4zm-5-6zm-15 8zm-3-10zm-1 10zm-10-6zm-5-2zm-4 3zm-10-2zm-8-4zm-2 4zm4 19zm5 0zm5-6zm4 3zm3-1zm4 3zm11-5zm1 4zm20-8zm5 2zm14 1zm2 7zm5-8zm1 5zm3-8zm11 0zm2 11zm4-4zm10 4zm6-7zm4 6zm5-5zm5-5zm8 3zm7-3zm7 5zm7-3zm2 4zm10 1zm5 1zm2-5zm2-2zm11 8zm2-9zm5 3zm5 4zm2-6zm13 8zm2-7zm7 6zm12-3zm2 0zm0 5zm9 1zm4-2zm4-8zm7 2zm3 6zm5-7zm1 6zm8-7zm14 0zm1-1zm1 2zm3-1zm16 9zm4-3zm8-1zm5-2zm20 1zm3-4zm6 6zm12 1zm36 3zm23-6zm-3 15zm-14-8zm-14 1zm-3 0zm-5 4zm-6 3zm-2 0zm-3 3zm-9-10zm-14 0zm-2 2zm-8 6zm-12-6zm-3 3zm-1-4zm-7 5zm-10-2zm-3 1zm-2-2zm-5 2zm-2 3zm-1-8zm-1 2zm-4 6zm-2-7zm-3-2zm-7 2zm0 9zm-4-5zm-11-5zm-5 1zm-3-1zm-1 6zm-1 2zm-3-7zm-2 9zm-6-8zm-7-2zm-1 9zm-2-7zm-3 0zm-8 0zm-2-1zm0 5zm-6 4zm-8-1zm0-2zm-7 1zm-2-2zm-2-4zm-5 0zm-3-2zm-1 4zm-2-4zm-7 0zm-1 4zm-7 5zm0-8zm-3 6zm-2-3zm0 2zm-8-4zm0 4zm-1 4zm-2-5zm0-3zm-4-3zm-1 11zm-3 0zm-3-7zm-1 2zm-5-2zm-1-2zm-2 4zm-7 0zm-3-4zm-5 2zm-3-4zm-4 6zm-7-3zm-15 8zm-2-3zm-1-6zm-2 0zm-4 8zm-1-2zm-1-3zm0-4zm-7 8zm-7-6zm-11 8zm-5-2zm-5 1zm-8 1zm-6-3zm-6-2zm-3 3zm-19-9zm-24 10zm6 3zm5 7zm9 1zm2 1zm8-5zm0-5zm5 4zm13 5zm16 2zm16-7zm6 3zm8 4zm5-11zm2 5zm5-3zm9-2zm13 10zm4-2zm3 2zm7 1zm7-8zm7 8zm6 0zm1-7zm5 4zm7-4zm1-3zm2 1zm0 4zm0 3zm5-8zm7 6zm4 2zm2-7zm2 4zm2-4zm8 7zm2 2zm1-6zm3-3zm8-1zm8 9zm4-4zm1 5zm2 0zm12-11zm0 9zm8 2zm10-7zm18 3zm1 3zm1-8zm2-1zm4 5zm3-3zm3 3zm7 4zm0-4zm2-5zm3 3zm16 4zm15-7zm0 5zm10-3zm7 4zm5-1zm2 5zm1-6zm7-3zm6 1zm12 1zm9-1zm0 8zm7-1zm29-9zm9 3zm2-4zm9 11zm10-5zm25 2zm4 15zm-8-8zm-15 5zm-8 2zm-3-7zm-2 5zm-8-3zm-7-4zm-3 3zm-13-2zm-9 9zm-1-5zm-19 4zm-2-8zm-2 1zm-3 2zm-15-3zm-2 5zm0-3zm-8-1zm-8-3zm-7 4zm-1-3zm-4 6zm-3-3zm-16 6zm0-4zm-5 4zm-1-6zm-9 0zm-2-2zm-1 5zm-1 2zm-3-8zm-6 1zm-4 2zm-7 7zm-10-10zm-2 10zm-1-2zm-1-2zm-1-4zm-8-1zm0 2zm-4 5zm-13-7zm-3 1zm0 4zm-6-6zm-6 2zm-2 7zm-2-10zm0 5zm-5 5zm-9-4zm-1 2zm-1-5zm-3 0zm-14 4zm-5-2zm-4 6zm-16-7zm-5-4zm-7 9zm-5 1zm-3 1zm-7-6zm-1-2zm-2 0zm-4-3zm-5 6zm-1 3zm-3-3zm-11-5zm-7 8zm0-5zm-3 0zm-1 3zm-5-3zm-2 1zm-1 3zm-4 1zm-6 2zm-2-9zm-4 5zm-5-5zm-9 6zm-2 2zm-10-4zm-5 4zm-5-5zm-5 4zm-6-8zm-18 10zm-4-7zm-4 3zm-4 2zm-5 14zm14-3zm29 3zm3-4zm19-5zm9-2zm1 10zm6-4zm5 5zm8-3zm1-3zm6 6zm16-9zm0 7zm10-7zm0 7zm4 0zm15-9zm3 0zm2 4zm15-1zm1-3zm2 2zm9 5zm6 3zm8-8zm2 5zm4-4zm1-2zm9 9zm6-10zm6 7zm4-3zm1-4zm3 2zm1 3zm2 4zm3 1zm0-4zm10 1zm6-4zm8 8zm2-2zm0-4zm7 0zm3-2zm9 0zm14 8zm5-11zm9 3zm9 3zm1 2zm5-5zm1 4zm4 4zm0-10zm1 6zm13-1zm4 2zm0-2zm1-4zm15 9zm2-9zm0 8zm3-3zm2-6zm14 6zm13-6zm2 1zm3 1zm24-2zm12 7zm5-6zm17 1zm9 2zm2-5zm8 6zm21 0zm10 0zm1 11zm-14 3zm-8 0zm-7-2zm-5-5zm-24 3zm-2 7zm-11-3zm-2-8zm-7 4zm-26-1zm-5 3zm-5-5zm-15-1zm-12 4zm-7 5zm-3 1zm-4-1zm-7-9zm-7 3zm-12 1zm-5 7zm0-7zm-4-1zm-11-3zm-3 2zm-3 4zm-5-4zm-2 5zm-4-3zm-9 7zm-2-3zm-1 3zm-7 0zm-5 0zm-3-9zm-6-2zm-10 7zm-5-7zm-2 3zm-2-3zm-1 8zm-2-2zm-1 3zm-2-3zm-3-3zm-4 5zm-3-8zm-2 3zm-3-1zm-3 1zm-2 5zm-8 1zm0-7zm-3 8zm0-4zm-5-6zm-5 1zm-5 7zm-3-4zm-5 7zm-3-4zm-2-5zm-1 9zm-12-4zm-1 4zm-8-4zm-1 3zm-2-7zm-17 7zm-2-6zm-6 0zm-5 3zm-2-6zm-3 9zm-5-3zm-2-3zm-6-2zm0 5zm-3 1zm-6 0zm-6-7zm-17-1zm-7 6zm-4 4zm-3-8zm-2 7zm-7-3zm-3 5zm-12-3zm0-5zm-4-3zm-5 4zm-9 6zm-4-1zm-6 4zm1 5zm14 4zm2-4zm5-1zm5-4zm4 2zm6-3zm6 7zm3-1zm1 5zm14-2zm4-8zm4 5zm4-6zm2 7zm2 2zm3-1zm6-8zm7 1zm24 10zm8-7zm9 7zm5-11zm9 4zm4 3zm3-6zm11 0zm0 2zm4 3zm4-4zm1 4zm13 3zm1-7zm2 4zm4-2zm9 2zm3 1zm2-6zm2 8zm0-4zm3 4zm1-8zm3 6zm8-6zm3-1zm2 2zm2 4zm4-1zm3 2zm3-1zm9 4zm2-8zm2 1zm6 3zm10-2zm3 3zm10-5zm2 4zm3-2zm2 7zm5 0zm4-5zm2 0zm6 5zm6 0zm7-6zm6 4zm5-4zm6 2zm4-6zm1 6zm0-4zm2 7zm2-3zm15-4zm3 5zm0-8zm23 6zm18-5zm4 2zm4-1zm7 8zm0-8zm5 2zm13 3zm9-6zm1 5zm5-1zm4 6zm3 0zm19-2zm30 2zm11-5zm23 11zm-2-5zm-7 8zm-2-4zm-16-1zm-10-2zm-33 7zm-13 2zm-1-6zm-2 3zm-21-3zm-11 5zm-15-9zm-2 6zm-20-4zm-6 5zm-6-1zm-4 0zm-11-2zm-4 6zm-1-5zm-2-2zm-1 6zm-3-1zm-4-2zm-9-4zm-11 7zm-5-5zm-1 3zm-5 0zm-2 4zm-1-5zm-3-4zm-4 3zm-1-5zm-6 3zm0 6zm-14-8zm-2 0zm-1 5zm-6 3zm-4 2zm-5-4zm-1-7zm-2 1zm-2 2zm-2 6zm-5-9zm0 2zm-5-2zm-4 10zm-4 0zm-5-7zm-10 4zm-1-7zm-8 9zm-6-9zm-3 2zm-6 3zm-2 6zm-6-4zm-2-3zm-12 2zm-2-6zm-1 10zm-12-9zm-4 9zm-1-9zm-1 9zm-2-10zm-7 8zm-8-2zm-3 5zm-1-8zm-6-1zm-1 7zm-5 2zm-1-7zm-17-1zm-2 0zm-6 6zm-1-2zm-1-6zm-2 8zm-4-3zm0 2zm-7-4zm-2-2zm-2 1zm-8 8zm-2-11zm-8 7zm-17 2zm-4-2zm-4 0zm-16 2zm-8 0zm-8 9zm12-6zm7 6zm1-3zm0 8zm16-5zm3 0zm9 0zm12 5zm20-1zm1-5zm2-4zm2 8zm5-5zm3 3zm1-7zm15 1zm2 2zm14 5zm3-1zm3-4zm3 7zm0-6zm1-4zm18 7zm2 2zm3-3zm5-4zm5 3zm1 6zm13-9zm2 4zm3 4zm1-10zm6 7zm5-2zm0-3zm3-1zm0 8zm3-6zm7 3zm1 3zm3-6zm1 6zm2-2zm1-3zm11-3zm5 3zm2 5zm0-2zm4-4zm25 1zm11 4zm2 3zm4-4zm3-3zm4-4zm30 11zm0-11zm3 7zm4-3zm2 4zm3-4zm4 0zm0 6zm11-1zm2-5zm2 6zm6-2zm7-5zm9 0zm4 4zm12-7zm5 5zm4 0zm17 6zm12-10zm7 1zm9 7zm26-8zm3-1zm9 2zm8 1zm12 1zm10-1zm17 4zm53 12zm-2-5zm-13 2zm-13 5zm-1-8zm-18-1zm-13 2zm-15 2zm-19 0zm-6-2zm-2 4zm-2-6zm-3 3zm-19 0zm-18-3zm-7 5zm-6-4zm-5 9zm-25-7zm-14 2zm-4-3zm-1 3zm-7 4zm-9-2zm-2 0zm-9 2zm-1-8zm-3 3zm-1-2zm-1 5zm0-1zm-3-5zm-10 1zm-5 2zm-2 3zm-7 1zm-2-3zm-12-1zm-3 1zm-1 2zm0-7zm-4 3zm-5 7zm-11-5zm-8 4zm-1 2zm-5-3zm-11 0zm-12-8zm-4 8zm-6 2zm-8 0zm-4-1zm-4 1zm-10-4zm0-3zm-2-1zm-3 9zm-3-1zm-1-9zm-1 2zm-2 3zm-2-2zm-11-4zm-4 5zm-2 0zm-2-2zm-3 1zm-2-4zm-10 11zm-1-3zm-3 0zm-3 1zm-3-1zm-4-7zm-1 3zm-6 7zm-3-10zm-2 8zm-3-6zm-4 6zm-9-4zm-16 3zm-10 0zm-7-8zm-3 1zm0 10zm-5-2zm-4-5zm0 6zm-5-3zm-7 4zm-7-7zm-2-1zm-15-2zm-3 10zm-21-10zm-5 5zm0 17zm1-8zm18-3zm13 2zm2 9zm3-5zm0-3zm2-1zm6 6zm1 2zm0-8zm1 6zm13-2zm5 5zm20-8zm1 4zm1 3zm3-5zm4 1zm29-6zm5 8zm25-6zm9 2zm11 4zm6 0zm9-5zm9-3zm7 11zm3-6zm2 4zm5 1zm5-9zm4-1zm4 0zm5 8zm3-1zm2-6zm7 2zm15 4zm3-3zm2 0zm2 3zm0-7zm14 8zm2-7zm2 0zm3 5zm3-6zm0 8zm4-6zm1-2zm0 8zm4-3zm1-4zm2 0zm7 1zm8 8zm2-8zm2-1zm10 5zm6-6zm4 2zm1 5zm4 4zm24-5zm3 0zm16 2zm22-3zm2 5zm1 1zm8-4zm3-5zm3 2zm21 6zm25-1zm1-9zm2 8zm7-6zm10 4zm12 2zm23-3zm3 2zm4 2zm5 0zm5 2zm9-9zm8-2zm58 20zm-8-6zm0 4zm-5 2zm-2-3zm-5-4zm-2 4zm-7 0zm-2 3zm-23 3zm-6-8zm-2-3zm-24 8zm-19-4zm-1-4zm-2 1zm-11 7zm-4-5zm-11 5zm-16 0zm-4 1zm-1-3zm-2 1zm-3-7zm-1 6zm-7-1zm-3-1zm-9 3zm-2-5zm-8 2zm-1-2zm-5 9zm0-11zm-3 4zm-10 1zm-1 6zm-9-11zm-3 9zm-13 2zm-2-4zm-4 3zm0-4zm-2-6zm-6 0zm-1 7zm-11 0zm-3 0zm-1-7zm-7 11zm-16-1zm-1-2zm-5-1zm-3 2zm-1-8zm-6 2zm-1 6zm0-9zm-3 9zm0-4zm-8 1zm-3-1zm-4-1zm-37-1zm-2-2zm-4 6zm-3 2zm-1 1zm-1-8zm-2 8zm-2-3zm-3 4zm-2-8zm-4 8zm-10 0zm-3-2zm-2-9zm-9 1zm-3 3zm-1 6zm-1-4zm-10 0zm-9-2zm-4-1zm-6 0zm-5 8zm-3-3zm-8 0zm-3-7zm-3 3zm-6 5zm-3-9zm-3 10zm-1-8zm-3-1zm-3 5zm-1 3zm0-5zm-2 6zm-16 1zm-3 0zm-10-4zm-21-3zm-23 7zm-1-5zm-1 2zm-2 2zm-4-2zm-8-4zm0 4zm-2 1zm-13 2zm-11-2zm-25-2zm21 9zm0-3zm14 2zm11 5zm10-1zm14 1zm9-5zm9 3zm5 4zm3-6zm5 0zm2-4zm1 5zm11-3zm2-1zm1 7zm2 2zm3-4zm13 5zm10-11zm5 2zm4 6zm0 3zm3-6zm0 6zm5-10zm1 10zm10-10zm2 0zm1 3zm1 2zm8 0zm6-3zm6 0zm5 6zm14 0zm3 0zm3 2zm2-4zm1-3zm9-2zm1 6zm16-6zm1 7zm11-7zm5 4zm1 3zm8-6zm11 5zm1 3zm1-9zm13 9zm2-5zm5 5zm5-1zm6-8zm2 5zm4-2zm2 2zm12-1zm4 0zm11-5zm6-1zm2 2zm4 5zm6 3zm6-10zm4 5zm18 3zm10 1zm20 2zm3-5zm9 2zm2-6zm2-2zm0 4zm8 3zm10-4zm3 0zm3-1zm5-2zm2 7zm0-4zm8 2zm9-5zm28 0zm11 6zm29-1zm16 0zm10-3zm8 9zm22-7zm11 14zm-1-3zm-3-2zm-13 4zm-27 6zm-12-11zm-14 6zm-5 5zm-5-10zm-5-1zm-15 11zm-9-4zm-8 2zm-12 2zm-1-4zm-1-3zm-12 3zm-8-4zm-4 8zm-18-3zm-3-3zm-5 1zm-3-2zm-12-4zm-2 7zm-8 0zm-7 1zm0-6zm-16 8zm0-7zm-2 6zm-3-7zm-3 3zm0-3zm-4 8zm-13-2zm-1 3zm-8-10zm-10 7zm-6-6zm-1 9zm-7 0zm-10-9zm-3 3zm-16 4zm-9-7zm-5 8zm-8-4zm-7 5zm-1-11zm-2 0zm-4 10zm-2-2zm-2-6zm-1 7zm-4-7zm-3 6zm-12 3zm-2-4zm-1-2zm0-3zm-7 0zm-1 9zm-5-4zm-4-6zm-6 7zm-2-8zm-1 10zm-3-1zm-1-5zm-1 2zm-1-6zm-8 8zm-4-2zm-3-2zm0-4zm-2 5zm-1-3zm-5-2zm-4 10zm-10-9zm-4 7zm-3-8zm-2 6zm-1-6zm-1 7zm-1-6zm-4 0zm-6-1zm-9 6zm-5 4zm-2 0zm-9-9zm-2 0zm-3 2zm-4 2zm-1-3zm-1 5zm-1 3zm-14-2zm-3-1zm-1 2zm-3 1zm-4-5zm-2-2zm-4 8zm-4-6zm-8 5zm-2-7zm-2 8zm-10-5zm-11 3zm-4-1zm-14-1zm-7-5zm-7-2zm-3 9zm-8-4zm-2 2zm22 15zm8-4zm7-5zm1 9zm6-8zm13 1zm1 3zm1-2zm3-3zm26 3zm8-3zm2 3zm6 7zm0-5zm7-1zm6 2zm9-1zm3-2zm6-3zm3 4zm3 1zm8 0zm4-5zm1 2zm8 8zm6-10zm1 5zm2 1zm6 2zm0-7zm2 6zm2-8zm1 3zm5 2zm2-4zm6 6zm6-2zm2 4zm8 1zm7-6zm2 5zm3-5zm12 5zm1-9zm12 10zm5-5zm3-4zm5 7zm3-8zm7 10zm0-7zm13-2zm2 8zm6-2zm2 4zm5 0zm1-11zm3 0zm8 4zm2 7zm7 0zm0-6zm2 5zm4 0zm2-1zm2-2zm5-6zm5 3zm3-4zm3 0zm3 11zm5-9zm7-2zm16 6zm15 1zm9-7zm2 1zm4 2zm3 6zm4-8zm9-1zm24 8zm6-3zm20 1zm8-4zm13 4zm3 0zm5-6zm9 5zm7-1zm4-4zm20 1zm4 1zm23 4zm6 4zm24-2zm2-6zm10 1zm6 4zm16-2zm1 7zm-15 0zm-17 11zm-20-1zm-9-5zm-4 5zm-19-9zm-7 6zm-14-5zm-2 3zm-5 3zm-9-2zm0-5zm-15 7zm-4-1zm-3-6zm-9 6zm-1-3zm-8 4zm-6-2zm0 2zm-5-6zm-3 2zm-5-1zm-3 5zm0-2zm-3 4zm-1-3zm0-3zm-3-2zm-6-1zm-4 6zm-3-5zm0 8zm-8-1zm-14 0zm-7 0zm-1-4zm-7-2zm-4 4zm-9-3zm-4-4zm-2 8zm-2-8zm-2 6zm-2 5zm-1-7zm-4 3zm-4-4zm-4-2zm-4 8zm-9-6zm-2-1zm-6-2zm-25 9zm-3-7zm0 9zm-2-4zm-14 3zm-7-1zm-5-9zm-2 8zm-2-2zm-9 5zm-7-7zm-1 6zm-3-2zm-3-1zm-3 1zm-5-5zm-5-2zm-1 7zm-4-2zm-8-2zm-6-1zm-1 8zm-1-2zm-4-2zm-6-3zm-3 7zm-2-8zm-4 4zm-7-1zm-2 2zm-2-1zm-4-1zm-5-5zm0 8zm-2-2zm0-5zm-2 1zm-3 5zm-5 0zm-17-6zm-10 3zm-8 4zm-2-2zm-4-7zm-19 0zm-12 2zm-7 9zm-1-4zm0-3zm-5 2zm-5-5zm-7 8zm-1-6zm-8 8zm-2-10zm-2 3zm-1 3zm-2-6zm-3 2zm-1 4zm-9-6zm-16 1zm-1-1zm-5 7zm-8 1zm2 7zm14-4zm5 11zm13-11zm4 3zm1 4zm3-1zm2-5zm3 6zm0-4zm3 1zm0 3zm2 0zm10 1zm5 1zm4-9zm9 11zm16-2zm6 1zm5-7zm1 4zm6-5zm4 7zm3-2zm0-3zm5 4zm17 0zm12-8zm5 7zm5 4zm2-7zm4 5zm3-4zm6 4zm2-6zm2 6zm3-6zm3 4zm9-4zm1 3zm6-1zm2 4zm2-5zm3 5zm0-8zm13 7zm5-8zm3 6zm1 2zm8 2zm14-6zm12 2zm1-2zm5 6zm10-3zm14-3zm1 3zm0 2zm2-6zm4-1zm13 7zm9-2zm3-2zm10-5zm1 11zm8-7zm5-3zm1 3zm1 7zm1-3zm6 3zm9-3zm4-7zm6 3zm14 7zm3-2zm14-1zm4 1zm0-3zm1-5zm15 1zm11 6zm2-8zm11 4zm3 6zm10 1zm19-11zm2 7zm11 1zm7-6zm18 7zm13-5zm8 5zm13-8zm16 6zm15-6zm0 2zm1 13zm-63-2zm-25 9zm-8-11zm-6 0zm-12 0zm-1 5zm-25 4zm-16-2zm-2-4zm-1-2zm-2 7zm-4-5zm-2 2zm-3 2zm-2-2zm-3-3zm-2-2zm-4 1zm-2 3zm-3-4zm-1 7zm-1 3zm-3-10zm-1 3zm0 3zm-19-2zm-5-1zm-13 0zm-6 7zm-9 0zm-12-10zm-2 5zm-1 2zm0-4zm-6 3zm-2 4zm-4-4zm-1 5zm-6-6zm-3-3zm-3 5zm-4 4zm-3-11zm-1 11zm-5-2zm-4-8zm-5 8zm0-3zm-5 2zm0-4zm-15 1zm-4 3zm-2 2zm-1-10zm-4 5zm-1 6zm-2-9zm-1-2zm0 6zm-1-3zm0 6zm-7-8zm-8 7zm-6-8zm-8 9zm0-6zm-6 0zm-7 5zm-1-3zm-17-2zm-1-1zm-1 6zm-4-6zm-14 0zm-2 8zm-4 0zm-7-7zm-2-2zm-15 7zm0-3zm-11-1zm-1 4zm-1-2zm-2-3zm-9-3zm-2 7zm-6-6zm-2 8zm-2 1zm-7-6zm-2 2zm-7-3zm-6 3zm-6 4zm-1-5zm0-4zm-14 4zm-8-3zm0 7zm-3 0zm-1-7zm-17 5zm-7-6zm-4 3zm-6-3zm-1 7zm-8-6zm12 10zm10 2zm3 8zm0-3zm3 0zm1 3zm2-8zm10-1zm14 4zm2-1zm1 7zm1-10zm1 7zm0-2zm2 2zm0 2zm5-8zm2-2zm4 4zm3-1zm4-2zm5 6zm15 3zm4-6zm1 5zm1-4zm9-2zm1 8zm1-7zm1 2zm24-5zm7 8zm1 2zm1-3zm1-4zm2 6zm9-9zm4 10zm1-10zm1 6zm5 4zm0-7zm1 4zm5-8zm4 7zm3 1zm19-6zm0 8zm7-8zm4-1zm6 3zm2 0zm5 0zm0-4zm2 11zm2-9zm5 8zm3-4zm6-1zm1 1zm11 3zm5-5zm12 5zm4-5zm4-1zm11-2zm3 7zm6 3zm2-5zm0 2zm11 0zm7 3zm0-9zm4-1zm0 8zm5 1zm10-3zm3-2zm0-5zm3 8zm0-3zm3-2zm6 4zm4-1zm2-4zm3-1zm2 5zm1-4zm0 7zm8-9zm1 11zm10-4zm3 2zm13-3zm1-4zm11-2zm2 3zm5 3zm1-6zm10 1zm11 6zm12 1zm9 1zm19-4zm4 6zm35-1zm15-10zm2 9zm3-9zm7 3zm15 15zm-33 1zm-25 2zm-7-6zm-6 7zm-9-1zm-6-3zm-6-1zm-26-5zm-2 1zm-4 0zm-1 8zm-2 0zm-20-8zm-18 7zm-2 0zm-3-2zm-7 3zm-21-4zm0 4zm-4-8zm-5 9zm0-5zm-4 5zm-6-1zm-2-4zm-2 1zm-5 2zm-3-5zm-8 1zm-1-3zm-1 5zm-1 5zm-15 0zm-4 0zm-4-1zm-9-1zm-4-4zm0 5zm-4-6zm-1-2zm-10 3zm-4 1zm-8 3zm-12-7zm-3-2zm-3 11zm-3-11zm-4 8zm-15-1zm-3-3zm-4-4zm0 3zm-3 3zm-1 4zm0-7zm-8 1zm0-4zm-3 7zm-8 2zm-8 2zm-2-5zm-4-2zm-7 0zm-5-4zm-9 10zm-12-5zm-1 1zm-2-5zm-7 6zm-1-7zm-7 0zm-4 6zm-1-4zm-6 3zm-10 1zm-1-3zm-2 8zm-5-11zm-9 10zm-2-10zm-5 4zm-4-3zm-8 9zm-1-4zm-5-3zm-15 3zm-1-4zm-3 4zm-6 3zm0-4zm-3 1zm-3 2zm-10 2zm-1-3zm-11 1zm14 9zm4-1zm2 4zm5 0zm0-4zm3 2zm3 3zm12 1zm10-10zm18 4zm7 1zm2-2zm1-2zm3 6zm2-4zm4 0zm8 4zm1 2zm7-9zm6 7zm6 2zm2-2zm1-6zm4 4zm7-3zm3-1zm6 3zm2 2zm0 2zm1-6zm3 1zm6 6zm0-3zm11 2zm5-7zm5 0zm3 1zm2 5zm1-3zm15 2zm0-6zm7 1zm4 10zm7-11zm22 9zm1-6zm3 5zm11-3zm1-2zm20-2zm10 3zm2 0zm11 5zm3-7zm10 2zm6 4zm3 2zm3-4zm7 2zm2-4zm1-4zm5 3zm1-3zm2 2zm6 4zm8-6zm4 3zm8-1zm14-2zm16 7zm11-6zm6 7zm5-7zm5 6zm11 4zm9-2zm10-1zm7-3zm14-3zm4 9zm23 0zm13-8zm2 3zm8-5zm4 9zm0 5zm-8 3zm-11-2zm-6 7zm-12-8zm-9 3zm-20-4zm-9 1zm-11-1zm-20 1zm-8 0zm-3 8zm-6-11zm-2 1zm-12 7zm-2-1zm-10-6zm-4 6zm0 4zm-1-6zm-2 4zm-6-4zm-1-5zm-6 1zm-2 6zm-1-2zm-3 4zm-22-2zm-2-4zm-1 5zm-6-7zm-3 5zm-7 3zm-26-4zm-3 5zm-1-8zm-2-2zm-3 7zm-2-7zm-5 7zm-2-1zm0-3zm-4-3zm-1 4zm-4 5zm-2-3zm-1-4zm-1 9zm-3-3zm-5-6zm-9 2zm0-3zm-6 3zm-6 1zm-1-3zm-9 6zm-2-2zm-1-3zm-10 0zm-1 3zm-4 1zm-5-5zm-6 6zm-6-1zm-4 4zm-4-11zm-12 8zm-1-7zm-1 2zm0 6zm-4-2zm-1-5zm-1-1zm-2 1zm-2 5zm-2-3zm-5 3zm-10-6zm-5 4zm-2-3zm-1 2zm0 3zm-14-4zm-4 5zm-1-6zm-14-2zm-6 11zm-11-7zm0-3zm-2 0zm-13 1zm-2 5zm-3 3zm-2-10zm-1 9zm-4-5zm-11 6zm-2-1zm-9-4zm0-4zm-9 0zm10 14zm4 7zm10-2zm8 2zm2-6zm1 7zm1-11zm2 10zm1-10zm2 6zm2 0zm10-4zm1-2zm4 11zm1-4zm4-2zm5 1zm3-1zm0 3zm2-6zm7 7zm1-3zm2-2zm3-3zm9 9zm4-3zm4-2zm2-3zm1 2zm2 4zm0-5zm12 8zm8-3zm5-4zm0 6zm1-3zm12-3zm2 4zm12-7zm4 1zm4-1zm6 10zm7-6zm12 2zm6-2zm3 1zm3-6zm9 7zm0-4zm4 5zm1-6zm3-1zm1 10zm9 0zm7-5zm2 2zm4 1zm1 2zm1-8zm6 6zm3-6zm2-3zm3 0zm4 3zm7-1zm2-2zm6 1zm5 8zm8-5zm18-1zm2-3zm10 5zm5 0zm3 3zm11-2zm3 3zm5-5zm8 3zm4-1zm4-4zm3 8zm6-7zm27 4zm20-4zm6 4zm3 0zm2 4zm17-1zm2-1zm2-9zm1 10zm6-4zm16-5zm1 2zm3-3zm28 2zm-17 13zm-2 1zm-8 4zm-9-7zm-9 1zm-7 4zm-6-6zm-4 5zm-10-5zm-10 9zm0-6zm-5 1zm-16-4zm-7 9zm-11-1zm-9-6zm-4 9zm-15-11zm-26 10zm-3-3zm-2-4zm-2 2zm-6 6zm-3-6zm-3-1zm-2 4zm-2-2zm-2-6zm-2 4zm-7 5zm0-8zm-2 10zm-3-9zm-3 8zm-7 1zm0-11zm-6 0zm-6 8zm-1-8zm-6 4zm-3-4zm-3 10zm-1-10zm-1 7zm-10 3zm-5-9zm-7 9zm-7-9zm-2 3zm-3 1zm-4 2zm-1 2zm-2-5zm-9 1zm-13-4zm-4 10zm-12-4zm-4 4zm-9-5zm-2 5zm-6-8zm-6 6zm-1 2zm-9-11zm-2 3zm-6 2zm-6-3zm-3 0zm-1 4zm-7 0zm0-4zm-6 3zm-1 4zm-19-9zm-1 7zm-11-5zm-11 3zm-6-4zm-4 3zm-4 3zm-3 0zm-3-7zm-13 5zm-1 4zm-9 0zm7 6zm3 7zm5-2zm13 0zm8 1zm1-4zm2-2zm3 1zm2 2zm10-4zm7 5zm1-7zm2 7zm7 0zm3 0zm5 4zm2-2zm5 2zm3-8zm11 4zm2-2zm3 5zm2-5zm2 6zm3-1zm2-7zm2-2zm1 4zm4-1zm0 7zm5-9zm0 2zm7 7zm0-11zm2 6zm6 1zm10-5zm4 6zm0 2zm5 1zm9-9zm10 1zm2 8zm6-3zm11-6zm3-2zm3 7zm5-2zm4 0zm4 4zm3 2zm2-9zm2 6zm4-7zm4 2zm8 3zm15 3zm0 2zm1-11zm7 5zm2 6zm6-1zm4-6zm10-2zm10 8zm1-4zm2 4zm5-9zm15 5zm13-6zm6 6zm1-6zm1 10zm3-2zm10-8zm40 1zm6 6zm3-2zm3-1zm39 3zm7-5zm6 5zm-44 6zm-7-1zm-14 1zm-3-1zm-5 11zm-2-5zm-8 0zm-11 5zm-4-2zm-3-4zm-17 3zm-4 0zm-7-5zm-8-3zm-11 1zm-1 6zm-2-7zm0 5zm-9-3zm-3-1zm-8 7zm-6-3zm0 2zm-1-7zm-8 7zm-2-3zm-4 4zm-5-8zm-2 7zm-7-2zm0 5zm-1-3zm-4 3zm-7 1zm-8-4zm-12-3zm-12 0zm-9 7zm-3-2zm-1-5zm-7 6zm-2-8zm-4 7zm-5-3zm-2-5zm-1 10zm-7-7zm-2 1zm-5 1zm-4 0zm-5 2zm-1-6zm-4 8zm-11-8zm-8 1zm-12 8zm-2-3zm-5-6zm-5-2zm-4 0zm-7 3zm-5 6zm-3-3zm0 2zm-14-7zm-6 0zm-6 9zm-7-2zm-7 3zm-3-5zm-14 5zm-5-10zm-13 3zm10 14zm11 0zm7-1zm1 5zm1-10zm2 9zm4-4zm5 3zm15-2zm3 3zm5 1zm6-9zm0 6zm2 2zm3-9zm0 9zm24-7zm4 5zm4 3zm8 1zm2-6zm14 2zm0-5zm7 9zm3-2zm3 1zm6-3zm19-4zm1 5zm5-1zm1 3zm6-6zm17 7zm2-1zm6-4zm3-5zm8 7zm2-8zm6 11zm6-8zm6 4zm7-3zm1 4zm3-8zm4 1zm6 7zm0-3zm4 2zm2 0zm4-3zm2 0zm10 2zm5-1zm2 2zm8-6zm12 1zm1 9zm8-10zm0 9zm7-1zm17-1zm14 2zm28-4zm6 4zm12-9zm7 2zm6-3zm-32 14zm-6 5zm-1 2zm-1 2zm-7-10zm-28 5zm-2-4zm-9 9zm-2-11zm-6 0zm-9 0zm-2 2zm-51 5zm-2-5zm-7 5zm-10 2zm-4-2zm-5 2zm0-5zm-1-4zm-4 3zm-11-3zm-9 5zm-4 0zm-7 1zm-2 4zm-2-6zm-4 6zm-18-4zm-2-1zm0-4zm-11-1zm-1 10zm-3-1zm-2-7zm-9 5zm-4-6zm0 5zm-3 0zm-17 5zm-2-8zm-1 2zm-8-1zm-8-4zm-3 6zm-1-3zm-3 5zm-2-5zm-4 7zm-3-8zm-10 4zm-36 2zm-2-8zm-10 11zm5 6zm2 2zm0 4zm4-5zm7 4zm6-7zm5 6zm5-1zm2 3zm3-8zm2 4zm3 4zm0-2zm6-9zm1 5zm2 1zm4 1zm8 1zm6-5zm5-2zm9 3zm3 2zm5-1zm13 0zm4 1zm6-5zm10-1zm8 11zm4 0zm3-2zm7-8zm0 5zm5 4zm4-4zm1-4zm7 6zm16-4zm5-3zm5 2zm2 1zm5 1zm6 1zm6 2zm3-6zm3 0zm6 9zm6-2zm11-5zm9 6zm7-2zm3-3zm7-1zm2 4zm20-1zm2 0zm7 4zm11 0zm4 0zm3-10zm7 2zm2-1zm0 8zm5-8zm17 7zm11 1zm-36 3zm-18 0zm-12-1zm-5 2zm-5 0zm-6 2zm-4 2zm-4 1zm-12-5zm-1 5zm-3-4zm-1 8zm-14-11zm-6 5zm-11-2zm-2-1zm-4 0zm-12 5zm-2 3zm-4-5zm-4-3zm-7 0zm-9 2zm-17 1zm-2 3zm0 3zm-7-11zm-11 11zm-29-11zm-4 5zm-4 0zm-4-1zm-1 2zm-7 5zm-1-8zm-2 4zm-7-5zm-3 8zm-2-10zm-2 8zm-2-6zm-12 2zm-7 5zm-1-7zm-19 2zm-9-4zm-1 11zm23 5zm10-4zm11 3zm1 5zm6 1zm4-4zm16 5zm3-10zm2 0zm4 0zm3 10zm9-2zm4-6zm1-2zm10 8zm2-2zm5-1zm3-3zm10 9zm21-7zm7 3zm2-5zm7 0zm29 0zm0 4zm6 4zm12 1zm2-8zm1 6zm6-5zm4 4zm5-3zm20 2zm3 3zm11-7zm2 14zm-2 4zm-1-8zm-10 4zm-4-2zm-23 5zm-3-4zm-3 5zm-9 2zm-11-11zm-15 1zm0 4zm-9 6zm-15-2zm-1 2zm-4-3zm-1 3zm-7-6zm-8-2zm-4 8zm0-10zm-8 4zm-4-3zm-10 3zm0 4zm-4-4zm-5-2zm-1 3zm-9 3zm-1-7zm-4 7zm-2-5zm-12 4zm-10-7zm-7 4zm-15-2zm-19-3zm31 19zm5 3zm20-5zm14 4zm15-8zm4 7zm5 1zm6-6zm19 3zm10-5zm1 9zm11-8zm7 2zm8-4zm4 0zm1 10zm4-10zm8 8zm6-2zm3 3zm12-8zm9 8zm9-2zm0-5zm8 3zm4 2zm4 2zm10-8zm-11 13zm-24 0zm-1 4zm-2 1zm-2-6zm-16 6zm-10 1zm-8-2zm-1-4zm-12 0zm-5 5zm-28-3zm-10 2zm-13 0zm-20 4zm-5 0zm-27-7zm27 19zm2-9zm39 2zm15 0zm4 7zm3 0zm6-4zm4-5zm3 7zm6-6zm4 9zm2-6zm110-4zm-119 13zm-17 7zm-11-2zm-3-3z" stroke="#ff0a12" stroke-width="3.50" stroke-linecap="round" fill="none" stroke-opacity="0.85"/>
<path transform="scale(0.5)" d="M2547 2301zm-30 14zm27 0zm7-11zm7 0zm8 8zm9-8zm-1 22zm-21-4zm-22 4zm-5-1zm-2-6zm-3 7zm-5-7zm-9 0zm-10 5zm0 3zm-8-1zm-6-1zm-12-2zm-8 16zm15 0zm7-6zm7 3zm3-4zm7-2zm7 1zm17 0zm22 7zm7-9zm1 3zm1-4zm2 8zm11 1zm1-4zm-6 11zm-9-1zm-8-2zm-1 5zm-10 2zm-3-7zm-6 6zm-4 0zm-1-6zm-6 3zm-5 1zm-2 3zm-4 2zm-2-4zm-9 5zm-2-11zm-10 8zm-2 3zm-9-7zm-3 7zm-15-1zm-4-9zm-34 15zm30-1zm1 4zm2-3zm2-2zm3 6zm0 3zm6-6zm2-4zm1 5zm5-3zm8-2zm8 3zm0 5zm8 2zm0-7zm5 4zm3-1zm15 1zm13 0zm2-5zm0 7zm9-9zm1 3zm4 0zm3-1zm1 7zm3-2zm2-7zm1 10zm3-11zm3 15zm-7 4zm-7 1zm-11-4zm-4-3zm-1 3zm-4 2zm-2-1zm0-3zm-6 2zm-16-4zm-3 4zm-5 0zm-2 3zm-10-5zm0 8zm-9 0zm-9-6zm-14-3zm-4 9zm-20-8zm-3 4zm-1-4zm-7 6zm-6 3zm-4-2zm-4-9zm-5 5zm3 8zm14 2zm12 2zm2 2zm9-7zm3 6zm2-3zm4 5zm5-7zm4 3zm3 5zm11-2zm24-7zm4 9zm5 2zm0-8zm1-2zm13 3zm7 4zm14-3zm7 6zm5-4zm4-5zm2 0zm2 3zm4 10zm-5 3zm-7-2zm-10-3zm-1 5zm-2-5zm-8 10zm-1-5zm-1 3zm-15-1zm-17 1zm-10-9zm-4 1zm-3 8zm-5-1zm-8 3zm-7-10zm-3-1zm-8 6zm-14-2zm-3 2zm-9-2zm-6 7zm-3-5zm-5-6zm-5 3zm-10 6zm-16 1zm-2 5zm7 8zm8-5zm3-4zm2 2zm1 3zm15-2zm1 4zm2-7zm2 5zm6-7zm3 6zm4-5zm3 7zm8-4zm3 1zm1-5zm13 8zm4-8zm3 2zm3 5zm1 3zm17-8zm4 1zm1 8zm1-10zm13 8zm3-9zm3 9zm5-7zm3 7zm6-5zm1 6zm15-3zm4 3zm3-3zm10 2zm11 5zm-4 1zm-2 4zm-8 1zm-5 3zm-5-9zm-16 9zm0-4zm-4 4zm-2-7zm-8-3zm-11 10zm-4-11zm-2 6zm-1-5zm-4 6zm-3 1zm-10-8zm-5 3zm0 2zm-6 6zm-9-6zm-6-3zm-9 7zm-4-3zm-3-5zm-2 8zm-4 2zm-9 0zm-3-7zm-8 1zm-9-1zm-3 4zm-1-3zm-4 0zm-6 0zm-1 5zm-3-8zm-7 1zm-7 9zm3 9zm2-2zm6 0zm5-4zm9 7zm5 0zm14-6zm0 5zm8-5zm6 0zm5 4zm3-2zm14 5zm2-8zm2 7zm2-2zm6-6zm14 7zm5-2zm18-3zm2 3zm5 2zm4-2zm3 4zm1-8zm3 0zm8 0zm10 5zm1-7zm2 6zm2 4zm0-9zm3-2zm5 5zm1 4zm2-2zm8-1zm8-5zm1 3zm1-4zm14 6zm3-6zm10 7zm25 14zm-11 2zm-14-1zm-4-1zm-1-6zm-2 8zm-4-5zm-1-5zm0 10zm-4 0zm-4-11zm-8 2zm-3-2zm-7 6zm-4-2zm-1 7zm-1-11zm-6 5zm-4 5zm-7-7zm-5 8zm-1-5zm-3 3zm-3 0zm-3-7zm-2 9zm-1-3zm-4 0zm-2 1zm-6 1zm-10-8zm-13 7zm-6-2zm-3 0zm-3-2zm-4 6zm-1-7zm-1 6zm0-9zm-3 6zm-6 3zm-4 0zm-2-4zm-2 2zm-1-8zm0 6zm-4 3zm-3-5zm-4 5zm-1-8zm-1 4zm-5-1zm-1-4zm0 6zm-1-3zm-3 5zm-12-5zm-3 0zm-5 8zm-5-11zm0 5zm-12 0zm-5-3zm-16 6zm-9-2zm-3 0zm4 12zm1 5zm1-10zm4 9zm3-4zm3-1zm7 3zm15-7zm8 2zm2 7zm1-8zm1 4zm4 2zm1-3zm4-2zm1-3zm4 9zm4-9zm1 11zm5-11zm5 10zm7-9zm1 5zm2 4zm3 1zm0-5zm4 4zm3-7zm6 0zm1 5zm11-8zm0 3zm2 3zm3-2zm5 3zm4-6zm0 3zm1 6zm3-1zm3-6zm4 1zm0-3zm5 4zm1 5zm1-4zm1-2zm1 4zm2 1zm3 1zm0-8zm3 6zm3-5zm5 0zm2 2zm2-1zm5 5zm2 1zm4 1zm0-7zm3 2zm2 1zm2-6zm3 8zm4-3zm2-3zm10 1zm3 2zm2 4zm1-5zm1 2zm3 3zm0-5zm7-2zm3 7zm3-5zm2 1zm8-1zm3-3zm0 8zm3-10zm2 6zm2-1zm5 2zm2 3zm14-5zm39 18zm-23-1zm-6 0zm-10-8zm-2 5zm-3 4zm0-3zm-1-5zm-2 6zm-7-7zm-4 0zm-1 5zm-3 0zm-2-2zm-2-2zm-1 7zm-2-5zm-1 5zm-4-8zm-3 4zm-3-6zm0 4zm-7-4zm-10 1zm-1 6zm-1 3zm-2-4zm0 4zm-1-10zm-4 11zm0-8zm-3 8zm0-7zm0-3zm-3 1zm-1 4zm-1 4zm-3 1zm-1-8zm-4 4zm-2 1zm-1-8zm-2 1zm-2 7zm-4-4zm0 6zm-5-7zm-2 6zm-2-3zm-4-2zm0 6zm-3-3zm-4 2zm-6 0zm-6-4zm-4-1zm-3-2zm-4 6zm-2-5zm-3-3zm-3 9zm-2-9zm-4 11zm-2-4zm-1-3zm-8-2zm-3 4zm0-4zm-8 4zm-3 1zm-7-2zm-1 5zm-2 0zm0-8zm-3 7zm-2 2zm-2-10zm-2 6zm-4 3zm0-5zm-7 2zm0 4zm-4-1zm-1-10zm-2 6zm0 4zm-8-6zm-5 0zm-4-4zm-4 5zm-4-5zm-3 6zm-1 5zm-2-2zm-1-6zm-3 7zm-1-8zm-1-2zm-5 10zm-3 1zm-6-1zm-5-4zm-3-6zm-5 10zm-2 13zm5 0zm2-3zm1-6zm1 8zm4-7zm8 6zm4 2zm0-10zm4 4zm4 2zm0 3zm5-5zm3 4zm0-5zm4 5zm5-6zm3-2zm4 5zm3-4zm4-2zm3 1zm3 1zm5 3zm0 4zm3-2zm4 4zm1-9zm1 6zm2-2zm1-3zm4 4zm7-4zm3 0zm0 7zm8-8zm2-2zm2 5zm0-2zm4 6zm0-6zm2 1zm1-4zm3 1zm3 1zm3 3zm3 2zm1-7zm2 7zm3-1zm3 4zm7-2zm1-5zm2-2zm1 8zm0 2zm4-2zm3-3zm0-5zm6 6zm1 3zm3-9zm0 3zm4-2zm0 3zm2 3zm2-2zm1 5zm1-8zm2 4zm3 4zm3-8zm1 2zm2-5zm2 4zm2 4zm5-7zm0 10zm1-6zm2 4zm1-4zm2 2zm2-4zm2 6zm4-7zm2 2zm9 6zm0-6zm1 4zm1 1zm1-4zm0-4zm2 2zm5 1zm3-4zm7 11zm2-10zm1 8zm10 2zm3-10zm7 9zm2-5zm1-5zm2 6zm6-3zm1 2zm3 2zm0 3zm3-9zm5 9zm1-3zm1 3zm3 1zm1-4zm5 3zm3-4zm1 4zm2-10zm18 6zm4 2zm10 2zm9 12zm-6-6zm-6 1zm-6-3zm-2 1zm-2 5zm-3 1zm-2-8zm-3 8zm-3-1zm-11-6zm-1 3zm-5 4zm-5-8zm-2 3zm-3 1zm0 5zm-3-10zm-1 8zm-1-4zm-3 5zm-1-4zm-4-1zm-5 3zm-3-5zm-1 7zm0-3zm-5 3zm0-4zm-2-5zm-3 11zm-1-8zm-5 3zm-4 3zm0-8zm-2 6zm-7-6zm-4 0zm0 4zm-3-5zm0 2zm-2-2zm-2 8zm-2-1zm0-3zm-1 7zm-4-8zm-1 4zm-3-3zm-6 6zm-3-10zm0 2zm-2 0zm-3 6zm-4-5zm-3-1zm-4 5zm-1-7zm-2 6zm0 4zm-4-3zm-4-4zm0 7zm0-4zm-4-1zm-1 5zm-3-6zm-1 4zm-3-2zm-4-5zm-1 9zm-3 1zm-2-7zm-4 6zm-2-2zm-1-4zm-1 5zm-3-1zm0-4zm0 6zm-1-10zm-3 4zm-2-2zm-2 8zm0-3zm-1-6zm-1 4zm-3 6zm-5-6zm-1 6zm0-8zm-2 2zm-2-3zm-1 5zm-2-6zm-5 6zm-3-4zm-2 6zm-4-7zm0 4zm-3-2zm-2 4zm-2-7zm-5 9zm-4-7zm-1 5zm-5-5zm-2 8zm-4-9zm-2 2zm0 5zm-6-2zm0-6zm-1 9zm-1-2zm-5-6zm-1 8zm-1-9zm-2 5zm-1-6zm0 3zm-4 1zm-2 2zm-4-3zm-2 4zm-4-7zm-1 10zm-1-4zm-2-5zm-3 7zm-1-3zm-5-5zm-4 2zm-2 2zm-2-2zm-3 2zm-6-4zm-1 11zm-8-4zm-13 0zm8 10zm5-2zm4 8zm1-4zm4-5zm3 0zm1 9zm2-4zm3 0zm3 0zm3 2zm8 1zm2-10zm2 8zm8 0zm0-2zm3-4zm2 4zm3-1zm1-5zm1 3zm1 5zm4 2zm2-2zm3 0zm1-6zm2 8zm5-10zm3 2zm3 7zm2-3zm2-2zm3 3zm1 3zm0-6zm3-4zm1 8zm1-5zm2-1zm1 8zm1-5zm2 5zm0-4zm4-2zm1 5zm2-9zm2 6zm5-6zm5 9zm8 2zm0-4zm5-5zm2 9zm3-6zm0 3zm2-3zm2-3zm2-2zm1 8zm4 1zm2-7zm1-2zm1 8zm4-3zm0-4zm4 6zm4-2zm2-5zm4 9zm3-1zm2-8zm1 10zm0-7zm3 1zm2 4zm1-4zm3 4zm3-4zm1 2zm2 5zm3-10zm0 4zm2 4zm1-7zm1 4zm2-5zm1 10zm3-1zm0-3zm1-2zm1-5zm1 10zm4-3zm0-4zm3 7zm1-3zm4-1zm5-1zm1-3zm3 8zm1-3zm0-6zm2 4zm1-3zm0 6zm2-8zm3 9zm2-8zm2 8zm8-1zm0-3zm0-3zm4 2zm1 4zm2-7zm1 7zm1-3zm2 1zm1-3zm5-1zm7-2zm2 3zm0 5zm1 3zm3-5zm1-2zm2 2zm2-4zm2 1zm4 2zm1 5zm3-10zm0 9zm7-1zm3 2zm0-10zm3 5zm1-5zm1 3zm2 2zm1 3zm0-8zm0 3zm5-3zm2 7zm4 1zm6 0zm5-4zm2-4zm10 10zm4 0zm4-4zm4 5zm24 0zm9 7zm-8-1zm-11 3zm-1-8zm-1 11zm0-7zm-2 5zm-3-8zm-1 4zm-3 4zm-4 0zm-4-1zm-1-4zm0-4zm-4 2zm-3 0zm0 5zm-3 0zm-1-4zm-1-3zm-1 8zm-3 2zm-3-5zm-1 4zm0-9zm-4 10zm-1-10zm0 8zm0-3zm-2 4zm0-5zm-6 3zm0-4zm-2 8zm-1-2zm-8-4zm0 3zm-3-1zm0-4zm-2 8zm-1-8zm-2 4zm-1-6zm-1 8zm-4-7zm-1 6zm-5-2zm-2-3zm-4-3zm-4 2zm0 9zm-2-7zm-4-3zm-3-1zm-6 6zm-2-5zm-1 4zm0 5zm-2-10zm-1 8zm-4-3zm-1-5zm-2 11zm-3-7zm-3-4zm-3 6zm0-3zm-5 8zm0-9zm-3 9zm0-5zm-1-4zm-2-1zm0 5zm-1-3zm-1 8zm-4-7zm-6 4zm-6-7zm0 8zm-2-6zm0 3zm-2-5zm-3 3zm0 6zm-7-2zm-1 3zm-3-2zm0-6zm-2 8zm-1-5zm-2-4zm-1 9zm-2-5zm-1 3zm-5 1zm-1-8zm0 4zm-6-4zm-1 5zm-3-6zm-3-1zm-1 3zm-2 6zm-2-4zm-1-5zm-2 11zm-3-9zm-4 8zm0-6zm-2 2zm-1 4zm-3-8zm-2 9zm-3-8zm-1 4zm-4-5zm-1 4zm-3 4zm0-5zm-1-4zm-3 4zm0 6zm-4-10zm-1 7zm-3-6zm-1 7zm-3 1zm-4-1zm-5-2zm0-5zm-5 5zm0 3zm-2-9zm-2 8zm-4-1zm-5-2zm-1-5zm-1 10zm-2-2zm-1-2zm0-6zm-3 0zm0 7zm-4-8zm0 11zm-7-2zm-1-3zm-5-4zm-3 9zm-1-6zm-1-4zm-3 2zm-4 1zm-7 1zm-1 5zm-7 1zm-2-3zm-2 2zm0-10zm-5 6zm-3-1zm-8 6zm0-7zm-3 4zm0-6zm-3 4zm-2 3zm-5 1zm-21-4zm11 7zm2 7zm2 3zm2-11zm9 11zm2-5zm2-6zm1 3zm0 3zm5-2zm2 5zm6 1zm1-9zm2 8zm1-6zm5 1zm1 7zm11-4zm7-7zm8 6zm1 5zm4-10zm0 4zm5 4zm2-2zm4-3zm3 2zm3 0zm5 1zm1-5zm4 3zm0 6zm2-11zm5 11zm1-8zm2 7zm2-9zm1 3zm2-3zm2 6zm3-1zm2-6zm0 10zm2 1zm2-8zm1 4zm5 1zm0-5zm1 8zm6-11zm2 5zm2-1zm1 3zm1 2zm3-5zm4-2zm3-2zm1 4zm0 6zm3-8zm8 0zm5 3zm1 4zm0-6zm2 3zm1 4zm1-2zm0-7zm11 2zm3 1zm2 7zm2-7zm2 6zm1-4zm4-1zm1-3zm1 6zm2-5zm1-3zm0 10zm3-5zm3 0zm4 4zm4-7zm0 8zm3-1zm5-9zm6 3zm5 5zm2-6zm2 5zm1-2zm1-5zm1 8zm5-4zm4 7zm0-6zm4 5zm1-3zm0-7zm5 5zm1-2zm3 8zm2-7zm1 3zm3-1zm1 4zm2-6zm3 7zm0-4zm4-4zm0 7zm4-5zm3 2zm3-3zm5 2zm5-6zm0 3zm2 7zm2-3zm3-4zm1 6zm1-9zm2 8zm2 3zm2-3zm6 3zm1-10zm1 3zm5 4zm2-8zm4 11zm4-2zm2-6zm9 2zm1 3zm3-4zm7-4zm4 6zm2 5zm2-8zm5 7zm3 1zm2-4zm3-1zm2-5zm3 2zm2 6zm5-2zm3-6zm4 8zm6-2zm14 1zm6 12zm-15 1zm-4 2zm-4-8zm-5 4zm-4 0zm-5-7zm-2 6zm-1 4zm-3-10zm-2 8zm-2-5zm-6-2zm-6 8zm0-3zm0-3zm-3-2zm-1 7zm-2-8zm-8 10zm-2-3zm-3-5zm-1-1zm-5 5zm-4 2zm-4-6zm0 3zm-2-1zm-5 4zm0-3zm-4-5zm-3 7zm-2 2zm-3-4zm0-4zm-3 5zm-3-3zm-1 3zm-2 2zm-2 1zm-1-4zm-4-2zm-2-2zm0 3zm-2 7zm-7 0zm-2-11zm-4 9zm-3 1zm0-5zm-4 1zm-1 4zm-2-7zm-1 3zm-2-2zm-5 7zm0-2zm-1-3zm-2-6zm-1 5zm-3-2zm0 3zm-3-2zm-2-1zm-1 3zm-3 0zm0 3zm-1-7zm-1 2zm-1 3zm-4 3zm-4-2zm-3-4zm0 3zm-3 2zm-2-1zm-1-8zm-5 8zm-1-5zm-1 8zm-4-6zm-1-4zm-4 5zm-1-6zm-1 5zm-2 6zm-10-5zm-3 4zm-2-8zm0 5zm-4-4zm-3 5zm-6-8zm-7 1zm-3 9zm0-3zm-1-6zm-1 7zm-1-5zm-3 5zm-2-1zm-1 4zm-1-7zm-1-3zm0 8zm-4 1zm-6-4zm-1-5zm-2 6zm-5 2zm0-5zm-3 1zm-2 5zm-2-2zm-4-3zm0-5zm-2 10zm-1-3zm-1-5zm-2 5zm-2 4zm0-11zm-2 1zm-3 10zm-3-7zm-1 6zm-2-10zm-1 5zm-2 5zm0-9zm-3 1zm-3 0zm-3 3zm-4-1zm-1 3zm-3-2zm-3-2zm-5-3zm-6 9zm0-6zm-1 4zm-2 1zm0 3zm-3-10zm0 7zm-2-5zm-5-1zm-3 5zm-5-1zm-3 4zm-1-10zm0 4zm-5 2zm-1-4zm-6 4zm-1-6zm-2 11zm-7-5zm-4 4zm-2-2zm-2-5zm-5 1zm-7-2zm-13 8zm-1-3zm-4-3zm-16 8zm4 7zm7-1zm0 5zm2-8zm3 8zm3-2zm7-6zm0 7zm8 1zm3-1zm1-8zm4 6zm3 3zm0-9zm5-1zm5 3zm3 2zm0 5zm5-1zm0-8zm5 5zm1-7zm4 8zm4-5zm0 3zm5-6zm1 8zm1-5zm3 4zm1-4zm1 8zm4-8zm5 2zm3 2zm3-7zm2 3zm1 4zm4 4zm2-6zm0-5zm2 11zm0-3zm3-4zm2 7zm0-3zm6-7zm0 7zm3-1zm0-4zm4 2zm3-2zm1 3zm1 3zm1-8zm3 8zm3-2zm5 3zm1-9zm2 9zm4 0zm9-7zm4 6zm0-5zm4-4zm2 2zm3 1zm2 5zm3-4zm2-3zm1 9zm1-5zm3 5zm0-9zm5 5zm1 2zm3-3zm1-3zm3-2zm4 6zm3 3zm4-5zm3 6zm1-2zm2-7zm1 3zm2 2zm4-3zm0-3zm4 2zm2-1zm3 3zm1 4zm5-1zm9 0zm4 2zm2-5zm2 3zm0-5zm2 2zm3-2zm3-1zm2-1zm3 3zm1 7zm1-4zm3 2zm3-2zm0 5zm2-11zm3 4zm2-2zm0 9zm0-3zm3-6zm0 4zm2 1zm7 3zm0-7zm3 3zm3-1zm7 6zm5-4zm2 3zm4-7zm0 6zm2-2zm3-3zm2 6zm4-7zm1-2zm0 7zm1-3zm1-2zm1 6zm2-8zm2 2zm0 6zm4-6zm3 5zm3-3zm0 3zm2-2zm6 4zm0-5zm2 2zm3-2zm4 2zm3 0zm2 2zm1-7zm1 4zm3 1zm4 4zm2-7zm1-3zm1 9zm7 0zm2-5zm14 3zm4-1zm3-7zm0 5zm3 1zm4-2zm3 3zm6-6zm1 7zm1-4zm2 7zm1-10zm3 7zm4-6zm1 8zm3-6zm6 7zm1-2zm1-6zm8 0zm5 4zm36 12zm-12 1zm-5 2zm-4-2zm-7-2zm-2-6zm-4 1zm-1 6zm-4 0zm-4-6zm0 4zm-5-2zm0 5zm-3 2zm-5-7zm-1-3zm-4 10zm-5 1zm-3-6zm-1-2zm-8 4zm-4 3zm-1-6zm-8 6zm-3 0zm-2-8zm-5 9zm-2-2zm-4-2zm-3 4zm-2-10zm-1 10zm-4-9zm-1 6zm-4 3zm-5-6zm-3-2zm-2-3zm-2 10zm0-3zm-5 1zm0-5zm-8 4zm-7-1zm-3 2zm-5-3zm-2 5zm-3-10zm-1 3zm-1 7zm-3-3zm-7-3zm-1-3zm-1 8zm-3-1zm-1-3zm-2-3zm-5 7zm-7-7zm-1 6zm-1 3zm-4-9zm-4 8zm0-9zm-1 4zm-4-2zm0-3zm-4 8zm-1-5zm-4 6zm-1-8zm-6 1zm0 6zm-3-7zm0 9zm-2-5zm-3-3zm-3 2zm-6 3zm-1 4zm-6-2zm-3-6zm-5 1zm-7 6zm-2-6zm-2 3zm-1-4zm-4 8zm0-11zm0 6zm-2-2zm-6 1zm-3-1zm-1 3zm-1 3zm-5-10zm-1 6zm-2 0zm-1-4zm-1 9zm-6 0zm-3-6zm-1-3zm-3-1zm-1 10zm-4-3zm-1 3zm-2-3zm-1-7zm-2 10zm-2-8zm-1-3zm-2 10zm-2-9zm-2 7zm-3-2zm-1 5zm0-7zm-3 1zm-1-4zm-3 2zm0-2zm-1 7zm-3 3zm-2-4zm-2 0zm-6-4zm0 4zm-3-2zm-3 6zm-1-2zm-1-3zm-4-5zm-3 4zm-2 1zm-1-4zm-1 6zm-5-4zm-11 5zm-1-6zm-6 7zm0-10zm-5 6zm0-6zm-3 7zm-2-1zm-2-2zm-4 2zm-3-2zm-3-4zm-2 9zm-3-2zm-2 4zm-4-9zm-2 3zm-1 5zm-2-7zm-5 3zm-12 2zm-1-7zm-1 4zm-1 4zm-1-7zm-7 1zm-7 7zm0-8zm-3 4zm-5 0zm-1-5zm-2 7zm-2-7zm0 8zm-3 0zm0-4zm-5 4zm-1-2zm-9-1zm11 14zm12-2zm6-5zm0 7zm3-2zm4-6zm2 10zm2-2zm7-5zm3-2zm1 9zm7 0zm2-5zm1-5zm1 3zm8 5zm3 3zm2-3zm4 2zm1-7zm1-3zm7 9zm2-6zm2 8zm2-6zm2-3zm4 1zm3 3zm4-2zm2-2zm2 6zm2-2zm3 0zm1-3zm0-3zm1 10zm2-4zm9-4zm0 3zm2-5zm3 8zm1-5zm2-1zm0 4zm2-1zm0 6zm2-1zm7-2zm3 2zm3-10zm1 3zm1 8zm0-4zm1-2zm6 6zm2 0zm2-5zm3 4zm1-9zm1 7zm1-5zm3-1zm2 4zm2 4zm2-4zm4-1zm2 2zm3 3zm2-5zm4-4zm2 6zm1 4zm2-11zm1 2zm2 6zm1-8zm3 5zm0-4zm7 5zm1-4zm4-2zm2 10zm1-10zm2 2zm3 0zm1 9zm2-7zm0 3zm4-5zm0 3zm4 0zm2 2zm1-7zm1 11zm3-10zm1 4zm3 2zm1 3zm0-6zm3-1zm1 2zm5 3zm2-1zm3 2zm2-9zm4 8zm3-8zm3 2zm0 9zm1-4zm1-6zm4 1zm2 6zm2 3zm3-4zm0-6zm0 10zm4-2zm3-4zm0 6zm2-2zm4-6zm0 5zm3 0zm0 3zm3 0zm2-4zm1 3zm1-5zm3 4zm4-6zm4 6zm1 2zm3-1zm4-6zm3-1zm3-3zm1 4zm4 6zm3-4zm3-1zm3 3zm6-3zm1 6zm7-5zm5 4zm3-6zm1 2zm0 4zm4-10zm0 7zm1 3zm3-6zm1 4zm1 3zm1-11zm0 8zm1-3zm5 2zm2 3zm1-8zm7 6zm1-6zm2 4zm8 1zm4-2zm0-2zm8 6zm1-7zm1 3zm3-4zm3-1zm1 4zm11 3zm1-4zm3-3zm0 7zm5-1zm1-2zm4-1zm4 2zm3 1zm0-5zm6 1zm2 4zm7 2zm1-8zm2 9zm7 2zm6-4zm10 0zm8-5zm48 18zm-27 0zm-5 0zm-6 1zm-4 2zm-5-9zm-1-2zm-3 6zm-6-6zm-2 9zm-1-6zm-2-3zm-3 8zm-5-3zm-1 3zm-1-4zm-5 2zm-3-6zm-1 3zm0 8zm-2-11zm-1 6zm0-4zm-2 8zm-3-10zm-4 9zm-3-4zm0 6zm-4-10zm-2 5zm-3 0zm-2-4zm-4-2zm0 8zm-2-7zm-2 5zm-2-2zm0 6zm-6-4zm0-3zm-4-1zm-4 2zm-9 4zm-3 1zm0-9zm-9 11zm-12-6zm-3 3zm-6 3zm-4-1zm0-5zm-1-3zm-2 7zm-1-8zm-5-1zm-4 11zm-2-4zm-2-6zm0 9zm-3-6zm0 3zm-3 0zm-2 4zm-2-6zm-1 4zm-1-7zm-2 7zm-3-4zm-4-4zm-3 6zm-2-5zm-2 8zm-2-2zm-6-8zm-1 6zm-5-2zm-1 6zm-4-4zm0 5zm-2-11zm-4 3zm-1 8zm-3-1zm-1-7zm-3 0zm-3 1zm-2-4zm-9 0zm-7 10zm0-2zm-3-6zm-3 4zm-1 3zm0-7zm-2 2zm-1 3zm-2-6zm-2 7zm-2-5zm-1 8zm-1-5zm-1-5zm-2 4zm-3-1zm-1 3zm-1-4zm0-2zm-2 9zm0-3zm-3 3zm-1-9zm-1 4zm-1 6zm-3-8zm-4 2zm-3 2zm-3 0zm-5-2zm0 5zm-3-1zm-1-3zm-2 1zm-1-3zm-3-2zm-1 5zm-4-7zm0 8zm-2-5zm-3 3zm-1-4zm-7 3zm-5-5zm-2 3zm-5 1zm-3 3zm-3 0zm-4 0zm-2 0zm-3 2zm0-3zm-2 1zm-2-3zm-3 7zm-1-10zm-1 3zm-7 7zm-1-5zm0-3zm-3 7zm-3-8zm-1 3zm-3 5zm-1-10zm-1 3zm0 5zm-4 0zm-4 2zm-1-10zm-4 3zm0 6zm-5 0zm-2-6zm-6 8zm0-6zm-2-4zm-2 1zm-4 5zm-2 0zm-1-3zm-3 3zm-6-4zm-2-2zm-2 8zm-2-3zm-3 5zm-2-4zm-3-5zm0 7zm-3-3zm-2 2zm-4-4zm-2 4zm0-3zm-4 0zm-3 6zm-4-11zm-1 8zm-1 2zm-1-7zm-1-3zm-4 7zm-1 4zm0-8zm-3 6zm-3-1zm0-5zm-4 8zm-3-4zm-3 3zm-3-4zm0-3zm-2-2zm-2 7zm-2-7zm-3 9zm-1-8zm0 4zm-3-6zm-1 3zm-1 7zm-4-10zm0 5zm-5-2zm-7-2zm-2 5zm-1 4zm-7 3zm0 8zm4-2zm4-7zm5 6zm2 4zm1-7zm2 2zm1 6zm3-2zm3 0zm1-8zm3 8zm1-3zm3 3zm1-3zm1-3zm3-1zm4 3zm1 4zm4-9zm5 3zm1 5zm2 1zm4-4zm3 2zm3-1zm7 2zm0-4zm2 7zm1-3zm3-5zm1 3zm4-6zm0 6zm3-2zm5 5zm3 1zm7 0zm8-5zm1 4zm1-8zm5 5zm1-5zm3 1zm1 3zm1-5zm6 4zm7 4zm2 2zm1-9zm8 3zm5 0zm3-2zm1 4zm2 4zm6 1zm3-6zm2 4zm1-3zm4-4zm0 4zm0 4zm2-10zm4 8zm2 1zm6-9zm1 10zm3-9zm2 1zm5-1zm0 8zm2-9zm2 5zm4-3zm1 6zm3 3zm4-3zm1-4zm4-4zm5 1zm1 10zm3-9zm4 4zm0 5zm1-9zm2-1zm0 8zm6-9zm0 7zm3 0zm3-7zm2 11zm2-10zm4 8zm2-3zm2-3zm2-3zm2 5zm2-4zm1 7zm2-5zm4 6zm1-6zm0 3zm3-6zm0 6zm8-3zm2-1zm3 0zm1-2zm2 9zm0-7zm5-1zm3 5zm6-1zm0 3zm0 3zm1-10zm3 9zm3-3zm7-2zm4 6zm4-10zm3 3zm2-1zm3-3zm0 11zm3-2zm2 2zm2 0zm0-11zm1 5zm0 2zm2-7zm4 7zm3-4zm2 3zm2-6zm3 8zm2-4zm5 7zm0-9zm1 3zm4 3zm3 3zm1-9zm1 6zm2-3zm1 5zm2-9zm1 10zm6-5zm0 4zm3-2zm0-6zm1 9zm15-11zm4 9zm3 0zm4-3zm7 1zm8-3zm3 7zm3-6zm0 3zm6-4zm2 3zm2 2zm0-7zm3 3zm0 5zm1-9zm4 10zm6-9zm5 5zm5-2zm5 5zm1-2zm3 2zm1-2zm4 3zm7-10zm2 2zm5 5zm4 2zm2-10zm2 5zm1 5zm4-10zm0 4zm4 0zm0 5zm1 2zm1-9zm6 4zm3 0zm6-2zm5 2zm3 3zm0-8zm4 0zm13 1zm4 9zm5 10zm-7-5zm-9 3zm-16 2zm-10-2zm-14 0zm-5-3zm-4 4zm-3-4zm-7-2zm0 4zm-2-5zm-14 6zm-1 2zm-1-9zm-3 3zm-5 0zm0 4zm-6-5zm-5 5zm-6-6zm-1 3zm-2 1zm0-3zm-3 0zm-1 9zm-8-2zm-3-2zm-1-6zm-9 9zm-2-3zm-1-3zm-2-3zm-1 7zm-1-2zm-2 0zm-1 4zm-7-2zm-2-6zm0 9zm-3-11zm-6 8zm0 3zm-8 0zm0-6zm-6-1zm-3-4zm-1 3zm-1 7zm-3-9zm-1 2zm-6 5zm0-2zm-2-4zm-2 3zm-1-3zm-3 2zm-3-4zm-1 9zm-3-4zm0 4zm-3-1zm0-6zm-3 6zm-2 1zm-3-7zm-5 5zm-3 0zm-2 1zm-8 2zm-5-1zm0-8zm-3 0zm0 5zm-3 0zm0 3zm-1-7zm-5 5zm0-3zm-3-4zm-1 4zm-1 5zm-1-3zm0-5zm-3 7zm-2 1zm-2-7zm-1 3zm-1-4zm-3 8zm-2 0zm-1-3zm-3-4zm-16-1zm-4 2zm-1 7zm-1-4zm-9-1zm0 6zm-5-9zm-3 9zm-1-11zm-1 3zm-6 6zm-4 1zm-2-10zm-1 7zm-3 2zm-1-7zm-2 5zm-7 1zm-3 0zm-1-4zm-4 4zm-2-3zm-4 3zm0-5zm-3 0zm-1-2zm-1 3zm-9-3zm-1 8zm-2-9zm-2 2zm0 7zm-2-3zm0-4zm-1 9zm-3-6zm-3 2zm-3 1zm-2-1zm-2-6zm-7 9zm-1-6zm-3-1zm0 7zm-3-6zm-1-3zm-3 10zm-1-5zm0-2zm-2 6zm-1-9zm-1 5zm-2 3zm-5-1zm-2-2zm-3 4zm-3-10zm-4 7zm-1-5zm-2 8zm-1-6zm-1-3zm-1 5zm-7-2zm-1 6zm-2-9zm-1 2zm-1 7zm-1-2zm-3-6zm-3 6zm-4-4zm-1-3zm-2 5zm-5-4zm-2 5zm-3-4zm-2 2zm-1 4zm-1-3zm-1-5zm-3 9zm-2-5zm-3-2zm-1 8zm-1-10zm-1 6zm-2-5zm-6 7zm-6-5zm0 5zm-4-2zm-2-2zm-1-2zm-4 7zm-6-1zm-6 0zm-2-6zm-1 8zm-4-3zm-12-4zm-1 4zm-4 0zm1 5zm0 6zm6-5zm7-2zm6 6zm3-1zm4 4zm1-7zm5 6zm1 3zm1-5zm3-3zm7 3zm6-2zm3 0zm2 2zm4-4zm3 5zm1-4zm2 6zm1-9zm5 5zm7 4zm1-4zm4-5zm1 7zm4-4zm2 8zm2-11zm3 8zm3 0zm2-5zm3 6zm4-7zm2 8zm1-5zm2 3zm3 1zm2-4zm0-3zm2 8zm2-7zm2 5zm1-5zm2 8zm8-11zm3 9zm6-4zm2 4zm1-6zm2-2zm5 6zm2 3zm6-9zm4 9zm0-10zm1 4zm4 7zm0-5zm1-5zm1 9zm5-1zm1-7zm3 2zm1 4zm0-6zm5 2zm4 6zm0-3zm3 0zm3-2zm0-3zm0 9zm3-3zm1 3zm4-1zm6-10zm2 2zm4 1zm7-2zm2 1zm1 4zm0 5zm5-7zm1 6zm1-10zm1 2zm4 3zm0-3zm3 0zm3 6zm2-3zm3-3zm1 5zm1 2zm8 0zm1-8zm0 4zm3 4zm2-7zm10 3zm1-5zm2 7zm1 2zm2-8zm3 0zm3 2zm0 8zm3-4zm3 2zm3 1zm5-9zm3 1zm2 3zm0 5zm2-4zm2-2zm2 2zm4 0zm3 1zm6-3zm1 4zm2-5zm1 7zm4-3zm3 0zm1-3zm4 2zm2-4zm1 6zm1-6zm4 5zm5 3zm0-7zm0-2zm1 5zm2-6zm7 11zm0-6zm3-5zm5 2zm5 2zm1 4zm5 2zm3-10zm3 4zm0 6zm3-9zm1 4zm3 5zm3-4zm5 4zm0-8zm3 8zm1-5zm2 4zm7-4zm1-4zm0 9zm3 0zm0-6zm2-4zm6 6zm2 1zm4 3zm0-7zm2 4zm4 3zm2-3zm3-3zm7-1zm2 7zm2-8zm5-2zm2 4zm1-4zm4 2zm4 7zm3-2zm6 0zm3-6zm2 1zm4 6zm2-3zm2-3zm4 7zm2-8zm12 10zm7-9zm2-1zm10 0zm7 2zm1 7zm2-4zm10 0zm0-2zm4 5zm6-5zm4 6zm5-2zm9-1zm3-1zm23 15zm-18-1zm-7 3zm-5-11zm-3 2zm-1 3zm-3 5zm-3-3zm-1-3zm-3-3zm-2 5zm-2 3zm-4-7zm-3 6zm-2-2zm-12-5zm-25 7zm-2-4zm-6 3zm0 3zm-8-8zm-2 0zm-9 7zm-1-9zm-2 1zm-1 7zm-5-8zm-4 9zm-9-9zm-1 5zm0 6zm-6-3zm0 3zm-2-6zm-5 0zm-2 6zm-1-6zm-6-4zm0 7zm-7-6zm0 5zm-4 3zm-10-7zm-4 0zm-3-3zm-2 6zm-4 5zm-2-10zm0 4zm-3 2zm-1-4zm-1-3zm-1 6zm0 4zm-2-2zm-1-3zm-2 4zm-1-2zm-3 1zm-5-7zm-1 6zm-2 3zm-1-6zm-3-4zm-4 3zm-7 0zm-1 1zm-1 7zm-1-8zm-1-3zm-3 4zm-2 1zm-1-3zm0 8zm-3 0zm-3 1zm-12-8zm-6-3zm-1 4zm-2 3zm-1-5zm-5 4zm-1-3zm-2 5zm-2-6zm0 8zm-1-4zm-1-3zm-8 3zm-4-2zm0 3zm-9 2zm-5-8zm0 6zm-2-2zm-8-3zm-2 9zm-2-9zm0 3zm-4-3zm0 9zm-4-11zm-2 7zm-1-4zm-3-3zm-2 10zm-2-2zm-4-1zm0-3zm-4 3zm0-7zm-2 9zm-2-9zm0 8zm-2-3zm-2-2zm-1-3zm-1 11zm-4-7zm-2 4zm-4 0zm0 3zm-1-6zm-1-4zm-3 5zm0 4zm-6 1zm-3-4zm-1 4zm-5-9zm-3 6zm-1-2zm-3-6zm-1 7zm-3-2zm-2 1zm0 4zm-6-5zm0-5zm-1 8zm-2-7zm-5 6zm-2-7zm-2 3zm0 7zm-4-8zm-1 9zm0-6zm-2-4zm0 6zm-5 0zm0 2zm-3-3zm-3-2zm-2 5zm0-9zm-2 3zm-1 5zm-3-5zm-7-1zm-2 8zm-2-10zm-5 8zm-2-3zm-1 4zm-4-3zm-3 3zm0-8zm-3 5zm-1-3zm-6 2zm-3 4zm-8-7zm0 7zm-2-9zm-3 5zm-2 5zm-2-10zm-2 2zm-2 7zm-5-6zm-3-3zm0 9zm-1-6zm-2 3zm-4 5zm-1-5zm-2-6zm-2 4zm-2 4zm-3-3zm-1-4zm-4 2zm-1 8zm-1-11zm-1 6zm-2 3zm-3-9zm0 8zm-2 3zm-1-9zm-1 6zm-2-8zm-2 3zm-4 0zm-2 5zm-3-4zm-3-3zm-2 8zm-3-5zm-2-3zm0 6zm-3-7zm-1 7zm-1 4zm-2-3zm-8-3zm-1-2zm-1 6zm-3-1zm-1 2zm-2-5zm-1 4zm-2 2zm-3-9zm-4 14zm9 3zm4 3zm6-10zm2 4zm2 6zm6-4zm9 3zm0-5zm4 5zm0-3zm2 5zm1-11zm2 9zm4-4zm0-5zm1 11zm2-2zm3-6zm2-1zm2 2zm2 0zm2-2zm2 3zm2-1zm2-2zm3 1zm4-1zm1 8zm1-5zm2-2zm4 1zm3-4zm10 1zm0 6zm7 4zm3-7zm1-3zm0 7zm4-5zm3-3zm0 11zm0-7zm3 1zm3 5zm3-4zm2-6zm2 3zm1 6zm2-5zm2-4zm1 9zm10 0zm5-1zm1-6zm9 9zm0-7zm1 4zm2-1zm4 1zm1-7zm1 4zm7 0zm0-3zm2 9zm8-8zm0-3zm1 6zm2-3zm6 3zm0-2zm0-3zm1 10zm5-8zm1 7zm2-4zm0-6zm3 10zm1-6zm4-4zm1 7zm2 4zm3-9zm1 4zm1 4zm3-2zm4-7zm0 8zm3-3zm8 3zm6-6zm4 5zm2-6zm5 6zm4-7zm7 10zm3-11zm1 10zm3-2zm6 3zm2-4zm2-3zm1 3zm2-5zm2 8zm1-4zm3 4zm3-9zm4-1zm3 1zm1 5zm4 2zm1-8zm1 5zm6-3zm2 6zm2-6zm1 3zm3 5zm0-8zm1 3zm2-5zm4 3zm4 6zm2-9zm3 2zm5 8zm1-8zm3 9zm0-10zm1 7zm3 2zm7-6zm8 3zm5-1zm0 4zm4-7zm2 4zm3-7zm1 7zm1-2zm3 5zm0-5zm5-5zm1 5zm1 5zm1-7zm6 6zm2-5zm2-4zm1 7zm2 2zm2 2zm3-5zm6 1zm1-6zm4 10zm2-2zm3-6zm3 1zm1 6zm0-3zm2 4zm3 0zm2-4zm2 4zm5-6zm1-2zm0 5zm3 3zm0-9zm3 0zm7 3zm1-3zm5 9zm3-3zm9 1zm2-5zm1-2zm8-1zm12 6zm8 4zm4-3zm2-2zm2 4zm3-3zm3 2zm2-4zm14 5zm1-3zm19-7zm2 7zm4-2zm13-4zm5 5zm7-3zm3-2zm3 3zm1 5zm3 2zm1-3zm9 0zm6-4zm3 3zm32 8zm-24 7zm-4-8zm-19 4zm-1-3zm-5-2zm-15 0zm-6 0zm-6 8zm-2-5zm-4-4zm-3 7zm-2-7zm-10 0zm-3 7zm-2 2zm-1-7zm-2 9zm-12-6zm-3 3zm-4 1zm-5-3zm-8 0zm-7 1zm-3-3zm-1 5zm-3-4zm0-3zm-4 8zm-2-4zm-3 5zm-6-8zm-2-2zm-3 5zm-6-3zm-3 7zm-2-5zm-6-2zm-5 2zm-4 5zm-1-3zm-3-5zm-1 3zm-1 5zm-1-2zm0-5zm-5 0zm-2 5zm-6 0zm-1 3zm-2-4zm-5-5zm0 6zm-4-8zm-3 6zm-6 1zm0-3zm-1 6zm-3-4zm-1 3zm-2-5zm-1 3zm-3 3zm-4-9zm-1 8zm-5-7zm-1 8zm0-3zm-3-4zm-4 7zm0-10zm-3 4zm-3 7zm-5-10zm-2 7zm0-8zm-4 0zm-1 10zm-1-4zm-3 0zm-2-3zm0 7zm-1-10zm0 6zm-8 5zm0-3zm-1-5zm-4 4zm-1-4zm-3 2zm-4 3zm-2-7zm0 9zm-2-1zm-1-9zm-4 2zm-5 7zm0-3zm-4-2zm-1 5zm-3-3zm0 3zm-3-7zm-2-2zm0 10zm0-4zm-6-6zm-2 8zm-2-4zm-6 2zm-1-5zm-5 3zm0 3zm-3 1zm-1-4zm-4-1zm-1 2zm-5 4zm0-6zm-8-2zm-1 10zm-10 0zm-1-11zm-1 3zm-3 6zm0-4zm-2 3zm-1-3zm-2 3zm-3-1zm-7-6zm0 5zm-5-4zm-4-2zm-2 1zm-1 8zm-1-6zm-1 4zm-1-6zm-2 4zm-1-3zm-4 3zm-5-5zm-1 10zm-6-5zm-3-1zm-1 6zm-2-5zm-3-4zm-4 8zm0-4zm-3-1zm-1 6zm-5-3zm-4 0zm0 3zm-1-10zm-1 4zm-1 2zm-6-3zm0 4zm-2-2zm-3-2zm-1-3zm-1 7zm-2-5zm-2 9zm-2-3zm-4-7zm-1 6zm-2-1zm-1 5zm-1-9zm-2 2zm-2 2zm-1 3zm-2 0zm0-9zm-1 11zm-12-3zm0-8zm-1 2zm-3 6zm-2-5zm0 6zm-2-8zm-3 0zm-1 4zm-2-3zm-4 4zm-5-5zm-3 5zm0 5zm-1-9zm-2 1zm-7 7zm-5-5zm-2 3zm-7-2zm-1 3zm-3-9zm-1 10zm-5 1zm-1-6zm-5 0zm-1-4zm-2 9zm-6-6zm-3 4zm-2-2zm-6-2zm-1-3zm-1 6zm-2 4zm-4-2zm-3-7zm-3-1zm-3 9zm-1-3zm-4 2zm-5-9zm-2 6zm6 14zm4 2zm2-10zm6 0zm1 10zm1-5zm3 5zm4 1zm5-5zm0 4zm3-5zm2 5zm1-2zm2-8zm1 8zm1-4zm1-4zm7 2zm1 6zm2-2zm1-3zm3 2zm5 6zm2-6zm3 4zm1-9zm4 11zm4 0zm1-2zm2-4zm3 2zm1 4zm3-3zm1 2zm3 0zm2-8zm0 5zm3 4zm2-4zm0 3zm6-6zm2 6zm1-6zm4 1zm5 5zm2-4zm4 3zm1-9zm2 5zm1 5zm4-6zm1 5zm2-8zm7 4zm0 3zm2 2zm2-2zm0-5zm1-3zm4 1zm1 5zm2 4zm1-10zm1 3zm2-3zm1 9zm0-6zm2-3zm3 10zm4-9zm0 8zm2-2zm5-5zm1 2zm1 5zm7-2zm8 1zm3-4zm3 3zm1 3zm6-7zm4-3zm2 5zm1 4zm2-2zm5-4zm8 2zm0-5zm1 9zm2-2zm1-7zm5 10zm1-3zm0-3zm4-1zm1 3zm8 5zm1-9zm4 7zm2-8zm4 6zm5-2zm0-5zm4 2zm2-2zm1 10zm2-6zm1 5zm6-8zm4 1zm3 1zm2 3zm3-5zm1 7zm7-1zm1-5zm3 1zm3 8zm4-2zm6-7zm1 4zm3-1zm2 5zm3 1zm2-6zm2 3zm1 3zm2-3zm1-3zm6 3zm5-5zm0 7zm3-3zm3-5zm0 9zm2-4zm2-5zm5 3zm3-4zm3 2zm0 8zm2-5zm1-2zm2 3zm0-6zm1 7zm4-5zm2-2zm1 4zm2 5zm3-1zm2-3zm0-4zm10 8zm1-7zm0 3zm4-3zm5 7zm3-9zm1 10zm1-8zm1 5zm2-6zm5 0zm2 4zm1-3zm0 6zm3-1zm4 1zm3-1zm2-3zm5-3zm1 5zm1 2zm2-4zm2 3zm3-2zm6-3zm0 3zm2 2zm2-7zm4 4zm0 6zm4-2zm5-2zm1-3zm1 5zm3-8zm15 10zm2-2zm2-3zm1-2zm9-2zm6 4zm4 2zm2-8zm4 11zm8-7zm2 6zm2-7zm0 3zm7-4zm1 3zm6-1zm5 0zm1 4zm1-6zm4 9zm3-9zm4 7zm4-8zm2 10zm1-5zm8-4zm2 5zm7 0zm10 0zm11-6zm4 4zm3 3zm8 0zm0-4zm8 7zm5-6zm3-5zm0 9zm11 9zm-3 3zm-3 2zm-2-2zm-14-8zm-7 1zm-2 6zm-5 3zm-6-6zm-2 4zm-1-5zm-5 6zm-7-6zm-1-4zm-5 1zm-1 9zm-6 0zm-9-6zm-14 4zm-2-6zm-7 0zm-6 2zm-20 0zm-5-2zm-1 7zm-3 1zm-2-6zm-1 5zm-4-9zm-1 10zm-6-3zm-5-2zm0 6zm-4-3zm-1-5zm-9-3zm-3 5zm-4-1zm-2 7zm-1-6zm-4-1zm-2-4zm-1 4zm-7 2zm-5 1zm-2-2zm-7 5zm-5-2zm-5-4zm-2-3zm-2 2zm-2 7zm-3-9zm-4 0zm-3 9zm-2-5zm-1-5zm-2 3zm-4 3zm-1 5zm-2-6zm-3 6zm-2-10zm-1 5zm-4-3zm-2-2zm-2 1zm-7-2zm-8 7zm-1 3zm-10-3zm-2 3zm-1-5zm-4-4zm-3 4zm0-3zm-1 6zm-1 3zm-4-6zm0 6zm-2-2zm-7-7zm-3 4zm0 3zm-2 2zm-5-7zm-3 0zm-1 7zm-3-2zm-2-7zm-5 1zm-5 5zm-5-6zm-2 5zm-1-3zm-1-4zm-4 0zm-6 7zm0-4zm-1 8zm-6-5zm-3 2zm0-2zm-2-3zm-2 4zm-2 3zm0-7zm-5 0zm-5 7zm-1-6zm-1 4zm-5-2zm0 2zm-1-7zm-1 6zm-1-3zm0-4zm-6 2zm-1 8zm-5-9zm-1 3zm-2 7zm-4-8zm-2 2zm-2 2zm-1-6zm-4 3zm-5 1zm-3 5zm-3-10zm0 8zm0-6zm-3 7zm-4-4zm0 6zm-1-10zm-1 5zm-1-3zm-2 8zm0-11zm0 7zm-4 1zm-2-4zm-3 7zm-4-4zm-2-7zm-1 7zm-1 4zm-4-7zm-5-2zm0 8zm-6-3zm-3 0zm-1-6zm0 8zm-4-1zm-2-7zm-1 2zm0 7zm-2-9zm-1 9zm-3-9zm-1 9zm-7-7zm-1 2zm-2 2zm-2-5zm-2 5zm-2-5zm-9 6zm-1-5zm-1 7zm-8-2zm-1-6zm-2 5zm-4 1zm-1-2zm-1 2zm-1-8zm-7 1zm-1 9zm-5-9zm-2 6zm-3 4zm-4-8zm-3-1zm-3 6zm-2-8zm-2 11zm-2-7zm-9 2zm-1 3zm-3-6zm-4-3zm0 8zm-6-6zm-10-2zm0 7zm-6 4zm-3-3zm-3 1zm-2-2zm-1-6zm-2 10zm-1-5zm-8 0zm0-5zm-9 0zm-2 2zm-4 2zm6 14zm7 0zm2-7zm3 2zm2 5zm7-6zm11 9zm2-9zm0 6zm6 2zm0-6zm4-1zm0 6zm8-1zm1-4zm5-3zm3 8zm0-3zm5 0zm2-3zm3 8zm4-6zm0-4zm4 7zm1-7zm11 0zm1 6zm5 0zm0 3zm5-7zm0 9zm3-10zm3 5zm1 3zm1-9zm3 4zm2 6zm4-9zm2 4zm1 3zm1 2zm3-9zm3 6zm1 2zm2-7zm1 8zm0-3zm6-6zm6 9zm2-9zm1 8zm5-5zm3-1zm0 5zm1-8zm0 6zm1 2zm3-1zm1 4zm1-6zm1 3zm2-8zm0 10zm2-7zm2 4zm10 1zm3-8zm2 6zm1-5zm0 8zm2 2zm2-9zm3 2zm1 7zm1-4zm2 4zm2-7zm0 3zm9 2zm3-4zm0-3zm3-1zm0 3zm1 3zm5-6zm4 3zm5 5zm2-3zm2-3zm0 5zm5-4zm2 4zm9-8zm4 2zm1 5zm3 0zm0-2zm2 5zm6-6zm1 6zm1-3zm1-3zm2-4zm1 8zm2-1zm1-3zm5 5zm1-7zm5 4zm1-3zm1-3zm2 5zm8 0zm2-2zm1 4zm6-3zm0 5zm7-8zm2 9zm2-9zm5 10zm3-5zm2-4zm3 9zm1-9zm6 8zm0-3zm1-3zm3 6zm1-6zm2 7zm1-4zm6-6zm1 5zm3 4zm2-5zm1-3zm4 8zm4-7zm1 6zm2-8zm1 6zm8 1zm1-6zm4-2zm1 9zm3-1zm0-2zm0-3zm7 0zm1 4zm6 0zm1 4zm2-6zm1-3zm1 6zm3-4zm3 4zm1-7zm2 4zm3-3zm0 7zm1-4zm3 1zm2 1zm5-2zm0-4zm6 3zm4 5zm2-7zm0 5zm3-4zm5 6zm1-3zm4-1zm7 0zm0 6zm2-9zm5-1zm6 3zm1 5zm3-9zm7 8zm4-2zm5-2zm3 7zm4-11zm6 5zm0 4zm1-7zm4-1zm1 9zm6-3zm2 2zm1-7zm2 5zm7 1zm1 3zm17-6zm3-2zm3-2zm1 6zm10 3zm3-9zm18 5zm3-6zm3 1zm4 5zm7 4zm1-8zm1 6zm3 2zm2-7zm0 4zm4-4zm7-3zm5 3zm3 0zm10 2zm8-5zm-5 13zm0 8zm-3-6zm-14-3zm-1 5zm-5 3zm-15 1zm0-5zm-8-3zm-5 8zm0-8zm-1 4zm-4 2zm0-3zm-3 3zm-2-3zm0-4zm-3 7zm-3-2zm-20-2zm-1 7zm-2-2zm-15 2zm-3-3zm-5-2zm0 5zm-1-2zm-2-3zm-8-2zm-2 7zm-2-7zm-4-2zm-4 7zm-3 2zm-3-7zm0-3zm-4 11zm-1-2zm-2-7zm-3 0zm-2 5zm-2-3zm-2 1zm-8 1zm-1-3zm-4 2zm-1-3zm-6 0zm-1 8zm-10-4zm0 4zm-2-10zm-7 0zm-3 5zm-3 4zm-3-7zm0 5zm-2 3zm-2-4zm-2-3zm-3 3zm-1 3zm-2-6zm0 4zm-6-7zm-4 6zm-1 3zm-2-3zm-2-2zm-2 2zm-9-6zm-1 10zm-2-3zm-4 3zm-2-10zm-1 7zm0-3zm-6 7zm-1-10zm0 4zm-2-2zm-1 4zm-1 3zm-3-4zm-2-3zm-1 2zm-1 3zm-2-6zm-2-1zm-3 6zm-3 1zm0 3zm-3 0zm-7-9zm-2 9zm0-5zm-1 2zm-2-6zm-1 4zm-3 1zm-2-7zm-3 3zm-2-2zm-1 2zm-1 8zm0-10zm-4 3zm-3 2zm0 5zm-3-1zm-10-9zm0 4zm-4-2zm-1 6zm-3-7zm-1 2zm-6 5zm0-7zm-3 9zm-1-5zm-1-4zm-4 9zm-2-9zm-2 6zm-2 3zm-1-10zm-1 5zm-4 5zm-3-5zm-5-2zm-1 4zm-4-7zm-3 3zm-1 4zm-5 2zm-5-6zm-1 3zm-2-5zm-1 7zm-3-5zm0 2zm0 3zm-7-9zm-1 10zm-3 0zm-1-6zm-8-3zm0 10zm-1-4zm-1-4zm-4 2zm0 3zm-3 0zm-3-2zm-2-4zm-2 5zm-2-3zm-1 2zm-2-5zm0 8zm0-5zm-5 1zm-1 6zm-2-5zm-3-1zm-3-1zm-2 2zm-1-6zm-2 4zm-5 3zm-4 0zm-2 3zm0-6zm-2-1zm-1 3zm0-6zm-1 4zm-10 3zm-2-4zm-2 7zm-2-8zm-2 3zm-2-4zm-2 3zm-4 6zm-3-9zm0 10zm-3-2zm-3-5zm-1-4zm0 10zm-3-7zm0 7zm-2-2zm-2 3zm-1-4zm-1-3zm-2 5zm-7 2zm-2-6zm0-3zm-1 7zm-1 2zm0-10zm-1 3zm-2 7zm-2-5zm-3 2zm-1-6zm-3 3zm-3 3zm-1-4zm-2-3zm-2 10zm-1-9zm-3 8zm0-7zm-4-1zm-3 4zm-3-2zm-4-2zm-4 8zm-7-8zm-2 0zm0 4zm-2 2zm-3 1zm-1-6zm-1 3zm-2-3zm-2 5zm-1-3zm-5-3zm-4 0zm-5 2zm-2 7zm-4-8zm-3-3zm-1 5zm-1 3zm-17-6zm16 14zm3 6zm4-7zm3 4zm5 2zm3-7zm2 7zm4-8zm1 3zm0 4zm2 2zm4-9zm2 4zm3-1zm6 0zm2 5zm4-4zm1-4zm1 7zm3-2zm1-3zm0 6zm2-9zm5 4zm3-1zm8-3zm3 11zm1-8zm3-3zm0 5zm4 0zm1-3zm4 8zm4-1zm1 2zm4-11zm0 11zm2-6zm4 0zm5 4zm2-6zm4-1zm2 6zm3 3zm1-10zm2 10zm2-10zm2 9zm1-7zm3 8zm2-10zm3 9zm1-3zm4 4zm1-5zm6 4zm0-4zm2 1zm2-2zm0 5zm4-5zm0 4zm2-8zm2-1zm3 4zm3-4zm1 3zm1 3zm2-5zm1 3zm3 6zm1-5zm5 1zm2 2zm3 2zm4-3zm1-3zm6 3zm2-7zm2 7zm0-4zm6 1zm2 2zm3-6zm6 8zm1-6zm2 5zm2-5zm2 8zm4-1zm1-3zm2 3zm1-9zm0 7zm1-3zm3 5zm1-6zm1 4zm1 2zm0-8zm4 0zm3 1zm2 4zm4-4zm1-2zm1 7zm6-2zm0-5zm1 9zm5-7zm1 3zm0 4zm6-2zm0-5zm1 7zm3-2zm3-2zm2-5zm0 10zm5-1zm3-4zm2 5zm1-7zm9 1zm1 5zm3-2zm4-7zm0 7zm6-5zm2 8zm1-7zm3 1zm3 7zm0-10zm1 7zm4-2zm2-5zm1 4zm3 5zm3-8zm1 2zm3 3zm0 4zm7-10zm3 3zm0 4zm3-4zm2-3zm0 6zm7-6zm7 2zm2-3zm2 10zm2-1zm1-4zm4-4zm1 9zm2-8zm0 6zm3-4zm1-2zm2 0zm4-2zm4 11zm4 0zm1-10zm4 3zm9 3zm1-5zm5 4zm0 3zm2 0zm9-8zm5 10zm3-4zm1 3zm2-2zm5 3zm5-9zm1-2zm3 0zm2 10zm6-9zm5 1zm2 5zm6-7zm0 9zm1-2zm3 4zm1-4zm7-2zm1-5zm5 6zm3 4zm0-10zm4 3zm2 7zm2-4zm6 4zm1-7zm2 4zm8-1zm7 0zm7-4zm2 6zm3-7zm6 6zm5-3zm4 4zm17-8zm8 11zm1-7zm3 3zm4 4zm3 0zm0-4zm4-5zm10-2zm13 5zm0 10zm-4-1zm-2-2zm-4 5zm-14-1zm-11-3zm-4 0zm-10 7zm-6-5zm-8 3zm-1-5zm-5 6zm-1 3zm-3-10zm-5 7zm0 3zm-9-3zm-5-1zm-3-5zm-2 10zm-5-10zm-5 5zm-4 1zm-12-6zm-3 10zm-2-9zm-1 5zm-4 2zm-3-3zm-2 5zm-3-4zm-3-7zm-1 11zm-3-3zm-4 0zm-3-5zm-4 3zm-3 3zm-4-8zm-2 6zm0-4zm-4 5zm-6-8zm-3 9zm-1-3zm-3-1zm-3-2zm-5 7zm0-10zm-3 0zm-8 11zm-1-6zm-6-1zm-2 3zm-5 2zm-1-7zm-5 5zm-3-7zm-2 9zm0-3zm-2-6zm-1 3zm0 7zm-2-4zm-6 5zm0-9zm-3 6zm-4-7zm0 5zm-2 1zm-3-5zm-4 2zm-1-2zm-1 2zm-1-4zm0 11zm-6-9zm-1 6zm-2-7zm0 3zm-3 7zm-1-9zm-2 8zm-1-5zm-1-3zm-1 7zm-4 1zm-3 0zm-1-9zm-1 10zm-3-3zm-2-5zm-2 8zm-1-5zm0-4zm-14 4zm-5 4zm0-9zm-5-1zm0 9zm-3-1zm0-4zm-3 6zm-6-9zm-3 0zm-2 9zm-1-3zm0-4zm-3 0zm0 7zm-4-3zm0-4zm0 7zm-6-3zm0-5zm-4 3zm0-4zm-2 8zm-6-4zm-2 2zm-1-4zm-3 0zm-3 4zm-3-1zm-4 0zm-3-3zm-1 8zm-3-6zm-4 2zm0-7zm-9 11zm0-11zm0 6zm-2-3zm-6 4zm-1 3zm-5-4zm-4-6zm-3 7zm0-4zm-1 8zm-2-8zm-1 5zm-1-3zm-2-3zm0 4zm-2 2zm-3-6zm-6 7zm-1-6zm-1 8zm-4-1zm-3-1zm-7 0zm0-5zm-3-1zm-2 7zm0-6zm-3-4zm-2 3zm-1 3zm-4 4zm-3-7zm-2 1zm-5-2zm-5 8zm-3-8zm-1 3zm-5 1zm-2 2zm-3-5zm-3-1zm-3 2zm-3 6zm-1-8zm-5 7zm0-3zm-3 0zm-3 3zm-1-7zm-3-2zm-1 5zm0 3zm-2 3zm-4-2zm-3-6zm0 7zm-2-4zm-3 2zm-5-3zm-3 0zm0-4zm-3 3zm-1 3zm-2-5zm-2 6zm-3 2zm-2-7zm-1 3zm-3-2zm-2-4zm-3 0zm-3 2zm-6 4zm-4 2zm-3 2zm-2 1zm-6-6zm-2 4zm-1-8zm-1 3zm-3-2zm-2-2zm0 7zm-1-5zm-4 7zm0-8zm-1 4zm-4 5zm-4-3zm-1-3zm-5 6zm-9-10zm12 12zm5 3zm6 5zm6-2zm3-1zm0-5zm7 0zm3 4zm2-2zm4-1zm2 5zm1 5zm3-7zm2-2zm0 5zm3 3zm0-4zm3 5zm2-6zm3 5zm1-4zm1-6zm3 1zm6 9zm8-10zm0 10zm4-6zm2 5zm1-7zm2 9zm2-9zm4 7zm1-5zm4 7zm3-3zm2 0zm1-4zm2 7zm3-5zm2-4zm2 3zm4 1zm5 3zm0-3zm5 4zm3-10zm1 3zm4-2zm1 4zm4 2zm3 2zm0-9zm4 2zm2 7zm4-8zm1 3zm3 3zm1-3zm5-2zm3 9zm1-4zm2-1zm2-6zm1 9zm2-3zm5-5zm0 6zm3-4zm2 6zm1-9zm3 9zm1-5zm2 2zm0 4zm2-9zm2 3zm6-1zm8 0zm1 6zm2-9zm4 3zm1 7zm3-4zm1-4zm1 8zm2 0zm1-6zm4 6zm1-5zm3 3zm0-7zm0 3zm2-4zm1 5zm2 4zm1-2zm2-6zm5 4zm0 5zm3-7zm1 5zm2-6zm2 3zm2-4zm2-1zm4 11zm2-7zm4 4zm9 1zm4-4zm1-4zm0 9zm3 1zm4-10zm1 8zm5 0zm2-8zm2 6zm0 3zm2-9zm2-1zm1 7zm0-3zm2 6zm1-2zm2 3zm3-7zm1-4zm0 8zm3-7zm1 5zm8-4zm0 2zm5 6zm3 1zm2 0zm5-10zm2-1zm7 2zm1 6zm5 2zm1-5zm1 3zm1-6zm2 9zm4-7zm4 3zm2-2zm0-4zm1 7zm2-2zm0 4zm2 1zm1-11zm1 7zm1 3zm1-8zm3 1zm1 3zm1 3zm1-5zm4 5zm3-9zm3 9zm5-4zm3 5zm4-6zm0 6zm1-9zm2 4zm1-5zm1 9zm4-7zm2 8zm4 1zm2-8zm1 4zm3-3zm15 1zm2 5zm3-9zm0 5zm4-5zm1 10zm1-10zm1 4zm1 6zm5-1zm4-7zm0 8zm3-6zm2 2zm1-4zm2 3zm5 4zm3-2zm1-7zm13 10zm1-4zm2-1zm2 4zm2-9zm6 2zm2-2zm1 10zm3-5zm7-5zm8 1zm1 7zm11 2zm5-11zm6 6zm2 3zm1-6zm6 1zm5 5zm4-2zm3-1zm2 1zm1-3zm2 7zm1-2zm0-3zm9 5zm3 0zm10-4zm1 3zm1-6zm-1 14zm-7-5zm-11 1zm-2 8zm-1-3zm-3 1zm-6-8zm-2 6zm-3 1zm-3-3zm-3-4zm-1 11zm-4-4zm-13 2zm-1-2zm-5-4zm-2 6zm-4 1zm-1-6zm-3 4zm-8-8zm-4 2zm-5 3zm-1 3zm-3 3zm-12 0zm-4-2zm-5-6zm0 5zm-5-3zm-9 0zm-6-2zm-4 6zm0-3zm-4 4zm0-7zm-3-2zm-1 9zm-2-3zm-1-5zm-2 3zm-2-4zm-3 7zm-3 1zm-6-1zm0-8zm-3 5zm-1 5zm-4-1zm-4-2zm-5-5zm0 6zm-2-7zm-2 10zm-7-5zm-5-3zm-4 4zm-1-3zm-2-3zm-3 7zm-1-4zm-1 7zm0-10zm-9 1zm-2 4zm-2-3zm-2-2zm-10 1zm-10 0zm-1 7zm-5 2zm0-8zm-5 0zm-11 0zm0 6zm-4 1zm-6 0zm0-9zm-3 5zm-6-5zm-5 7zm-2-7zm-3 4zm-2-2zm-3 5zm-1-5zm-4 3zm0-5zm-2 6zm-2-4zm-2 4zm-2 1zm0-4zm-1 2zm-6 2zm-3-5zm0 4zm-1 2zm-4-4zm-1 3zm-4-2zm-4-4zm0 4zm-5-5zm-1 9zm-2-2zm-1-6zm-6 1zm-1 7zm-3-10zm-10 2zm-2 4zm0 2zm-1-6zm-2 7zm-1-3zm-2-2zm-2-3zm-2 7zm-4-7zm-6 6zm-5 1zm-4-1zm-1 4zm0-10zm-8 7zm-5-1zm-1-5zm-2-2zm0 4zm-3 0zm-2-4zm-6 6zm-1-3zm-3-3zm0 10zm-1-5zm-4 1zm-2-6zm-2 9zm-4 2zm-6 0zm-1-8zm-5-1zm-1 9zm-2-9zm0 4zm-5-2zm-4 0zm-3 4zm-1-7zm-2 3zm0 2zm-7-2zm-3 3zm-2-4zm-3-2zm-2 5zm0 5zm-5-10zm-1 7zm0 3zm-3-5zm-3 0zm-5-1zm-2 5zm-3-7zm0 6zm-3-7zm-4-1zm-5 0zm-3 3zm-1 4zm-3-7zm-3 9zm-4-7zm0 6zm-1-4zm-3-2zm-9 3zm-3-4zm-2 6zm-2-3zm-1 4zm-7-8zm-1 6zm-3 0zm-4-6zm-3 3zm-1-3zm-2 7zm-3 3zm0-8zm-3-2zm-4 1zm2 10zm3 6zm3 0zm2 4zm4-10zm1 5zm10-3zm1 5zm4-2zm2 6zm5-11zm9 7zm2-3zm2 4zm0-6zm2-1zm11 3zm2 6zm3-9zm5-1zm1 10zm3-10zm4 4zm0 5zm4 0zm1-6zm1 3zm4-2zm3 1zm1 4zm2-6zm0 6zm2-2zm4-2zm1 5zm2-5zm1-2zm0-3zm1 10zm5-9zm2 9zm1-4zm2 3zm2-9zm0 9zm2-7zm4 1zm3-2zm6 3zm4 2zm2 0zm1 3zm2-3zm4-4zm3 8zm5-2zm5-7zm2 0zm3-1zm1 7zm6-4zm1 4zm0 2zm4 2zm1-9zm0 5zm3-2zm4 1zm0 5zm2-9zm4 1zm12-1zm3 9zm4 0zm1-4zm1-7zm3 8zm2 3zm1-10zm1 8zm2 2zm1-9zm2-2zm3 0zm1 9zm2-8zm1 3zm3 1zm1-3zm4 0zm2 6zm1-8zm2 9zm1-9zm4 4zm2 5zm1-4zm4-1zm0 7zm0-4zm3 0zm2-5zm2 4zm1-6zm10 3zm1-3zm1 11zm5-5zm1-5zm1 2zm2 4zm2 2zm0-8zm3-1zm2 6zm1-3zm1 5zm3 1zm1-7zm2-2zm3 4zm0 7zm4-7zm1-3zm0 9zm2-1zm3 0zm0-6zm3 2zm3 4zm3-1zm3-4zm0 7zm2-10zm2 3zm0 3zm1 2zm3-8zm1 4zm4 1zm0 5zm3-10zm1 8zm2-4zm8 5zm1-10zm2 8zm3-3zm0 4zm6-8zm3 7zm0-3zm4 0zm4 2zm6-4zm2 4zm4 3zm2-10zm0 5zm1 3zm1-6zm2-1zm6 6zm2-4zm2-1zm1 7zm7-9zm4 7zm5 2zm1-6zm3 3zm0 3zm2-8zm1 9zm2-9zm0 3zm4-3zm7 0zm2 10zm1-6zm6-5zm2 11zm2-6zm0-3zm3-2zm2 8zm7-2zm9-3zm1 3zm4-1zm6 0zm0 5zm2-8zm2 4zm1-4zm3 4zm2-2zm3-3zm3 3zm15 6zm1-9zm8 2zm1 5zm2-5zm0-3zm8 8zm0-5zm16 0zm1 8zm2-10zm11 1zm4-2zm2 4zm3 16zm-14 2zm0-9zm-2 4zm-5 0zm-3 4zm-4-6zm-8 0zm-3 1zm-10-2zm-5 7zm-14-2zm-1-2zm-6 1zm-10 4zm-1-3zm-5 4zm0-4zm-3-7zm-1 2zm-4 7zm-2-4zm-5-4zm0 5zm-2-1zm-1 5zm-6-9zm0 9zm-4-2zm-1-4zm-2 6zm-1-7zm-1 4zm-4-6zm-4 7zm-2-4zm-4-4zm-1 8zm-3-6zm-4-2zm0 4zm0 5zm-6-3zm-5 3zm-3-8zm-4 5zm-2-5zm-1 7zm-5-6zm-1 4zm-1 2zm-1-7zm-8 2zm-2 5zm-3 3zm-6-5zm-4 2zm-1 3zm-4-6zm-8-2zm-1 4zm-3-4zm-3 7zm-3 1zm-1-8zm-4-1zm0 8zm-3-7zm-2 7zm-1-3zm-1-5zm-2 5zm0-3zm-2 0zm-1 6zm-4-8zm-4-2zm0 11zm-4-5zm-4-5zm0 9zm-3-2zm-3-4zm-2 5zm-3-8zm0 4zm-2 2zm-5-2zm0 4zm-3 2zm-1-10zm-9 9zm-2-8zm-2 7zm0-7zm-4 8zm0-9zm-1 5zm-2-3zm-9 2zm-1 4zm-2-7zm-3 2zm-3 7zm-1-6zm-1 2zm-1 4zm0-7zm-3 6zm-2-5zm-1 2zm-1-4zm-1 7zm0-10zm-1 6zm-3-1zm0 2zm-4-3zm-1-4zm-2 7zm-1-4zm-2 7zm-3 1zm-5-10zm0 8zm-1-5zm-6-3zm-2 9zm-1-4zm-7 2zm-5-1zm-2 0zm-3-5zm-2 8zm-2-1zm-4-7zm-3 7zm-1-8zm-2 4zm-3-2zm0 6zm-3-2zm0-5zm-3 1zm-2 2zm-3-4zm-3-1zm-3 2zm0 5zm-2 4zm-1-8zm-3 6zm0-5zm-1-4zm-4 0zm-4 1zm-6 9zm-1-10zm-8 2zm-2 1zm-6-1zm-3 5zm-5 4zm-2-11zm-1 4zm-6 2zm-7-6zm-2 11zm-2-5zm-3 1zm-1-7zm-3 10zm0-8zm-1 4zm-2-5zm-3 9zm-2-9zm-2 7zm-3-4zm-2-1zm-1 4zm-4-5zm-6 3zm-1 4zm-5-9zm-5 10zm-3-6zm-1 5zm0-8zm-4 3zm-3 4zm-2-2zm-9-3zm-1 8zm-1-5zm-7 1zm0-4zm-4 1zm-7-3zm-5 5zm16 13zm1-3zm8 6zm3-10zm3 4zm1 7zm3-10zm0 5zm3-1zm1-4zm1 9zm9-1zm0-4zm3 0zm4 2zm1 2zm3-8zm7 5zm2-3zm0 8zm1-11zm1 9zm2-5zm1 5zm3-8zm1 5zm2-3zm7-1zm1 3zm0 6zm7-7zm7 0zm3 1zm7 2zm0-4zm4 4zm3 4zm1-11zm1 4zm1 2zm1 4zm0-8zm3 4zm1 2zm2-7zm1 4zm7 5zm5-1zm4-7zm0 4zm0 3zm4-6zm4-2zm2 7zm0-3zm2-3zm5 6zm0-8zm4 9zm0-9zm9 1zm0 7zm3-1zm2-7zm4 5zm1 3zm2-7zm0 5zm1 4zm4-3zm3 1zm2-5zm1 7zm2-5zm1-5zm1 8zm0-4zm4-1zm3-2zm2 0zm2-1zm1 11zm4-7zm1-3zm4 1zm5 1zm1-3zm10 11zm1-7zm1-4zm3 8zm2-5zm2 4zm4-2zm1 4zm3 1zm0-7zm4 0zm3 5zm0-6zm5 8zm0-6zm9-2zm1 8zm1-4zm4-6zm1 7zm2 4zm6-6zm0 2zm1 4zm4-3zm1-7zm3 10zm0-10zm8 0zm4 8zm4 0zm1-5zm2 6zm4-4zm1-5zm2 6zm2-6zm2 6zm2-2zm1 2zm2-6zm1 4zm2-2zm2-1zm8 9zm1-8zm3-2zm1 6zm4 1zm0-6zm2 7zm3-6zm4 2zm0 3zm2-2zm2 1zm0-5zm1 3zm2 4zm1 2zm2-9zm4 8zm1-3zm2-6zm2 3zm3 6zm4-10zm5 5zm3-5zm4 11zm6-7zm1 7zm0-4zm4 1zm0-5zm2-2zm1 3zm9-4zm1 10zm1-6zm3 3zm3 3zm8-2zm1 3zm9-4zm2-6zm1 10zm1-3zm11-1zm5 1zm4-2zm5-3zm3 5zm1-3zm11 3zm1-4zm9-2zm2-2zm1 4zm4-4zm1 6zm16-4zm12 2zm-6 9zm-3 5zm-19-3zm-1 2zm-2-3zm-7 8zm-5-3zm-1-3zm-9 5zm-2-7zm-1 7zm-5 0zm-7-4zm-1 5zm-2-10zm-1 6zm-2-5zm-1 7zm-1-3zm-6 2zm0-6zm-4 8zm-4-3zm-6-1zm-7 0zm-3 5zm-1-3zm-3-3zm-3-1zm-2 5zm-1-5zm0 8zm-4-7zm-1 5zm-7-3zm-3 1zm-4-6zm-1 7zm-4-3zm-3 4zm-5-5zm-2-3zm-3 7zm-2 3zm-3-7zm-3 3zm-1-7zm-2 4zm-3-2zm-3 5zm-5 1zm-3-7zm-5 10zm-1-9zm-1 4zm-2-4zm-1 8zm-3-9zm-1 8zm-2-6zm-4 2zm-6 1zm0-4zm-4 0zm-2-2zm0 8zm-2 3zm-2-1zm-3-1zm-3 0zm-1-4zm-2 2zm-13 2zm-2-8zm-3 8zm-6-2zm0 4zm-2-9zm-4 0zm-3 2zm-5 2zm0 3zm-1-6zm0-3zm-3 5zm0 3zm-2-4zm-1-4zm-3 1zm-1 3zm-1 4zm-2-3zm0-4zm-3 8zm-1-4zm-1-3zm-2 5zm-1-6zm-2 3zm-5 5zm-3-1zm-1-5zm-2-2zm-3 3zm-2 7zm-3-6zm-3 4zm-6 2zm-2-10zm-2 10zm-3-2zm-6-3zm-2 3zm-1-6zm-2 7zm-2-8zm-3 6zm-6-5zm-1 8zm-2-7zm-4 0zm-1 7zm-6-5zm0-4zm-3-2zm0 8zm-1 3zm-2-10zm-3-1zm-1 6zm0-3zm-2 8zm-1-11zm-4 4zm-2 5zm-1-6zm-3 6zm-4 1zm0-10zm-1 2zm-3-2zm0 7zm-4 1zm-1-6zm-1 9zm-2-5zm-1-6zm-9 9zm-2-8zm-1 2zm-2 6zm0-4zm-2 2zm-2 2zm-3-8zm-1 8zm-2-3zm-5 0zm-2-4zm0 9zm-1-7zm-2 3zm-1-6zm0 4zm-4-3zm-4 9zm-1-5zm-1-6zm-6 11zm-1-7zm-3-1zm-2-3zm-2 7zm-3 3zm-1-4zm0-3zm-2-1zm-1 5zm-2-4zm-3 0zm-8 4zm-1-4zm-7 5zm-6-1zm-1-3zm-3-3zm-2 5zm-4-4zm-1 4zm-2-3zm-3 5zm-2-2zm-1-4zm-2-1zm-5 4zm-6 5zm-4-6zm-4-1zm0 6zm-12 6zm17-3zm11 4zm1-4zm2 2zm4 5zm3-5zm1 8zm8-1zm1-3zm2 4zm3-1zm1-7zm3 3zm4-5zm1 10zm6-8zm0 6zm3-1zm0-6zm3 0zm0 6zm2 4zm0-7zm9-3zm1 6zm6-7zm0 6zm4 2zm3-7zm0 2zm2 6zm0-3zm7 0zm3-5zm3 5zm4-5zm1 4zm0 5zm3-8zm3 6zm1 3zm1-9zm1 4zm2-4zm3-2zm3 11zm1-4zm2-2zm0-5zm4 9zm1-3zm2 5zm2-8zm10-1zm5 9zm3-1zm4-7zm0 7zm4-9zm5 5zm4 3zm4-3zm2-1zm2 2zm2 2zm2-5zm6 2zm0-3zm1 7zm1-9zm1 4zm1-5zm1 8zm1 3zm4-3zm0 3zm2-1zm1-6zm3 2zm2-5zm2 8zm1-3zm3 1zm4-1zm4 3zm5 1zm0-4zm4 4zm4 1zm7-4zm3 2zm1-7zm0 3zm4 4zm2-4zm2 6zm2-11zm2 9zm1-6zm7 7zm2-3zm1-6zm1 4zm2 6zm2-4zm0-4zm4 8zm2-6zm3-1zm2-4zm2 1zm2 1zm2 8zm0-6zm6 2zm7 2zm1-7zm0 10zm3-2zm3-3zm2-4zm4 8zm1-4zm4-3zm3-3zm4 2zm1 7zm3 0zm3-7zm2 8zm1-3zm6-3zm2 2zm4-3zm4-1zm3 9zm1-11zm0 2zm2 2zm1 6zm8-8zm3 0zm2 8zm3-2zm2-6zm0 4zm3-2zm2 4zm8-4zm0-2zm2-1zm5 9zm3 1zm6-9zm5 5zm3-3zm0 2zm1 5zm2-6zm2 6zm0-8zm0 3zm1-6zm11 6zm0-5zm0 9zm6-8zm1 8zm2-10zm1 8zm0-2zm4-4zm7 6zm0 3zm3-8zm6 2zm3 2zm1-2zm36-5zm-26 17zm-17-1zm-2-3zm-5 2zm-6 3zm-3 3zm-2-6zm-2 0zm-2 8zm-2-2zm-3-2zm0-5zm-2 3zm-9 2zm-6-6zm-3 3zm-5-4zm0 6zm-6 3zm-3-4zm-2-5zm-1 10zm-1-6zm-2 4zm-5 3zm-6-11zm-3 4zm-4 2zm-1 5zm-2-10zm-1 7zm-2 0zm-2-4zm-2 5zm-5-2zm-3 4zm-5-6zm-6 0zm0-5zm-11 3zm-1 3zm-1 4zm-1-8zm-2 9zm-2-11zm-8 7zm-3 3zm-3 1zm-2-6zm-1 2zm-3-2zm-1 5zm-7-2zm0-5zm0 8zm0-11zm-4 7zm-2-3zm-1 3zm0 4zm-3-5zm-1 4zm-1-10zm-1 6zm-3 4zm0-9zm-2 3zm0 6zm-3-9zm-2 6zm-1 4zm-5-7zm-1 6zm-4-9zm0 10zm-3-6zm-1-3zm-4-1zm-3 0zm-2 9zm-2-7zm-2 4zm-2 4zm-3-5zm-4-1zm-2-1zm-6 3zm-7-4zm-1 3zm-1 2zm-3 0zm0-4zm-1-2zm-3 9zm-7-4zm-4-7zm-2 11zm-1-8zm-3 1zm-2 4zm0-6zm-2 8zm-4 1zm0-11zm-2 5zm-4 2zm-1-3zm-3 2zm-3-6zm-1 9zm-2-9zm-1 11zm-1-5zm-3 0zm-2 3zm-2-6zm-2 8zm0-4zm-2-7zm0 3zm-2 3zm-5 1zm-2-5zm-4 7zm-1-2zm-5-7zm-3 11zm-3-1zm-1-4zm-2-2zm0 7zm-3-8zm-4 0zm-2-1zm0 7zm-5-4zm-2-2zm-3 6zm-4-8zm-3 9zm0-7zm-5 3zm-2-6zm-1 3zm0 7zm-11-10zm-4 3zm0 7zm-4 1zm-1-10zm-1 4zm-2-5zm-2 3zm-4 2zm-4 1zm-5 1zm-4-6zm-1 5zm-6-5zm-6-1zm-3 7zm-4 1zm-14-8zm0 11zm0-7zm-12-2zm-8 0zm22 18zm4-1zm1 2zm4-2zm1-4zm2 6zm2-3zm5 2zm3-8zm1 11zm0-8zm3 6zm2-8zm0 2zm2 3zm2 1zm1-4zm3 7zm1-5zm1 3zm2-2zm2 2zm2-6zm3 3zm1-3zm3 3zm4 4zm2-8zm2 8zm1-4zm4 6zm1-4zm0-6zm5 6zm0-3zm3 2zm1 4zm2-7zm1 6zm4-3zm3 2zm2 2zm4-4zm0 5zm2-10zm2 6zm8-1zm1-3zm4 0zm4-2zm1 4zm1 6zm1-3zm2-8zm1 3zm4 8zm3-5zm3 2zm1-4zm3 6zm3-8zm1 7zm6-6zm0 5zm3 2zm1-6zm0-4zm2 7zm3-1zm3-3zm3-2zm5 6zm3-3zm2 5zm3-4zm2 4zm3-6zm1 4zm2 4zm4-5zm4-2zm5 0zm2-3zm2 4zm3 2zm2 2zm8-2zm1-3zm1 6zm2-1zm1-8zm2 9zm0-5zm5 1zm0 5zm2 0zm2-3zm7-4zm2 7zm5-4zm1-2zm4 0zm3 4zm4-7zm0 9zm3-1zm2-10zm0 7zm3-4zm4 1zm2 3zm5-1zm4 0zm5 3zm1-4zm1-4zm1 6zm9 0zm0-4zm3 0zm6-2zm3 5zm3 0zm1 2zm7 1zm1-7zm3 3zm1-5zm2 6zm3 1zm0-4zm0-3zm2 5zm0 6zm5-4zm6-5zm3 0zm1 4zm6 2zm0-7zm3 1zm1 5zm1-4zm3-3zm3 8zm2 2zm1-5zm9 6zm9-3zm0 3zm5-8zm4 0zm0 3zm1 2zm5-1zm8-7zm1 7zm6-4zm6 1zm4 1zm5 6zm1-8zm1 5zm3-2zm7-2zm2 0zm5 2zm2-4zm3 2zm5-3zm8 1zm-11 16zm-12 2zm-6 0zm-1-2zm-2 2zm-3-5zm-6 0zm-3 6zm-2-5zm-2-3zm0 9zm-2-5zm-4 4zm-1-8zm-4 2zm0-3zm-14 2zm-4 1zm0 2zm0 3zm-2-8zm-3 10zm-1-7zm-1 4zm-4 0zm-2-2zm-3-3zm-2 8zm-1-2zm-5 2zm-5-3zm-3 3zm-3-6zm0 5zm-1-8zm-5 2zm0 4zm-2 2zm-2-9zm-3 8zm0-6zm-7-1zm-4 10zm-6-6zm-2-1zm-3 6zm-1-5zm-2-5zm-1 3zm-1 5zm-2 1zm-3-2zm-1-7zm-3 9zm-1 2zm-1-5zm-3-1zm-1 6zm-4-4zm-1 3zm-2-10zm-2 8zm-3-3zm-2 4zm-9-3zm-1-4zm-1 8zm-2-6zm-3 1zm-3 1zm0 5zm-2-6zm-2 3zm-8 1zm-1-5zm-2 4zm-2-7zm-2 10zm-1-9zm-6 1zm-2-1zm-1 3zm-1-4zm-2 8zm-2-3zm-3-5zm-2 3zm-2 2zm-7-6zm-2 8zm-2-2zm-4-3zm-3 3zm0-4zm-4 7zm-2-6zm-2 5zm-4-7zm-1 6zm0 4zm-3-3zm-2-1zm-5 0zm-1-6zm-1 3zm-1 6zm-2-10zm-2 2zm-3 8zm-2-8zm-1 6zm-3-2zm-3 2zm-3 1zm-1-7zm-3 8zm0-4zm-5-5zm0 8zm-4-3zm-1 5zm0-8zm-4 7zm-3-7zm-2 5zm-1-8zm-2 1zm-3 9zm-3-2zm-5-6zm-2 4zm-1-5zm-2 7zm-3-7zm-2 6zm-5 0zm-8-7zm-3 6zm-3-2zm-4 5zm-3-2zm-5-6zm-3 4zm-4 6zm-2-6zm-2-3zm-11 4zm-1 5zm-4-4zm-1-3zm-12 5zm-3-5zm-2 2zm-2 3zm0-8zm-4 5zm-7 3zm-6-5zm-1-4zm-4 1zm-1 7zm12 9zm5 1zm13-3zm5-1zm6-2zm1 8zm3-3zm4-5zm0 9zm9 2zm0-5zm3 4zm2 1zm3-11zm0 9zm4-6zm4 6zm1-6zm2-2zm1 7zm0 3zm2-9zm2 6zm1-3zm5 2zm2 4zm3-3zm5-2zm3 2zm5-7zm3 1zm2 8zm2-7zm3 8zm0-2zm3-8zm1 5zm1-3zm1 7zm1-10zm1 6zm4 4zm1-6zm1 2zm7-3zm1 7zm11 0zm1-5zm0-5zm4 1zm5 1zm0 5zm2-4zm1 4zm6-7zm1 10zm3-1zm4-4zm1-5zm3 6zm1 2zm2-4zm2 2zm2-2zm2 5zm3-6zm2 5zm1-8zm2 7zm0 3zm1-9zm0 3zm1 3zm2 2zm0-9zm6 4zm1 4zm1-7zm1 10zm2-8zm3 3zm2 4zm6-10zm1 8zm2-4zm1 4zm3-7zm1 8zm2-2zm3 0zm0-4zm1 8zm1-7zm2 7zm0-10zm7 4zm0 2zm3-5zm2 5zm4-6zm1 5zm6-3zm5-3zm4 3zm6 0zm1 3zm3 5zm2-5zm8-4zm1 4zm1 3zm3-3zm1-3zm1 7zm0-9zm3 8zm3 2zm1-11zm1 6zm2-4zm5 8zm1-6zm4 6zm1-5zm6 3zm3 1zm0-8zm4-1zm3 0zm3 7zm3 4zm0-11zm3 5zm3 2zm6 0zm0-5zm3 3zm9 4zm0-3zm3-4zm4 7zm2-7zm1 8zm1-5zm4 2zm1-5zm2 3zm7-4zm10 5zm1-6zm8 10zm0-5zm2-2zm1 4zm0 3zm6-10zm2 5zm3-5zm3 1zm-6 22zm-7 0zm-5-8zm-5 4zm-8 0zm-3-7zm-5 7zm0-4zm-3 2zm-4 4zm-5-8zm-1 8zm-3-2zm-6-3zm0 7zm-2-1zm-2-2zm-8 1zm-6-9zm-5 10zm-3-7zm-2 7zm-3-10zm-1 4zm-2-3zm0 6zm-2 1zm0-5zm-1 7zm-2-2zm-1-6zm-1 4zm-1 2zm-1 3zm-3 0zm0-4zm-3-4zm-8 3zm0 2zm-4-2zm-2 4zm-3-8zm0 8zm-3 0zm-7-8zm-1 3zm-2 3zm-1-3zm-1-5zm-5 5zm-4 1zm-1 3zm-3 0zm-2-2zm-2 3zm-4-3zm-3-1zm-2-1zm-2 5zm-3 0zm-3-10zm0 11zm-3-10zm-5 0zm-3 10zm-1-5zm-1 3zm-3-6zm-2 2zm-1 4zm-2-9zm-2 9zm-1-7zm-6 4zm-1-3zm-2 6zm-3-8zm-1 5zm-1 5zm-1-8zm-1-2zm-2 9zm-1-10zm-2 8zm-2-6zm-2 4zm-1-4zm0 8zm-3-5zm-3-4zm-2 4zm-2 4zm-5 2zm-1-6zm-1-4zm-6 6zm-5-5zm-5 4zm-1 5zm-2-11zm-4 6zm-8 1zm-4 4zm-1-2zm-1-2zm-1-7zm-3 9zm0-6zm-4 8zm0-5zm-6 5zm-1-7zm-1-2zm0 7zm-2-2zm-1-6zm-3 4zm0 6zm-1-10zm-2 3zm0 4zm-7-6zm-1 7zm-2-7zm-4 6zm-2-3zm-14-3zm-4 8zm-3 1zm-4-5zm-6-6zm-3 6zm-2-1zm-1 5zm-2-4zm-5 4zm-3-6zm-4 0zm-5-1zm-4 2zm-3 3zm-5-5zm-6 1zm-1 5zm-5-6zm-2 10zm5 9zm3-9zm1 8zm8-7zm2-2zm2 8zm5-6zm2-2zm2 3zm3 6zm2-9zm2 9zm0-5zm5-3zm1 7zm3-7zm6 3zm0 4zm5-8zm0 7zm3-4zm3 4zm2 4zm4-5zm5-6zm3 6zm4 0zm6-5zm5 2zm3 6zm3 2zm1-8zm2 5zm1-3zm3-2zm1 7zm4-2zm1-6zm1 8zm2-9zm12 2zm1 5zm2-3zm0 4zm3-5zm1 6zm1-10zm4 2zm1 7zm4-1zm1-3zm1 5zm5-5zm2-1zm2 5zm3-5zm1 3zm3 2zm3-1zm1-2zm3-4zm6 1zm2 5zm0 2zm2-2zm3-3zm3 5zm5-1zm2-4zm2-3zm1 5zm3-1zm2-1zm4-4zm1 10zm1-6zm4-1zm4 3zm2-4zm1 4zm3-4zm1 6zm5-6zm2 7zm14-10zm12 2zm2 6zm1-2zm0-6zm4 6zm3-1zm5-2zm4 4zm8 3zm0-9zm3 4zm2 3zm2-4zm3 6zm1-9zm6 6zm10-6zm2 3zm9 2zm4-3zm1 7zm5-5zm1 6zm5-5zm1-6zm2 11zm8-4zm0-5zm0 9zm2-7zm1 4zm2-4zm0-4zm1 7zm2 3zm2-4zm0-5zm3-1zm3 5zm2 0zm1-5zm1 8zm9 2zm4-4zm1-3zm0-2zm4 2zm4-3zm8 11zm-7 11zm-7-9zm-2 9zm-2-2zm0-4zm-21-3zm-3 4zm-2-4zm-3 4zm-4 1zm-6-3zm-4 0zm0 3zm-3 5zm-4-5zm-1-4zm-7 6zm-2-4zm-13-4zm-2 10zm-1-4zm-2-2zm-2 5zm-9-8zm-2 4zm-2 1zm0-4zm-2 9zm-3-10zm-1 6zm-4-5zm-3-2zm-1 9zm-2-7zm-4 0zm-3 8zm-9-10zm-2 6zm-4-5zm-2-1zm0 11zm0-3zm-2-5zm-2-3zm-9 1zm-2 3zm-3-3zm-2-1zm-1 9zm-3 2zm0-9zm-3 7zm-3-6zm-1 2zm-3 4zm0-8zm-2 5zm-2-2zm-10 3zm-1-6zm-1 10zm-6-9zm0 4zm0 3zm-3-7zm-1 4zm-4-1zm-5 4zm-3-9zm0 10zm-1-5zm-3 6zm-4-7zm-2 2zm0-6zm-3 2zm-3 3zm-3-3zm-5 0zm-2 7zm-3-2zm-6 1zm-1-7zm-4 4zm-5 5zm-1-4zm-2-2zm-1 2zm0-5zm-3 3zm-2 5zm-3-6zm-1 5zm-3-1zm-1 4zm-1-9zm-4 9zm-1-5zm-1-5zm-2 4zm-1 6zm-1-5zm-5 0zm0-4zm-1-2zm-2 8zm-5 1zm-5-8zm-1 5zm-4 3zm-7-8zm-1 3zm-2 3zm-4-6zm-3 3zm-1 4zm-2 3zm-2-8zm0 5zm-3-4zm0-4zm-3 2zm-3 6zm-1-5zm-1 4zm-2-6zm-1 5zm-2-5zm-5 4zm-9-1zm-6-2zm24 20zm2-4zm3-6zm1 6zm5 1zm4-3zm4-3zm1 4zm2 5zm3-2zm4-7zm3 9zm1-9zm1 10zm2-11zm0 9zm2-5zm6 0zm3 5zm1-4zm6 0zm5 1zm4-4zm1 6zm3-2zm8-2zm2 4zm1 3zm0-8zm1-2zm3 8zm1-5zm3 4zm1-3zm3-2zm2 8zm1-2zm7 2zm0-6zm2 3zm1-5zm4 1zm2 3zm3 1zm2-6zm2 5zm4-4zm4 8zm0-9zm2 7zm0-5zm3 1zm1-4zm1 10zm2-7zm3-3zm3 3zm4 0zm1-3zm2 3zm2-4zm2 11zm0-3zm1-6zm1 3zm4-3zm0 2zm4 2zm2 5zm2-11zm4 5zm5-5zm5 6zm2 3zm3-1zm1-4zm1-3zm6 3zm4 3zm10-3zm2 3zm3 3zm1-8zm2 8zm3-10zm0 3zm6 3zm3-5zm2 1zm3 1zm1 3zm4-2zm3-3zm3 6zm5 3zm3-4zm1-3zm4 0zm1 3zm3-5zm2 6zm3 2zm5-5zm0 3zm9-6zm8-1zm2 3zm11 3zm16 2zm1-7zm-31 15zm-6-4zm-13 6zm-4-6zm-11 11zm-3-6zm-3-2zm-1 8zm-2-10zm-6 5zm-6-1zm-5 2zm-4-2zm-3 5zm-3 1zm-5-10zm-1 6zm-1 2zm-1-9zm-3 6zm-3-4zm-3 8zm-8-8zm-3-2zm-2 5zm-1-5zm0 11zm0-5zm-2-2zm-2 0zm0 5zm-9-8zm-3 7zm-4-4zm-3 6zm-4-5zm-4 4zm-5-8zm-5 3zm-3-4zm-3 3zm-7-3zm-1 9zm-5-3zm-2-5zm-5 8zm-3 2zm0-7zm-1 2zm-2 3zm-2-6zm-1-3zm-1 11zm-1-4zm-1-4zm-2 7zm-8 1zm-3-6zm-2 3zm-7-1zm-7-2zm-4 4zm-8-2zm-2-3zm-1-3zm-1 5zm-2-2zm-2 6zm0-6zm-1 3zm-4-7zm-5 4zm-3-3zm-4 0zm-1 2zm-7 0zm0 4zm-4 3zm-9-5zm5 9zm25 6zm1-4zm10 1zm8-2zm0 5zm3-3zm1-5zm2 2zm8 2zm3-4zm4 7zm2-6zm3 1zm0 4zm0 3zm9-6zm1 3zm3 2zm4-1zm0-5zm4-1zm0 4zm3 5zm1-10zm3 11zm2-8zm2 3zm2 3zm3 1zm2-6zm3 4zm3-1zm3-1zm0-5zm7 10zm4-6zm0 3zm5-8zm1 7zm2-7zm3 11zm0-4zm4 1zm1-6zm5-2zm1 10zm2-3zm1-3zm6 4zm1 3zm6-11zm2 8zm4 1zm3-8zm0 4zm2 5zm4-3zm0-4zm8 6zm4 0zm7-1zm5-5zm4-2zm0 7zm7 3zm7-6zm19-2zm-60 18zm-1-9zm-13 0zm-3 5zm-3 3zm-3 0zm-5 3zm-2-6zm-5 3zm-9 1zm-2-2zm-2-4zm-5 2zm-3-1zm-2 4zm-1 3zm-1-10zm-1 5zm-4-4zm-1 7zm-1-9zm-1 4zm-10 4zm-1-3zm-3 3zm-5 3zm0-11zm-2 10zm-4-4zm-3 2zm-2-3zm-1-3zm-1-2zm-1 4zm-8 5zm-4 0zm-9 1zm-3-5zm-7 4zm-8-4zm-10-5zm7 14zm20 0zm6-1zm2 8zm2 2zm6-9zm6 0zm3 7zm10-1zm5 0zm4-4zm1 7zm1-10zm2 7zm7-1zm15-4zm9 8zm32-10zm2 1zm-49 13zm-19 8zm-9-4zm-2-3z" stroke="#d0cec8" stroke-width="4.60" stroke-linecap="round" fill="none"/>
<path transform="scale(0.5)" d="M2455 2354zm104-1zm-75 12zm-45 10zm60 14zm-4 9zm-102 6zm71-1zm80 15zm-74 1zm-53 2zm-8 6zm13 3zm105 15zm-57 2zm-1-11zm-65 10zm-28 9zm102 0zm133 16zm-147-8zm-26 0zm-17 0zm-9 3zm-64-2zm29 13zm92 6zm57-10zm18 3zm43 5zm48 2zm42-2zm12 7zm-64-2zm-94 7zm-74-2zm-37-4zm-55-1zm-13-2zm27 14zm32 3zm19-1zm32 5zm112-1zm7-5zm28 7zm8 1zm-32 11zm-4-8zm-28-2zm-9 0zm-17 2zm-60 9zm-31-10zm-7 5zm-26-3zm-68 0zm61 17zm85-8zm45 2zm50 2zm26-4zm62 0zm23 6zm23-2zm28 8zm-15 5zm-94-2zm-86-2zm-40 3zm-58 1zm-9-1zm-85-4zm-26 16zm11 5zm22-4zm168 2zm26-7zm41 1zm168 2zm-71 17zm-71 3zm-19-9zm-11 2zm-25 0zm-29 2zm-104-2zm-36 17zm7-8zm65-1zm20 6zm8 3zm82-5zm4 7zm11-1zm71-9zm175 6zm-82 6zm-29 2zm-79 8zm-41-8zm-118 8zm-58-6zm-76-1zm10 11zm12-1zm160-2zm16 7zm13-2zm11 3zm15-8zm22 0zm15 7zm134 0zm36 11zm-237 3zm-54-3zm-105 9zm44 5zm52-5zm15 2zm12-4zm60 9zm101-10zm43 15zm-122 0zm-19 3zm-18-1zm-21 2zm-67 1zm-21-7zm52 19zm27-2zm15-6zm58 9zm25 0zm206-6zm65-3zm-187 19zm-19-4zm-25 7zm-109-9zm-10 3zm-46 3zm-10-2zm-168 3zm0 11zm175-3zm18 2zm23 3zm36-7zm191 5zm10-4zm-35 11zm-64 4zm-31 2zm-145-3zm-170-4zm54 18zm182-6zm41 0zm223 19zm-22-1zm-36 0zm-120-6zm-87 1zm-42 3zm-45-5zm-38 10zm-38-9zm69 16zm138 1zm70-1zm49-2zm32 8zm203 2zm-271 7zm-143-2zm-77 3zm-84-1zm221 8zm103 6zm116 11zm-152-4zm-26-3zm-26 5zm-107 1zm-63 2zm-48-5zm34 13zm23-6zm23 5zm116-2zm30 4zm46 0zm30-2zm15 5zm70 0zm42-8zm27 2zm45 7zm-59 4zm-18 4zm-32 0zm-139-2zm-63-3zm-11 5zm-107 2zm-48 13zm135-7zm63 3zm17 0zm61-5zm62-1zm10 0zm64 10zm-40 13zm-21-6zm-180 5zm-13-10zm-28 5zm-17-5zm-89 3zm-48-1zm-5 20zm19-3zm155-1zm60 5zm208 3zm-50 1zm-19 3zm-108 1zm-113 4zm-4-9zm-94 5zm59 14zm80 2zm25-1zm170-6zm17 18zm-36-1zm-50-6zm-200 5zm-30 9zm72 0zm35-5zm25 6zm24 3zm61-8zm37 7zm-6 14zm-115-5zm-61 1zm-6-6zm-89 21zm44-7zm59 1zm74 5zm10-1zm95-5zm12 2zm35 13zm-54 1zm-11-4zm-130 2zm19 12zm132 9zm-46 2zm-80 39zm-16 6z" stroke="#e03323" stroke-width="5.80" stroke-linecap="round" fill="none"/>
<path transform="scale(0.5)" d="M2548 2321zm-54 49zm-75 38zm66 1zm24 14zm71 28zm-18 17zm-32 13zm159 14zm-205-5zm-93-2zm-7-3zm2 17zm222-5zm64 10zm-121 11zm-10-8zm-144 5zm49 15zm219 13zm-218 4zm32 8zm117-1zm41-1zm-121 3zm-103 0zm-50 22zm134-7zm18 3zm176 2zm-45 7zm-197 7zm-31-4zm-31 7zm82-1zm63 1zm49 10zm38-11zm97 10zm-216 8zm-135 7zm49 6zm106-2zm19-3zm57-1zm168 1zm-246 13zm-148 3zm-19-5zm77 21zm126-8zm34 5zm65-5zm94 20zm-367-3zm-22 14zm239-7zm9 4zm9-2zm174 15zm-44 4zm-90-2zm-41-1zm-22-7zm-113 0zm364 15zm127-2zm-428 15zm53 18zm61-1zm141-6zm70 12zm-442 2zm-14 17zm93-8zm32 7zm269 8zm-8-3zm-365 14zm11 2zm420-3zm-155 11zm-167 6zm-92-2zm-50-3zm88 13zm185-2zm70 2zm-98 18zm-100-9zm-19 4zm235 27zm-178-7zm-62 7zm85 4zm138 31zm39 11zm-288 11zm214 3zm-82 7zm-119 16zm212 4zm-100 5zm-59-1zm63 37z" stroke="#111" stroke-width="5.80" stroke-linecap="round" fill="none"/>
<text x="0.3" y="29.6" font-size="38" font-weight="bold" stroke="#000" stroke-width="1.0" stroke-linejoin="round" textLength="20.4" lengthAdjust="spacingAndGlyphs">a</text>
<text x="608.2" y="29.8" font-size="38" font-weight="bold" stroke="#000" stroke-width="1.0" stroke-linejoin="round" textLength="26.6" lengthAdjust="spacingAndGlyphs">b</text>
<text x="1439.3" y="29.6" font-size="38" font-weight="bold" stroke="#000" stroke-width="1.0" stroke-linejoin="round" textLength="22.8" lengthAdjust="spacingAndGlyphs">c</text>
<text x="143.3" y="519.8" font-size="38" font-weight="bold" stroke="#000" stroke-width="1.0" stroke-linejoin="round" textLength="27.6" lengthAdjust="spacingAndGlyphs">d</text>
<text x="1198.1" y="519.6" font-size="38" font-weight="bold" stroke="#000" stroke-width="1.0" stroke-linejoin="round" textLength="25.3" lengthAdjust="spacingAndGlyphs">e</text>
<text x="303.7" y="1035.5" font-size="38" font-weight="bold" stroke="#000" stroke-width="1.0" stroke-linejoin="round" textLength="12.4" lengthAdjust="spacingAndGlyphs">f</text>
<text x="747.3" y="1036.3" font-size="38" font-weight="bold" stroke="#000" stroke-width="1.0" stroke-linejoin="round" textLength="27.6" lengthAdjust="spacingAndGlyphs">g</text>
<text x="1155.1" y="1036.8" font-size="38" font-weight="bold" stroke="#000" stroke-width="1.0" stroke-linejoin="round" textLength="27.1" lengthAdjust="spacingAndGlyphs">h</text>
<rect x="38.5" y="41.3" width="362.5" height="362.2" fill="none" stroke="#222" stroke-width="1.2"/>
<rect x="649.4" y="47" width="356.3" height="356.4" fill="none" stroke="#222" stroke-width="1.2"/>
<rect x="1024.5" y="49.4" width="354.5" height="354.2" fill="none" stroke="#222" stroke-width="1.2"/>
<rect x="179.4" y="558.4" width="365" height="364.3" fill="none" stroke="#222" stroke-width="1.2"/>
<rect x="564.4" y="561.7" width="362.5" height="362.8" fill="none" stroke="#222" stroke-width="1.2"/>
<text transform="translate(24.5 268.2) rotate(-90)" font-size="25.5" textLength="90.9" lengthAdjust="spacingAndGlyphs">UMAP2</text>
<text x="172.9" y="439.9" font-size="25.5" textLength="86.1" lengthAdjust="spacingAndGlyphs">UMAP1</text>
<circle cx="422.9" cy="66.4" r="8.9" fill="#c5a3d0"/>
<text x="438.5" y="77.1" font-size="25.5" textLength="59.0" lengthAdjust="spacingAndGlyphs">CMP</text>
<circle cx="422.9" cy="97.3" r="8.9" fill="#ff6600"/>
<text x="438.5" y="107.6" font-size="25.5" textLength="92.8" lengthAdjust="spacingAndGlyphs">cMEMP</text>
<circle cx="422.9" cy="128.2" r="8.9" fill="#7b3530"/>
<text x="438.5" y="138.2" font-size="25.5" textLength="70.4" lengthAdjust="spacingAndGlyphs">cMPP</text>
<circle cx="422.9" cy="159.0" r="8.9" fill="#fb8089"/>
<text x="438.5" y="168.8" font-size="25.5" textLength="40.5" lengthAdjust="spacingAndGlyphs">Ery</text>
<circle cx="422.9" cy="189.9" r="8.9" fill="#2f5aa0"/>
<text x="438.5" y="199.3" font-size="25.5" textLength="40.5" lengthAdjust="spacingAndGlyphs">MK</text>
<circle cx="422.9" cy="220.8" r="8.9" fill="#d8e06f"/>
<text x="438.5" y="229.8" font-size="25.5" textLength="103.6" lengthAdjust="spacingAndGlyphs">Eo/Baso</text>
<circle cx="422.9" cy="251.7" r="8.9" fill="#dc55a8"/>
<text x="438.5" y="260.4" font-size="25.5" textLength="56.6" lengthAdjust="spacingAndGlyphs">HSC</text>
<circle cx="422.9" cy="282.6" r="8.9" fill="#2d8a27"/>
<text x="438.5" y="290.9" font-size="25.5" textLength="79.8" lengthAdjust="spacingAndGlyphs">Macro</text>
<circle cx="422.9" cy="313.4" r="8.9" fill="#aebfdd"/>
<text x="438.5" y="321.5" font-size="25.5" textLength="60.5" lengthAdjust="spacingAndGlyphs">Mast</text>
<circle cx="422.9" cy="344.3" r="8.9" fill="#fdae57"/>
<text x="438.5" y="352.0" font-size="25.5" textLength="77.8" lengthAdjust="spacingAndGlyphs">MEMP</text>
<circle cx="422.9" cy="375.2" r="8.9" fill="#a0dcd0"/>
<text x="438.5" y="382.6" font-size="25.5" textLength="54.8" lengthAdjust="spacingAndGlyphs">MEP</text>
<text transform="translate(634 268.2) rotate(-90)" font-size="25.5" textLength="90.9" lengthAdjust="spacingAndGlyphs">UMAP2</text>
<text x="784.0" y="439.9" font-size="25.5" textLength="86.5" lengthAdjust="spacingAndGlyphs">UMAP1</text>
<circle cx="895.9" cy="374.1" r="8.9" fill="#8b1a12"/><text x="914.6" y="383" font-size="25.5" textLength="79.9" lengthAdjust="spacingAndGlyphs">AAVS1</text>
<circle cx="1253.4" cy="374.1" r="8.9" fill="#8b1a12"/><text x="1272.1" y="383" font-size="25.5" textLength="103.4" lengthAdjust="spacingAndGlyphs">MECOM</text>
<path d="M1580.9 67.8V404.8M1567.9 404.8H1806M1567.9 134.9H1580.9M1567.9 269.5H1580.9" stroke="#555" stroke-width="1.3" fill="none"/>
<rect x="1614.4" y="138.8" width="61.3" height="266" fill="#f7cf72" stroke="#000" stroke-width="3"/>
<rect x="1711.2" y="292.6" width="61.3" height="112.2" fill="#a8232d" stroke="#000" stroke-width="3"/>
<circle cx="1645" cy="123.2" r="5.2"/>
<circle cx="1645" cy="151.6" r="5.2"/>
<circle cx="1741.6" cy="272.5" r="5.2"/>
<circle cx="1741.6" cy="310.6" r="5.2"/>
<text x="1488.6" y="143.8" font-size="21.5" textLength="65.1" lengthAdjust="spacingAndGlyphs">2,000</text>
<text x="1490.7" y="278.1" font-size="21.5" textLength="63.0" lengthAdjust="spacingAndGlyphs">1,000</text>
<text x="1541.2" y="411.8" font-size="21.5">0</text>
<text x="1600.5" y="440.6" font-size="25.5" textLength="78.4" lengthAdjust="spacingAndGlyphs">AAVS1</text>
<text x="1699.4" y="440.6" font-size="25.5" textLength="101.3" lengthAdjust="spacingAndGlyphs">MECOM</text>
<text transform="translate(1463.3 363.0) rotate(-90)" font-size="25.5" textLength="254.8" lengthAdjust="spacingAndGlyphs">Cells in HSC cluster</text>
<text transform="translate(168.2 788.6) rotate(-90)" font-size="25.5" textLength="90.2" lengthAdjust="spacingAndGlyphs">UMAP2</text>
<text x="318.5" y="956.6" font-size="25.5" textLength="87.6" lengthAdjust="spacingAndGlyphs">UMAP1</text>
<text x="322.4" y="547.7" font-size="25.5" textLength="80.4" lengthAdjust="spacingAndGlyphs">AAVS1</text>
<text x="694.3" y="550" font-size="25.5" textLength="103.0" lengthAdjust="spacingAndGlyphs">MECOM</text>
<text x="871.4" y="956.7" font-size="25.5" textLength="183.3" lengthAdjust="spacingAndGlyphs">HSC signature</text>
<rect x="944.4" y="562.2" width="36" height="362.5" fill="url(#cb1)" stroke="#444" stroke-width="1"/>
<path d="M980.4 562.5h6.6M980.4 609.7h6.6M980.4 658h6.6M980.4 706.5h6.6M980.4 754.5h6.6M980.4 803h6.6M980.4 851.2h6.6M980.4 899.9h6.6" stroke="#555" stroke-width="1.3" fill="none"/>
<text x="1000.6" y="571.5" font-size="26">1</text>
<text x="999.4" y="618.7" font-size="26" textLength="42.8" lengthAdjust="spacingAndGlyphs">0.8</text>
<text x="999.4" y="667" font-size="26" textLength="42.8" lengthAdjust="spacingAndGlyphs">0.6</text>
<text x="999.4" y="715.5" font-size="26" textLength="43.3" lengthAdjust="spacingAndGlyphs">0.4</text>
<text x="999.4" y="763.5" font-size="26" textLength="41.8" lengthAdjust="spacingAndGlyphs">0.2</text>
<text x="1000.6" y="812" font-size="26">0</text>
<text x="999.4" y="860.2" font-size="26" textLength="55.6" lengthAdjust="spacingAndGlyphs">−0.2</text>
<text x="999.4" y="908.9" font-size="26" textLength="57.8" lengthAdjust="spacingAndGlyphs">−0.4</text>
<path d="M1342.8 595.4V930.3M1329.7 930.3H1566M1329.7 662.7H1342.8M1329.7 796H1342.8" stroke="#222" stroke-width="1.1" fill="none"/>
<rect x="1375.8" y="685.6" width="60.5" height="244.7" fill="#f7cf72" stroke="#000" stroke-width="3"/>
<rect x="1471.8" y="820.4" width="60.7" height="109.9" fill="#a8232d" stroke="#000" stroke-width="3"/>
<circle cx="1406.3" cy="664.6" r="5.2"/>
<circle cx="1406.3" cy="702.8" r="5.2"/>
<circle cx="1502" cy="800.4" r="5.2"/>
<circle cx="1502" cy="838" r="5.2"/>
<text x="1250.5" y="670.8" font-size="21.5" textLength="67.7" lengthAdjust="spacingAndGlyphs">4,000</text>
<text x="1251.3" y="805.9" font-size="21.5" textLength="66.9" lengthAdjust="spacingAndGlyphs">2,000</text>
<text x="1304.5" y="941.5" font-size="21.5">0</text>
<text x="1361.9" y="962" font-size="25.5" textLength="79.7" lengthAdjust="spacingAndGlyphs">AAVS1</text>
<text x="1458.7" y="962" font-size="25.5" textLength="102.0" lengthAdjust="spacingAndGlyphs">MECOM</text>
<text transform="translate(1222.8 920.8) rotate(-90)" font-size="25.5" textLength="316.0" lengthAdjust="spacingAndGlyphs">Cells with HSC signature</text>
<text x="505.1" y="1062.2" font-size="25.5" textLength="183.0" lengthAdjust="spacingAndGlyphs">HSC signature</text>
<rect x="545.6" y="1075.6" width="23.8" height="174.1" fill="url(#cb2)" stroke="#666" stroke-width="1.1"/>
<text x="581.1" y="1100.6" font-size="21">1</text>
<text x="579.9" y="1148.4" font-size="21" textLength="36.6" lengthAdjust="spacingAndGlyphs">0.5</text>
<text x="581.1" y="1196.3" font-size="21">0</text>
<text x="579.9" y="1244.5" font-size="21" textLength="48.8" lengthAdjust="spacingAndGlyphs">−0.5</text>
<path d="M343 1304V1498.3H536" stroke="#3e4d63" stroke-width="3.4" fill="none" stroke-linejoin="miter"/>
<path d="M343 1292.5L336.2 1308.6L343 1305.2L349.8 1308.6zM548 1498.3L531.5 1491.4L534.9 1498.3L531.5 1505.3z" fill="#3e4d63"/>
<text transform="translate(326 1489.4) rotate(-90)" font-size="25.5" textLength="89.9" lengthAdjust="spacingAndGlyphs">UMAP2</text>
<text x="348.3" y="1536.8" font-size="25.5" textLength="86.4" lengthAdjust="spacingAndGlyphs">UMAP1</text>
<circle cx="915" cy="1097.3" r="8.8" fill="#808080"/><text x="932.7" y="1106" font-size="25.5" textLength="82.3" lengthAdjust="spacingAndGlyphs">AAVS1</text>
<circle cx="915" cy="1137.2" r="8.8" fill="#ff8489"/><text x="933.8" y="1147.5" font-size="25.5" textLength="101.6" lengthAdjust="spacingAndGlyphs">MECOM</text>
<circle cx="1387.7" cy="1098.4" r="8.7" fill="#b8b8b8"/><text x="1406.6" y="1106" font-size="25.5" textLength="46.3" lengthAdjust="spacingAndGlyphs">10x</text>
<circle cx="1387.7" cy="1139" r="8.7" fill="#e03323"/><text x="1407.5" y="1147.5" font-size="25.5" textLength="82.2" lengthAdjust="spacingAndGlyphs">AAVS1</text>
<circle cx="1387.7" cy="1178.8" r="8.7" fill="#000"/><text x="1408.6" y="1188.5" font-size="25.5" textLength="101.6" lengthAdjust="spacingAndGlyphs">MECOM</text><text x="1509.1" y="1175.7" font-size="16.5" textLength="32.4" lengthAdjust="spacingAndGlyphs">+/Δ</text>
</svg>
</body></html>
